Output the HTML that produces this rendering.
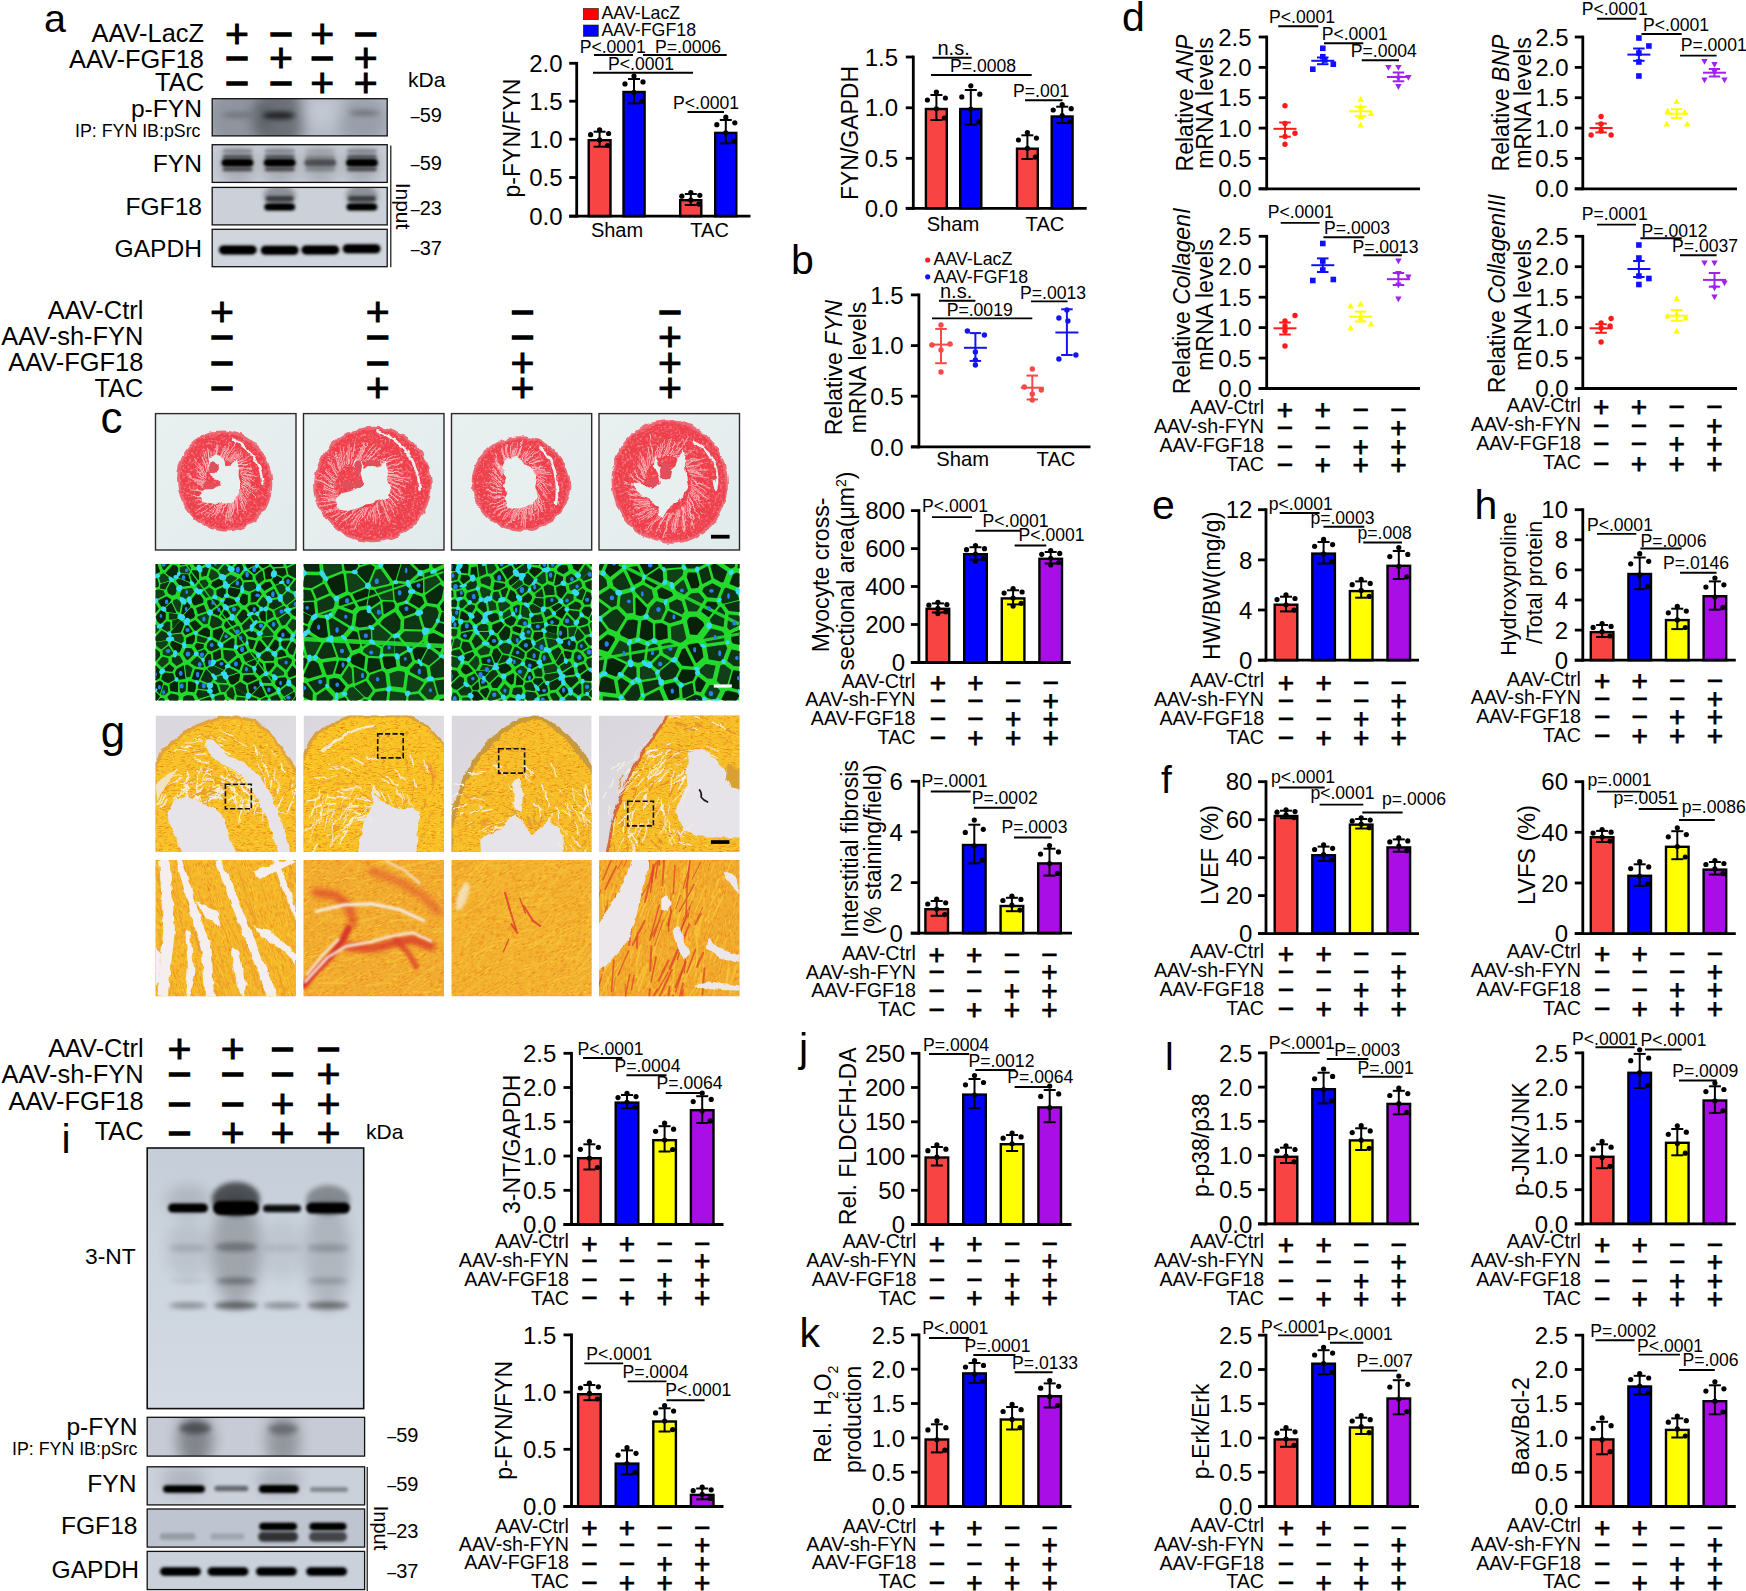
<!DOCTYPE html>
<html lang="en"><head><meta charset="utf-8"><title>Figure</title>
<style>html,body{margin:0;padding:0;background:#fff;overflow:hidden}svg{display:block}</style></head>
<body>
<svg width="1746" height="1591" viewBox="0 0 1746 1591" font-family="'Liberation Sans', Arial, sans-serif" fill="#000">
<defs>
<filter id="b1" x="-50%" y="-200%" width="200%" height="500%"><feGaussianBlur stdDeviation="0.8"/></filter>
<filter id="b2" x="-50%" y="-200%" width="200%" height="500%"><feGaussianBlur stdDeviation="1.6"/></filter>
<filter id="b3" x="-50%" y="-200%" width="200%" height="500%"><feGaussianBlur stdDeviation="2.6"/></filter>
<filter id="b6" x="-50%" y="-200%" width="200%" height="500%"><feGaussianBlur stdDeviation="7"/></filter>
<linearGradient id="gbig" x1="0" y1="0" x2="0" y2="1"><stop offset="0" stop-color="#c5cdd8"/><stop offset="0.4" stop-color="#ccd4de"/><stop offset="1" stop-color="#d3dae3"/></linearGradient>
<filter id="rough" x="-5%" y="-5%" width="110%" height="110%"><feTurbulence type="fractalNoise" baseFrequency="0.11" numOctaves="2" seed="4" result="n"/><feDisplacementMap in="SourceGraphic" in2="n" scale="5" xChannelSelector="R" yChannelSelector="G"/></filter>
<filter id="grainO" x="0" y="0" width="100%" height="100%" color-interpolation-filters="sRGB"><feTurbulence type="fractalNoise" baseFrequency="0.22 0.95" numOctaves="2" seed="2" result="t"/><feColorMatrix in="t" type="matrix" values="0 0 0 0 0.92  0 0 0 0 0.47  0 0 0 0 0.08  0 0 0 2.6 -1.32" result="spk"/><feColorMatrix in="t" type="matrix" values="0 0 0 0 1  0 0 0 0 0.9  0 0 0 0 0.2  0 -3.2 0 0 1.3" result="hl"/><feMerge result="m"><feMergeNode in="SourceGraphic"/><feMergeNode in="hl"/><feMergeNode in="spk"/></feMerge><feComposite in="m" in2="SourceGraphic" operator="in"/></filter>
<filter id="grainH" x="0" y="0" width="100%" height="100%" color-interpolation-filters="sRGB"><feTurbulence type="fractalNoise" baseFrequency="0.5" numOctaves="2" seed="7" result="t"/><feColorMatrix in="t" type="matrix" values="0 0 0 0 1  0 0 0 0 0.75  0 0 0 0 0.78  0 0 0 2.6 -1.36" result="spk"/><feMerge result="m"><feMergeNode in="SourceGraphic"/><feMergeNode in="spk"/></feMerge><feComposite in="m" in2="SourceGraphic" operator="in"/></filter>
<linearGradient id="lavg" x1="0" y1="0" x2="1" y2="1"><stop offset="0" stop-color="#d9d7dd"/><stop offset="1" stop-color="#e2e0e4"/></linearGradient>
</defs>
<rect x="0.0" y="0.0" width="1746.0" height="1591.0" fill="#fff"/>
<linearGradient id="hbg0" x1="0" y1="0" x2="1" y2="1"><stop offset="0" stop-color="#e9f0f0"/><stop offset="1" stop-color="#e2ebec"/></linearGradient>
<rect x="155.5" y="413.6" width="140.5" height="136.4" fill="url(#hbg0)"/>
<clipPath id="hc0"><rect x="155.5" y="413.6" width="140.5" height="136.4"/></clipPath>
<g clip-path="url(#hc0)">
<g filter="url(#rough)">
<ellipse cx="224.7" cy="481.0" rx="47.3" ry="50.7" fill="#ec6a74" transform="rotate(-18 224.7 481.0)"/>
<ellipse cx="224.7" cy="481.0" rx="45.1" ry="48.5" fill="#ee3f4c" filter="url(#grainH)" transform="rotate(-18 224.7 481.0)"/>
<path d="M242.5 480.9l11.7 8.6M242.5 482.8l11.5 10.0M242.3 485.0l5.7 8.8M242.2 485.3l12.6 12.5M241.8 487.4l6.2 10.4M240.8 490.5l6.7 13.0M240.3 491.6l6.0 13.5M239.8 492.7l3.1 11.2M239.1 494.1l7.0 17.7M238.3 495.2l5.3 17.0M237.2 496.6l0.3 10.9M236.1 497.9l2.0 16.3M235.6 498.3l-0.9 10.5M233.6 500.0l-0.7 15.1M232.6 500.7l-0.5 19.6M231.4 501.4l-1.7 20.0M230.6 501.8l-2.6 18.5M229.2 502.3l-3.8 19.8M227.0 503.0l-5.2 9.5M227.0 503.0l-5.3 10.9M224.0 503.3l-7.2 12.2M223.3 503.3l-7.3 10.4M222.1 503.3l-8.1 10.7M220.9 503.2l-9.4 12.3M219.1 502.8l-11.9 14.4M217.6 502.3l-13.0 13.5M215.9 501.5l-14.4 12.6M215.0 501.0l-9.6 4.5M213.4 500.0l-15.7 9.8M212.2 499.0l-13.3 5.4M211.3 498.3l-10.6 2.2M210.1 497.0l-13.8 3.2M209.9 496.7l-9.5 0.0M208.2 494.5l-18.0 2.6M208.3 494.5l-16.2 1.8M207.1 492.6l-10.0 -2.3M206.6 491.4l-15.9 -1.5M205.6 488.7l-8.4 -4.6M205.3 487.7l-8.2 -5.1M204.9 485.9l-10.7 -6.0M204.6 483.9l-16.6 -8.1M204.6 483.1l-16.5 -8.9M204.5 481.9l-7.1 -7.5M204.6 479.6l-5.9 -8.1M204.6 478.9l-9.2 -9.9M205.0 476.4l-5.9 -9.7M205.1 476.0l-12.0 -13.8M205.7 473.9l-11.4 -15.7M206.7 471.2l-5.2 -12.8M207.0 470.7l-5.9 -14.1M208.0 468.9l-5.2 -15.4M208.7 467.8l-4.5 -15.9M210.2 465.9l-2.3 -15.3M210.5 465.6l-3.0 -17.5M211.3 464.8l-0.4 -13.3M213.6 462.9l0.7 -15.7M214.1 462.5l2.5 -10.0M215.1 461.9l1.8 -16.2M215.7 461.6l2.3 -16.5M218.1 460.5l4.4 -9.6M219.5 460.1l5.2 -13.9M221.0 459.8l6.0 -12.1M222.5 459.7l7.5 -15.8M222.6 459.7l6.3 -8.1M225.3 459.7l10.2 -16.8M225.9 459.8l8.8 -11.0M227.9 460.2l9.2 -8.5M228.9 460.5l9.5 -7.8M230.2 461.1l11.6 -9.7M231.4 461.6l10.8 -6.8M233.4 462.9l8.9 -2.4M234.3 463.5l14.4 -7.2M235.1 464.2l10.6 -2.7M236.8 465.9l11.0 -1.3M237.0 466.1l12.7 -2.3M238.6 468.2l9.8 1.1M239.0 468.9l11.9 0.5M240.3 471.2l12.7 2.0M240.9 472.7l9.9 3.6M241.1 473.2l14.6 3.1M241.9 475.9l12.2 5.3M241.9 476.1l8.8 5.4M242.3 478.3l9.0 6.5M242.5 480.5l14.7 9.0" fill="none" stroke="#f8ccd0" stroke-width="0.9" opacity="0.85" stroke-linecap="round"/>
<path d="M 234.2 439.8 Q 260.0 454.4 262.5 483.6" fill="none" stroke="#e8f0f0" stroke-width="2.6" stroke-linecap="round"/>
<polygon points="209.3,457.0 218.7,455.3 223.9,459.5 225.6,466.4 230.8,464.7 235.9,459.5 239.3,464.7 238.5,475.0 241.1,483.6 239.3,493.9 234.2,500.8 225.6,503.4 218.7,502.5 210.1,504.2 201.5,501.6 199.8,493.9 206.7,488.8 215.3,486.2 218.7,480.2 211.9,476.7 208.4,468.1" fill="#e8efef"/>
<ellipse cx="213.6" cy="467.3" rx="4.2" ry="7.0" fill="#e0505c"/>
<ellipse cx="208.4" cy="485.3" rx="5.5" ry="4.0" fill="#e0505c"/>
<ellipse cx="217.9" cy="483.6" rx="2.5" ry="2.5" fill="#e0505c"/>
</g>
</g>
<rect x="155.5" y="413.6" width="140.5" height="136.4" fill="none" stroke="#2a2a2a" stroke-width="1.4"/>
<linearGradient id="hbg1" x1="0" y1="0" x2="1" y2="1"><stop offset="0" stop-color="#e9f0f0"/><stop offset="1" stop-color="#e2ebec"/></linearGradient>
<rect x="303.5" y="413.6" width="140.5" height="136.4" fill="url(#hbg1)"/>
<clipPath id="hc1"><rect x="303.5" y="413.6" width="140.5" height="136.4"/></clipPath>
<g clip-path="url(#hc1)">
<g filter="url(#rough)">
<ellipse cx="372.9" cy="484.5" rx="58.8" ry="57.6" fill="#ec6a74" transform="rotate(-10 372.9 484.5)"/>
<ellipse cx="372.9" cy="484.5" rx="56.6" ry="55.4" fill="#ee3f4c" filter="url(#grainH)" transform="rotate(-10 372.9 484.5)"/>
<path d="M388.1 484.2l12.8 8.5M388.0 487.5l16.1 11.6M387.7 489.3l11.3 11.1M387.6 489.4l10.5 10.9M386.7 492.7l8.5 12.0M386.4 493.3l9.7 13.2M385.6 495.1l8.4 13.8M384.0 497.7l4.0 12.4M384.2 497.4l11.9 19.3M381.7 500.5l8.6 21.3M381.1 501.0l7.6 21.1M378.7 503.1l0.1 13.6M377.6 503.9l2.6 20.7M376.1 504.8l-0.4 17.0M375.3 505.3l-1.8 14.9M373.7 506.1l-3.8 11.4M371.0 507.2l-4.9 13.7M368.5 507.9l-6.4 10.2M366.4 508.3l-7.9 17.7M364.3 508.6l-9.8 19.6M362.4 508.7l-10.4 15.1M362.8 508.7l-10.7 17.2M360.4 508.7l-10.6 11.0M357.1 508.4l-13.3 12.3M355.8 508.2l-16.6 16.3M353.4 507.6l-13.8 8.5M352.4 507.3l-18.2 13.4M350.0 506.4l-18.9 11.0M348.5 505.7l-14.0 4.6M346.4 504.6l-20.9 8.6M345.6 504.0l-21.0 7.6M342.6 501.7l-22.2 4.8M341.4 500.6l-12.5 -0.9M340.5 499.6l-23.4 2.7M340.2 499.2l-15.8 -0.5M338.8 497.3l-19.1 -0.9M337.6 495.5l-18.2 -2.6M336.5 493.1l-11.2 -4.9M336.5 493.0l-13.0 -4.8M335.8 491.2l-11.7 -5.8M335.0 487.4l-21.4 -8.8M335.1 487.8l-16.6 -7.9M334.9 485.4l-13.1 -8.8M334.9 483.6l-16.7 -11.0M335.2 481.3l-11.8 -11.0M335.4 480.4l-10.9 -11.1M335.8 478.9l-12.8 -13.2M337.0 475.8l-8.8 -13.3M337.1 475.6l-6.4 -11.8M338.3 473.4l-9.3 -16.0M340.0 471.1l-5.1 -14.7M341.2 469.6l-5.8 -17.5M341.9 469.0l-3.2 -15.1M343.4 467.6l-4.0 -18.9M344.8 466.5l-2.5 -19.0M346.4 465.4l1.3 -13.8M348.3 464.4l0.9 -19.1M348.9 464.1l2.4 -15.8M351.6 463.0l3.5 -21.1M354.8 462.0l6.5 -14.2M356.6 461.7l8.0 -18.9M356.9 461.6l7.9 -14.8M358.5 461.4l9.5 -18.7M361.9 461.3l12.4 -18.3M364.3 461.4l13.1 -14.7M366.1 461.6l13.6 -12.7M366.4 461.7l13.9 -12.8M368.1 462.0l11.8 -7.1M371.9 463.1l12.1 -4.4M372.1 463.2l12.6 -4.9M375.7 464.9l14.1 -3.8M375.4 464.8l20.7 -9.7M377.3 465.9l21.5 -8.1M379.9 467.9l22.4 -5.5M381.8 469.6l19.7 -2.0M382.8 470.8l12.8 1.6M383.9 472.2l19.0 0.6M384.8 473.6l13.4 3.0M385.7 475.2l24.5 2.1M385.8 475.4l16.1 3.5M387.0 478.1l22.5 5.0M387.3 479.1l13.1 5.9M387.7 480.9l18.7 7.2M388.1 483.8l14.5 8.6" fill="none" stroke="#f8ccd0" stroke-width="0.9" opacity="0.85" stroke-linecap="round"/>
<path d="M 378.5 431.2 Q 418.0 447.5 419.8 490.5" fill="none" stroke="#e8f0f0" stroke-width="2.6" stroke-linecap="round"/>
<polygon points="354.5,459.5 361.3,461.3 364.8,469.9 371.6,464.7 378.5,466.4 385.4,461.3 388.0,469.9 387.1,480.2 390.5,488.8 388.8,497.3 378.5,500.8 366.5,504.2 356.2,508.5 347.6,511.1 339.0,509.4 335.6,499.1 342.4,492.2 356.2,488.8 363.1,481.9 361.3,475.0 356.2,471.6 352.7,466.4" fill="#e8efef"/>
<ellipse cx="357.9" cy="467.3" rx="4.0" ry="7.0" fill="#e0505c"/>
<ellipse cx="373.4" cy="463.0" rx="7.0" ry="3.5" fill="#e0505c"/>
<ellipse cx="347.6" cy="485.3" rx="6.0" ry="4.5" fill="#e0505c"/>
<ellipse cx="358.8" cy="483.6" rx="4.5" ry="4.5" fill="#e0505c"/>
</g>
</g>
<rect x="303.5" y="413.6" width="140.5" height="136.4" fill="none" stroke="#2a2a2a" stroke-width="1.4"/>
<linearGradient id="hbg2" x1="0" y1="0" x2="1" y2="1"><stop offset="0" stop-color="#e9f0f0"/><stop offset="1" stop-color="#e2ebec"/></linearGradient>
<rect x="451.5" y="413.6" width="140.2" height="136.4" fill="url(#hbg2)"/>
<clipPath id="hc2"><rect x="451.5" y="413.6" width="140.2" height="136.4"/></clipPath>
<g clip-path="url(#hc2)">
<g filter="url(#rough)">
<ellipse cx="521.0" cy="483.6" rx="49.4" ry="47.2" fill="#ec6a74" transform="rotate(12 521.0 483.6)"/>
<ellipse cx="521.0" cy="483.6" rx="47.2" ry="45.0" fill="#ee3f4c" filter="url(#grainH)" transform="rotate(12 521.0 483.6)"/>
<path d="M537.0 483.3l9.6 9.1M537.0 485.0l9.3 10.1M536.9 486.2l9.6 11.0M536.4 490.0l7.4 12.4M536.1 491.2l4.9 11.2M535.7 492.7l8.8 16.1M535.1 494.3l6.2 14.9M534.6 495.4l6.4 16.4M533.5 497.7l2.0 12.5M533.6 497.6l5.6 18.3M531.7 500.5l2.3 16.7M531.4 500.9l2.9 19.0M530.7 501.7l0.3 14.1M529.6 502.8l0.6 17.8M528.3 503.9l-1.6 13.6M526.5 505.2l-1.5 22.1M525.9 505.5l-2.4 19.0M524.5 506.2l-3.6 20.5M522.9 506.8l-4.8 12.6M522.2 507.0l-5.0 9.3M520.4 507.3l-6.3 13.0M519.6 507.3l-6.7 12.4M518.0 507.3l-8.7 16.5M516.9 507.2l-10.1 18.4M515.0 506.8l-9.8 12.4M513.7 506.3l-11.7 14.0M511.9 505.4l-11.2 9.5M511.2 505.0l-12.4 10.4M509.4 503.7l-11.1 5.7M508.5 502.9l-15.4 9.3M507.8 502.2l-10.2 2.8M507.1 501.4l-14.1 5.6M505.6 499.4l-16.5 4.7M504.5 497.7l-10.5 -0.7M504.4 497.6l-10.6 -0.7M503.7 496.1l-14.6 -0.1M502.5 493.1l-16.3 -2.4M502.4 492.8l-15.9 -2.8M501.9 491.0l-11.5 -4.9M501.3 488.4l-7.8 -6.4M501.3 488.1l-14.8 -7.1M501.0 485.9l-9.8 -8.0M501.0 483.4l-12.0 -10.3M501.0 483.0l-8.8 -9.4M501.1 480.2l-9.2 -11.4M501.3 479.0l-9.6 -12.5M502.0 475.6l-6.5 -12.9M502.2 474.8l-4.1 -11.2M502.6 473.8l-7.8 -15.7M503.0 472.5l-8.6 -18.2M504.5 469.4l-1.7 -12.0M505.4 468.0l-2.4 -15.0M506.1 467.0l-3.7 -19.3M506.5 466.5l-2.9 -18.5M508.0 464.8l-1.8 -20.3M508.5 464.3l-1.1 -19.8M510.7 462.5l1.3 -18.8M511.2 462.2l2.8 -11.8M512.4 461.5l3.1 -14.5M514.1 460.8l4.1 -18.1M515.1 460.4l4.8 -11.6M516.6 460.1l6.0 -16.6M517.1 460.0l6.7 -19.6M519.3 459.9l6.5 -9.1M521.1 460.0l7.2 -8.4M521.4 460.1l9.4 -15.0M523.2 460.5l9.8 -11.8M524.6 461.0l10.0 -9.7M525.3 461.3l8.7 -6.3M526.1 461.8l12.1 -11.0M528.4 463.3l12.0 -7.1M529.5 464.3l11.0 -4.5M529.9 464.7l11.3 -4.3M531.8 466.8l8.8 -0.1M532.2 467.5l10.5 -0.8M533.4 469.3l11.5 0.0M533.7 469.9l11.9 0.3M534.7 471.8l15.2 0.6M535.1 473.0l15.9 1.5M535.5 474.1l10.4 3.7M536.0 475.7l8.6 4.9M536.7 479.0l13.9 6.9M536.8 479.3l8.7 6.7M537.0 481.6l13.3 8.9" fill="none" stroke="#f8ccd0" stroke-width="0.9" opacity="0.85" stroke-linecap="round"/>
<path d="M 539.6 448.4 Q 561.1 464.7 556.0 504.2" fill="none" stroke="#e8f0f0" stroke-width="2.6" stroke-linecap="round"/>
<polygon points="506.1,457.8 516.4,457.0 521.6,459.5 526.8,466.4 533.6,469.0 537.1,476.7 535.3,487.0 537.9,497.3 531.9,504.2 523.3,505.9 514.7,509.4 507.9,507.7 504.4,499.1 507.9,492.2 502.7,485.3 506.1,476.7 501.0,468.1" fill="#e8efef"/>
</g>
</g>
<rect x="451.5" y="413.6" width="140.2" height="136.4" fill="none" stroke="#2a2a2a" stroke-width="1.4"/>
<linearGradient id="hbg3" x1="0" y1="0" x2="1" y2="1"><stop offset="0" stop-color="#e9f0f0"/><stop offset="1" stop-color="#e2ebec"/></linearGradient>
<rect x="599.0" y="413.6" width="140.5" height="136.4" fill="url(#hbg3)"/>
<clipPath id="hc3"><rect x="599.0" y="413.6" width="140.5" height="136.4"/></clipPath>
<g clip-path="url(#hc3)">
<g filter="url(#rough)">
<ellipse cx="669.7" cy="481.9" rx="58.0" ry="61.9" fill="#ec6a74" transform="rotate(-12 669.7 481.9)"/>
<ellipse cx="669.7" cy="481.9" rx="55.8" ry="59.7" fill="#ee3f4c" filter="url(#grainH)" transform="rotate(-12 669.7 481.9)"/>
<path d="M691.2 485.9l16.5 13.1M691.2 487.4l8.8 11.1M691.0 489.0l8.8 11.9M690.6 491.4l12.0 15.4M690.4 492.6l8.0 13.6M689.4 496.2l4.3 12.8M688.6 498.1l11.5 21.7M687.5 500.3l5.5 17.3M687.1 501.2l6.6 19.8M685.9 503.1l8.1 25.2M684.6 504.8l2.0 17.2M683.0 506.6l1.7 19.8M682.1 507.5l2.1 23.2M681.8 507.7l2.0 23.9M679.0 509.9l-1.7 19.9M677.8 510.7l-2.8 19.3M676.9 511.2l-3.3 20.2M675.5 511.8l-4.3 19.5M672.4 512.9l-6.5 17.8M670.9 513.2l-8.1 24.9M668.3 513.5l-8.1 11.6M666.8 513.5l-10.4 18.0M666.8 513.5l-9.5 14.2M664.6 513.3l-9.3 9.1M662.1 512.8l-14.9 19.2M660.9 512.4l-15.4 17.5M658.4 511.3l-11.4 6.5M656.4 510.2l-15.8 10.4M654.8 509.1l-17.5 10.0M653.7 508.2l-14.3 5.2M652.1 506.7l-20.6 8.9M650.7 505.2l-15.9 3.1M649.7 503.8l-16.5 2.2M649.5 503.6l-11.6 -0.9M648.5 502.0l-13.3 -1.0M647.3 500.1l-16.7 -1.0M645.9 496.9l-17.0 -3.5M645.5 495.6l-18.2 -4.2M644.9 493.9l-15.7 -5.8M644.2 490.6l-14.2 -7.9M644.1 490.1l-20.3 -8.7M643.8 486.5l-12.7 -10.2M643.8 485.4l-14.3 -11.4M643.8 482.6l-9.7 -11.5M643.9 482.2l-9.4 -11.6M644.5 477.9l-7.1 -12.7M644.8 476.7l-7.2 -13.5M645.1 475.4l-6.3 -13.7M646.0 472.9l-5.2 -14.3M646.4 471.9l-4.2 -13.9M647.4 469.7l-6.4 -18.5M648.3 468.2l-1.7 -13.5M650.0 465.7l-3.0 -18.5M651.7 463.7l0.6 -14.0M652.5 462.9l-0.7 -18.7M653.2 462.2l-2.9 -26.6M655.1 460.7l2.4 -14.3M657.1 459.4l3.4 -15.0M659.1 458.3l4.3 -17.3M659.7 458.1l5.0 -12.7M662.7 457.1l6.5 -15.2M664.6 456.7l7.8 -17.3M666.8 456.5l8.6 -14.0M666.9 456.5l8.6 -13.4M670.0 456.7l11.6 -17.1M670.7 456.8l9.4 -9.2M673.2 457.3l15.4 -19.5M674.7 457.8l10.0 -6.0M675.1 458.0l10.7 -6.8M677.1 458.9l10.8 -5.0M678.4 459.7l16.2 -11.1M681.7 462.1l13.0 -3.6M683.2 463.6l16.1 -4.7M684.2 464.7l21.0 -6.9M685.6 466.6l11.5 1.1M685.8 466.8l17.9 -2.4M687.7 470.0l11.9 2.9M687.8 470.2l21.0 -0.3M688.5 471.7l15.3 2.8M689.5 474.1l18.6 4.0M690.5 477.8l11.7 7.0M690.8 479.3l18.3 8.2M691.1 481.7l15.5 9.6M691.2 484.1l12.4 10.5" fill="none" stroke="#f8ccd0" stroke-width="0.9" opacity="0.85" stroke-linecap="round"/>
<path d="M 695.1 442.4 Q 722.6 459.5 715.8 490.5 L 714.0 480.2" fill="none" stroke="#e8f0f0" stroke-width="2.6" stroke-linecap="round"/>
<polygon points="683.1,449.2 685.7,452.7 684.8,464.7 686.5,476.7 688.3,487.0 683.1,497.3 674.5,504.2 667.6,509.4 662.5,518.0 657.3,514.5 659.1,505.9 652.2,501.6 643.6,497.3 635.0,488.8 630.7,481.9 640.2,483.6 652.2,488.8 660.8,483.6 659.1,475.0 653.9,466.4 654.8,456.1 659.1,464.7 667.6,473.3 676.2,466.4 679.7,457.8" fill="#e8efef"/>
<ellipse cx="665.9" cy="471.6" rx="6.0" ry="8.0" fill="#e0505c"/>
<ellipse cx="652.2" cy="481.9" rx="7.0" ry="4.0" fill="#e0505c"/>
</g>
</g>
<rect x="599.0" y="413.6" width="140.5" height="136.4" fill="none" stroke="#2a2a2a" stroke-width="1.4"/>
<rect x="711.0" y="534.8" width="18.6" height="3.8" fill="#000"/>
<clipPath id="gc0"><rect x="155.5" y="564.0" width="140.5" height="136.5"/></clipPath>
<g clip-path="url(#gc0)">
<rect x="155.5" y="564.0" width="140.5" height="136.5" fill="#22d92c"/>
<g fill="#0a280d" stroke="#0a280d" stroke-width="1.1" stroke-linejoin="round">
<polygon points="178.1,551.6 175.8,552.3 171.9,557.8 174.0,561.4 176.7,562.2 181.0,556.3"/>
<polygon points="190.4,557.7 191.1,559.0 200.8,557.3 194.3,551.4"/>
<polygon points="171.9,577.7 173.2,577.8 175.6,575.8 177.7,573.4 177.6,568.2 176.2,566.1 173.3,565.2 166.2,572.9"/>
<polygon points="194.2,584.3 193.8,584.1 192.9,582.0 190.7,575.1 192.8,570.8 198.1,571.1 198.6,578.8"/>
<polygon points="188.8,583.3 189.7,585.1 180.7,586.3 176.6,580.7 178.6,579.1"/>
<polygon points="158.3,608.7 155.0,603.5 153.0,602.5 148.2,609.1 153.1,613.7 153.9,613.9"/>
<polygon points="167.4,611.4 165.2,609.0 171.1,603.3 175.6,612.4"/>
<polygon points="233.7,568.9 233.4,570.8 239.4,573.6 243.0,568.9 241.7,565.0 238.6,563.3"/>
<polygon points="246.8,571.7 245.9,571.3 242.1,576.3 242.1,576.7 243.9,579.8 252.2,579.2 251.8,575.6"/>
<polygon points="217.0,590.4 217.1,595.3 222.2,597.6 225.1,594.5 225.2,588.5 224.2,587.3"/>
<polygon points="205.7,610.9 203.5,605.6 196.7,608.2 198.2,613.4"/>
<polygon points="180.7,621.1 183.9,623.4 180.5,632.0 171.6,633.0 171.3,632.6 172.6,630.5"/>
<polygon points="152.5,644.0 150.7,641.4 150.3,641.3 144.1,647.9 146.0,652.3 147.4,653.5 153.3,646.2"/>
<polygon points="195.2,630.4 189.8,623.2 195.1,620.7 200.9,626.3 195.5,630.6"/>
<polygon points="186.6,624.5 186.9,624.6 192.0,631.4 185.5,634.4 183.7,631.7"/>
<polygon points="282.6,576.2 276.0,573.3 275.2,569.1 284.6,568.6 284.7,568.6 286.0,574.1"/>
<polygon points="261.2,594.2 261.0,593.9 257.9,590.1 251.4,593.2 251.2,601.9 255.8,601.5"/>
<polygon points="308.7,573.0 301.3,578.5 299.9,577.5 300.8,570.8 304.9,569.4"/>
<polygon points="284.6,578.9 283.8,581.7 287.6,585.8 292.5,579.6 287.5,577.1"/>
<polygon points="266.5,594.0 266.4,593.7 273.8,589.4 277.1,596.1 277.0,596.7 270.2,597.6"/>
<polygon points="241.3,622.5 240.2,621.3 237.4,617.1 242.7,610.3 244.8,610.3 247.8,614.7 247.7,616.4"/>
<polygon points="226.5,628.3 226.3,628.2 224.6,625.5 225.6,622.4 231.0,619.5 232.6,619.7 235.4,624.0"/>
<polygon points="195.0,646.0 197.5,649.9 203.0,647.8 203.3,644.8 196.8,643.5"/>
<polygon points="164.1,669.1 169.6,664.8 173.7,668.3 172.2,671.1 164.7,670.4"/>
<polygon points="152.4,681.3 150.7,677.2 152.0,665.8 155.3,665.9 159.8,670.4 160.5,672.1 159.0,678.1 152.5,681.4"/>
<polygon points="163.4,673.0 172.7,673.8 174.4,679.2 168.2,682.7 164.9,681.2 161.9,679.1"/>
<polygon points="309.0,596.8 308.9,596.1 303.3,587.9 297.6,594.4 298.2,597.5 300.5,598.5"/>
<polygon points="263.7,624.2 260.8,623.3 256.6,624.3 254.8,627.1 259.8,630.5 263.8,624.8"/>
<polygon points="256.9,636.2 256.8,633.9 251.9,630.6 246.5,632.8 246.5,632.8 249.0,636.0 255.6,637.4 256.6,636.8"/>
<polygon points="223.8,646.9 223.3,644.6 232.1,638.8 233.9,639.0 233.8,646.2 233.3,647.9 223.9,647.0"/>
<polygon points="214.1,660.1 220.7,657.4 220.1,650.2 220.0,650.1 213.2,653.2"/>
<polygon points="211.3,662.5 210.4,654.9 208.4,654.5 204.4,660.1 206.3,666.3 206.5,666.3 210.5,663.5"/>
<polygon points="159.4,696.5 159.1,696.0 155.1,692.3 150.3,697.7 154.2,703.7"/>
<polygon points="255.2,641.1 252.4,648.5 250.5,648.2 248.6,643.4 248.4,639.7"/>
<polygon points="214.5,663.4 221.9,660.3 225.9,664.3 226.0,665.8 223.8,669.3 213.6,664.4"/>
<polygon points="239.0,669.4 230.9,665.5 230.9,664.2 238.2,658.3 239.2,658.7 241.3,663.6 239.1,669.4"/>
<polygon points="295.6,635.0 295.1,637.6 298.0,640.4 304.0,638.2 305.1,633.6 302.9,630.0 300.4,629.2"/>
<polygon points="285.3,648.5 289.3,641.0 281.8,641.3 282.0,646.6"/>
<polygon points="254.3,666.2 257.5,659.4 257.4,659.1 247.7,662.9"/>
<polygon points="210.9,686.7 213.5,683.6 216.3,685.2 218.5,692.2 212.8,694.2 212.0,693.7 210.9,690.5"/>
<polygon points="209.8,697.3 200.3,700.4 199.9,702.3 200.0,702.5 211.0,707.1 212.2,705.8 210.6,697.8"/>
<polygon points="284.1,651.8 285.8,655.3 278.0,657.0 276.9,653.8 280.7,649.9"/>
<polygon points="303.2,671.7 308.3,667.5 304.0,661.4 295.9,661.6 295.3,663.8 302.7,671.6"/>
<polygon points="299.0,673.3 289.4,676.9 288.3,674.9 288.2,672.5 292.5,666.4"/>
<polygon points="260.4,697.5 253.0,694.6 260.9,686.5 264.9,695.3"/>
<polygon points="294.1,692.6 294.5,695.9 288.5,704.5 283.9,699.9 283.5,698.7"/>
<polygon points="298.1,691.6 300.0,691.0 308.8,696.9 306.9,701.4 304.9,700.9 298.4,695.3 298.0,692.7"/>
</g>
<g fill="#0e3615" stroke="#0e3615" stroke-width="1.1" stroke-linejoin="round">
<polygon points="147.9,564.1 155.7,558.7 155.9,557.8 154.9,554.9 152.8,553.4 144.9,561.2 144.9,561.3"/>
<polygon points="142.0,576.3 144.8,580.4 148.2,581.1 152.1,576.6 146.5,570.5"/>
<polygon points="204.3,560.4 202.2,559.7 193.6,561.2 193.8,563.8 195.1,566.2 199.6,566.4 205.0,563.7 205.1,562.1"/>
<polygon points="153.0,618.3 152.1,618.0 144.7,622.2 146.8,626.3 154.8,622.2"/>
<polygon points="179.2,617.2 179.2,616.9 178.6,615.9 176.6,614.6 169.4,613.6 169.4,618.9 172.3,619.1"/>
<polygon points="169.7,622.3 166.6,622.1 162.1,626.2 162.7,628.5 168.6,631.8 169.8,629.8"/>
<polygon points="179.7,618.9 172.8,620.8 172.9,628.0 180.2,619.6"/>
<polygon points="168.0,634.6 161.7,631.1 154.5,638.2 156.6,641.2 168.2,639.1 168.5,638.5 168.2,635.0"/>
<polygon points="256.4,587.7 249.6,590.9 244.1,589.3 243.9,588.8 244.4,583.0 253.7,582.2 256.4,586.3"/>
<polygon points="210.2,625.0 212.7,627.8 220.8,625.2 221.8,621.8 218.1,618.6 211.9,616.0"/>
<polygon points="263.2,597.3 258.5,603.7 262.1,607.1 265.1,607.0 265.8,606.5 267.2,601.1"/>
<polygon points="197.5,641.1 204.5,642.5 207.2,639.0 198.0,636.2"/>
<polygon points="175.8,656.0 172.3,658.2 172.5,661.6 176.8,665.4 181.9,662.3 182.4,661.6 179.3,656.2"/>
<polygon points="254.6,621.3 258.8,620.3 256.3,615.4 252.0,615.5 251.9,617.1"/>
<polygon points="221.0,640.7 224.9,632.6 225.1,632.7 230.4,636.4 221.9,641.9"/>
<polygon points="203.5,666.7 203.2,666.9 195.8,666.0 191.1,662.7 197.1,656.8 201.7,660.8"/>
<polygon points="187.3,676.7 187.0,676.6 185.6,666.0 186.1,665.4 187.8,665.4 192.1,668.4 189.6,676.5"/>
<polygon points="164.2,685.2 161.6,694.0 161.9,694.5 164.5,694.7 167.7,691.7 167.1,686.5"/>
<polygon points="279.4,618.9 287.0,613.9 289.9,617.5 284.8,624.5 282.3,624.9"/>
<polygon points="268.3,623.5 268.4,624.2 274.3,630.6 278.3,626.0 275.6,620.4 274.4,620.2 268.3,623.4"/>
<polygon points="223.7,650.5 233.4,651.4 235.7,655.1 228.0,661.4 224.4,657.8"/>
<polygon points="212.3,665.8 222.7,670.8 222.1,672.9 214.5,675.3 208.1,668.8"/>
<polygon points="262.6,638.1 272.5,637.1 272.7,637.6 267.6,645.2 262.3,638.7"/>
<polygon points="198.7,683.4 198.6,688.2 207.6,689.3 207.6,685.7 200.2,682.5"/>
<polygon points="242.1,671.4 244.5,665.0 245.1,665.1 252.0,668.6 252.6,672.5 242.6,672.6"/>
<polygon points="232.2,687.9 232.8,688.8 234.3,694.2 233.1,699.0 228.2,696.2 226.9,692.8 230.7,687.9"/>
<polygon points="214.8,697.1 220.2,695.2 223.2,695.0 224.6,698.5 220.2,705.1 216.4,705.0"/>
<polygon points="210.8,709.4 209.0,713.8 200.6,710.2 199.5,704.7"/>
<polygon points="278.7,663.4 286.1,669.3 290.9,662.6 291.4,660.4 290.7,659.2 287.5,657.8 278.9,659.7 278.3,661.5"/>
<polygon points="249.3,697.4 249.5,697.3 250.9,696.9 257.0,699.3 255.2,705.0 250.5,704.4 248.2,701.8 249.1,697.9"/>
<polygon points="281.1,690.8 288.0,685.5 292.7,689.7 292.6,690.9 283.3,696.2 280.7,692.0"/>
<polygon points="277.6,710.2 276.9,706.3 282.1,703.0 285.7,706.7 285.8,707.0 281.3,710.3"/>
<polygon points="289.9,705.9 295.7,697.5 303.4,704.2 293.1,709.1 289.9,706.3"/>
</g>
<g fill="#08220a" stroke="#08220a" stroke-width="1.1" stroke-linejoin="round">
<polygon points="149.5,567.8 156.5,562.9 159.5,571.5 156.2,573.3 154.7,573.7 149.5,568.0"/>
<polygon points="187.7,574.9 180.4,574.7 178.5,576.9 189.8,581.5"/>
<polygon points="164.1,607.1 169.7,601.7 170.4,599.5 166.4,597.0 158.5,601.0 162.1,606.9"/>
<polygon points="241.7,550.5 238.9,556.8 240.3,559.1 243.8,561.1 250.6,556.2 250.8,554.4 245.1,549.4"/>
<polygon points="165.2,613.3 163.0,611.0 161.0,610.8 156.0,616.9 157.8,621.0 160.5,623.5 165.1,619.1"/>
<polygon points="248.0,567.9 247.0,567.5 245.6,563.3 252.1,558.6 253.9,560.2 255.1,564.5"/>
<polygon points="212.6,582.6 211.8,585.0 215.4,587.5 223.1,584.3 221.0,578.9 220.5,578.6"/>
<polygon points="198.9,594.2 202.8,599.3 202.8,602.2 195.0,605.1 193.5,604.1 191.7,600.1 196.8,593.3"/>
<polygon points="181.9,613.2 183.7,603.2 188.1,602.7 189.8,606.5 182.5,614.2"/>
<polygon points="268.3,564.9 268.4,561.4 266.2,560.2 257.9,560.2 259.1,564.5 262.6,567.4 263.5,567.4"/>
<polygon points="249.7,569.7 256.5,566.4 259.9,569.3 254.6,573.7"/>
<polygon points="183.0,617.1 182.9,616.8 191.1,608.2 192.7,609.3 194.5,615.8 193.4,617.4 187.2,620.3 186.8,620.2 183.5,617.8"/>
<polygon points="283.1,566.0 281.2,559.0 279.2,558.2 272.5,560.3 272.0,560.9 271.9,564.5 273.8,566.5"/>
<polygon points="266.1,579.0 264.8,569.8 270.0,567.1 272.1,569.3 272.9,573.7 271.0,578.3"/>
<polygon points="229.5,587.7 228.7,587.8 228.5,594.5 236.4,597.2 240.2,590.4 239.9,589.9"/>
<polygon points="224.3,600.9 224.3,602.8 226.3,605.5 226.6,605.7 235.8,603.1 234.5,600.2 227.2,597.7"/>
<polygon points="212.4,612.0 220.7,605.6 222.7,608.2 218.4,615.1 212.8,612.7"/>
<polygon points="275.6,584.1 280.7,581.8 281.6,578.4 274.7,575.3 272.8,579.9"/>
<polygon points="261.7,587.0 264.3,590.2 271.7,585.9 271.8,585.5 269.6,582.2 265.7,582.8 261.7,585.9"/>
<polygon points="244.9,604.8 243.0,604.8 240.9,602.4 239.7,599.8 242.9,594.0 247.3,595.4 247.1,602.9"/>
<polygon points="225.3,609.7 225.5,609.9 229.5,616.1 224.4,618.8 221.3,616.1"/>
<polygon points="199.2,633.8 208.3,636.6 209.3,636.0 209.5,630.5 207.2,628.0 204.3,628.2 198.7,632.7"/>
<polygon points="186.6,643.3 186.8,638.2 193.7,635.0 194.0,635.2 194.5,636.2 194.0,641.0 192.1,643.7 186.6,643.4"/>
<polygon points="175.3,651.7 170.8,644.6 171.5,641.6 171.7,641.0 182.0,645.4 182.1,645.6 179.2,651.9"/>
<polygon points="254.9,605.0 250.2,605.4 247.7,607.7 251.0,612.6 256.3,612.5 259.2,608.9"/>
<polygon points="213.3,636.5 218.7,640.0 222.9,631.2 221.1,628.3 213.4,630.8"/>
<polygon points="265.2,621.3 261.9,620.3 259.0,614.6 261.8,611.2 265.1,611.2 265.2,621.2"/>
<polygon points="175.4,672.9 177.2,678.3 178.7,679.1 184.9,678.5 183.2,665.9 177.2,669.4"/>
<polygon points="153.4,684.4 155.8,689.6 159.6,693.1 162.5,683.2 159.7,681.2"/>
<polygon points="197.0,680.4 192.4,678.6 195.3,669.6 202.8,670.6 198.6,679.5"/>
<polygon points="175.9,681.3 177.4,682.0 177.5,691.7 170.7,690.4 170.0,684.6"/>
<polygon points="239.8,653.1 237.7,649.9 238.1,648.3 244.8,645.8 246.7,650.5 240.8,653.5"/>
<polygon points="195.3,683.6 191.0,682.0 188.6,682.1 188.3,690.9 193.9,691.8 195.2,688.4"/>
<polygon points="277.9,635.5 277.9,634.3 282.0,629.5 284.4,629.1 290.1,635.0 289.6,637.6 289.2,637.8 281.3,638.0 278.1,636.0"/>
<polygon points="259.8,641.0 258.7,641.6 255.6,649.8 259.3,652.5 265.4,648.3 265.4,647.9"/>
<polygon points="270.1,647.5 270.0,647.9 274.5,651.0 278.2,647.2 278.1,641.9 275.1,640.0"/>
<polygon points="238.9,673.9 227.9,677.3 230.4,682.8 231.5,684.0 233.3,684.0 238.5,680.2 239.5,675.2 239.0,673.9"/>
<polygon points="269.0,670.9 273.8,665.1 273.4,663.4 265.8,663.5 267.4,671.1"/>
<polygon points="263.8,672.1 259.5,675.2 256.7,672.2 256.1,668.6 259.2,661.9 262.1,664.1"/>
<polygon points="244.1,675.5 253.5,675.4 256.4,678.4 256.3,678.7 247.7,682.5 243.2,679.8"/>
<polygon points="295.8,658.5 295.1,657.2 298.3,647.7 305.9,652.8 306.1,654.0 303.8,658.3"/>
<polygon points="258.3,680.9 248.4,685.2 249.9,693.5 251.7,693.1 259.7,684.9 259.7,684.9"/>
<polygon points="276.7,678.6 285.2,677.7 286.5,679.9 286.8,682.6 279.5,688.3 275.6,683.8"/>
<polygon points="264.3,686.2 264.3,686.2 267.7,693.8 268.8,694.2 274.9,691.6 275.3,690.4 271.9,686.5"/>
<polygon points="238.0,715.1 246.6,714.8 248.1,707.8 245.3,704.7 237.8,707.3 236.5,710.2"/>
<polygon points="272.6,712.4 274.0,711.2 273.2,706.9 270.0,703.9 267.0,708.6 272.2,712.4"/>
</g>
<g fill="#114018" stroke="#114018" stroke-width="1.1" stroke-linejoin="round">
<polygon points="183.5,558.2 179.9,563.3 180.9,564.9 187.9,563.3 187.7,560.8 187.1,559.7"/>
<polygon points="168.7,580.2 169.6,579.0 164.0,574.2 163.2,573.9 159.1,576.1 161.1,582.6"/>
<polygon points="188.5,573.0 190.8,568.5 189.1,565.5 180.3,567.6 180.4,572.8"/>
<polygon points="164.4,594.7 163.2,591.0 159.0,590.0 153.7,591.1 153.0,595.7 154.1,597.7 156.3,598.8"/>
<polygon points="145.5,607.7 144.9,607.8 142.2,597.6 150.3,597.6 151.4,599.7"/>
<polygon points="211.7,565.8 210.2,563.8 210.3,561.9 220.5,557.8 223.1,559.7 222.8,562.5 217.5,569.0"/>
<polygon points="222.6,575.5 223.1,575.8 229.1,572.0 229.5,569.8 224.8,564.8 219.6,571.1"/>
<polygon points="211.6,579.9 218.9,576.2 216.3,572.3 211.3,569.6 209.2,576.7"/>
<polygon points="207.9,583.3 207.2,585.6 200.5,589.5 198.6,588.7 197.0,586.1 200.9,581.0 205.5,580.1"/>
<polygon points="193.5,591.4 188.7,597.7 184.5,598.2 180.3,595.5 182.2,589.8 191.5,588.6 191.9,588.8"/>
<polygon points="177.3,610.5 173.3,602.5 174.0,600.5 176.7,599.5 180.9,602.2 179.2,611.8"/>
<polygon points="225.6,578.5 230.6,575.3 236.3,578.0 236.3,578.4 228.9,584.0 228.3,584.1 227.3,583.1"/>
<polygon points="209.3,587.9 202.2,592.1 206.1,597.3 213.0,595.6 212.9,590.4"/>
<polygon points="158.1,627.5 158.7,629.7 151.9,636.4 151.4,636.4 147.0,633.1 147.6,629.0 155.5,625.0"/>
<polygon points="287.1,565.7 294.4,562.1 294.7,560.9 291.8,555.8 285.2,558.9 287.1,565.7"/>
<polygon points="208.4,614.1 208.8,614.9 207.2,623.5 204.1,623.8 197.8,617.8 198.8,616.4 207.5,613.5"/>
<polygon points="181.0,634.2 183.2,637.6 182.9,643.6 171.9,638.8 171.6,635.2"/>
<polygon points="167.0,644.2 161.3,648.8 157.1,645.7 156.2,643.1 167.7,641.1"/>
<polygon points="305.5,566.6 301.3,568.0 298.6,562.3 298.9,561.0 314.8,556.0 313.6,558.9"/>
<polygon points="234.6,615.1 233.0,614.9 229.0,608.5 237.6,606.1 239.7,608.6"/>
<polygon points="172.8,653.3 169.1,655.7 163.4,654.4 162.9,650.7 168.4,646.4"/>
<polygon points="167.8,658.5 167.9,662.1 162.0,666.7 158.0,662.7 162.5,657.3"/>
<polygon points="276.6,586.0 281.6,583.8 286.3,588.8 286.2,589.5 280.8,595.0 276.5,586.6"/>
<polygon points="289.8,588.7 295.8,592.0 301.9,585.0 301.8,583.7 299.8,581.0 298.4,580.0 295.8,580.3 289.8,588.0"/>
<polygon points="287.6,592.0 293.5,595.1 294.2,598.3 286.5,604.3 285.2,603.3 282.1,598.1 282.3,597.4"/>
<polygon points="240.7,631.4 240.7,631.4 236.5,634.6 234.7,634.4 229.3,630.6 238.1,626.3 239.2,627.5"/>
<polygon points="150.6,685.3 150.3,685.4 142.1,693.4 142.1,693.8 148.5,695.8 153.2,690.6 150.8,685.3"/>
<polygon points="289.8,608.0 298.0,605.0 297.7,601.1 295.6,600.2 288.8,605.5"/>
<polygon points="276.8,616.7 274.9,611.0 283.9,606.3 285.2,607.4 286.3,610.3 286.6,611.4 278.2,617.0"/>
<polygon points="152.0,704.8 148.1,698.8 141.6,696.8 141.4,697.1 144.7,707.1 151.5,707.7"/>
<polygon points="262.1,636.1 262.0,633.3 266.6,626.9 272.8,633.8 272.9,635.0"/>
<polygon points="288.1,625.7 292.7,619.4 296.0,620.7 298.0,625.7 293.4,631.3"/>
<polygon points="216.3,677.5 222.7,675.5 224.0,677.6 226.2,682.4 218.5,682.1 215.9,680.7"/>
<polygon points="181.2,708.7 181.1,710.7 177.0,712.6 172.4,711.4 170.8,708.5 171.8,706.1 178.7,704.8"/>
<polygon points="228.5,686.3 224.7,691.4 221.7,691.5 219.7,685.0 227.5,685.3"/>
<polygon points="272.2,673.0 276.1,675.6 283.5,674.8 283.5,672.4 277.0,667.2"/>
<polygon points="237.5,697.3 236.3,701.7 237.8,704.3 244.0,702.1 244.9,698.2"/>
<polygon points="260.6,708.0 259.2,706.7 261.4,699.8 265.9,697.6 267.2,698.2 267.9,701.7 264.6,706.9"/>
</g>
<g fill="#0c3011" stroke="#0c3011" stroke-width="1.1" stroke-linejoin="round">
<polygon points="163.4,569.3 160.4,560.6 160.6,559.8 167.9,560.4 169.8,563.4 164.1,569.5"/>
<polygon points="158.3,583.7 156.7,578.4 155.2,578.9 151.5,583.2 153.5,587.4 158.0,586.4"/>
<polygon points="168.6,582.2 160.9,584.5 160.4,587.9 164.9,588.9"/>
<polygon points="206.2,575.2 202.0,576.1 201.6,569.6 207.0,566.9 208.2,568.5"/>
<polygon points="168.6,592.8 167.5,589.4 170.7,583.6 171.5,582.5 172.6,582.6 176.9,588.3 174.9,594.1 172.3,595.1"/>
<polygon points="227.5,561.7 231.4,565.8 236.0,560.5 234.9,558.7 232.7,558.2 227.8,559.4"/>
<polygon points="264.7,557.7 256.1,557.7 254.1,556.1 254.3,554.4 259.1,549.6"/>
<polygon points="239.6,578.8 230.4,585.8 241.1,588.1 241.6,582.2"/>
<polygon points="211.0,609.3 218.7,603.4 218.8,601.6 214.0,599.4 207.9,600.9 207.9,603.4 210.1,608.8"/>
<polygon points="258.9,583.1 256.5,579.5 256.1,576.0 261.4,571.5 262.2,571.5 263.4,579.6"/>
<polygon points="159.1,652.2 155.1,649.3 148.9,656.9 150.5,660.5 151.9,661.1 155.0,661.3 159.6,655.7"/>
<polygon points="289.1,574.3 295.3,577.4 297.8,577.1 298.7,570.4 295.8,564.5 287.6,568.5"/>
<polygon points="183.6,654.0 186.5,659.1 188.2,659.1 193.6,653.8 193.7,652.6 191.2,648.8 186.1,648.6"/>
<polygon points="270.8,600.9 278.7,599.9 281.7,604.7 273.5,608.9 269.3,606.9"/>
<polygon points="244.0,629.9 250.5,627.2 252.7,623.9 249.5,618.8 242.3,625.6"/>
<polygon points="209.5,650.3 207.2,647.7 207.6,644.3 210.5,640.5 211.6,639.9 217.3,643.5 218.2,644.9 218.8,647.4 211.5,650.7"/>
<polygon points="202.7,657.9 198.0,653.7 198.1,652.3 204.2,649.9 206.5,652.4"/>
<polygon points="267.5,619.4 267.3,610.9 268.0,610.3 271.6,612.0 273.1,616.5"/>
<polygon points="245.5,637.4 245.8,642.0 237.3,645.2 237.5,637.0 242.4,633.3"/>
<polygon points="290.7,611.8 293.4,615.0 296.8,616.3 298.9,614.6 300.7,610.8 298.5,607.9 290.5,610.9"/>
<polygon points="201.3,679.7 205.8,670.3 206.1,670.1 206.4,670.1 212.5,676.4 212.0,679.9 209.3,683.1"/>
<polygon points="185.1,690.8 181.6,692.5 180.3,691.2 180.2,683.1 185.2,682.7 185.4,682.8"/>
<polygon points="178.1,696.5 177.8,700.5 170.9,701.8 168.0,696.9 171.0,694.1 176.8,695.2"/>
<polygon points="157.1,709.4 165.6,707.4 166.7,704.6 163.3,698.8 160.4,698.5 155.3,705.5 154.8,708.3 154.8,708.4"/>
<polygon points="302.2,624.4 304.5,625.2 310.1,622.3 310.3,618.6 302.4,617.9 300.3,619.6"/>
<polygon points="245.7,661.1 246.3,661.2 256.0,657.4 255.9,655.6 252.2,652.9 250.2,652.6 243.5,656.0"/>
<polygon points="237.0,672.2 227.8,667.7 225.7,671.1 225.0,673.1 226.5,675.5"/>
<polygon points="198.2,690.5 196.7,694.3 198.8,698.3 209.0,694.9 207.9,691.7"/>
<polygon points="192.5,696.4 194.2,699.7 193.9,701.3 186.0,705.0 183.5,701.2 183.9,697.3 187.4,695.6"/>
<polygon points="273.3,660.2 273.8,658.4 272.5,654.7 267.3,651.1 260.7,655.6 260.9,657.5 261.0,657.9 264.2,660.4"/>
<polygon points="310.0,644.5 305.8,641.5 299.6,643.7 299.8,644.9 307.0,649.7 310.0,644.7"/>
<polygon points="288.0,649.6 289.7,653.2 292.7,654.5 295.6,645.8 295.3,644.6 292.5,641.9 292.1,642.0"/>
<polygon points="240.1,682.4 245.3,685.5 246.7,693.7 246.5,693.9 235.6,687.3 234.9,686.2"/>
<polygon points="267.6,675.2 271.8,677.8 270.7,682.5 263.0,682.3 261.8,678.8 261.8,678.5 266.0,675.4"/>
<polygon points="235.7,688.7 246.4,695.3 246.1,695.9 237.3,694.8"/>
<polygon points="226.2,709.2 223.0,707.3 227.6,700.5 232.7,703.4 234.3,706.3 233.1,709.0"/>
<polygon points="302.4,675.6 303.5,680.7 302.1,684.3 298.6,686.5 296.4,687.2 291.2,682.6 290.8,679.8 301.9,675.5"/>
<polygon points="277.2,694.7 270.7,697.5 271.4,700.7 274.5,703.6 280.2,700.0 279.8,699.0"/>
</g>
<line x1="185.5" y1="564.0" x2="285.5" y2="700.0" stroke="#24de30" stroke-width="1.4" opacity="0.9"/>
<g fill="#36daf6">
<ellipse cx="179.4" cy="588.2" rx="3.4" ry="2.8" transform="rotate(142 179.4 588.2)"/>
<ellipse cx="232.1" cy="617.3" rx="3.6" ry="2.6" transform="rotate(101 232.1 617.3)"/>
<ellipse cx="154.9" cy="690.8" rx="3.1" ry="1.6" transform="rotate(137 154.9 690.8)"/>
<ellipse cx="242.4" cy="590.1" rx="2.8" ry="1.8" transform="rotate(107 242.4 590.1)"/>
<ellipse cx="247.1" cy="643.0" rx="2.3" ry="1.6" transform="rotate(87 247.1 643.0)"/>
<ellipse cx="236.0" cy="647.1" rx="2.3" ry="2.3" transform="rotate(153 236.0 647.1)"/>
<ellipse cx="237.3" cy="599.3" rx="2.9" ry="2.2" transform="rotate(154 237.3 599.3)"/>
<ellipse cx="225.8" cy="607.3" rx="3.5" ry="2.6" transform="rotate(52 225.8 607.3)"/>
<ellipse cx="183.0" cy="601.0" rx="4.0" ry="2.7" transform="rotate(52 183.0 601.0)"/>
<ellipse cx="189.4" cy="600.3" rx="4.0" ry="2.2" transform="rotate(77 189.4 600.3)"/>
<ellipse cx="225.3" cy="607.0" rx="2.2" ry="2.2" transform="rotate(46 225.3 607.0)"/>
<ellipse cx="208.2" cy="564.1" rx="3.9" ry="2.9" transform="rotate(83 208.2 564.1)"/>
<ellipse cx="199.5" cy="568.6" rx="4.1" ry="2.6" transform="rotate(70 199.5 568.6)"/>
<ellipse cx="226.7" cy="595.6" rx="2.7" ry="2.1" transform="rotate(6 226.7 595.6)"/>
<ellipse cx="214.8" cy="596.8" rx="2.3" ry="2.5" transform="rotate(109 214.8 596.8)"/>
<ellipse cx="222.4" cy="600.2" rx="2.5" ry="1.7" transform="rotate(176 222.4 600.2)"/>
<ellipse cx="242.0" cy="589.4" rx="4.2" ry="1.6" transform="rotate(85 242.0 589.4)"/>
<ellipse cx="227.9" cy="586.5" rx="2.9" ry="1.6" transform="rotate(124 227.9 586.5)"/>
<ellipse cx="267.5" cy="649.0" rx="2.3" ry="2.1" transform="rotate(147 267.5 649.0)"/>
<ellipse cx="258.6" cy="655.1" rx="2.6" ry="2.4" transform="rotate(137 258.6 655.1)"/>
<ellipse cx="155.0" cy="576.3" rx="2.2" ry="1.6" transform="rotate(108 155.0 576.3)"/>
<ellipse cx="269.3" cy="701.4" rx="2.4" ry="2.6" transform="rotate(179 269.3 701.4)"/>
<ellipse cx="288.8" cy="683.0" rx="3.6" ry="2.5" transform="rotate(93 288.8 683.0)"/>
<ellipse cx="278.6" cy="690.8" rx="3.7" ry="1.9" transform="rotate(86 278.6 690.8)"/>
<ellipse cx="254.4" cy="668.3" rx="2.6" ry="2.1" transform="rotate(65 254.4 668.3)"/>
<ellipse cx="176.1" cy="576.9" rx="2.8" ry="1.8" transform="rotate(4 176.1 576.9)"/>
<ellipse cx="178.8" cy="573.7" rx="2.3" ry="1.9" transform="rotate(112 178.8 573.7)"/>
<ellipse cx="192.3" cy="583.5" rx="3.2" ry="1.7" transform="rotate(53 192.3 583.5)"/>
<ellipse cx="245.6" cy="569.1" rx="2.4" ry="1.7" transform="rotate(69 245.6 569.1)"/>
<ellipse cx="280.3" cy="598.1" rx="4.0" ry="2.5" transform="rotate(91 280.3 598.1)"/>
<ellipse cx="295.6" cy="594.1" rx="3.2" ry="2.1" transform="rotate(76 295.6 594.1)"/>
<ellipse cx="250.3" cy="614.0" rx="3.6" ry="1.7" transform="rotate(160 250.3 614.0)"/>
<ellipse cx="157.4" cy="575.7" rx="3.0" ry="2.0" transform="rotate(8 157.4 575.7)"/>
<ellipse cx="171.3" cy="579.4" rx="3.4" ry="1.9" transform="rotate(47 171.3 579.4)"/>
<ellipse cx="248.4" cy="695.6" rx="3.2" ry="2.8" transform="rotate(92 248.4 695.6)"/>
<ellipse cx="297.4" cy="618.5" rx="2.1" ry="2.0" transform="rotate(104 297.4 618.5)"/>
<ellipse cx="293.3" cy="635.1" rx="2.4" ry="1.7" transform="rotate(17 293.3 635.1)"/>
<ellipse cx="287.7" cy="610.0" rx="4.0" ry="1.9" transform="rotate(172 287.7 610.0)"/>
<ellipse cx="288.0" cy="611.4" rx="2.1" ry="2.6" transform="rotate(147 288.0 611.4)"/>
<ellipse cx="274.5" cy="653.9" rx="3.1" ry="2.7" transform="rotate(29 274.5 653.9)"/>
<ellipse cx="280.3" cy="639.6" rx="2.1" ry="2.4" transform="rotate(165 280.3 639.6)"/>
<ellipse cx="291.9" cy="639.2" rx="2.7" ry="1.8" transform="rotate(78 291.9 639.2)"/>
<ellipse cx="280.5" cy="647.9" rx="2.3" ry="1.7" transform="rotate(151 280.5 647.9)"/>
<ellipse cx="227.6" cy="666.2" rx="2.0" ry="2.8" transform="rotate(72 227.6 666.2)"/>
<ellipse cx="220.4" cy="644.7" rx="3.3" ry="2.4" transform="rotate(38 220.4 644.7)"/>
<ellipse cx="223.8" cy="673.6" rx="3.2" ry="2.3" transform="rotate(169 223.8 673.6)"/>
<ellipse cx="257.2" cy="564.8" rx="3.8" ry="1.8" transform="rotate(111 257.2 564.8)"/>
<ellipse cx="231.2" cy="569.1" rx="3.6" ry="3.0" transform="rotate(25 231.2 569.1)"/>
<ellipse cx="224.8" cy="562.4" rx="2.8" ry="1.7" transform="rotate(134 224.8 562.4)"/>
<ellipse cx="196.6" cy="590.6" rx="2.5" ry="2.4" transform="rotate(79 196.6 590.6)"/>
<ellipse cx="199.5" cy="591.8" rx="3.5" ry="2.3" transform="rotate(149 199.5 591.8)"/>
<ellipse cx="225.3" cy="584.9" rx="3.8" ry="2.4" transform="rotate(101 225.3 584.9)"/>
<ellipse cx="222.5" cy="577.3" rx="3.8" ry="2.7" transform="rotate(6 222.5 577.3)"/>
<ellipse cx="281.7" cy="582.4" rx="2.9" ry="1.6" transform="rotate(169 281.7 582.4)"/>
<ellipse cx="287.8" cy="588.9" rx="2.1" ry="2.6" transform="rotate(100 287.8 588.9)"/>
<ellipse cx="257.3" cy="613.8" rx="2.1" ry="2.3" transform="rotate(118 257.3 613.8)"/>
<ellipse cx="254.5" cy="623.4" rx="4.1" ry="1.8" transform="rotate(128 254.5 623.4)"/>
<ellipse cx="251.6" cy="628.0" rx="3.8" ry="1.9" transform="rotate(88 251.6 628.0)"/>
<ellipse cx="259.7" cy="633.4" rx="3.3" ry="2.3" transform="rotate(168 259.7 633.4)"/>
<ellipse cx="176.5" cy="679.5" rx="2.4" ry="1.9" transform="rotate(118 176.5 679.5)"/>
<ellipse cx="274.8" cy="677.3" rx="3.2" ry="2.4" transform="rotate(47 274.8 677.3)"/>
<ellipse cx="261.3" cy="684.2" rx="2.4" ry="1.7" transform="rotate(50 261.3 684.2)"/>
<ellipse cx="266.0" cy="673.7" rx="2.6" ry="2.4" transform="rotate(140 266.0 673.7)"/>
<ellipse cx="196.4" cy="653.9" rx="2.5" ry="2.3" transform="rotate(173 196.4 653.9)"/>
<ellipse cx="209.7" cy="638.7" rx="2.3" ry="1.7" transform="rotate(0 209.7 638.7)"/>
<ellipse cx="225.7" cy="676.8" rx="2.8" ry="2.9" transform="rotate(133 225.7 676.8)"/>
<ellipse cx="212.5" cy="696.0" rx="2.2" ry="2.4" transform="rotate(9 212.5 696.0)"/>
<ellipse cx="214.1" cy="676.6" rx="3.9" ry="1.9" transform="rotate(51 214.1 676.6)"/>
<ellipse cx="210.0" cy="612.6" rx="2.8" ry="3.0" transform="rotate(51 210.0 612.6)"/>
<ellipse cx="221.8" cy="576.9" rx="2.8" ry="3.0" transform="rotate(28 221.8 576.9)"/>
<ellipse cx="273.9" cy="573.9" rx="3.7" ry="3.0" transform="rotate(103 273.9 573.9)"/>
<ellipse cx="258.5" cy="586.1" rx="2.2" ry="1.7" transform="rotate(51 258.5 586.1)"/>
<ellipse cx="258.4" cy="587.9" rx="3.7" ry="2.4" transform="rotate(102 258.4 587.9)"/>
<ellipse cx="261.3" cy="609.0" rx="2.4" ry="2.1" transform="rotate(99 261.3 609.0)"/>
<ellipse cx="265.9" cy="608.9" rx="2.6" ry="2.3" transform="rotate(129 265.9 608.9)"/>
<ellipse cx="269.2" cy="599.5" rx="3.9" ry="2.9" transform="rotate(58 269.2 599.5)"/>
<ellipse cx="155.8" cy="600.5" rx="2.5" ry="2.6" transform="rotate(8 155.8 600.5)"/>
<ellipse cx="203.0" cy="659.8" rx="2.3" ry="1.8" transform="rotate(69 203.0 659.8)"/>
<ellipse cx="212.4" cy="663.0" rx="3.9" ry="2.9" transform="rotate(136 212.4 663.0)"/>
<ellipse cx="209.9" cy="690.9" rx="2.9" ry="2.6" transform="rotate(26 209.9 690.9)"/>
<ellipse cx="209.9" cy="685.6" rx="3.2" ry="2.9" transform="rotate(16 209.9 685.6)"/>
<ellipse cx="196.9" cy="682.3" rx="2.5" ry="1.9" transform="rotate(48 196.9 682.3)"/>
<ellipse cx="186.9" cy="621.6" rx="3.8" ry="3.0" transform="rotate(111 186.9 621.6)"/>
<ellipse cx="195.6" cy="632.9" rx="2.1" ry="2.1" transform="rotate(57 195.6 632.9)"/>
<ellipse cx="162.2" cy="671.4" rx="3.3" ry="2.6" transform="rotate(129 162.2 671.4)"/>
<ellipse cx="170.1" cy="639.1" rx="4.2" ry="2.6" transform="rotate(170 170.1 639.1)"/>
<ellipse cx="184.2" cy="645.2" rx="3.2" ry="2.2" transform="rotate(77 184.2 645.2)"/>
<ellipse cx="175.0" cy="653.8" rx="3.7" ry="2.1" transform="rotate(99 175.0 653.8)"/>
<ellipse cx="169.4" cy="633.9" rx="2.8" ry="2.0" transform="rotate(54 169.4 633.9)"/>
<ellipse cx="160.2" cy="626.0" rx="3.7" ry="2.1" transform="rotate(158 160.2 626.0)"/>
<ellipse cx="163.6" cy="609.0" rx="2.9" ry="2.4" transform="rotate(32 163.6 609.0)"/>
<ellipse cx="181.3" cy="617.1" rx="3.9" ry="3.0" transform="rotate(23 181.3 617.1)"/>
<ellipse cx="181.4" cy="617.5" rx="3.0" ry="1.8" transform="rotate(159 181.4 617.5)"/>
</g><g fill="#2a80ee">
<ellipse cx="163.7" cy="564.1" rx="2.0" ry="2.6"/>
<ellipse cx="186.7" cy="570.3" rx="1.7" ry="2.0"/>
<ellipse cx="183.5" cy="577.7" rx="1.8" ry="2.4"/>
<ellipse cx="215.3" cy="563.2" rx="1.5" ry="2.5"/>
<ellipse cx="166.6" cy="601.9" rx="1.7" ry="2.4"/>
<ellipse cx="244.1" cy="554.2" rx="2.0" ry="2.9"/>
<ellipse cx="186.7" cy="592.0" rx="1.4" ry="2.0"/>
<ellipse cx="160.9" cy="615.9" rx="1.3" ry="1.9"/>
<ellipse cx="237.9" cy="569.7" rx="1.9" ry="2.9"/>
<ellipse cx="186.2" cy="609.1" rx="1.4" ry="2.2"/>
<ellipse cx="254.2" cy="569.3" rx="1.8" ry="3.0"/>
<ellipse cx="247.1" cy="574.4" rx="1.8" ry="2.8"/>
<ellipse cx="237.4" cy="582.9" rx="1.8" ry="2.5"/>
<ellipse cx="213.0" cy="602.8" rx="1.7" ry="2.0"/>
<ellipse cx="291.1" cy="562.3" rx="1.7" ry="2.4"/>
<ellipse cx="218.9" cy="609.6" rx="1.5" ry="2.2"/>
<ellipse cx="203.9" cy="619.0" rx="1.6" ry="2.6"/>
<ellipse cx="187.5" cy="630.0" rx="2.2" ry="1.9"/>
<ellipse cx="257.6" cy="595.2" rx="2.3" ry="1.8"/>
<ellipse cx="234.0" cy="609.3" rx="2.1" ry="2.3"/>
<ellipse cx="168.2" cy="651.0" rx="2.3" ry="1.9"/>
<ellipse cx="302.5" cy="573.9" rx="1.3" ry="2.2"/>
<ellipse cx="288.0" cy="581.6" rx="1.8" ry="2.6"/>
<ellipse cx="272.9" cy="594.2" rx="1.7" ry="3.0"/>
<ellipse cx="254.2" cy="609.6" rx="1.6" ry="2.5"/>
<ellipse cx="188.0" cy="654.0" rx="2.3" ry="2.6"/>
<ellipse cx="155.4" cy="674.4" rx="1.5" ry="2.1"/>
<ellipse cx="297.1" cy="586.2" rx="1.3" ry="2.6"/>
<ellipse cx="237.5" cy="631.4" rx="2.2" ry="2.0"/>
<ellipse cx="226.1" cy="636.3" rx="1.6" ry="1.9"/>
<ellipse cx="211.7" cy="644.9" rx="1.9" ry="2.0"/>
<ellipse cx="202.0" cy="654.7" rx="2.1" ry="2.3"/>
<ellipse cx="199.7" cy="664.5" rx="1.9" ry="2.4"/>
<ellipse cx="180.7" cy="673.3" rx="1.8" ry="2.6"/>
<ellipse cx="159.4" cy="687.3" rx="1.5" ry="2.3"/>
<ellipse cx="295.5" cy="604.0" rx="1.7" ry="1.9"/>
<ellipse cx="281.6" cy="611.5" rx="2.1" ry="1.9"/>
<ellipse cx="261.0" cy="625.8" rx="2.1" ry="2.3"/>
<ellipse cx="240.7" cy="638.1" rx="1.8" ry="2.1"/>
<ellipse cx="209.7" cy="662.6" rx="1.6" ry="2.8"/>
<ellipse cx="197.6" cy="674.6" rx="1.7" ry="2.9"/>
<ellipse cx="163.6" cy="692.2" rx="1.4" ry="2.5"/>
<ellipse cx="146.2" cy="702.0" rx="1.5" ry="3.0"/>
<ellipse cx="273.6" cy="624.3" rx="1.7" ry="2.6"/>
<ellipse cx="242.1" cy="649.3" rx="2.0" ry="2.8"/>
<ellipse cx="221.4" cy="663.8" rx="2.0" ry="1.8"/>
<ellipse cx="181.7" cy="685.9" rx="2.0" ry="2.6"/>
<ellipse cx="305.3" cy="620.0" rx="1.5" ry="1.9"/>
<ellipse cx="282.9" cy="635.0" rx="1.7" ry="2.5"/>
<ellipse cx="235.9" cy="663.9" rx="2.0" ry="2.6"/>
<ellipse cx="203.8" cy="685.5" rx="2.0" ry="2.7"/>
<ellipse cx="246.4" cy="669.2" rx="1.5" ry="2.3"/>
<ellipse cx="306.1" cy="645.0" rx="1.9" ry="2.1"/>
<ellipse cx="286.1" cy="662.5" rx="1.6" ry="1.9"/>
<ellipse cx="255.0" cy="687.9" rx="1.7" ry="1.8"/>
<ellipse cx="280.6" cy="683.0" rx="1.4" ry="2.2"/>
<ellipse cx="268.9" cy="689.8" rx="1.7" ry="2.4"/>
<ellipse cx="242.1" cy="708.9" rx="2.0" ry="1.9"/>
<ellipse cx="297.7" cy="681.8" rx="1.6" ry="2.9"/>
<ellipse cx="288.4" cy="697.5" rx="2.2" ry="1.9"/>
<ellipse cx="272.8" cy="709.5" rx="1.5" ry="2.9"/>
</g>
</g>
<clipPath id="gc1"><rect x="303.5" y="564.0" width="140.5" height="136.5"/></clipPath>
<g clip-path="url(#gc1)">
<rect x="303.5" y="564.0" width="140.5" height="136.5" fill="#22d92c"/>
<g fill="#0a280d" stroke="#0a280d" stroke-width="1.8" stroke-linejoin="round">
<polygon points="307.0,660.2 305.0,658.7 291.0,657.6 291.4,672.0 298.2,677.2 299.6,676.7"/>
<polygon points="310.3,616.8 307.1,623.1 296.3,619.2 295.7,611.9 297.3,610.6"/>
<polygon points="314.3,661.7 317.5,664.0 321.0,673.8 308.5,677.7 304.3,675.9 310.6,662.0"/>
<polygon points="319.0,570.9 318.2,563.9 315.5,560.4 309.3,558.8 303.9,565.1 306.0,570.7"/>
<polygon points="354.8,606.7 349.2,596.5 347.4,596.2 340.1,599.8 339.6,604.6 352.3,609.3"/>
<polygon points="358.4,647.5 359.3,645.3 356.5,632.8 353.6,631.8 352.9,632.0 347.5,638.3 352.8,649.5"/>
<polygon points="356.2,625.4 357.6,614.4 360.3,611.4 366.3,610.4 368.0,611.7 374.8,620.7 374.6,622.0 369.8,625.4 359.5,626.6"/>
<polygon points="369.0,658.8 378.6,659.3 380.5,668.1 369.6,672.0 367.8,669.6"/>
<polygon points="370.2,565.2 360.2,568.0 357.0,571.8 367.4,582.7 373.7,567.3"/>
<polygon points="373.6,591.2 370.8,590.7 368.4,605.6 370.0,606.9 379.0,600.8 379.2,600.3"/>
<polygon points="392.7,602.7 383.5,602.3 383.3,602.7 384.4,613.2 393.6,607.7 394.1,605.1"/>
<polygon points="387.4,547.2 393.0,539.5 403.0,550.8 403.1,554.3 402.1,556.0 401.4,556.3 389.6,554.8 387.3,549.7"/>
<polygon points="400.1,606.5 399.6,609.0 404.1,615.6 414.9,611.7 415.4,609.9 406.5,604.7"/>
<polygon points="410.1,601.7 419.0,607.0 423.4,602.9 421.6,597.7 413.7,594.6"/>
<polygon points="439.8,651.0 439.7,651.0 431.3,644.7 428.6,640.4 429.4,635.0 433.4,633.9 443.5,638.9 443.8,639.5"/>
<polygon points="409.7,556.8 427.6,551.4 428.0,551.7 428.2,567.5 422.9,569.4 420.3,569.5 408.8,558.4"/>
<polygon points="442.9,587.7 440.8,598.3 437.0,603.3 428.2,602.0 426.1,595.9 426.4,595.2 440.0,585.5"/>
<polygon points="449.4,626.5 445.7,634.3 435.6,629.2 439.4,623.4"/>
<polygon points="447.6,587.8 445.6,597.9 459.7,602.2 460.9,601.0 458.7,589.7 448.9,587.6"/>
<polygon points="440.9,606.2 442.7,610.1 454.7,613.6 457.7,605.8 444.3,601.7"/>
</g>
<g fill="#0e3615" stroke="#0e3615" stroke-width="1.8" stroke-linejoin="round">
<polygon points="295.4,714.5 291.8,708.8 285.1,704.6 281.9,707.2 288.5,718.3 292.0,718.9"/>
<polygon points="285.3,641.6 285.2,636.7 292.4,633.3 301.1,635.0 300.5,641.8"/>
<polygon points="299.4,573.1 297.3,567.4 289.9,566.2 283.1,567.6 282.8,568.2 291.7,581.0 296.6,582.1"/>
<polygon points="318.2,705.6 317.3,703.2 317.5,696.1 325.9,690.5 332.5,697.7 329.9,701.8 325.6,705.4 319.5,706.3"/>
<polygon points="318.0,602.1 319.3,613.5 326.8,614.3 329.6,612.6 333.3,605.9 333.9,600.4 330.1,596.7 318.1,601.8"/>
<polygon points="346.9,657.3 339.4,656.6 339.2,656.5 334.3,642.5 343.3,641.5 349.2,653.8"/>
<polygon points="320.0,556.0 329.1,542.9 329.9,542.4 330.1,542.5 336.8,554.4 323.0,559.9"/>
<polygon points="364.4,672.2 366.1,674.6 364.9,677.9 355.4,682.3 354.5,667.8"/>
<polygon points="365.7,682.0 356.0,686.5 355.7,686.7 365.1,695.8 367.6,696.3 371.7,690.6"/>
<polygon points="369.4,679.1 375.6,688.0 386.0,686.6 384.4,673.4 382.0,671.6 370.7,675.6"/>
<polygon points="376.1,692.9 371.8,698.8 372.1,699.8 380.8,708.6 384.7,707.3 386.5,691.5 386.5,691.5"/>
<polygon points="397.4,654.2 406.6,648.8 397.1,638.0 396.1,638.2 395.9,653.2"/>
<polygon points="405.1,619.7 417.3,615.4 421.3,628.5 404.7,628.2"/>
<polygon points="428.9,704.0 432.6,704.3 439.9,715.4 428.4,717.5 427.1,707.2"/>
<polygon points="427.0,607.0 421.9,611.8 421.4,613.9 425.5,627.4 426.6,628.2 431.4,626.9 435.8,620.0 437.8,612.7 435.9,608.3"/>
<polygon points="422.5,661.4 428.7,664.5 438.5,656.4 429.0,649.2"/>
<polygon points="447.1,662.7 441.1,658.8 441.0,658.8 430.8,667.1 432.3,676.3 434.7,677.2 446.2,675.9"/>
<polygon points="450.7,682.9 449.9,692.6 439.3,693.8 435.7,681.3 447.6,679.9"/>
<polygon points="446.0,582.1 443.4,580.1 437.6,572.4 452.4,565.1 457.3,565.3 447.2,581.9"/>
</g>
<g fill="#08220a" stroke="#08220a" stroke-width="1.8" stroke-linejoin="round">
<polygon points="313.0,707.8 312.0,705.2 302.0,700.8 295.9,707.3 299.9,713.9 301.8,713.6"/>
<polygon points="305.1,555.8 302.9,549.5 295.4,550.5 292.3,561.0 299.7,562.2"/>
<polygon points="299.8,603.5 298.1,607.6 298.0,608.1 312.3,614.9 314.4,614.1 313.1,602.8"/>
<polygon points="315.4,619.3 311.8,626.4 310.5,630.5 322.3,638.2 327.1,635.8 325.0,619.4 317.5,618.5"/>
<polygon points="344.6,686.5 341.8,690.9 336.5,692.5 330.3,685.6 330.1,679.9 334.1,679.0 338.5,679.7"/>
<polygon points="350.0,714.4 349.9,714.4 337.1,703.6 339.6,699.7 344.8,698.2 349.6,705.6"/>
<polygon points="349.4,717.8 334.7,705.3 330.2,709.1 339.1,720.1 348.9,718.4"/>
<polygon points="346.6,663.4 340.3,673.3 336.1,672.7 339.6,661.5 346.2,662.1"/>
<polygon points="328.1,582.3 332.7,591.3 336.4,594.9 344.8,590.9 342.7,574.8 342.2,574.4 328.5,579.9"/>
<polygon points="359.4,653.9 353.2,656.2 350.9,659.7 351.3,661.1 353.1,663.5 363.2,668.0 364.4,657.2"/>
<polygon points="355.9,553.9 354.2,553.1 343.9,558.7 345.6,569.5 346.1,569.9 354.0,570.1 357.1,566.4"/>
<polygon points="359.7,605.7 353.5,594.5 366.6,589.0 368.0,590.3 365.6,604.8"/>
<polygon points="387.3,668.5 395.6,666.0 394.5,658.1 393.2,657.2 383.8,657.5 383.3,658.5 385.0,666.8"/>
<polygon points="382.3,551.7 384.4,556.3 379.6,562.7 376.0,563.6 372.9,561.8 368.9,553.5 370.9,551.6"/>
<polygon points="383.4,565.8 393.4,580.0 394.8,579.4 400.8,560.0 388.7,558.5"/>
<polygon points="413.1,650.7 423.2,643.1 426.2,647.8 419.9,659.8 415.6,659.1"/>
<polygon points="411.7,584.2 419.6,577.2 422.0,577.2 422.2,591.8 421.9,592.5 414.0,589.4"/>
<polygon points="441.0,699.8 449.6,698.8 452.2,703.0 451.9,708.1 447.7,714.8 447.2,715.1 445.2,714.4 438.0,703.5"/>
<polygon points="459.9,664.5 452.3,663.0 450.8,663.3 449.8,677.0 452.9,680.0 460.1,678.8 462.1,676.7"/>
<polygon points="458.7,624.3 464.5,628.0 464.0,637.4 462.3,639.1 461.8,639.2 451.3,636.8 451.0,636.2 454.8,628.1"/>
<polygon points="447.0,544.3 454.5,542.0 459.6,548.9 459.4,558.3 459.3,558.3 454.3,558.1 442.7,547.7"/>
</g>
<g fill="#114018" stroke="#114018" stroke-width="1.8" stroke-linejoin="round">
<polygon points="313.9,654.8 320.2,642.9 308.6,635.3 305.9,637.0 305.3,644.2 307.7,653.7 309.7,655.2"/>
<polygon points="349.2,667.1 342.9,677.0 348.9,683.6 351.5,682.5 351.7,682.3 350.8,669.2"/>
<polygon points="352.7,687.6 362.6,697.2 352.2,702.7 346.5,694.0 349.6,688.9"/>
<polygon points="327.3,575.7 341.4,570.1 339.8,559.7 338.0,558.5 323.9,564.2 324.8,572.2"/>
<polygon points="370.0,704.0 378.1,712.3 377.3,713.5 366.9,718.1 363.1,716.9"/>
<polygon points="347.1,574.2 349.2,591.2 351.3,591.6 365.4,585.7 365.3,585.3 355.0,574.4"/>
<polygon points="363.8,651.5 364.7,649.2 372.1,644.5 379.5,649.0 378.9,654.3 378.4,655.4 368.8,654.8"/>
<polygon points="377.8,618.3 380.8,615.3 379.7,605.0 371.8,610.3"/>
<polygon points="378.1,625.6 389.9,635.6 381.6,645.4 373.5,640.5 373.0,629.2"/>
<polygon points="393.5,652.6 383.7,652.9 384.2,647.5 391.8,638.6 393.7,638.7"/>
<polygon points="390.3,674.0 398.2,671.6 403.6,672.7 404.0,674.3 402.4,686.7 391.7,685.4 391.7,685.4"/>
<polygon points="405.5,695.5 403.5,693.6 391.1,692.2 389.3,708.2 397.8,711.7 404.1,710.6"/>
<polygon points="376.4,570.7 370.9,584.2 371.0,584.6 372.3,585.7 374.9,586.2 388.4,583.0 388.9,582.3 380.1,569.8"/>
<polygon points="391.2,586.3 376.5,589.8 382.2,598.9 392.4,599.4"/>
<polygon points="417.3,690.4 422.7,682.7 408.9,675.7 407.1,689.7 409.1,691.5"/>
<polygon points="424.6,701.6 417.9,694.7 409.6,695.9 408.1,710.8 408.5,711.0 422.5,705.2"/>
<polygon points="401.0,636.2 405.0,632.1 421.5,632.4 422.5,633.2 421.6,639.3 411.3,647.1 410.0,646.5"/>
<polygon points="428.1,698.2 432.3,698.5 435.8,694.3 432.4,682.6 430.0,681.7 427.0,683.7 421.6,691.5"/>
<polygon points="425.3,574.1 425.5,591.6 439.4,581.7 432.9,573.0 431.1,572.1"/>
<polygon points="451.3,658.3 460.0,644.4 448.6,641.8 444.1,654.7 450.0,658.6"/>
<polygon points="454.3,684.8 453.6,692.9 456.3,697.2 466.9,692.5 460.3,683.8"/>
<polygon points="433.1,551.8 433.3,566.7 434.8,567.5 448.9,560.5 437.9,550.6"/>
</g>
<g fill="#0c3011" stroke="#0c3011" stroke-width="1.8" stroke-linejoin="round">
<polygon points="294.1,688.5 286.3,694.3 285.2,699.9 292.7,704.6 298.8,698.1"/>
<polygon points="284.5,644.7 301.1,644.9 303.6,654.7 289.6,653.6 283.8,649.6"/>
<polygon points="301.1,682.3 299.8,682.8 297.7,686.6 302.1,695.7 311.7,699.9 311.9,692.6 305.6,684.3"/>
<polygon points="296.7,599.4 295.1,603.3 283.9,591.9 292.4,587.4 297.5,588.6 298.3,589.6"/>
<polygon points="305.9,630.6 303.5,632.1 295.5,630.5 296.6,623.4 307.0,627.1"/>
<polygon points="324.3,677.8 325.4,678.6 325.5,685.4 316.1,691.7 309.2,682.5"/>
<polygon points="303.5,586.3 302.8,585.2 305.7,575.8 319.5,576.1 321.9,579.4 321.5,581.7 311.2,587.1"/>
<polygon points="300.5,600.3 313.4,599.6 313.5,599.3 310.0,591.2 302.1,590.3"/>
<polygon points="318.1,655.5 324.2,643.8 328.9,641.4 330.0,641.8 335.1,656.2 321.7,658.2"/>
<polygon points="323.5,663.5 335.5,661.7 335.7,661.8 332.0,673.3 328.0,674.2 327.1,673.5"/>
<polygon points="314.1,590.0 323.8,584.9 327.9,593.0 317.2,597.5"/>
<polygon points="347.3,628.3 332.2,618.9 329.5,620.6 331.5,635.8 332.6,636.2 341.5,635.2"/>
<polygon points="367.3,700.7 364.6,700.1 354.3,705.7 354.7,716.0 360.1,715.8 367.6,701.7"/>
<polygon points="350.7,624.6 352.0,614.5 338.6,609.6 335.3,615.7 349.9,624.8"/>
<polygon points="359.8,631.3 369.8,630.1 370.3,640.5 362.9,645.2"/>
<polygon points="368.4,561.9 360.4,564.2 359.4,554.0 364.8,554.3"/>
<polygon points="394.3,632.9 392.5,632.9 381.5,623.6 381.6,622.4 384.9,619.0 394.8,613.1 399.7,620.3 399.3,628.7 395.3,632.8"/>
<polygon points="400.2,657.4 401.2,664.9 406.6,666.0 411.3,660.8 409.0,653.3 407.9,652.8"/>
<polygon points="394.5,585.5 395.7,599.2 397.5,602.1 405.0,600.0 409.3,591.5 406.5,585.2 396.5,584.2 395.0,584.8"/>
<polygon points="415.6,664.4 419.7,665.0 425.5,667.9 426.8,676.2 424.0,678.1 411.0,671.5 410.6,669.8"/>
<polygon points="404.4,560.2 417.2,572.6 407.8,580.9 397.7,579.9 403.7,560.4"/>
<polygon points="455.7,616.8 442.4,613.0 440.5,620.3 452.2,623.9 456.6,619.6"/>
</g>
<line x1="303.5" y1="639.0" x2="443.5" y2="646.0" stroke="#24de30" stroke-width="4.5" opacity="0.9"/>
<line x1="313.5" y1="616.0" x2="443.5" y2="572.0" stroke="#24de30" stroke-width="2" opacity="0.9"/>
<g fill="#36daf6">
<ellipse cx="424.4" cy="630.4" rx="3.2" ry="2.0" transform="rotate(113 424.4 630.4)"/>
<ellipse cx="419.1" cy="612.8" rx="4.1" ry="2.9" transform="rotate(163 419.1 612.8)"/>
<ellipse cx="327.0" cy="617.0" rx="2.1" ry="2.9" transform="rotate(159 327.0 617.0)"/>
<ellipse cx="330.7" cy="614.7" rx="2.3" ry="1.8" transform="rotate(31 330.7 614.7)"/>
<ellipse cx="425.8" cy="631.4" rx="4.1" ry="2.8" transform="rotate(135 425.8 631.4)"/>
<ellipse cx="388.7" cy="689.1" rx="2.8" ry="1.8" transform="rotate(136 388.7 689.1)"/>
<ellipse cx="428.7" cy="646.2" rx="2.9" ry="2.1" transform="rotate(99 428.7 646.2)"/>
<ellipse cx="420.1" cy="662.6" rx="4.2" ry="1.8" transform="rotate(63 420.1 662.6)"/>
<ellipse cx="441.7" cy="655.9" rx="3.2" ry="1.7" transform="rotate(178 441.7 655.9)"/>
<ellipse cx="329.8" cy="638.6" rx="4.1" ry="1.9" transform="rotate(144 329.8 638.6)"/>
<ellipse cx="304.5" cy="633.9" rx="3.1" ry="2.8" transform="rotate(148 304.5 633.9)"/>
<ellipse cx="308.1" cy="631.6" rx="2.7" ry="2.0" transform="rotate(13 308.1 631.6)"/>
<ellipse cx="372.0" cy="641.9" rx="3.6" ry="2.1" transform="rotate(30 372.0 641.9)"/>
<ellipse cx="381.5" cy="655.5" rx="2.8" ry="1.6" transform="rotate(137 381.5 655.5)"/>
<ellipse cx="437.7" cy="620.8" rx="2.3" ry="2.0" transform="rotate(90 437.7 620.8)"/>
<ellipse cx="430.2" cy="678.8" rx="3.7" ry="2.6" transform="rotate(178 430.2 678.8)"/>
<ellipse cx="410.6" cy="650.2" rx="2.2" ry="2.1" transform="rotate(136 410.6 650.2)"/>
<ellipse cx="407.7" cy="693.5" rx="3.0" ry="2.5" transform="rotate(126 407.7 693.5)"/>
<ellipse cx="344.5" cy="693.9" rx="2.1" ry="2.9" transform="rotate(94 344.5 693.9)"/>
<ellipse cx="336.5" cy="696.4" rx="4.1" ry="1.7" transform="rotate(97 336.5 696.4)"/>
<ellipse cx="327.1" cy="686.0" rx="2.3" ry="1.7" transform="rotate(57 327.1 686.0)"/>
<ellipse cx="367.9" cy="585.7" rx="3.2" ry="2.8" transform="rotate(113 367.9 585.7)"/>
<ellipse cx="336.4" cy="598.6" rx="2.7" ry="2.9" transform="rotate(19 336.4 598.6)"/>
<ellipse cx="331.3" cy="639.1" rx="3.7" ry="2.2" transform="rotate(93 331.3 639.1)"/>
<ellipse cx="368.9" cy="609.3" rx="4.0" ry="2.4" transform="rotate(89 368.9 609.3)"/>
<ellipse cx="371.3" cy="627.6" rx="3.4" ry="1.8" transform="rotate(33 371.3 627.6)"/>
<ellipse cx="354.8" cy="572.0" rx="3.0" ry="2.2" transform="rotate(14 354.8 572.0)"/>
<ellipse cx="408.9" cy="649.4" rx="3.2" ry="1.8" transform="rotate(71 408.9 649.4)"/>
<ellipse cx="396.6" cy="635.6" rx="3.8" ry="2.2" transform="rotate(158 396.6 635.6)"/>
<ellipse cx="395.3" cy="635.8" rx="2.6" ry="1.6" transform="rotate(126 395.3 635.8)"/>
<ellipse cx="397.1" cy="656.4" rx="3.4" ry="2.5" transform="rotate(73 397.1 656.4)"/>
<ellipse cx="309.5" cy="658.2" rx="3.8" ry="2.3" transform="rotate(93 309.5 658.2)"/>
<ellipse cx="315.2" cy="657.6" rx="2.8" ry="2.5" transform="rotate(136 315.2 657.6)"/>
<ellipse cx="433.4" cy="571.5" rx="3.5" ry="2.1" transform="rotate(153 433.4 571.5)"/>
<ellipse cx="420.1" cy="573.0" rx="2.6" ry="2.8" transform="rotate(38 420.1 573.0)"/>
<ellipse cx="411.7" cy="591.5" rx="3.7" ry="2.5" transform="rotate(178 411.7 591.5)"/>
<ellipse cx="408.2" cy="583.6" rx="3.9" ry="2.3" transform="rotate(79 408.2 583.6)"/>
<ellipse cx="406.3" cy="602.2" rx="2.1" ry="1.7" transform="rotate(37 406.3 602.2)"/>
<ellipse cx="395.5" cy="582.2" rx="2.8" ry="2.0" transform="rotate(179 395.5 582.2)"/>
<ellipse cx="343.8" cy="637.6" rx="3.5" ry="1.7" transform="rotate(42 343.8 637.6)"/>
<ellipse cx="352.0" cy="628.0" rx="2.1" ry="1.7" transform="rotate(178 352.0 628.0)"/>
<ellipse cx="388.7" cy="689.0" rx="2.4" ry="2.9" transform="rotate(38 388.7 689.0)"/>
<ellipse cx="348.7" cy="659.6" rx="2.3" ry="2.5" transform="rotate(32 348.7 659.6)"/>
<ellipse cx="303.1" cy="573.5" rx="3.9" ry="2.9" transform="rotate(159 303.1 573.5)"/>
<ellipse cx="322.4" cy="573.8" rx="3.9" ry="2.4" transform="rotate(58 322.4 573.8)"/>
<ellipse cx="325.7" cy="578.4" rx="3.0" ry="2.1" transform="rotate(38 325.7 578.4)"/>
<ellipse cx="314.4" cy="617.0" rx="3.9" ry="2.6" transform="rotate(140 314.4 617.0)"/>
<ellipse cx="381.0" cy="565.0" rx="3.1" ry="2.2" transform="rotate(120 381.0 565.0)"/>
</g><g fill="#2a80ee">
<ellipse cx="292.0" cy="698.5" rx="2.0" ry="1.8"/>
<ellipse cx="291.7" cy="650.3" rx="1.9" ry="2.5"/>
<ellipse cx="304.1" cy="687.9" rx="2.2" ry="2.0"/>
<ellipse cx="293.7" cy="592.3" rx="2.2" ry="2.3"/>
<ellipse cx="301.4" cy="629.0" rx="2.1" ry="1.9"/>
<ellipse cx="320.2" cy="681.7" rx="2.1" ry="2.3"/>
<ellipse cx="307.2" cy="607.8" rx="1.8" ry="1.9"/>
<ellipse cx="318.6" cy="627.2" rx="1.6" ry="2.7"/>
<ellipse cx="337.2" cy="684.7" rx="1.9" ry="2.2"/>
<ellipse cx="339.2" cy="712.9" rx="1.8" ry="2.5"/>
<ellipse cx="337.1" cy="630.2" rx="1.7" ry="2.9"/>
<ellipse cx="342.0" cy="651.0" rx="2.1" ry="2.3"/>
<ellipse cx="343.0" cy="665.1" rx="1.5" ry="2.8"/>
<ellipse cx="347.1" cy="600.7" rx="2.1" ry="2.6"/>
<ellipse cx="345.8" cy="616.8" rx="1.6" ry="2.1"/>
<ellipse cx="362.5" cy="675.4" rx="1.5" ry="2.7"/>
<ellipse cx="365.8" cy="635.8" rx="2.1" ry="2.2"/>
<ellipse cx="371.2" cy="652.5" rx="2.1" ry="2.0"/>
<ellipse cx="377.6" cy="679.3" rx="1.7" ry="2.3"/>
<ellipse cx="378.8" cy="612.2" rx="2.0" ry="2.6"/>
<ellipse cx="389.1" cy="647.2" rx="1.5" ry="2.2"/>
<ellipse cx="377.9" cy="557.7" rx="2.2" ry="2.6"/>
<ellipse cx="376.8" cy="581.2" rx="2.0" ry="2.8"/>
<ellipse cx="405.3" cy="658.8" rx="1.5" ry="1.9"/>
<ellipse cx="414.0" cy="703.8" rx="2.1" ry="2.1"/>
<ellipse cx="394.4" cy="550.0" rx="1.5" ry="1.9"/>
<ellipse cx="399.6" cy="592.8" rx="1.9" ry="2.7"/>
<ellipse cx="406.5" cy="608.7" rx="2.0" ry="2.2"/>
<ellipse cx="419.3" cy="671.6" rx="1.6" ry="3.0"/>
<ellipse cx="430.4" cy="690.3" rx="1.5" ry="2.0"/>
<ellipse cx="406.2" cy="570.4" rx="1.3" ry="2.7"/>
<ellipse cx="418.5" cy="585.5" rx="2.0" ry="2.3"/>
<ellipse cx="450.5" cy="619.9" rx="2.3" ry="2.1"/>
<ellipse cx="455.8" cy="670.7" rx="1.9" ry="2.8"/>
<ellipse cx="438.2" cy="559.7" rx="1.7" ry="1.9"/>
<ellipse cx="453.7" cy="595.7" rx="1.8" ry="1.9"/>
<ellipse cx="449.1" cy="608.5" rx="2.3" ry="2.3"/>
<ellipse cx="455.3" cy="550.7" rx="1.8" ry="2.8"/>
</g>
</g>
<clipPath id="gc2"><rect x="451.5" y="564.0" width="140.2" height="136.5"/></clipPath>
<g clip-path="url(#gc2)">
<rect x="451.5" y="564.0" width="140.2" height="136.5" fill="#22d92c"/>
<g fill="#0a280d" stroke="#0a280d" stroke-width="1.1" stroke-linejoin="round">
<polygon points="461.7,575.3 467.5,575.8 469.9,578.2 463.6,583.3 460.7,579.9"/>
<polygon points="513.1,563.3 514.1,560.5 518.7,558.9 524.1,562.0 515.8,567.9"/>
<polygon points="514.4,572.4 513.8,570.8 510.8,565.8 502.8,570.1 507.8,578.4"/>
<polygon points="504.7,581.2 504.7,579.5 500.0,571.8 499.0,571.5 493.8,575.7 495.4,579.6"/>
<polygon points="546.5,567.8 546.3,558.2 545.9,557.7 540.2,556.9 541.4,566.4 544.3,568.2 545.7,568.3"/>
<polygon points="537.2,556.2 535.9,555.5 535.0,555.8 530.0,561.0 531.0,563.7 538.3,564.8"/>
<polygon points="518.3,579.0 518.4,577.6 514.7,576.1 509.3,581.0 509.2,582.5 509.5,583.7 510.7,584.8 511.0,584.9"/>
<polygon points="504.8,585.7 499.0,588.9 494.6,589.5 493.9,588.2 495.0,582.6 504.5,584.3"/>
<polygon points="557.4,569.4 560.7,565.6 566.7,565.6 568.0,570.5 563.3,573.6 558.8,571.3"/>
<polygon points="514.0,592.3 516.8,597.0 516.9,599.8 512.5,601.6 507.8,598.1 510.7,590.3 511.0,590.4"/>
<polygon points="473.3,616.4 476.6,611.3 482.3,616.3 482.1,619.8 475.8,623.7 472.6,620.3"/>
<polygon points="461.2,631.1 472.8,628.6 472.8,626.8 469.1,623.0 462.4,623.1 461.2,627.7"/>
<polygon points="556.9,574.4 562.6,577.3 562.2,582.6 555.6,585.0 554.8,584.4"/>
<polygon points="523.3,602.0 526.8,602.7 529.8,601.2 531.6,597.9 531.1,595.9 528.5,593.4 522.0,598.3 522.2,601.1"/>
<polygon points="498.6,619.0 497.8,615.0 495.9,613.4 490.4,614.5 488.3,616.0 488.0,619.3 491.9,621.7"/>
<polygon points="461.8,633.7 472.0,631.5 472.2,632.6 468.3,639.1 463.6,638.6 460.8,636.5"/>
<polygon points="446.7,637.9 452.4,640.3 449.6,649.9 447.3,652.8 446.7,653.0 445.2,652.5 443.3,649.8"/>
<polygon points="562.8,585.3 565.1,587.0 566.0,591.2 561.0,597.9 557.4,594.4 556.7,587.5"/>
<polygon points="504.4,620.6 512.6,616.0 515.6,619.4 513.4,624.0 510.6,625.6 506.9,623.6"/>
<polygon points="561.7,605.9 559.5,603.2 551.8,607.5 554.9,611.1"/>
<polygon points="499.1,634.4 502.0,640.2 508.2,639.3 509.8,631.8 509.4,628.6 505.6,626.6"/>
<polygon points="492.0,635.1 487.7,641.8 487.9,642.6 493.3,645.7 495.6,645.0 498.3,642.1 495.7,636.8"/>
<polygon points="473.7,654.8 472.8,652.6 472.3,652.4 465.6,654.8 464.0,657.3 464.6,660.0 468.1,660.8"/>
<polygon points="553.6,617.5 547.7,620.2 547.7,621.8 548.5,623.5 557.1,624.4 558.5,623.2 558.9,620.6"/>
<polygon points="501.0,654.4 496.7,648.7 494.1,649.5 492.4,654.8 495.7,663.3 496.7,662.6"/>
<polygon points="490.4,656.7 481.8,658.5 482.5,662.9 493.2,664.8 493.3,664.3"/>
<polygon points="584.6,607.4 589.4,607.2 592.0,609.8 588.5,616.7 583.0,613.7 582.2,610.9"/>
<polygon points="545.7,630.3 547.3,625.8 556.6,626.8 556.0,633.4 545.7,630.4"/>
<polygon points="542.3,632.3 534.8,632.7 533.6,637.6 535.3,640.4 542.6,636.5 542.7,636.4 542.3,632.3"/>
<polygon points="525.9,650.9 531.9,646.5 531.9,643.3 529.9,640.0 524.4,639.6 518.9,645.6"/>
<polygon points="559.7,627.5 561.3,626.1 566.3,628.4 566.7,636.5 560.2,638.9 559.7,638.0 559.1,634.5"/>
<polygon points="477.3,689.8 478.7,688.2 477.9,682.2 472.3,687.5 473.5,689.7"/>
<polygon points="575.3,643.4 574.8,648.1 572.3,649.8 564.4,648.2 561.4,644.4 561.8,641.6 568.4,639.2 572.1,639.9"/>
<polygon points="525.5,661.3 526.7,659.3 536.9,662.5 537.8,665.1 531.4,668.6 529.4,668.3 524.8,664.0"/>
<polygon points="491.6,684.8 493.0,687.4 497.0,687.4 501.5,681.5 501.0,678.7 498.3,677.1 491.5,683.6"/>
<polygon points="480.5,691.4 481.8,689.9 487.5,688.3 488.9,690.8 486.0,697.1 485.1,697.0"/>
<polygon points="564.3,652.4 564.7,651.2 571.2,652.6 570.5,657.8 566.4,658.6"/>
<polygon points="561.9,653.9 556.4,662.6 558.5,664.9 564.3,660.8"/>
<polygon points="525.9,679.1 529.2,672.5 530.9,672.8 532.6,677.5 530.9,679.5 526.3,680.3"/>
<polygon points="486.4,704.4 481.7,711.8 479.0,710.7 475.9,704.9 476.3,704.1 484.0,701.6 484.9,701.8 486.2,703.5"/>
<polygon points="542.7,681.1 541.5,678.8 535.4,678.7 533.4,681.1 537.1,686.1"/>
<polygon points="583.9,664.6 577.6,666.5 579.0,673.1 579.6,673.6 586.1,668.7"/>
<polygon points="560.6,678.8 561.7,682.9 555.9,688.9 550.7,689.8 549.4,683.2 560.1,678.2"/>
<polygon points="547.5,691.1 546.7,692.7 539.6,694.1 537.7,691.3 538.2,688.0 543.9,683.0 546.2,684.5"/>
<polygon points="600.7,663.6 602.4,668.7 595.2,671.8 593.1,668.9 598.6,662.9"/>
<polygon points="570.9,687.0 566.3,681.8 565.3,678.3 576.0,676.8 576.6,677.3 578.0,680.4"/>
<polygon points="568.3,691.8 563.2,696.7 559.0,690.8 563.7,685.8 568.1,690.6"/>
<polygon points="581.0,692.8 580.7,684.4 579.7,683.9 573.1,690.0 573.3,691.2 578.5,694.7"/>
<polygon points="600.3,691.7 603.3,691.7 604.4,689.8 605.1,685.7 604.6,684.8 596.1,683.4 595.5,683.9 595.6,687.6"/>
<polygon points="578.4,707.7 571.1,713.5 568.5,713.4 564.8,707.4 563.9,705.2 577.5,704.1"/>
<polygon points="593.0,704.9 596.4,708.2 596.0,711.8 590.1,713.1 585.6,708.3"/>
</g>
<g fill="#0e3615" stroke="#0e3615" stroke-width="1.1" stroke-linejoin="round">
<polygon points="463.0,559.9 462.2,554.4 460.4,553.0 458.4,554.2 454.5,560.2 459.5,563.4"/>
<polygon points="450.8,583.6 450.3,586.4 455.1,589.1 461.4,587.7 461.5,585.7 458.1,581.9"/>
<polygon points="490.7,580.7 489.3,577.1 486.4,577.0 481.5,579.1 480.9,579.7 481.5,582.8 489.7,585.9"/>
<polygon points="466.0,585.5 466.0,587.2 467.7,589.8 475.4,587.4 476.4,584.5 475.9,581.4 472.1,580.6"/>
<polygon points="527.9,566.5 526.7,563.4 526.6,563.3 517.1,570.1 517.7,571.8 522.4,573.8 526.6,571.3"/>
<polygon points="467.2,593.5 466.8,597.0 470.4,601.4 475.1,603.0 479.0,599.1 476.5,590.6"/>
<polygon points="461.0,607.7 462.1,607.5 466.8,603.3 464.0,599.8 460.3,601.1 459.7,606.7"/>
<polygon points="450.3,618.1 445.7,620.5 441.9,618.0 442.6,612.9 446.9,608.2 448.9,609.7"/>
<polygon points="496.5,600.7 492.4,597.7 494.0,592.6 498.1,592.1 500.1,598.7"/>
<polygon points="552.9,571.7 548.7,571.7 548.0,572.1 548.6,580.3 552.6,581.5 554.3,573.5"/>
<polygon points="531.3,589.2 534.2,592.0 540.4,587.1 540.4,586.7 535.0,583.7 531.3,586.9"/>
<polygon points="524.0,585.3 527.9,587.3 528.0,589.9 520.1,595.9 516.8,590.2"/>
<polygon points="536.4,596.3 542.6,596.7 543.1,596.1 541.7,589.5 535.8,594.3"/>
<polygon points="487.8,630.3 478.3,630.4 477.6,629.9 477.3,628.9 477.3,627.2 483.6,623.3 487.8,625.9"/>
<polygon points="583.1,579.4 583.8,580.3 592.7,577.1 591.2,569.9 591.1,569.9"/>
<polygon points="532.7,604.5 540.8,609.0 540.0,611.7 532.5,613.0 529.3,606.2"/>
<polygon points="489.5,632.5 479.9,632.6 485.7,639.5 489.8,633.0"/>
<polygon points="450.2,653.9 460.0,656.5 461.7,653.8 459.2,649.7 452.3,651.3"/>
<polygon points="577.1,598.1 581.4,599.8 584.8,591.0 582.6,588.8 577.1,593.0"/>
<polygon points="545.3,610.0 548.4,609.6 551.3,613.0 551.3,614.3 545.9,616.7 544.3,612.8 545.0,610.4"/>
<polygon points="517.8,623.9 523.9,625.5 527.1,624.5 527.5,623.1 527.0,620.4 521.3,618.9 519.7,620.1"/>
<polygon points="511.5,640.6 514.6,643.6 516.2,643.7 520.8,638.6 520.0,636.8 512.9,634.2"/>
<polygon points="508.2,643.1 511.8,646.5 508.9,653.3 508.6,653.6 503.4,652.7 499.2,647.1 502.1,644.0"/>
<polygon points="594.6,600.5 593.0,605.5 595.4,607.9 597.8,608.1 603.6,605.5 602.1,603.1"/>
<polygon points="567.0,615.4 573.7,622.3 573.8,624.7 567.9,625.4 563.5,623.4 563.9,620.7"/>
<polygon points="476.9,679.9 477.6,678.3 474.6,674.0 467.7,677.4 468.1,683.0 471.3,685.1"/>
<polygon points="448.1,689.6 441.5,693.9 442.8,698.7 447.0,700.6 450.6,691.9"/>
<polygon points="489.4,682.0 497.6,674.2 494.7,669.8 490.6,672.2 485.6,678.1"/>
<polygon points="471.1,690.6 469.7,688.2 466.2,685.8 458.6,691.1 461.4,695.0 469.6,694.6"/>
<polygon points="448.3,708.3 446.4,704.5 441.9,702.5 433.9,708.3 448.1,709.1"/>
<polygon points="592.9,633.3 600.5,626.1 600.5,624.5 599.2,623.5 591.4,622.6 590.3,624.5 592.4,633.1"/>
<polygon points="585.8,634.3 589.4,633.5 587.7,626.2 580.8,628.3"/>
<polygon points="582.3,638.1 577.7,640.9 574.7,637.7 577.8,629.2 578.1,629.3 583.8,636.2"/>
<polygon points="551.4,661.7 542.6,663.6 541.9,663.1 541.1,660.7 542.7,654.0 546.7,652.8 547.1,652.9"/>
<polygon points="452.4,710.0 452.4,709.7 452.5,709.0 459.1,705.4 462.9,707.7 462.3,711.1"/>
<polygon points="597.9,638.8 595.1,635.3 601.5,629.3 604.4,633.7 602.1,638.8"/>
<polygon points="583.0,641.0 587.0,646.9 581.2,650.1 577.9,648.4 578.4,643.9"/>
<polygon points="540.8,668.0 540.1,667.6 534.1,670.8 536.0,676.0 541.5,676.1 542.0,673.8"/>
<polygon points="583.0,660.8 583.8,658.4 580.2,653.5 577.1,652.0 574.9,653.5 574.2,659.1 576.0,662.4 576.6,662.7"/>
<polygon points="565.6,662.9 569.6,662.1 571.3,665.2 562.3,670.7 561.6,669.7 560.5,666.4"/>
<polygon points="558.8,676.6 558.3,674.3 557.5,673.0 545.3,675.1 544.7,677.7 545.9,680.1 548.2,681.5"/>
<polygon points="558.7,700.7 553.4,700.6 550.5,694.9 551.2,693.7 555.3,693.0 559.6,698.8"/>
<polygon points="559.7,705.1 560.4,707.1 552.9,712.2 550.9,710.7 551.0,707.0 553.4,704.2 559.3,704.3"/>
</g>
<g fill="#08220a" stroke="#08220a" stroke-width="1.1" stroke-linejoin="round">
<polygon points="434.7,567.9 440.7,564.3 444.3,566.4 445.2,571.6 444.4,573.1 444.4,573.1"/>
<polygon points="447.7,571.1 446.7,565.4 449.0,563.4 451.9,562.7 457.5,566.3 456.7,570.1"/>
<polygon points="471.5,567.7 476.2,567.1 477.3,576.4 476.8,577.0 473.2,576.1 471.0,573.9"/>
<polygon points="461.0,572.3 467.5,572.9 468.1,565.5 464.4,562.9 460.4,566.8 459.6,570.5"/>
<polygon points="440.6,586.6 444.0,588.1 446.8,585.2 447.2,582.8 444.8,577.5 444.8,577.5 438.9,580.0"/>
<polygon points="445.9,597.3 447.2,598.6 453.0,596.6 452.7,591.6 448.6,589.3 445.7,592.2"/>
<polygon points="527.3,549.7 532.7,554.1 527.3,559.8 527.2,559.8 521.5,556.5 522.7,550.0"/>
<polygon points="541.5,570.4 534.7,576.4 529.8,571.7 531.0,567.5 538.7,568.6"/>
<polygon points="461.3,612.1 462.5,611.8 468.8,615.9 468.0,619.9 461.8,620.0 460.5,618.7"/>
<polygon points="573.9,568.3 572.4,563.2 573.8,560.9 577.2,558.9 582.1,559.9 582.9,560.8 583.2,562.7 577.9,571.0"/>
<polygon points="492.9,630.3 492.8,625.3 500.9,622.0 500.9,622.1 503.4,625.0 497.0,632.7 493.1,630.9"/>
<polygon points="513.0,627.9 513.3,630.4 519.9,632.9 521.1,628.2 515.2,626.6"/>
<polygon points="564.6,607.7 565.6,610.0 565.3,612.1 561.7,618.1 555.8,614.6 555.7,613.0 563.6,606.9"/>
<polygon points="472.2,670.8 467.4,665.7 463.9,664.9 461.5,669.6 463.2,672.5 466.0,674.0 472.2,671.0"/>
<polygon points="599.1,621.1 597.0,611.2 594.1,610.9 590.4,618.3 591.0,620.1"/>
<polygon points="507.1,663.5 498.8,665.9 498.0,666.5 497.8,667.0 498.0,668.2 500.5,672.0 503.3,673.7 510.5,669.8 511.0,668.5"/>
<polygon points="512.9,683.6 511.0,684.2 506.7,680.0 506.2,677.3 513.0,673.7 513.8,674.9"/>
<polygon points="477.4,692.0 483.1,698.8 473.9,701.8 471.8,695.8 473.3,691.8"/>
<polygon points="522.6,680.8 517.2,675.6 516.3,684.7 522.1,684.5 523.0,682.1"/>
<polygon points="507.7,699.8 510.2,697.7 515.7,699.3 514.0,705.0 510.6,706.9 508.1,705.5"/>
<polygon points="601.6,660.3 605.9,656.3 604.5,652.3 596.6,653.4 595.9,656.1 599.4,659.6"/>
<polygon points="574.2,673.9 564.6,675.2 564.2,674.8 563.8,672.9 572.5,667.5 573.0,667.8"/>
<polygon points="583.8,680.0 591.1,680.4 591.7,679.7 592.3,674.6 590.1,671.3 588.3,670.4 581.0,676.0 582.6,679.5"/>
<polygon points="593.7,698.5 588.7,693.9 592.6,689.2 598.6,694.4"/>
</g>
<g fill="#114018" stroke="#114018" stroke-width="1.1" stroke-linejoin="round">
<polygon points="489.0,551.2 489.0,551.2 489.9,551.8 492.0,558.5 491.9,558.9 486.3,560.2 483.1,559.1 483.0,559.1"/>
<polygon points="448.4,573.5 456.7,572.6 458.0,574.3 457.0,579.3 450.2,580.8 447.6,575.1"/>
<polygon points="488.3,572.9 487.3,564.8 493.3,563.4 496.1,569.0 491.2,573.0"/>
<polygon points="490.5,591.4 488.8,596.5 486.3,597.3 482.5,597.3 480.4,590.0 481.4,587.1 489.8,590.2"/>
<polygon points="458.9,610.9 457.9,617.9 453.1,617.6 451.6,609.3 457.4,609.6"/>
<polygon points="553.7,567.1 557.1,563.1 555.3,559.1 549.3,558.8 549.4,567.1"/>
<polygon points="522.4,584.1 515.6,588.8 512.1,586.6 520.8,579.5"/>
<polygon points="544.8,572.7 543.5,572.7 536.7,578.7 536.9,580.8 542.4,583.9 545.5,582.1"/>
<polygon points="501.7,611.3 509.1,606.2 509.7,605.3 504.4,601.3 502.5,601.5 498.7,603.7 499.6,609.4"/>
<polygon points="496.1,609.2 489.8,610.5 488.3,601.2 490.9,600.4 495.2,603.5"/>
<polygon points="448.0,633.3 448.4,629.2 456.9,629.8 456.8,632.9 455.7,635.6 453.6,636.0 448.7,634.0"/>
<polygon points="579.4,574.8 585.5,565.2 589.7,569.6 582.0,578.7 580.9,577.7"/>
<polygon points="503.6,618.3 510.6,614.4 509.4,609.6 502.8,614.2 503.6,618.3"/>
<polygon points="457.3,638.9 460.4,641.2 459.2,646.5 452.4,648.1 455.0,639.4"/>
<polygon points="569.4,585.5 570.3,589.8 575.9,590.5 581.6,586.2 580.8,582.8 580.2,581.9 579.1,581.0"/>
<polygon points="521.3,615.7 528.4,617.6 530.1,614.2 526.5,606.5 522.2,605.6"/>
<polygon points="566.0,604.4 573.0,599.8 573.0,594.7 567.6,594.0 562.7,600.5 562.8,600.7 565.1,603.6"/>
<polygon points="489.8,649.0 484.8,646.2 478.1,650.9 479.0,653.0 480.6,655.0 488.4,653.4"/>
<polygon points="449.4,661.3 448.5,656.5 449.0,656.2 459.3,658.9 460.0,661.9 457.1,667.3 452.1,666.4"/>
<polygon points="440.1,670.3 446.9,664.3 449.2,668.6 445.8,672.5"/>
<polygon points="598.5,590.8 593.8,592.6 594.7,596.8 602.2,599.3 601.3,592.2"/>
<polygon points="524.9,628.7 528.8,627.4 531.4,631.6 529.9,637.3 524.4,636.8 523.3,634.7"/>
<polygon points="475.6,669.4 469.8,663.3 476.2,656.4 478.2,658.7 478.9,663.5 476.0,668.9"/>
<polygon points="545.7,631.9 546.1,636.6 557.2,638.7 556.7,635.1"/>
<polygon points="489.3,670.1 492.5,668.1 492.4,667.0 482.8,665.2 480.4,669.7"/>
<polygon points="576.1,627.9 575.5,627.3 568.9,628.1 569.3,636.1 572.9,636.8"/>
<polygon points="556.8,643.9 557.2,641.4 556.7,640.6 546.8,638.7 546.8,638.9 548.9,647.7 549.3,647.8"/>
<polygon points="541.3,650.3 535.0,646.9 534.9,643.6 543.4,639.1 545.8,649.0"/>
<polygon points="455.9,693.6 458.3,697.0 458.5,702.1 451.5,706.0 449.7,702.2 453.5,693.0"/>
<polygon points="516.5,669.2 515.9,670.7 516.9,672.1 522.8,677.9 526.7,670.1 522.1,665.8"/>
<polygon points="469.4,697.9 462.6,698.2 462.8,702.9 466.5,705.1 470.7,703.6 471.1,702.9"/>
<polygon points="554.2,664.4 554.0,664.4 544.0,666.5 545.4,672.9 557.7,670.8 556.4,666.8"/>
<polygon points="504.2,695.2 500.3,690.5 504.8,684.6 509.2,688.8 508.2,693.8 505.6,695.9"/>
<polygon points="501.1,697.0 496.5,691.3 491.8,691.3 488.2,698.9 489.7,701.0"/>
<polygon points="595.3,647.1 597.5,642.2 602.5,642.3 605.5,645.4 604.6,649.6 596.3,650.7"/>
<polygon points="592.4,649.1 589.3,648.9 584.1,651.7 587.6,656.5 592.6,654.7 593.3,652.2"/>
<polygon points="587.3,692.3 584.1,693.1 583.8,682.9 591.0,683.2 591.2,687.8"/>
<polygon points="576.8,701.9 563.8,702.9 563.4,702.1 564.3,700.0 570.2,694.3 576.3,698.5"/>
<polygon points="591.1,700.1 590.8,702.0 582.9,705.7 582.2,705.4 581.3,702.1 580.8,698.8 583.6,696.7 586.5,696.0"/>
<polygon points="595.4,699.9 595.0,701.9 599.0,705.7 605.5,701.0 603.7,696.0 600.0,695.9"/>
</g>
<g fill="#0c3011" stroke="#0c3011" stroke-width="1.1" stroke-linejoin="round">
<polygon points="455.7,554.2 448.9,554.9 449.2,560.9 451.8,560.3"/>
<polygon points="444.8,562.5 441.5,560.6 440.0,555.4 444.7,554.2 446.3,555.3 446.6,560.9"/>
<polygon points="467.6,560.1 466.9,555.0 470.7,554.1 474.4,555.0 477.1,560.0 477.1,560.0 475.5,561.6 470.7,562.2"/>
<polygon points="499.7,567.5 500.8,567.8 509.0,563.4 510.1,560.2 505.9,555.9 496.6,560.5 496.5,561.1"/>
<polygon points="478.3,564.6 479.7,576.1 485.6,573.6 484.4,564.0 480.3,562.6"/>
<polygon points="459.6,597.2 463.4,595.8 463.7,593.0 462.1,590.5 456.9,591.7 457.2,596.4"/>
<polygon points="456.0,606.4 456.7,600.6 454.3,599.9 448.6,601.9 449.2,604.9 450.9,606.1"/>
<polygon points="558.6,557.0 560.3,553.0 564.7,553.7 569.2,559.1 567.7,561.7 560.6,561.7"/>
<polygon points="525.0,582.9 529.0,584.9 533.2,581.3 533.0,578.9 527.5,573.7 523.3,576.2 523.3,577.9"/>
<polygon points="503.0,597.0 501.1,590.8 506.4,587.9 507.6,589.1 504.7,596.8"/>
<polygon points="478.3,607.2 484.2,612.3 486.5,610.7 485.2,602.0 481.4,602.0 478.1,605.3"/>
<polygon points="465.0,609.0 470.2,604.4 474.2,605.8 474.4,607.7 471.1,613.0"/>
<polygon points="457.4,620.8 458.9,622.1 457.7,626.7 448.1,626.1 447.8,622.9 452.4,620.5"/>
<polygon points="588.5,562.7 588.1,560.7 594.9,559.7 596.1,560.3 598.5,565.7 592.3,566.6 592.3,566.5"/>
<polygon points="566.5,577.2 571.2,574.1 575.0,576.6 576.2,579.0 568.1,582.7 566.2,581.3"/>
<polygon points="552.5,586.3 553.2,586.9 554.1,594.1 545.9,594.8 544.2,587.3 544.3,586.9 547.6,584.9"/>
<polygon points="514.5,612.4 513.4,607.7 513.9,606.9 518.2,605.1 519.3,606.0 518.6,614.1 517.0,615.2"/>
<polygon points="599.6,576.5 602.8,573.8 603.5,571.4 601.3,569.0 600.9,568.8 594.7,569.6 596.0,575.7"/>
<polygon points="546.0,598.8 546.6,598.1 554.6,597.4 558.2,601.0 558.2,601.2 549.7,606.0 546.0,606.5"/>
<polygon points="535.6,598.6 543.0,599.0 543.0,607.2 542.5,607.7 533.4,602.6"/>
<polygon points="476.2,634.8 472.3,641.3 475.3,647.2 475.8,647.4 482.6,642.6 482.5,641.8 476.9,635.2"/>
<polygon points="464.5,652.3 472.1,649.5 468.5,642.7 463.0,642.1 461.7,647.9"/>
<polygon points="596.4,587.6 591.7,589.5 588.4,588.1 586.3,586.1 585.6,582.9 593.3,580.2 597.0,581.0 596.7,586.3"/>
<polygon points="531.5,619.1 532.1,622.1 542.7,620.9 542.6,619.3 540.8,614.7 533.1,616.0"/>
<polygon points="586.9,592.1 590.6,593.6 591.5,598.3 589.7,603.9 584.9,604.1 583.4,601.4"/>
<polygon points="569.1,606.2 575.6,602.0 579.6,603.5 580.9,606.0 578.8,609.1 569.9,608.2"/>
<polygon points="542.4,629.6 534.0,630.0 531.5,625.9 532.0,624.2 543.2,623.0 544.1,624.9"/>
<polygon points="458.6,674.7 456.7,671.4 451.7,670.6 447.8,675.2 449.0,681.5 449.9,682.7"/>
<polygon points="569.1,610.8 578.6,611.9 579.4,614.5 575.8,619.8 568.8,612.7"/>
<polygon points="512.0,654.4 515.0,647.4 516.9,647.6 524.1,653.0 523.9,656.4 522.7,658.6"/>
<polygon points="508.2,656.2 503.0,655.3 498.9,663.1 508.0,660.5"/>
<polygon points="483.0,677.8 488.1,671.9 477.0,671.4 476.5,671.9 476.5,672.1 479.8,676.9"/>
<polygon points="463.3,678.5 463.7,684.3 456.7,689.3 454.2,688.6 451.3,686.0 451.2,685.1 460.1,676.9"/>
<polygon points="578.7,625.6 578.2,625.0 578.2,622.5 581.8,617.2 587.1,620.0 587.7,621.6 586.8,623.4 579.1,625.7"/>
<polygon points="527.3,656.7 537.6,660.0 539.4,652.4 533.3,649.0 527.5,653.3"/>
<polygon points="511.3,657.0 511.1,660.9 515.1,666.0 520.3,662.9 521.0,660.4 511.5,656.8"/>
<polygon points="481.2,686.2 486.9,684.6 486.7,683.4 483.7,680.3 481.0,679.6 480.4,680.9"/>
<polygon points="560.5,652.1 560.9,650.9 558.4,647.8 551.4,651.4 555.6,659.8 555.7,659.9"/>
<polygon points="592.5,644.9 589.4,644.8 585.9,639.6 587.3,637.8 591.0,636.9 591.5,637.1 594.4,640.6"/>
<polygon points="525.7,683.4 531.2,682.5 534.9,687.4 534.4,690.5 526.0,689.5 524.7,686.1"/>
<polygon points="515.5,688.1 513.6,688.7 512.6,693.8 518.1,695.4 521.0,694.7 522.2,690.8 521.1,687.9"/>
<polygon points="501.5,700.1 492.4,703.3 492.6,704.1 497.3,708.3 498.7,708.7 503.3,706.1 502.9,700.8"/>
<polygon points="596.8,661.3 593.1,657.7 587.5,659.7 586.7,662.3 589.1,666.9 590.8,667.9"/>
<polygon points="525.1,696.6 528.4,701.5 535.5,699.2 536.7,695.8 534.8,693.1 526.4,692.0"/>
<polygon points="519.8,699.5 518.1,704.8 524.7,705.4 525.3,703.0 522.6,698.8"/>
<polygon points="547.3,704.7 549.6,702.0 546.6,696.1 540.5,697.3 539.5,700.3 541.1,703.0"/>
<polygon points="536.0,709.7 529.2,713.3 529.0,713.0 528.0,707.5 528.8,704.8 535.5,702.5 537.2,705.4"/>
<polygon points="547.5,711.6 543.9,713.8 539.5,710.2 540.7,705.8 547.6,707.7"/>
</g>
<g fill="#36daf6">
<ellipse cx="581.7" cy="614.8" rx="2.7" ry="2.0" transform="rotate(63 581.7 614.8)"/>
<ellipse cx="523.5" cy="638.1" rx="2.1" ry="2.5" transform="rotate(85 523.5 638.1)"/>
<ellipse cx="559.6" cy="640.8" rx="4.0" ry="2.6" transform="rotate(34 559.6 640.8)"/>
<ellipse cx="533.4" cy="642.9" rx="3.0" ry="1.9" transform="rotate(61 533.4 642.9)"/>
<ellipse cx="547.6" cy="650.0" rx="4.2" ry="2.5" transform="rotate(20 547.6 650.0)"/>
<ellipse cx="480.9" cy="599.6" rx="2.4" ry="2.4" transform="rotate(149 480.9 599.6)"/>
<ellipse cx="486.7" cy="599.6" rx="3.9" ry="2.5" transform="rotate(129 486.7 599.6)"/>
<ellipse cx="462.4" cy="662.1" rx="2.6" ry="1.8" transform="rotate(97 462.4 662.1)"/>
<ellipse cx="475.1" cy="626.9" rx="2.6" ry="2.3" transform="rotate(172 475.1 626.9)"/>
<ellipse cx="485.6" cy="643.2" rx="4.0" ry="2.0" transform="rotate(8 485.6 643.2)"/>
<ellipse cx="476.6" cy="631.7" rx="3.5" ry="2.1" transform="rotate(60 476.6 631.7)"/>
<ellipse cx="537.1" cy="700.1" rx="2.8" ry="2.6" transform="rotate(149 537.1 700.1)"/>
<ellipse cx="539.2" cy="661.9" rx="2.2" ry="3.0" transform="rotate(52 539.2 661.9)"/>
<ellipse cx="540.5" cy="665.5" rx="3.1" ry="2.0" transform="rotate(107 540.5 665.5)"/>
<ellipse cx="503.6" cy="676.3" rx="2.7" ry="2.9" transform="rotate(84 503.6 676.3)"/>
<ellipse cx="529.3" cy="625.8" rx="2.2" ry="1.8" transform="rotate(133 529.3 625.8)"/>
<ellipse cx="575.5" cy="592.5" rx="3.9" ry="2.9" transform="rotate(36 575.5 592.5)"/>
<ellipse cx="576.4" cy="622.4" rx="3.1" ry="2.4" transform="rotate(136 576.4 622.4)"/>
<ellipse cx="511.1" cy="563.7" rx="2.7" ry="1.8" transform="rotate(5 511.1 563.7)"/>
<ellipse cx="534.8" cy="581.8" rx="4.1" ry="1.7" transform="rotate(125 534.8 581.8)"/>
<ellipse cx="488.8" cy="612.9" rx="4.2" ry="1.9" transform="rotate(167 488.8 612.9)"/>
<ellipse cx="484.8" cy="620.8" rx="4.1" ry="2.9" transform="rotate(148 484.8 620.8)"/>
<ellipse cx="485.2" cy="615.3" rx="3.7" ry="2.3" transform="rotate(111 485.2 615.3)"/>
<ellipse cx="469.8" cy="602.5" rx="2.4" ry="2.1" transform="rotate(134 469.8 602.5)"/>
<ellipse cx="461.4" cy="658.0" rx="3.5" ry="2.5" transform="rotate(163 461.4 658.0)"/>
<ellipse cx="536.8" cy="687.7" rx="4.1" ry="1.8" transform="rotate(52 536.8 687.7)"/>
<ellipse cx="546.2" cy="624.5" rx="2.1" ry="2.4" transform="rotate(124 546.2 624.5)"/>
<ellipse cx="544.0" cy="630.7" rx="3.0" ry="2.0" transform="rotate(29 544.0 630.7)"/>
<ellipse cx="495.6" cy="668.1" rx="3.7" ry="2.0" transform="rotate(169 495.6 668.1)"/>
<ellipse cx="529.1" cy="669.7" rx="2.3" ry="1.8" transform="rotate(98 529.1 669.7)"/>
<ellipse cx="522.9" cy="696.6" rx="2.9" ry="2.4" transform="rotate(137 522.9 696.6)"/>
<ellipse cx="518.3" cy="697.7" rx="3.7" ry="2.9" transform="rotate(101 518.3 697.7)"/>
<ellipse cx="495.6" cy="665.6" rx="2.2" ry="2.9" transform="rotate(13 495.6 665.6)"/>
<ellipse cx="559.5" cy="671.8" rx="3.7" ry="2.0" transform="rotate(57 559.5 671.8)"/>
<ellipse cx="592.1" cy="635.4" rx="2.8" ry="2.4" transform="rotate(13 592.1 635.4)"/>
<ellipse cx="573.0" cy="638.6" rx="2.7" ry="2.4" transform="rotate(160 573.0 638.6)"/>
<ellipse cx="560.8" cy="601.2" rx="2.5" ry="2.5" transform="rotate(23 560.8 601.2)"/>
<ellipse cx="531.4" cy="614.8" rx="2.3" ry="2.5" transform="rotate(94 531.4 614.8)"/>
<ellipse cx="490.4" cy="598.4" rx="3.3" ry="1.8" transform="rotate(108 490.4 598.4)"/>
<ellipse cx="522.1" cy="575.3" rx="3.7" ry="2.2" transform="rotate(175 522.1 575.3)"/>
<ellipse cx="516.0" cy="572.8" rx="4.1" ry="2.9" transform="rotate(63 516.0 572.8)"/>
<ellipse cx="553.9" cy="613.3" rx="2.4" ry="2.1" transform="rotate(40 553.9 613.3)"/>
<ellipse cx="566.7" cy="609.4" rx="2.2" ry="2.4" transform="rotate(96 566.7 609.4)"/>
<ellipse cx="485.1" cy="562.8" rx="4.1" ry="2.1" transform="rotate(133 485.1 562.8)"/>
<ellipse cx="529.2" cy="565.9" rx="3.4" ry="2.2" transform="rotate(89 529.2 565.9)"/>
<ellipse cx="477.7" cy="588.6" rx="2.3" ry="2.0" transform="rotate(156 477.7 588.6)"/>
<ellipse cx="522.2" cy="635.3" rx="3.7" ry="2.2" transform="rotate(115 522.2 635.3)"/>
<ellipse cx="459.1" cy="599.0" rx="3.3" ry="1.7" transform="rotate(156 459.1 599.0)"/>
<ellipse cx="471.2" cy="615.6" rx="3.8" ry="2.4" transform="rotate(40 471.2 615.6)"/>
<ellipse cx="460.8" cy="621.7" rx="2.7" ry="2.8" transform="rotate(14 460.8 621.7)"/>
<ellipse cx="466.2" cy="684.4" rx="3.3" ry="2.1" transform="rotate(42 466.2 684.4)"/>
<ellipse cx="547.3" cy="683.0" rx="2.0" ry="2.5" transform="rotate(71 547.3 683.0)"/>
<ellipse cx="563.3" cy="682.6" rx="3.0" ry="2.2" transform="rotate(82 563.3 682.6)"/>
<ellipse cx="561.9" cy="677.4" rx="4.2" ry="2.6" transform="rotate(143 561.9 677.4)"/>
<ellipse cx="522.8" cy="663.9" rx="2.0" ry="2.5" transform="rotate(77 522.8 663.9)"/>
<ellipse cx="509.2" cy="661.1" rx="3.8" ry="2.6" transform="rotate(139 509.2 661.1)"/>
<ellipse cx="565.8" cy="661.0" rx="2.9" ry="2.0" transform="rotate(85 565.8 661.0)"/>
<ellipse cx="575.8" cy="665.0" rx="2.7" ry="2.2" transform="rotate(66 575.8 665.0)"/>
<ellipse cx="577.8" cy="675.1" rx="2.2" ry="2.8" transform="rotate(139 577.8 675.1)"/>
<ellipse cx="590.9" cy="669.7" rx="2.1" ry="2.7" transform="rotate(83 590.9 669.7)"/>
<ellipse cx="543.4" cy="609.1" rx="2.9" ry="2.7" transform="rotate(108 543.4 609.1)"/>
<ellipse cx="526.7" cy="604.9" rx="3.5" ry="1.9" transform="rotate(36 526.7 604.9)"/>
<ellipse cx="577.9" cy="575.3" rx="3.2" ry="2.6" transform="rotate(14 577.9 575.3)"/>
<ellipse cx="563.4" cy="583.2" rx="2.9" ry="2.7" transform="rotate(21 563.4 583.2)"/>
<ellipse cx="559.5" cy="563.2" rx="2.5" ry="2.2" transform="rotate(48 559.5 563.2)"/>
<ellipse cx="472.6" cy="578.1" rx="3.7" ry="2.6" transform="rotate(97 472.6 578.1)"/>
<ellipse cx="463.1" cy="585.7" rx="3.9" ry="1.6" transform="rotate(168 463.1 585.7)"/>
<ellipse cx="452.0" cy="619.5" rx="3.9" ry="3.0" transform="rotate(121 452.0 619.5)"/>
<ellipse cx="458.0" cy="608.2" rx="2.3" ry="1.9" transform="rotate(173 458.0 608.2)"/>
<ellipse cx="562.5" cy="700.0" rx="3.1" ry="2.9" transform="rotate(59 562.5 700.0)"/>
<ellipse cx="483.9" cy="679.0" rx="3.2" ry="1.9" transform="rotate(80 483.9 679.0)"/>
<ellipse cx="519.1" cy="597.8" rx="3.7" ry="2.5" transform="rotate(47 519.1 597.8)"/>
<ellipse cx="529.4" cy="590.0" rx="2.6" ry="1.6" transform="rotate(116 529.4 590.0)"/>
<ellipse cx="520.0" cy="616.8" rx="2.5" ry="1.8" transform="rotate(120 520.0 616.8)"/>
<ellipse cx="502.0" cy="599.8" rx="3.7" ry="2.7" transform="rotate(172 502.0 599.8)"/>
<ellipse cx="500.9" cy="613.8" rx="2.1" ry="2.4" transform="rotate(148 500.9 613.8)"/>
<ellipse cx="500.7" cy="642.4" rx="2.8" ry="1.9" transform="rotate(134 500.7 642.4)"/>
<ellipse cx="509.0" cy="641.2" rx="2.3" ry="2.7" transform="rotate(132 509.0 641.2)"/>
<ellipse cx="544.3" cy="570.1" rx="2.6" ry="1.9" transform="rotate(168 544.3 570.1)"/>
<ellipse cx="546.2" cy="570.2" rx="3.2" ry="2.2" transform="rotate(16 546.2 570.2)"/>
<ellipse cx="547.4" cy="569.5" rx="2.5" ry="2.8" transform="rotate(49 547.4 569.5)"/>
<ellipse cx="459.4" cy="566.3" rx="4.0" ry="2.8" transform="rotate(124 459.4 566.3)"/>
<ellipse cx="458.3" cy="571.2" rx="3.8" ry="1.9" transform="rotate(49 458.3 571.2)"/>
<ellipse cx="582.6" cy="681.2" rx="2.4" ry="2.1" transform="rotate(102 582.6 681.2)"/>
<ellipse cx="570.2" cy="690.3" rx="2.2" ry="2.9" transform="rotate(151 570.2 690.3)"/>
<ellipse cx="570.6" cy="692.2" rx="3.5" ry="2.1" transform="rotate(91 570.6 692.2)"/>
<ellipse cx="470.6" cy="695.7" rx="3.1" ry="2.7" transform="rotate(43 470.6 695.7)"/>
<ellipse cx="522.0" cy="577.5" rx="3.4" ry="2.3" transform="rotate(110 522.0 577.5)"/>
<ellipse cx="513.3" cy="614.1" rx="2.6" ry="1.8" transform="rotate(97 513.3 614.1)"/>
<ellipse cx="579.0" cy="697.9" rx="2.3" ry="1.9" transform="rotate(19 579.0 697.9)"/>
<ellipse cx="503.5" cy="697.3" rx="2.5" ry="2.6" transform="rotate(149 503.5 697.3)"/>
<ellipse cx="502.2" cy="620.3" rx="2.6" ry="1.6" transform="rotate(30 502.2 620.3)"/>
<ellipse cx="491.6" cy="632.3" rx="2.9" ry="2.8" transform="rotate(82 491.6 632.3)"/>
<ellipse cx="587.3" cy="693.8" rx="2.1" ry="1.9" transform="rotate(77 587.3 693.8)"/>
</g><g fill="#2a80ee">
<ellipse cx="451.2" cy="556.6" rx="1.9" ry="2.5"/>
<ellipse cx="472.2" cy="557.8" rx="1.5" ry="2.7"/>
<ellipse cx="451.1" cy="566.7" rx="1.6" ry="2.5"/>
<ellipse cx="487.1" cy="556.5" rx="2.0" ry="2.5"/>
<ellipse cx="452.5" cy="575.4" rx="1.9" ry="2.2"/>
<ellipse cx="443.0" cy="582.8" rx="1.3" ry="2.3"/>
<ellipse cx="501.6" cy="563.6" rx="2.1" ry="2.8"/>
<ellipse cx="455.5" cy="586.7" rx="2.2" ry="2.7"/>
<ellipse cx="516.3" cy="563.0" rx="1.4" ry="1.8"/>
<ellipse cx="499.2" cy="577.9" rx="1.9" ry="2.9"/>
<ellipse cx="461.4" cy="592.7" rx="1.4" ry="2.2"/>
<ellipse cx="544.4" cy="564.6" rx="1.9" ry="2.3"/>
<ellipse cx="473.8" cy="596.4" rx="1.9" ry="2.7"/>
<ellipse cx="456.7" cy="612.6" rx="1.6" ry="2.2"/>
<ellipse cx="445.7" cy="613.9" rx="2.1" ry="2.6"/>
<ellipse cx="552.6" cy="564.4" rx="1.6" ry="2.3"/>
<ellipse cx="454.9" cy="624.5" rx="1.5" ry="2.6"/>
<ellipse cx="579.4" cy="562.3" rx="1.9" ry="1.9"/>
<ellipse cx="550.6" cy="575.0" rx="1.7" ry="2.8"/>
<ellipse cx="534.6" cy="586.9" rx="1.5" ry="2.5"/>
<ellipse cx="521.9" cy="590.0" rx="2.2" ry="2.9"/>
<ellipse cx="466.8" cy="625.8" rx="2.0" ry="2.7"/>
<ellipse cx="571.9" cy="579.3" rx="1.7" ry="2.3"/>
<ellipse cx="516.1" cy="610.2" rx="1.3" ry="2.8"/>
<ellipse cx="465.0" cy="635.8" rx="2.0" ry="1.8"/>
<ellipse cx="447.9" cy="647.7" rx="2.0" ry="1.8"/>
<ellipse cx="589.8" cy="574.3" rx="2.1" ry="2.5"/>
<ellipse cx="577.1" cy="586.6" rx="1.6" ry="2.0"/>
<ellipse cx="551.9" cy="600.0" rx="1.6" ry="2.0"/>
<ellipse cx="567.0" cy="600.4" rx="1.8" ry="1.9"/>
<ellipse cx="525.0" cy="623.6" rx="2.1" ry="2.3"/>
<ellipse cx="494.1" cy="640.9" rx="2.3" ry="1.9"/>
<ellipse cx="587.1" cy="599.8" rx="2.1" ry="2.1"/>
<ellipse cx="552.0" cy="622.3" rx="1.8" ry="2.0"/>
<ellipse cx="537.8" cy="626.5" rx="2.0" ry="1.9"/>
<ellipse cx="528.5" cy="632.0" rx="2.0" ry="1.8"/>
<ellipse cx="517.3" cy="640.5" rx="1.5" ry="2.4"/>
<ellipse cx="488.8" cy="660.7" rx="1.8" ry="2.0"/>
<ellipse cx="451.4" cy="676.6" rx="1.4" ry="2.6"/>
<ellipse cx="599.1" cy="605.1" rx="2.1" ry="3.0"/>
<ellipse cx="567.0" cy="620.9" rx="2.2" ry="2.4"/>
<ellipse cx="525.9" cy="645.3" rx="2.1" ry="2.2"/>
<ellipse cx="517.6" cy="652.5" rx="1.8" ry="1.8"/>
<ellipse cx="486.9" cy="669.4" rx="2.1" ry="2.5"/>
<ellipse cx="480.5" cy="675.0" rx="2.2" ry="2.9"/>
<ellipse cx="472.9" cy="678.6" rx="1.7" ry="1.8"/>
<ellipse cx="595.7" cy="615.5" rx="1.5" ry="2.2"/>
<ellipse cx="560.4" cy="633.1" rx="1.8" ry="2.7"/>
<ellipse cx="541.5" cy="647.3" rx="2.0" ry="2.8"/>
<ellipse cx="534.1" cy="655.6" rx="1.6" ry="2.7"/>
<ellipse cx="514.3" cy="661.8" rx="1.4" ry="2.4"/>
<ellipse cx="483.0" cy="681.9" rx="1.9" ry="1.9"/>
<ellipse cx="454.7" cy="698.7" rx="2.0" ry="2.7"/>
<ellipse cx="569.1" cy="643.0" rx="1.5" ry="2.7"/>
<ellipse cx="544.2" cy="657.9" rx="1.6" ry="2.9"/>
<ellipse cx="529.7" cy="665.6" rx="1.9" ry="2.1"/>
<ellipse cx="519.9" cy="671.7" rx="2.1" ry="2.1"/>
<ellipse cx="467.7" cy="702.9" rx="2.2" ry="2.3"/>
<ellipse cx="457.1" cy="707.9" rx="2.2" ry="2.4"/>
<ellipse cx="599.7" cy="634.8" rx="2.0" ry="2.2"/>
<ellipse cx="581.4" cy="646.0" rx="1.4" ry="2.0"/>
<ellipse cx="529.5" cy="677.7" rx="1.5" ry="2.3"/>
<ellipse cx="505.0" cy="690.6" rx="1.5" ry="2.2"/>
<ellipse cx="494.2" cy="694.7" rx="2.2" ry="2.3"/>
<ellipse cx="483.2" cy="704.6" rx="1.4" ry="2.0"/>
<ellipse cx="588.9" cy="651.9" rx="2.3" ry="2.5"/>
<ellipse cx="579.4" cy="657.2" rx="2.0" ry="2.5"/>
<ellipse cx="544.1" cy="690.6" rx="2.0" ry="1.8"/>
<ellipse cx="563.5" cy="690.1" rx="1.5" ry="2.9"/>
<ellipse cx="542.7" cy="700.3" rx="2.1" ry="2.7"/>
<ellipse cx="531.4" cy="707.0" rx="2.3" ry="2.4"/>
<ellipse cx="587.1" cy="686.9" rx="2.2" ry="2.1"/>
<ellipse cx="593.9" cy="694.0" rx="2.1" ry="1.8"/>
</g>
</g>
<clipPath id="gc3"><rect x="599.0" y="564.0" width="140.5" height="136.5"/></clipPath>
<g clip-path="url(#gc3)">
<rect x="599.0" y="564.0" width="140.5" height="136.5" fill="#22d92c"/>
<g fill="#0a280d" stroke="#0a280d" stroke-width="1.8" stroke-linejoin="round">
<polygon points="636.7,566.8 641.3,576.3 640.5,580.5 634.0,583.9 627.2,569.3 627.6,568.4"/>
<polygon points="662.5,581.3 661.8,571.3 659.3,569.1 646.6,577.4 645.7,581.9 654.4,586.8"/>
<polygon points="621.8,634.8 620.9,632.6 628.0,620.9 632.7,620.5 637.0,621.5 635.3,636.7 629.4,638.4"/>
<polygon points="615.3,692.7 600.7,690.9 599.5,689.8 601.6,679.1 604.7,677.4 613.0,680.4"/>
<polygon points="664.8,586.0 658.1,590.6 659.5,596.8 665.4,598.6 672.1,595.2 669.4,588.3"/>
<polygon points="632.8,660.4 637.9,661.9 643.0,660.4 644.8,646.4 638.0,643.7 631.9,645.4"/>
<polygon points="621.4,693.0 628.6,683.7 621.2,678.9 618.6,681.1 620.7,692.3"/>
<polygon points="711.4,566.3 714.6,577.8 721.9,581.7 722.9,581.1 726.3,572.0 715.2,564.5 714.2,564.4 711.6,566.1"/>
<polygon points="715.8,602.9 717.0,605.4 708.5,616.1 702.2,611.4 707.9,602.3"/>
<polygon points="752.7,551.8 744.1,550.9 740.7,552.2 738.4,567.4 746.2,569.9 757.0,560.4"/>
<polygon points="733.8,574.9 736.7,573.6 742.9,575.6 745.2,581.4 738.0,586.5 730.5,583.5"/>
<polygon points="693.1,693.3 684.3,697.5 683.5,697.3 682.7,687.0 691.8,684.0"/>
<polygon points="695.5,695.6 686.5,699.8 694.9,710.2 702.2,699.4 699.8,696.7"/>
<polygon points="747.1,606.7 751.8,605.2 761.0,612.5 752.2,621.7 748.2,620.3 745.1,613.1"/>
<polygon points="749.5,632.2 748.4,629.7 744.5,628.3 732.1,634.1 732.2,640.1 733.3,642.5 742.8,644.6"/>
<polygon points="748.6,656.9 743.7,668.9 748.0,673.8 749.7,673.7 761.9,659.1"/>
</g>
<g fill="#0e3615" stroke="#0e3615" stroke-width="1.8" stroke-linejoin="round">
<polygon points="590.9,592.3 587.4,572.5 587.9,572.2 601.2,576.0 605.4,580.2 606.4,585.4 595.1,592.4 593.3,593.0"/>
<polygon points="588.1,598.5 583.4,612.8 596.3,614.2 591.7,598.7 589.2,598.1"/>
<polygon points="582.5,617.1 579.3,618.6 577.4,625.7 587.3,629.2 596.6,619.3 595.6,618.5"/>
<polygon points="639.1,554.0 635.4,560.5 627.6,561.9 623.4,554.6 627.8,548.9 639.0,553.3"/>
<polygon points="614.1,585.4 613.2,580.7 623.2,572.8 629.6,586.5 628.9,587.3 619.7,589.6"/>
<polygon points="615.8,604.9 616.9,594.0 610.4,589.1 598.5,596.5 612.0,606.5"/>
<polygon points="595.0,601.4 596.5,600.8 607.8,609.2 599.8,615.3 599.8,615.3 599.0,614.6"/>
<polygon points="609.7,627.7 603.1,618.9 612.8,611.4 616.6,609.8 624.3,617.7 616.4,630.6"/>
<polygon points="617.8,699.4 619.8,703.0 613.2,709.9 603.9,709.6 603.6,697.2 617.2,698.8"/>
<polygon points="676.6,600.2 680.9,601.8 683.7,611.2 681.9,613.5 670.5,608.1 669.9,603.6"/>
<polygon points="650.7,660.3 658.3,652.8 656.7,645.5 653.9,644.5 649.4,646.4 647.7,659.2"/>
<polygon points="720.2,560.4 731.6,552.6 735.7,553.9 733.9,566.4 730.9,567.7"/>
<polygon points="725.1,589.2 726.3,588.5 735.6,592.2 738.3,599.1 723.3,602.8 722.6,602.2 721.1,599.2"/>
<polygon points="724.2,612.9 722.8,625.8 712.0,622.8 710.8,619.8 720.3,607.8 721.0,608.3"/>
<polygon points="709.5,658.6 707.5,647.9 725.0,645.5 726.3,648.2 722.1,659.4 719.8,660.3"/>
<polygon points="743.9,655.4 741.4,652.6 731.9,650.5 728.2,660.5 733.9,665.1 739.8,665.6"/>
</g>
<g fill="#08220a" stroke="#08220a" stroke-width="1.8" stroke-linejoin="round">
<polygon points="608.8,552.7 602.4,544.1 599.1,542.9 592.0,547.6 592.1,554.6 607.8,553.6"/>
<polygon points="622.4,565.6 622.0,566.5 610.2,575.8 605.8,571.3 611.7,557.4 612.8,556.4 617.1,556.2"/>
<polygon points="592.7,650.0 587.0,652.8 579.5,651.0 577.7,648.6 587.9,637.2 592.6,642.6"/>
<polygon points="645.1,556.2 657.3,565.1 657.6,566.1 645.5,574.0 640.7,564.1"/>
<polygon points="614.1,639.6 613.3,637.6 607.9,635.3 599.4,642.0 599.4,648.1 607.0,650.7 607.8,650.4"/>
<polygon points="648.5,552.0 658.5,559.4 663.8,549.1 662.9,546.9 658.8,546.0 649.8,549.2 648.4,551.4"/>
<polygon points="636.3,598.4 636.6,614.2 640.5,615.1 644.1,614.1 646.0,608.4"/>
<polygon points="624.9,664.7 619.2,672.9 615.9,675.6 606.4,672.2 608.6,657.9 609.6,657.5"/>
<polygon points="581.5,705.0 582.9,707.1 593.8,712.8 596.6,710.8 596.3,696.4 595.0,695.2 590.7,695.7"/>
<polygon points="646.3,620.4 651.9,624.1 652.2,637.8 647.3,639.8 640.4,637.1 642.2,621.4"/>
<polygon points="661.2,623.9 656.0,624.5 656.3,638.2 659.4,639.3 666.9,637.7 666.4,626.2"/>
<polygon points="714.2,558.3 712.0,540.2 729.0,547.9 729.6,548.7 715.4,558.3"/>
<polygon points="695.7,573.3 698.6,584.5 697.3,587.1 691.7,587.5 687.7,577.0 688.4,573.4"/>
<polygon points="688.4,620.1 687.9,621.3 690.7,633.6 696.8,634.0 703.4,625.0 702.3,622.4 696.2,617.7 690.2,617.9"/>
<polygon points="692.8,665.3 684.6,649.1 682.6,650.0 678.7,659.6 682.8,664.9 692.6,665.5"/>
<polygon points="678.6,696.7 671.4,699.7 669.1,698.8 664.3,687.7 664.7,685.3 674.3,683.1 677.9,687.1"/>
<polygon points="702.5,656.8 700.8,647.2 697.6,643.8 691.1,643.4 688.3,645.7 696.6,662.1"/>
<polygon points="695.2,673.6 694.6,670.8 682.6,670.1 678.5,678.4 682.6,683.0 692.2,679.8"/>
<polygon points="745.9,599.7 750.3,598.3 753.3,590.0 748.8,587.3 741.7,592.2 743.8,597.7"/>
<polygon points="696.9,690.3 695.8,682.6 698.2,677.7 704.9,683.0 700.4,691.3"/>
<polygon points="708.1,714.5 698.3,715.7 697.7,712.8 704.6,702.5 711.7,704.8 709.9,713.7"/>
<polygon points="740.7,671.9 733.7,671.2 729.5,686.5 739.9,689.1 745.0,676.9"/>
<polygon points="738.4,696.0 736.9,693.7 728.4,691.5 725.9,692.1 722.4,699.1 731.9,706.3"/>
</g>
<g fill="#114018" stroke="#114018" stroke-width="1.8" stroke-linejoin="round">
<polygon points="631.9,595.0 631.1,593.2 621.5,595.6 620.5,605.6 627.4,612.7 632.2,612.2"/>
<polygon points="579.3,680.8 579.1,679.0 588.2,674.3 596.2,677.8 594.0,689.1 589.8,689.7"/>
<polygon points="651.0,590.4 643.0,585.9 636.5,589.3 635.8,590.2 636.6,592.0 647.3,603.1 652.6,597.3"/>
<polygon points="626.6,660.9 612.4,654.1 619.8,641.4 627.7,645.1 628.5,660.3"/>
<polygon points="668.3,579.8 667.7,571.1 681.3,570.0 682.4,571.1 681.6,575.0 673.3,582.2"/>
<polygon points="656.6,602.0 650.8,608.2 648.6,615.2 654.7,619.2 660.3,618.5 664.5,609.5 663.7,604.1"/>
<polygon points="675.7,587.3 683.2,580.8 687.1,590.8 682.3,595.4 678.2,594.0"/>
<polygon points="640.9,677.5 640.8,667.9 645.6,666.4 648.7,667.5 654.0,672.3 655.1,676.8 642.2,678.9"/>
<polygon points="685.8,599.7 691.7,594.1 698.2,593.6 703.3,599.6 696.5,610.6 689.1,610.7"/>
<polygon points="682.2,624.5 685.4,638.4 682.5,640.9 680.3,641.8 672.3,638.6 671.7,627.5"/>
<polygon points="664.0,652.4 671.5,656.9 673.0,656.7 677.1,646.5 669.3,643.4 662.4,645.0"/>
<polygon points="658.5,669.2 668.6,661.1 660.9,656.5 653.0,664.3"/>
<polygon points="704.1,639.0 711.2,629.3 721.5,632.2 723.3,634.2 723.4,640.3 707.4,642.6"/>
<polygon points="662.5,718.0 667.8,705.8 668.1,705.6 670.3,706.4 672.9,717.9"/>
<polygon points="729.3,615.5 728.1,627.2 729.8,629.1 741.8,623.4 738.9,616.5"/>
<polygon points="707.6,677.6 711.9,677.9 714.6,666.3 706.0,664.9 700.5,669.8 700.4,670.1 700.9,672.2"/>
<polygon points="721.1,666.1 723.6,665.1 730.4,670.5 726.2,685.6 723.3,686.2 717.7,680.7"/>
<polygon points="705.3,694.5 707.3,696.8 713.7,698.9 715.6,697.7 719.1,690.8 714.5,686.2 710.0,685.9"/>
<polygon points="742.9,700.0 736.4,710.3 736.5,711.1 751.5,713.4 747.7,702.0"/>
</g>
<g fill="#0c3011" stroke="#0c3011" stroke-width="1.8" stroke-linejoin="round">
<polygon points="605.8,558.3 591.7,559.1 589.2,566.4 600.9,569.7"/>
<polygon points="605.8,630.0 599.1,621.0 599.1,621.0 589.5,631.1 590.3,633.0 595.1,638.4"/>
<polygon points="603.5,658.2 595.4,655.4 590.6,657.8 591.3,668.6 598.7,671.9 601.6,670.2"/>
<polygon points="680.8,566.3 665.2,567.6 662.8,565.4 662.6,564.4 669.3,551.4 679.6,557.1"/>
<polygon points="629.2,666.8 624.4,673.7 632.1,678.7 635.7,677.1 635.5,667.7 630.9,666.2"/>
<polygon points="704.7,563.1 696.3,567.5 687.7,567.5 686.5,566.2 685.3,557.3 691.8,550.9 704.8,562.9"/>
<polygon points="668.5,611.7 664.7,620.0 669.8,622.4 680.5,619.2 681.2,617.7"/>
<polygon points="624.8,696.5 627.0,700.4 629.5,701.2 636.2,701.4 636.6,701.2 639.8,695.0 637.9,686.0 636.6,684.5 632.8,686.2"/>
<polygon points="707.2,567.3 710.4,579.0 702.8,582.9 699.8,571.2"/>
<polygon points="643.0,682.8 657.8,680.4 659.3,682.9 658.9,685.7 645.1,692.6"/>
<polygon points="643.6,702.6 652.1,705.5 663.2,701.8 663.4,701.7 658.7,690.7 646.7,696.7"/>
<polygon points="712.3,584.2 704.6,588.1 703.2,590.9 707.8,596.4 716.5,597.1 720.0,588.4"/>
<polygon points="661.5,677.3 663.0,679.9 674.2,677.4 678.4,669.1 673.4,662.5 671.7,662.8 660.1,672.1"/>
<polygon points="655.5,721.7 652.5,709.7 665.4,705.4 658.8,720.5"/>
<polygon points="729.1,610.1 740.3,611.3 742.5,604.1 739.9,601.7 725.6,605.2"/>
<polygon points="678.2,720.5 687.5,725.1 692.2,716.6 691.6,713.6 683.3,703.4 682.4,703.2 674.6,706.5 677.7,719.8"/>
<polygon points="730.1,713.2 727.3,720.7 724.5,722.1 715.2,714.5 717.0,705.4 719.2,704.2 730.0,712.3"/>
<polygon points="744.3,694.0 742.5,691.2 747.7,678.8 749.5,678.6 757.5,682.3 754.4,694.2 750.1,696.5"/>
</g>
<line x1="619.0" y1="564.0" x2="739.0" y2="624.0" stroke="#24de30" stroke-width="3.5" opacity="0.9"/>
<line x1="599.0" y1="659.0" x2="739.0" y2="634.0" stroke="#24de30" stroke-width="3" opacity="0.9"/>
<g fill="#36daf6">
<ellipse cx="654.4" cy="640.8" rx="2.8" ry="2.8" transform="rotate(86 654.4 640.8)"/>
<ellipse cx="599.9" cy="618.7" rx="2.9" ry="2.5" transform="rotate(74 599.9 618.7)"/>
<ellipse cx="709.1" cy="625.7" rx="3.2" ry="2.8" transform="rotate(97 709.1 625.7)"/>
<ellipse cx="717.6" cy="700.6" rx="2.3" ry="2.4" transform="rotate(25 717.6 700.6)"/>
<ellipse cx="727.6" cy="642.5" rx="2.1" ry="2.1" transform="rotate(58 727.6 642.5)"/>
<ellipse cx="675.7" cy="679.1" rx="2.0" ry="2.3" transform="rotate(94 675.7 679.1)"/>
<ellipse cx="723.6" cy="661.7" rx="2.3" ry="2.6" transform="rotate(174 723.6 661.7)"/>
<ellipse cx="632.7" cy="589.2" rx="2.6" ry="1.8" transform="rotate(140 632.7 589.2)"/>
<ellipse cx="661.3" cy="682.3" rx="3.3" ry="2.9" transform="rotate(87 661.3 682.3)"/>
<ellipse cx="637.9" cy="639.9" rx="2.9" ry="1.8" transform="rotate(166 637.9 639.9)"/>
<ellipse cx="647.6" cy="643.7" rx="2.8" ry="1.8" transform="rotate(44 647.6 643.7)"/>
<ellipse cx="738.1" cy="591.0" rx="3.4" ry="2.6" transform="rotate(81 738.1 591.0)"/>
<ellipse cx="731.2" cy="572.2" rx="2.7" ry="2.6" transform="rotate(163 731.2 572.2)"/>
<ellipse cx="704.5" cy="699.1" rx="2.5" ry="2.2" transform="rotate(15 704.5 699.1)"/>
<ellipse cx="714.5" cy="702.3" rx="3.7" ry="2.8" transform="rotate(40 714.5 702.3)"/>
<ellipse cx="674.6" cy="659.9" rx="2.6" ry="2.8" transform="rotate(34 674.6 659.9)"/>
<ellipse cx="672.5" cy="660.3" rx="2.0" ry="1.6" transform="rotate(47 672.5 660.3)"/>
<ellipse cx="703.3" cy="645.8" rx="3.1" ry="1.7" transform="rotate(14 703.3 645.8)"/>
<ellipse cx="681.1" cy="685.1" rx="2.7" ry="2.6" transform="rotate(52 681.1 685.1)"/>
<ellipse cx="603.2" cy="573.3" rx="2.6" ry="2.7" transform="rotate(7 603.2 573.3)"/>
<ellipse cx="663.8" cy="569.3" rx="2.4" ry="1.8" transform="rotate(82 663.8 569.3)"/>
<ellipse cx="644.1" cy="577.2" rx="2.9" ry="1.8" transform="rotate(91 644.1 577.2)"/>
<ellipse cx="624.2" cy="567.2" rx="2.4" ry="2.2" transform="rotate(83 624.2 567.2)"/>
<ellipse cx="618.8" cy="592.7" rx="3.5" ry="2.9" transform="rotate(17 618.8 592.7)"/>
<ellipse cx="646.1" cy="616.5" rx="2.6" ry="2.7" transform="rotate(36 646.1 616.5)"/>
<ellipse cx="598.3" cy="693.8" rx="2.2" ry="2.5" transform="rotate(144 598.3 693.8)"/>
<ellipse cx="645.0" cy="663.4" rx="4.1" ry="2.2" transform="rotate(47 645.0 663.4)"/>
<ellipse cx="649.6" cy="665.0" rx="3.1" ry="2.9" transform="rotate(64 649.6 665.0)"/>
<ellipse cx="657.6" cy="672.2" rx="2.7" ry="2.1" transform="rotate(119 657.6 672.2)"/>
<ellipse cx="659.4" cy="679.0" rx="2.8" ry="1.6" transform="rotate(76 659.4 679.0)"/>
<ellipse cx="719.2" cy="600.1" rx="2.7" ry="1.9" transform="rotate(151 719.2 600.1)"/>
<ellipse cx="684.0" cy="567.6" rx="2.7" ry="2.0" transform="rotate(41 684.0 567.6)"/>
<ellipse cx="697.1" cy="569.3" rx="2.9" ry="2.3" transform="rotate(103 697.1 569.3)"/>
<ellipse cx="708.5" cy="563.1" rx="2.9" ry="1.7" transform="rotate(123 708.5 563.1)"/>
<ellipse cx="740.5" cy="692.1" rx="3.7" ry="2.3" transform="rotate(63 740.5 692.1)"/>
<ellipse cx="696.9" cy="668.9" rx="2.8" ry="2.2" transform="rotate(179 696.9 668.9)"/>
<ellipse cx="599.6" cy="676.2" rx="2.6" ry="1.9" transform="rotate(144 599.6 676.2)"/>
<ellipse cx="642.6" cy="695.1" rx="2.3" ry="1.7" transform="rotate(38 642.6 695.1)"/>
<ellipse cx="638.0" cy="680.1" rx="3.6" ry="2.4" transform="rotate(33 638.0 680.1)"/>
<ellipse cx="697.5" cy="672.9" rx="2.5" ry="2.4" transform="rotate(13 697.5 672.9)"/>
<ellipse cx="665.7" cy="602.0" rx="3.4" ry="1.7" transform="rotate(103 665.7 602.0)"/>
<ellipse cx="672.0" cy="585.8" rx="3.9" ry="2.2" transform="rotate(82 672.0 585.8)"/>
<ellipse cx="664.7" cy="582.3" rx="2.2" ry="2.9" transform="rotate(22 664.7 582.3)"/>
<ellipse cx="604.2" cy="673.7" rx="3.4" ry="2.5" transform="rotate(174 604.2 673.7)"/>
<ellipse cx="632.5" cy="682.4" rx="2.4" ry="2.3" transform="rotate(58 632.5 682.4)"/>
<ellipse cx="620.7" cy="674.7" rx="3.2" ry="2.4" transform="rotate(23 620.7 674.7)"/>
<ellipse cx="620.9" cy="697.3" rx="2.4" ry="2.1" transform="rotate(169 620.9 697.3)"/>
<ellipse cx="629.5" cy="642.4" rx="3.5" ry="2.1" transform="rotate(120 629.5 642.4)"/>
<ellipse cx="630.6" cy="663.3" rx="4.0" ry="2.9" transform="rotate(81 630.6 663.3)"/>
</g><g fill="#2a80ee">
<ellipse cx="598.0" cy="563.9" rx="2.2" ry="2.1"/>
<ellipse cx="614.0" cy="563.1" rx="2.1" ry="2.4"/>
<ellipse cx="611.9" cy="597.9" rx="2.2" ry="2.3"/>
<ellipse cx="585.6" cy="647.2" rx="2.1" ry="2.2"/>
<ellipse cx="650.2" cy="565.3" rx="2.2" ry="2.2"/>
<ellipse cx="628.9" cy="601.3" rx="2.0" ry="1.9"/>
<ellipse cx="606.7" cy="644.0" rx="2.1" ry="2.8"/>
<ellipse cx="654.7" cy="551.0" rx="1.8" ry="2.3"/>
<ellipse cx="642.3" cy="593.9" rx="1.4" ry="2.7"/>
<ellipse cx="623.9" cy="653.3" rx="1.4" ry="2.5"/>
<ellipse cx="658.5" cy="609.6" rx="2.2" ry="2.5"/>
<ellipse cx="681.9" cy="590.4" rx="1.9" ry="2.0"/>
<ellipse cx="673.9" cy="616.9" rx="1.5" ry="2.7"/>
<ellipse cx="652.5" cy="653.0" rx="1.6" ry="2.3"/>
<ellipse cx="718.8" cy="551.2" rx="1.6" ry="2.3"/>
<ellipse cx="670.3" cy="648.8" rx="2.2" ry="1.9"/>
<ellipse cx="660.2" cy="664.0" rx="2.1" ry="2.3"/>
<ellipse cx="711.4" cy="590.9" rx="2.3" ry="1.8"/>
<ellipse cx="709.0" cy="608.3" rx="1.9" ry="2.0"/>
<ellipse cx="672.3" cy="691.1" rx="1.7" ry="2.6"/>
<ellipse cx="728.5" cy="596.0" rx="1.4" ry="3.0"/>
<ellipse cx="715.1" cy="637.2" rx="1.6" ry="2.5"/>
<ellipse cx="694.7" cy="649.8" rx="1.5" ry="2.8"/>
<ellipse cx="746.8" cy="595.3" rx="2.0" ry="2.7"/>
<ellipse cx="734.4" cy="622.9" rx="2.2" ry="2.6"/>
<ellipse cx="719.7" cy="653.2" rx="1.5" ry="3.0"/>
<ellipse cx="696.9" cy="701.5" rx="1.5" ry="2.8"/>
<ellipse cx="749.8" cy="613.2" rx="1.5" ry="2.9"/>
<ellipse cx="736.8" cy="658.1" rx="1.7" ry="2.0"/>
<ellipse cx="711.0" cy="693.6" rx="2.2" ry="2.7"/>
<ellipse cx="750.7" cy="665.5" rx="2.2" ry="2.6"/>
<ellipse cx="738.7" cy="678.1" rx="1.8" ry="2.2"/>
<ellipse cx="743.6" cy="706.8" rx="1.4" ry="2.9"/>
</g>
</g>
<rect x="713.8" y="684.4" width="18.0" height="3.2" fill="#fff"/>
<clipPath id="fo0"><rect x="155.5" y="715.5" width="140.5" height="136.5"/></clipPath>
<g clip-path="url(#fo0)">
<rect x="155.5" y="715.5" width="140.5" height="136.5" fill="url(#lavg)"/>
<g filter="url(#rough)">
<polygon points="153.7,765.3 161.1,750.5 177.7,735.7 196.2,724.6 214.7,717.2 235.0,715.4 253.5,719.1 270.1,732.0 283.1,748.7 297.9,770.8 297.9,855.9 153.7,855.9" fill="#e3a53a"/>
<polygon points="155.9,769.0 162.9,753.3 179.6,738.5 197.1,727.4 215.1,719.8 234.7,718.0 252.6,721.7 268.7,734.2 281.2,750.5 296.0,772.7 297.9,855.9 155.9,855.9" fill="#f7c22a" filter="url(#grainO)"/>
<line x1="232.9" y1="785.8" x2="249.9" y2="773.7" stroke="#f7ecd8" stroke-width="1.4"/>
<line x1="246.7" y1="786.7" x2="260.0" y2="786.8" stroke="#f7ecd8" stroke-width="1.0"/>
<line x1="255.7" y1="805.7" x2="278.5" y2="807.1" stroke="#f7ecd8" stroke-width="0.7"/>
<line x1="218.1" y1="796.7" x2="225.8" y2="782.8" stroke="#f7ecd8" stroke-width="1.1"/>
<line x1="194.2" y1="813.2" x2="186.8" y2="802.8" stroke="#f7ecd8" stroke-width="1.4"/>
<line x1="236.2" y1="803.6" x2="254.5" y2="795.5" stroke="#f7ecd8" stroke-width="0.7"/>
<line x1="227.5" y1="800.6" x2="236.0" y2="795.9" stroke="#f7ecd8" stroke-width="1.4"/>
<line x1="202.0" y1="803.5" x2="195.9" y2="783.5" stroke="#f7ecd8" stroke-width="1.4"/>
<line x1="196.2" y1="784.3" x2="200.3" y2="767.4" stroke="#f7ecd8" stroke-width="1.2"/>
<line x1="188.3" y1="789.9" x2="187.4" y2="771.1" stroke="#f7ecd8" stroke-width="1.5"/>
<line x1="245.2" y1="807.0" x2="260.1" y2="807.1" stroke="#f7ecd8" stroke-width="0.7"/>
<line x1="202.1" y1="808.7" x2="198.0" y2="797.1" stroke="#f7ecd8" stroke-width="1.1"/>
<line x1="181.8" y1="809.7" x2="174.7" y2="797.0" stroke="#f7ecd8" stroke-width="0.9"/>
<line x1="245.1" y1="799.9" x2="260.0" y2="798.5" stroke="#f7ecd8" stroke-width="1.0"/>
<line x1="231.6" y1="804.0" x2="249.4" y2="791.5" stroke="#f7ecd8" stroke-width="0.6"/>
<line x1="246.4" y1="788.9" x2="259.3" y2="789.2" stroke="#f7ecd8" stroke-width="1.3"/>
<line x1="208.0" y1="790.0" x2="214.4" y2="781.2" stroke="#f7ecd8" stroke-width="0.6"/>
<line x1="186.0" y1="791.4" x2="187.7" y2="777.8" stroke="#f7ecd8" stroke-width="1.3"/>
<line x1="262.2" y1="800.9" x2="278.3" y2="805.2" stroke="#f7ecd8" stroke-width="0.9"/>
<line x1="222.9" y1="783.3" x2="233.9" y2="776.3" stroke="#f7ecd8" stroke-width="1.3"/>
<line x1="250.8" y1="791.6" x2="263.9" y2="793.1" stroke="#f7ecd8" stroke-width="1.5"/>
<line x1="193.7" y1="807.2" x2="185.8" y2="792.4" stroke="#f7ecd8" stroke-width="1.4"/>
<line x1="202.0" y1="782.8" x2="208.2" y2="766.5" stroke="#f7ecd8" stroke-width="0.9"/>
<line x1="208.6" y1="800.7" x2="211.4" y2="791.1" stroke="#f7ecd8" stroke-width="0.7"/>
<line x1="242.5" y1="782.4" x2="257.2" y2="779.9" stroke="#f7ecd8" stroke-width="0.6"/>
<line x1="254.5" y1="810.2" x2="270.0" y2="814.4" stroke="#f7ecd8" stroke-width="0.8"/>
<line x1="230.5" y1="783.0" x2="245.0" y2="773.9" stroke="#f7ecd8" stroke-width="1.0"/>
<line x1="178.1" y1="802.6" x2="176.8" y2="790.6" stroke="#f7ecd8" stroke-width="1.0"/>
<line x1="239.1" y1="807.0" x2="257.8" y2="802.2" stroke="#f7ecd8" stroke-width="1.5"/>
<line x1="234.0" y1="784.9" x2="246.8" y2="780.7" stroke="#f7ecd8" stroke-width="1.0"/>
<line x1="185.7" y1="795.7" x2="184.9" y2="781.4" stroke="#f7ecd8" stroke-width="1.0"/>
<line x1="263.3" y1="808.4" x2="287.0" y2="813.5" stroke="#f7ecd8" stroke-width="1.0"/>
<line x1="219.0" y1="784.4" x2="230.0" y2="771.9" stroke="#f7ecd8" stroke-width="0.9"/>
<line x1="214.2" y1="799.8" x2="218.9" y2="787.2" stroke="#f7ecd8" stroke-width="1.5"/>
<path d="M279.7 804.7l-3.1 7.8M220.7 761.0l8.8 4.9M271.7 750.3l3.3 5.9M185.6 743.0l14.2 -0.7M234.2 739.5l13.1 7.3M168.0 777.6l14.6 -2.4M195.8 807.5l3.5 -5.8M228.7 767.9l9.9 6.1M225.1 733.2l7.9 3.3M204.4 744.2l8.2 2.9M184.6 791.9l5.8 -3.9M235.5 773.9l2.2 4.5M170.0 809.8l5.4 -13.3M211.3 736.1l8.4 6.2M249.3 798.3l1.4 13.2M240.6 799.5l3.6 12.7M248.7 805.0l-2.9 8.7M234.0 791.4l7.9 7.6M221.2 780.5l7.2 5.0M262.9 807.0l-0.8 14.9M251.7 780.4l3.0 4.4M196.9 771.6l11.1 -3.1M155.8 788.1l10.0 -6.1M220.9 792.0l6.4 5.9M256.0 761.2l6.9 12.7M252.3 787.8l1.5 7.2M212.6 791.8l8.9 3.9M240.6 797.6l-1.2 6.5M205.9 746.8l6.1 1.7M258.3 801.8l-2.5 13.0M254.1 791.6l1.9 5.5M260.2 774.4l0.0 11.5M232.8 767.0l6.7 9.4M277.2 778.6l3.3 9.8M239.2 785.9l10.5 9.4M253.7 792.1l0.6 12.6M193.6 748.3l11.1 3.4" fill="none" stroke="#f7efe6" stroke-width="0.8" opacity="0.95" stroke-linecap="round"/>
<path d="M274.9 769.9l0.4 11.6M216.6 744.7l7.4 2.3M149.2 777.2l5.8 -6.4M231.3 780.1l2.4 4.4M192.7 738.1l10.0 4.4M247.6 784.9l2.4 4.6M255.5 807.9l-0.3 6.4M196.8 787.5l12.8 -7.7M203.8 779.8l9.6 0.1M231.7 794.9l5.8 13.6M180.4 793.3l7.8 -7.7M195.3 758.3l6.0 2.1M227.0 780.3l6.9 2.5M157.9 806.0l1.8 -6.3M174.4 750.7l13.0 -0.2M157.2 782.4l11.2 -6.7M181.7 783.5l11.5 -1.7M173.9 811.9l7.8 -8.0M205.6 772.6l6.1 2.4M197.4 735.5l8.1 0.8M240.3 810.6l-1.5 12.7M211.1 790.6l13.5 -3.7M175.8 798.3l9.1 -7.0M215.1 791.3l9.1 0.1M223.2 768.3l5.0 3.0M250.6 798.2l3.0 10.0M226.6 785.5l10.1 7.8M262.1 755.7l1.4 11.6M160.3 799.9l2.6 -6.5M291.7 785.1l2.1 12.5M263.3 764.6l6.5 11.4M229.5 774.2l5.4 3.4M196.3 809.7l10.5 -8.1M293.2 778.4l-1.0 7.2M232.9 787.0l4.3 8.3M186.3 798.1l8.8 -3.8M203.9 801.2l6.0 -2.7M277.9 806.7l-1.7 13.0M217.8 737.7l6.7 2.6M237.8 771.3l10.8 7.8M213.3 789.6l12.5 0.7M171.3 810.4l3.8 -5.7M282.6 797.2l-3.8 9.6M198.6 761.1l10.0 2.0" fill="none" stroke="#f7efe6" stroke-width="1.1" opacity="0.95" stroke-linecap="round"/>
<path d="M195.8 754.6l9.8 -0.8M271.8 779.6l-1.1 8.4M278.9 787.3l-6.0 13.3M207.5 794.1l9.1 -0.6M264.6 776.9l0.7 9.2M181.5 789.7l6.4 -3.2M294.0 801.1l-6.8 9.8M214.2 793.3l5.8 1.1M182.2 746.5l8.3 -0.2M204.7 769.8l7.9 -0.6M221.1 775.7l5.6 2.7M220.0 730.5l12.0 6.4M240.0 805.8l0.7 7.8M259.8 753.1l3.5 3.7M206.7 744.0l11.2 4.0M254.9 746.9l3.5 9.1M211.5 797.1l10.8 0.8M280.9 763.5l4.2 8.9M297.4 784.5l-1.6 9.1M234.5 795.0l1.4 7.1M243.4 798.8l-3.3 14.6M191.1 805.4l7.9 -8.5M200.9 807.1l8.7 -8.8M170.1 785.3l11.7 -7.9M223.4 785.5l8.1 3.1M213.0 787.2l8.3 -1.6M205.9 767.2l5.4 2.8M239.4 784.8l10.3 10.6M158.6 805.3l7.1 -9.2M195.3 795.6l7.4 -8.2M204.7 801.8l12.8 -4.0M253.6 745.1l2.1 6.6M241.0 781.1l9.3 8.6M193.5 800.2l4.7 -4.6M251.3 802.5l-3.2 7.6M217.1 760.1l6.9 0.8M160.8 807.7l6.1 -8.1M217.3 749.2l13.9 5.1M209.7 796.5l11.1 0.2" fill="none" stroke="#f7efe6" stroke-width="1.4" opacity="0.95" stroke-linecap="round"/>
<path d="M200.9 736.8l14.2 -1.6M261.1 753.6l3.4 10.6M147.3 793.3l4.0 -8.2M251.6 778.1l4.1 9.4M200.6 782.0l14.6 -0.7M260.8 806.8l-6.6 9.4M275.8 793.3l-4.9 12.5M261.8 774.7l2.4 7.9M268.8 752.8l0.9 11.2M193.7 749.2l8.2 -1.1M158.1 797.3l6.1 -5.1M208.4 777.1l11.9 1.5M186.7 803.7l4.2 -8.8M199.0 802.1l5.8 -2.7M168.4 808.4l10.6 -8.6M164.0 811.6l8.1 -9.7M180.3 802.1l11.7 -7.4M190.9 797.8l13.5 -4.9M202.5 767.4l14.5 2.1" fill="none" stroke="#e59a2a" stroke-width="0.8" opacity="0.95" stroke-linecap="round"/>
<path d="M158.5 797.4l10.9 -9.7M224.9 779.7l6.2 5.4M164.2 791.4l9.4 -7.7M214.1 751.7l5.0 3.0M269.2 803.2l0.4 14.8M288.1 767.0l-0.5 6.9M227.6 769.2l3.5 4.8M189.3 806.5l7.9 -5.1M226.7 734.8l10.8 7.9M222.6 788.8l11.5 5.6M200.7 809.6l6.6 -6.3M263.2 800.8l-6.9 10.5M162.3 782.0l11.6 -9.0M186.8 783.5l8.3 -5.1M251.1 754.1l4.7 6.7M228.7 775.6l8.3 3.5M250.3 808.9l-0.3 5.1" fill="none" stroke="#e59a2a" stroke-width="1.1" opacity="0.95" stroke-linecap="round"/>
<path d="M220.6 786.5l8.3 1.5M203.4 736.1l8.2 3.3M203.6 793.7l11.8 -5.4M203.9 796.6l12.6 -4.2M215.0 783.9l10.5 1.2M195.7 794.8l10.4 -4.7M209.5 790.8l6.1 1.8M197.9 795.2l4.8 -4.4M203.5 803.8l6.2 -5.7M230.9 775.3l10.9 7.9M215.0 779.5l6.2 4.5M291.1 779.5l-1.9 11.0M153.3 808.9l1.6 -6.1M196.2 750.7l10.1 -1.4" fill="none" stroke="#e59a2a" stroke-width="1.4" opacity="0.95" stroke-linecap="round"/>
<polygon points="167.6,811.5 174.0,800.4 187.0,796.7 205.5,804.1 218.4,811.5 223.9,818.9 229.5,837.4 236.9,855.9 183.3,855.9 174.0,833.7 168.5,822.6" fill="#e7e4e9"/>
<polygon points="205.5,741.3 212.8,739.4 227.6,756.1 246.1,763.5 260.9,778.2 275.7,804.1 286.8,837.4 292.3,855.9 279.4,855.9 268.3,822.6 253.5,791.2 236.9,770.8 220.2,763.5 211.0,756.1" fill="#e7e4e9"/>
<polygon points="155.5,785.6 161.1,778.2 177.7,769.0 166.6,785.6 157.4,800.4" fill="#f3e2c0"/>
</g>
<rect x="225.4" y="784.2" width="25.9" height="24.6" fill="none" stroke="#111" stroke-width="1.6" stroke-dasharray="5.2 2.2"/>
</g>
<clipPath id="fo1"><rect x="303.5" y="715.5" width="140.5" height="136.5"/></clipPath>
<g clip-path="url(#fo1)">
<rect x="303.5" y="715.5" width="140.5" height="136.5" fill="url(#lavg)"/>
<g filter="url(#rough)">
<polygon points="301.6,757.9 307.1,745.0 316.4,732.0 334.8,720.9 349.6,715.0 408.8,715.0 427.3,724.6 445.7,745.0 445.7,855.9 301.6,855.9" fill="#d9a23c"/>
<polygon points="303.8,761.6 309.3,747.2 318.2,734.2 336.0,723.2 350.4,717.2 408.0,717.2 426.2,726.5 445.7,747.7 445.7,855.9 303.8,855.9" fill="#f8c428" filter="url(#grainO)"/>
<path d="M326.3 836.3l4.3 -2.7M337.9 797.4l12.9 1.0M386.9 793.3l6.5 12.2M406.9 794.4l5.7 13.1M375.2 807.8l10.5 3.9M400.3 791.7l3.9 12.7M363.8 814.9l8.3 -1.7M343.7 808.8l9.8 1.1M328.8 769.9l10.8 -1.5M397.7 804.8l6.5 9.9M380.3 805.5l9.0 10.0M331.0 765.4l6.4 1.4M402.7 791.4l2.0 9.4M353.9 783.5l5.6 4.5M319.0 814.8l14.0 -4.0M401.1 776.7l5.7 7.1M328.9 764.2l8.3 5.0M325.2 778.2l13.4 -3.2M329.2 842.3l10.2 -8.9M360.1 820.7l6.2 0.0M399.4 792.6l6.1 12.3M360.5 760.9l3.7 3.4M309.4 862.3l9.1 -9.8M360.4 829.8l12.3 -1.7M331.0 840.4l10.0 -5.6M370.3 814.6l9.4 2.1M315.2 824.4l8.5 -5.3M376.5 796.9l10.6 9.0" fill="none" stroke="#f7efe6" stroke-width="0.8" opacity="0.95" stroke-linecap="round"/>
<path d="M355.5 787.7l6.2 0.4M362.6 796.8l10.0 4.5M380.3 791.9l5.9 9.6M304.9 830.4l9.7 -5.0M347.8 807.3l8.0 -0.5M337.1 790.9l6.0 2.3M368.9 783.1l9.3 9.6M377.4 803.2l12.7 5.1M394.4 769.9l11.0 9.8M336.7 831.5l5.5 -2.4M396.0 789.5l4.6 7.0M364.6 806.9l14.4 -0.6M326.3 810.2l11.3 -0.7M357.8 798.4l12.5 2.1M344.0 828.7l9.7 -10.5M340.9 766.7l10.6 6.2M383.4 802.6l6.4 6.9" fill="none" stroke="#f7efe6" stroke-width="1.1" opacity="0.95" stroke-linecap="round"/>
<path d="M363.8 814.6l10.3 -2.7M411.0 755.6l3.0 10.2M355.8 818.3l11.7 -2.2M335.8 796.9l10.8 -0.6M312.1 853.2l5.1 -8.9M358.4 820.0l11.0 -2.3M353.3 812.6l6.5 1.6M369.5 799.5l12.2 5.7M339.8 844.0l6.7 -12.8M314.5 777.8l11.5 0.5M342.9 832.2l5.2 -3.0M414.8 779.5l1.7 7.5M327.1 796.8l8.1 1.7M312.5 808.9l8.5 -4.6M370.3 803.9l11.6 3.0M382.7 778.9l5.9 4.7M387.3 776.3l9.7 9.9M325.9 804.7l9.8 -1.0M307.5 800.9l9.1 -1.3M372.1 788.0l7.0 7.2M366.3 757.0l10.2 3.4M422.7 759.2l5.1 12.3M349.9 804.6l8.5 1.8M342.8 790.2l12.7 -2.4M352.8 758.0l10.1 6.7" fill="none" stroke="#f7efe6" stroke-width="1.4" opacity="0.95" stroke-linecap="round"/>
<path d="M420.0 764.4l4.3 9.4M366.0 809.7l8.2 2.8M395.1 798.6l4.4 11.2M435.2 764.0l0.6 8.7M354.8 750.9l8.4 6.1M321.1 783.4l9.9 -3.0M313.2 842.3l4.6 -6.4M389.2 805.2l5.3 7.4M325.4 766.0l8.4 -0.9M333.9 782.8l13.7 1.3M367.2 800.6l12.0 7.9M345.5 753.3l5.0 0.9M401.7 812.7l3.7 12.0" fill="none" stroke="#e59a2a" stroke-width="0.8" opacity="0.95" stroke-linecap="round"/>
<path d="M432.2 812.3l-3.7 4.9M403.8 799.5l2.4 9.2M449.3 800.9l-7.7 11.3M431.2 777.1l0.3 13.3M351.6 780.3l4.0 3.3M314.3 839.1l3.8 -4.4M362.3 793.3l10.2 7.8M450.5 803.4l-1.6 9.7M364.8 809.8l13.2 1.3M379.9 774.3l8.7 5.1M329.6 828.8l7.7 -2.3M329.4 837.2l9.2 -10.9M474.0 817.0l-7.9 11.0M308.1 826.9l8.8 -3.8M294.9 808.8l8.8 -7.9" fill="none" stroke="#e59a2a" stroke-width="1.1" opacity="0.95" stroke-linecap="round"/>
<path d="M362.0 824.7l7.6 -2.4M428.8 829.0l-4.9 5.0M425.6 799.2l-3.3 11.1M430.9 774.1l2.5 10.5M413.9 793.1l-1.5 7.5M406.8 758.5l1.3 13.8M342.5 816.7l10.6 -3.5M398.6 748.8l5.8 7.7M354.5 838.5l6.0 -5.0M335.4 810.4l11.2 -4.1M414.2 781.8l-1.0 13.4M376.7 808.6l13.1 7.2" fill="none" stroke="#e59a2a" stroke-width="1.4" opacity="0.95" stroke-linecap="round"/>
<polygon points="371.8,787.5 379.2,800.4 390.3,806.0 397.7,808.7 408.8,807.8 419.9,811.5 418.0,826.3 416.2,855.9 358.9,855.9 360.7,837.4 364.4,818.9 373.7,804.1" fill="#e7e4e9"/>
<path d="M 321.9 751.4 Q 344.1 730.2 373.7 725.6" fill="none" stroke="#f4ead8" stroke-width="2.2"/>
<line x1="350.7" y1="803.4" x2="342.2" y2="824.8" stroke="#f8efd8" stroke-width="0.8"/>
<line x1="318.3" y1="818.9" x2="308.8" y2="840.8" stroke="#f8efd8" stroke-width="0.6"/>
<line x1="348.6" y1="806.1" x2="331.4" y2="828.5" stroke="#f8efd8" stroke-width="1.0"/>
<line x1="335.1" y1="810.5" x2="328.9" y2="824.0" stroke="#f8efd8" stroke-width="1.1"/>
<line x1="344.1" y1="796.8" x2="341.1" y2="818.0" stroke="#f8efd8" stroke-width="0.5"/>
<line x1="371.2" y1="817.7" x2="365.9" y2="832.7" stroke="#f8efd8" stroke-width="0.8"/>
<line x1="323.1" y1="793.4" x2="319.4" y2="822.9" stroke="#f8efd8" stroke-width="0.7"/>
<line x1="320.0" y1="790.1" x2="309.2" y2="818.0" stroke="#f8efd8" stroke-width="0.9"/>
<line x1="362.7" y1="817.5" x2="347.7" y2="824.5" stroke="#f8efd8" stroke-width="0.6"/>
<line x1="320.0" y1="792.8" x2="310.4" y2="815.8" stroke="#f8efd8" stroke-width="0.8"/>
<line x1="333.3" y1="820.2" x2="330.6" y2="847.4" stroke="#f8efd8" stroke-width="0.9"/>
<line x1="366.9" y1="808.3" x2="351.9" y2="819.8" stroke="#f8efd8" stroke-width="0.8"/>
<line x1="318.4" y1="796.2" x2="310.4" y2="814.8" stroke="#f8efd8" stroke-width="0.6"/>
<line x1="330.1" y1="800.6" x2="324.9" y2="829.4" stroke="#f8efd8" stroke-width="0.8"/>
<line x1="357.6" y1="809.7" x2="342.3" y2="818.8" stroke="#f8efd8" stroke-width="0.7"/>
<line x1="351.5" y1="820.4" x2="340.2" y2="844.1" stroke="#f8efd8" stroke-width="0.7"/>
<line x1="316.9" y1="809.4" x2="312.8" y2="825.0" stroke="#f8efd8" stroke-width="0.5"/>
<line x1="329.0" y1="794.0" x2="319.0" y2="815.8" stroke="#f8efd8" stroke-width="0.9"/>
<line x1="356.9" y1="794.0" x2="345.6" y2="820.3" stroke="#f8efd8" stroke-width="0.6"/>
<line x1="355.4" y1="815.4" x2="341.2" y2="830.5" stroke="#f8efd8" stroke-width="1.0"/>
<line x1="354.7" y1="788.8" x2="343.6" y2="799.5" stroke="#f8efd8" stroke-width="0.8"/>
<line x1="321.6" y1="815.8" x2="309.8" y2="829.7" stroke="#f8efd8" stroke-width="0.8"/>
<line x1="427.3" y1="763.5" x2="434.7" y2="778.2" stroke="#e8603a" stroke-width="2.5" opacity="0.6" filter="url(#b2)"/>
</g>
<rect x="377.7" y="733.9" width="25.5" height="24.0" fill="none" stroke="#111" stroke-width="1.6" stroke-dasharray="5.2 2.2"/>
</g>
<clipPath id="fo2"><rect x="451.5" y="715.5" width="140.2" height="136.5"/></clipPath>
<g clip-path="url(#fo2)">
<rect x="451.5" y="715.5" width="140.2" height="136.5" fill="url(#lavg)"/>
<g filter="url(#rough)">
<polygon points="448.8,830.0 453.4,804.1 463.0,777.3 475.9,754.6 492.6,735.7 511.6,722.4 532.9,713.9 550.4,720.9 567.6,733.9 582.8,750.9 593.9,769.0 593.9,855.9 448.8,855.9" fill="#c99a3a"/>
<polygon points="452.3,830.0 457.5,806.0 466.7,780.5 479.6,758.3 495.9,739.8 514.0,726.5 532.9,718.7 548.6,725.0 564.3,737.6 578.3,754.2 593.9,776.8 593.9,855.9 452.3,855.9" fill="#f6c02a" filter="url(#grainO)"/>
<path d="M512.9 806.1l8.1 5.6M496.0 765.9l9.5 10.8M559.7 789.6l2.4 5.6M542.6 831.5l-2.9 13.8M524.6 771.8l5.3 4.9M518.9 789.5l6.7 8.3M566.5 804.0l3.9 14.4M466.3 824.2l5.4 -3.4M479.7 831.7l10.9 -9.2M557.3 828.3l-4.8 13.8M456.8 796.1l5.6 -0.7M438.4 833.1l11.0 -3.7M606.6 830.0l-7.2 8.0" fill="none" stroke="#f7efe6" stroke-width="0.8" opacity="0.95" stroke-linecap="round"/>
<path d="M496.3 828.4l5.2 0.7M470.1 813.2l11.1 -4.9M483.9 831.6l13.6 -4.9M549.8 819.0l-0.6 6.7M539.9 808.9l-0.6 9.1M525.3 774.1l4.7 8.4M495.4 824.6l8.9 -3.2M529.4 769.9l2.5 6.0M471.1 798.7l14.0 0.5M482.7 811.4l9.1 -2.2M490.1 833.2l11.0 -6.4M586.2 784.8l2.3 10.3M473.1 772.5l13.9 -1.3M509.3 817.2l8.1 6.3M572.3 788.3l2.9 7.5M513.7 802.4l5.5 8.0M514.0 785.2l7.8 11.7M551.0 762.9l5.5 13.8M477.4 806.8l6.3 1.4M500.5 827.3l6.8 -0.1M514.3 812.4l5.3 3.1" fill="none" stroke="#f7efe6" stroke-width="1.1" opacity="0.95" stroke-linecap="round"/>
<path d="M525.5 766.2l7.9 7.1M453.8 808.7l12.6 -4.6M534.6 802.5l6.4 8.3M494.1 765.2l8.4 1.6M585.4 787.6l-0.9 5.4M542.8 785.5l4.0 13.7M588.5 803.3l-5.6 9.1M509.2 785.4l4.7 6.8M552.2 814.0l-2.3 10.1M449.6 797.1l7.6 -2.6M455.7 815.1l8.4 -2.1M521.7 818.0l2.2 5.7M454.2 783.9l10.2 0.6M548.0 798.6l1.5 6.9M489.9 842.2l3.8 -3.5M467.3 773.7l14.2 0.6" fill="none" stroke="#f7efe6" stroke-width="1.4" opacity="0.95" stroke-linecap="round"/>
<path d="M536.2 797.0l1.5 7.0M580.8 785.0l4.2 13.2M505.6 821.0l14.2 3.7M544.6 808.1l1.8 4.9M574.7 820.3l-7.5 9.2M503.3 794.8l6.6 4.8M464.5 794.0l5.7 1.0M547.0 760.7l5.0 12.6M571.9 792.4l0.4 6.3M467.5 802.7l7.7 0.3" fill="none" stroke="#e09a30" stroke-width="0.8" opacity="0.95" stroke-linecap="round"/>
<path d="M503.1 805.6l11.4 4.9M504.3 815.3l10.1 1.2M584.1 790.9l-0.5 10.2M535.3 819.5l-1.0 8.6M497.0 836.5l14.4 -1.5M480.7 823.9l8.1 -0.3M449.4 803.1l5.5 0.4M489.3 827.4l14.1 -4.7M563.6 842.7l-5.4 4.5M533.9 812.6l0.6 12.1M466.0 797.8l10.8 -1.1M538.0 792.0l3.7 10.6M532.4 816.5l7.9 9.7M480.1 821.4l11.5 -1.2M514.8 814.0l12.2 6.8" fill="none" stroke="#e09a30" stroke-width="1.1" opacity="0.95" stroke-linecap="round"/>
<path d="M589.9 830.4l-2.3 7.5M483.2 793.5l9.7 1.8M582.8 831.1l-7.7 10.3M528.9 817.2l2.8 9.7M541.8 815.2l-1.4 6.7M539.3 820.2l-1.0 7.8M586.6 840.4l-6.9 8.0M519.4 794.3l6.3 6.1M527.1 815.5l2.2 10.0M454.3 816.4l5.6 -2.8M465.5 827.3l8.7 -6.8M490.4 834.4l7.9 -3.7M510.8 808.7l7.0 6.8M550.0 841.5l-10.7 9.6M593.8 809.8l-1.8 12.9" fill="none" stroke="#e09a30" stroke-width="1.4" opacity="0.95" stroke-linecap="round"/>
<polygon points="481.1,855.9 480.2,839.2 492.2,833.7 501.5,830.0 508.8,818.9 516.2,815.2 525.5,826.3 532.9,835.5 542.1,826.3 549.5,820.8 560.6,830.0 564.3,841.1 560.6,855.9" fill="#e7e4e9"/>
<polygon points="514.4,780.1 519.0,778.2 522.7,794.9 521.8,811.5 516.2,809.7 513.5,794.9" fill="#efe7e2"/>
<line x1="589.8" y1="809.4" x2="595.2" y2="817.3" stroke="#f8efd8" stroke-width="1.1"/>
<line x1="555.8" y1="842.4" x2="563.0" y2="849.8" stroke="#f8efd8" stroke-width="1.3"/>
<line x1="571.6" y1="836.3" x2="578.1" y2="845.1" stroke="#f8efd8" stroke-width="0.9"/>
<line x1="589.5" y1="799.9" x2="594.0" y2="818.0" stroke="#f8efd8" stroke-width="1.1"/>
<line x1="563.0" y1="834.7" x2="566.6" y2="849.4" stroke="#f8efd8" stroke-width="0.8"/>
<line x1="575.8" y1="849.4" x2="580.1" y2="858.1" stroke="#f8efd8" stroke-width="0.7"/>
<line x1="576.5" y1="790.6" x2="586.1" y2="798.6" stroke="#f8efd8" stroke-width="0.8"/>
<line x1="571.5" y1="792.2" x2="578.9" y2="806.5" stroke="#f8efd8" stroke-width="0.8"/>
<line x1="574.7" y1="821.6" x2="579.4" y2="835.7" stroke="#f8efd8" stroke-width="1.0"/>
<line x1="574.0" y1="840.7" x2="580.8" y2="847.2" stroke="#f8efd8" stroke-width="1.2"/>
<line x1="584.0" y1="788.0" x2="587.8" y2="802.8" stroke="#f8efd8" stroke-width="1.2"/>
<line x1="579.1" y1="811.8" x2="591.4" y2="823.9" stroke="#f8efd8" stroke-width="1.1"/>
<line x1="570.6" y1="805.0" x2="581.7" y2="820.7" stroke="#f8efd8" stroke-width="0.9"/>
<line x1="561.0" y1="851.3" x2="562.9" y2="861.2" stroke="#f8efd8" stroke-width="0.7"/>
<line x1="580.2" y1="812.5" x2="588.5" y2="826.4" stroke="#f8efd8" stroke-width="0.8"/>
<line x1="575.2" y1="800.7" x2="584.8" y2="811.6" stroke="#f8efd8" stroke-width="0.9"/>
<line x1="586.3" y1="796.7" x2="588.9" y2="807.6" stroke="#f8efd8" stroke-width="0.8"/>
<line x1="557.1" y1="807.9" x2="559.4" y2="820.1" stroke="#f8efd8" stroke-width="1.2"/>
<line x1="589.3" y1="832.5" x2="598.2" y2="842.2" stroke="#f8efd8" stroke-width="0.7"/>
<line x1="562.4" y1="809.2" x2="573.5" y2="820.9" stroke="#f8efd8" stroke-width="1.0"/>
<line x1="564.0" y1="804.0" x2="570.5" y2="810.7" stroke="#f8efd8" stroke-width="0.9"/>
<line x1="556.0" y1="821.3" x2="567.0" y2="834.6" stroke="#f8efd8" stroke-width="0.8"/>
<line x1="584.9" y1="848.6" x2="587.2" y2="859.1" stroke="#f8efd8" stroke-width="1.3"/>
<line x1="570.7" y1="844.7" x2="578.2" y2="857.1" stroke="#f8efd8" stroke-width="0.8"/>
<line x1="581.2" y1="811.3" x2="585.4" y2="827.2" stroke="#f8efd8" stroke-width="0.9"/>
<line x1="554.4" y1="804.9" x2="561.2" y2="815.3" stroke="#f8efd8" stroke-width="1.0"/>
</g>
<rect x="498.7" y="748.7" width="25.9" height="24.4" fill="none" stroke="#111" stroke-width="1.6" stroke-dasharray="5.2 2.2"/>
</g>
<clipPath id="fo3"><rect x="599.0" y="715.5" width="140.5" height="136.5"/></clipPath>
<g clip-path="url(#fo3)">
<rect x="599.0" y="715.5" width="140.5" height="136.5" fill="url(#lavg)"/>
<g filter="url(#rough)">
<polygon points="667.8,713.5 741.7,713.5 741.7,855.9 605.3,855.9 611.4,822.6 622.0,789.3 636.4,759.8 651.2,737.6" fill="#d56a3a"/>
<polygon points="670.6,713.5 741.7,713.5 741.7,855.9 607.9,855.9 613.8,823.3 624.6,790.4 638.6,761.2 653.4,739.1" fill="#f6c02a" filter="url(#grainO)"/>
<path d="M675.6 763.5l5.8 0.6M614.1 826.0l0.5 -7.6M674.8 779.9l9.6 -6.6M648.0 764.8l5.8 -8.1M664.5 772.4l8.2 -4.8M706.7 746.4l12.4 5.7M666.3 760.3l10.8 -6.8M684.0 841.9l-6.3 -10.3M684.3 837.1l-11.4 -7.5M686.4 772.9l8.0 1.2M673.9 714.3l10.1 -1.9M656.9 868.5l-8.0 -11.2M653.4 809.2l6.2 -12.0M614.1 834.6l-1.0 -11.9M686.8 833.8l-4.1 -4.1M670.1 814.4l-2.2 -10.5M672.3 713.5l5.3 1.7M647.2 885.2l-6.1 -13.7M675.4 843.6l-4.8 -9.8M608.8 788.1l4.5 -8.1M665.9 831.5l-1.2 -13.5M631.2 844.2l-3.2 -8.8" fill="none" stroke="#f7efe6" stroke-width="0.8" opacity="0.95" stroke-linecap="round"/>
<path d="M611.3 786.9l2.0 -8.2M630.5 836.9l-2.0 -14.3M715.6 709.7l5.7 0.8M644.2 807.8l3.9 -5.8M643.5 808.8l2.2 -14.0M640.7 802.3l6.6 -8.9M691.7 845.2l-12.4 -2.8M670.7 716.7l9.5 1.3M697.4 761.6l8.0 3.1M634.4 856.5l-2.1 -12.1M632.2 780.4l7.6 -6.4M706.8 752.6l9.4 4.6M671.9 844.6l-4.1 -7.6M646.6 755.1l9.6 -6.7M689.0 855.7l-14.3 -3.8M662.1 810.6l-1.1 -11.0M643.0 745.1l5.5 -3.5M610.3 820.2l-1.4 -14.4M648.3 779.0l11.4 -6.5M671.4 832.5l-3.8 -12.6M679.6 877.1l-6.8 -9.0M685.5 774.2l7.3 -2.3M700.8 758.8l11.5 6.8M666.2 744.4l5.0 -0.8M701.9 760.3l12.2 3.7M667.9 892.5l-7.1 -10.4M665.9 818.0l-4.5 -13.9" fill="none" stroke="#f7efe6" stroke-width="1.1" opacity="0.95" stroke-linecap="round"/>
<path d="M688.1 866.6l-10.5 -10.1M661.1 763.1l5.6 -1.5M652.8 861.2l-9.8 -9.0M657.8 781.7l10.1 -8.7M620.9 862.3l-0.2 -6.3M646.3 753.7l12.4 -5.6M632.0 817.9l1.0 -6.7M656.8 774.2l7.6 -8.4M688.4 750.1l10.5 1.3M638.3 845.8l-6.8 -12.3M671.5 711.6l14.7 1.3M688.1 729.5l9.4 -1.1M672.5 784.2l13.2 -6.9M602.9 797.5l3.5 -5.3M685.0 758.2l10.6 3.1M671.5 873.0l-7.9 -5.6M674.3 753.6l12.1 -4.9M610.9 768.7l8.8 -5.3M623.7 808.7l-0.4 -5.9M623.5 831.1l-0.7 -11.4M677.3 776.0l10.8 -7.0M625.4 773.4l5.5 -4.9M618.0 770.6l6.4 -7.7M713.3 722.0l10.8 6.4M688.2 713.7l11.4 4.4M645.6 801.7l0.6 -6.6M630.9 825.0l-2.5 -11.3M634.8 851.0l-0.8 -6.4M649.3 757.7l12.7 -5.2M647.1 874.4l-4.2 -7.3M696.8 760.0l6.8 -0.6" fill="none" stroke="#f7efe6" stroke-width="1.4" opacity="0.95" stroke-linecap="round"/>
<path d="M661.8 766.9l10.6 -4.5M665.0 749.5l10.1 -0.5M674.3 723.4l12.5 3.9M669.3 831.5l-8.0 -10.2M689.1 715.0l10.4 -1.1M627.5 851.1l0.1 -5.3M628.4 849.4l-2.8 -13.9M616.0 858.7l-3.4 -14.0M698.3 716.7l9.8 2.3M721.3 737.0l11.5 7.7M682.7 831.8l-4.7 -7.8" fill="none" stroke="#e08a2a" stroke-width="0.8" opacity="0.95" stroke-linecap="round"/>
<path d="M666.8 891.3l-5.1 -3.6M625.2 832.6l1.3 -6.7M628.2 816.5l0.4 -10.5M649.3 790.3l6.0 -9.4M628.1 785.9l8.3 -11.5M673.7 757.4l6.9 -0.7M674.7 722.0l12.7 3.2M691.4 715.2l5.4 0.5M675.2 752.6l11.5 -4.3M685.1 770.6l14.9 -1.0M725.1 728.5l10.9 5.3M623.0 787.8l1.2 -6.3" fill="none" stroke="#e08a2a" stroke-width="1.1" opacity="0.95" stroke-linecap="round"/>
<path d="M662.4 842.6l-3.5 -3.8M660.4 850.1l-9.4 -9.8M669.1 795.6l7.0 -12.8M683.7 728.4l10.0 1.1M665.4 761.1l6.0 -4.9M622.1 827.0l0.0 -9.0M639.9 843.9l-0.7 -5.3M679.5 879.7l-10.0 -6.7M712.8 763.2l3.6 4.5M695.3 723.9l7.7 3.1M660.7 785.6l8.1 -5.3M667.1 895.1l-8.1 -9.3M642.7 866.2l-3.4 -5.2M618.7 788.1l4.4 -13.8M634.1 798.1l3.4 -12.0M663.8 862.7l-3.7 -4.9M679.3 838.5l-3.3 -7.1" fill="none" stroke="#e08a2a" stroke-width="1.4" opacity="0.95" stroke-linecap="round"/>
<polygon points="688.1,752.4 704.8,749.6 723.3,767.1 741.7,785.6 741.7,837.4 704.8,837.4 684.4,830.0 675.2,811.5 686.3,785.6" fill="#e7e4e9"/>
<polygon points="727.0,763.5 734.4,769.0 741.7,770.8 741.7,789.3 730.7,787.5 726.0,778.2" fill="#d9a030"/>
<line x1="619.3" y1="796.4" x2="632.8" y2="783.0" stroke="#f6ecd8" stroke-width="0.8"/>
<line x1="641.7" y1="768.9" x2="653.4" y2="748.9" stroke="#f6ecd8" stroke-width="0.9"/>
<line x1="646.8" y1="778.3" x2="658.7" y2="766.7" stroke="#f6ecd8" stroke-width="0.9"/>
<line x1="669.5" y1="789.8" x2="674.4" y2="770.1" stroke="#f6ecd8" stroke-width="1.1"/>
<line x1="616.3" y1="794.1" x2="631.0" y2="783.5" stroke="#f6ecd8" stroke-width="0.9"/>
<line x1="622.0" y1="789.0" x2="637.6" y2="770.0" stroke="#f6ecd8" stroke-width="1.1"/>
<line x1="684.0" y1="799.6" x2="687.6" y2="784.6" stroke="#f6ecd8" stroke-width="0.9"/>
<line x1="616.6" y1="770.7" x2="636.6" y2="756.9" stroke="#f6ecd8" stroke-width="0.7"/>
<line x1="618.4" y1="850.5" x2="623.1" y2="836.4" stroke="#f6ecd8" stroke-width="0.8"/>
<line x1="627.8" y1="766.2" x2="640.0" y2="747.4" stroke="#f6ecd8" stroke-width="0.6"/>
<line x1="648.7" y1="775.2" x2="667.3" y2="759.3" stroke="#f6ecd8" stroke-width="1.2"/>
<line x1="651.8" y1="776.0" x2="659.8" y2="768.3" stroke="#f6ecd8" stroke-width="1.1"/>
<line x1="634.5" y1="842.6" x2="643.5" y2="822.7" stroke="#f6ecd8" stroke-width="0.9"/>
<line x1="630.0" y1="807.0" x2="636.6" y2="796.4" stroke="#f6ecd8" stroke-width="1.0"/>
<line x1="651.7" y1="825.6" x2="660.7" y2="807.9" stroke="#f6ecd8" stroke-width="0.7"/>
<line x1="651.0" y1="784.7" x2="660.9" y2="776.2" stroke="#f6ecd8" stroke-width="0.8"/>
<line x1="617.5" y1="790.0" x2="625.7" y2="779.1" stroke="#f6ecd8" stroke-width="0.7"/>
<line x1="678.4" y1="791.0" x2="684.2" y2="775.7" stroke="#f6ecd8" stroke-width="1.2"/>
<line x1="667.6" y1="843.5" x2="676.9" y2="831.3" stroke="#f6ecd8" stroke-width="1.0"/>
<line x1="616.7" y1="824.0" x2="636.1" y2="808.8" stroke="#f6ecd8" stroke-width="1.2"/>
<line x1="660.2" y1="834.8" x2="668.1" y2="817.5" stroke="#f6ecd8" stroke-width="0.7"/>
<line x1="681.6" y1="808.9" x2="689.9" y2="784.5" stroke="#f6ecd8" stroke-width="1.0"/>
<line x1="628.1" y1="838.5" x2="641.2" y2="823.5" stroke="#f6ecd8" stroke-width="1.2"/>
<line x1="635.7" y1="788.1" x2="644.0" y2="777.7" stroke="#f6ecd8" stroke-width="1.1"/>
<line x1="647.6" y1="781.2" x2="651.1" y2="769.1" stroke="#f6ecd8" stroke-width="1.0"/>
<line x1="680.0" y1="834.2" x2="695.1" y2="822.5" stroke="#f6ecd8" stroke-width="1.2"/>
<line x1="636.8" y1="796.1" x2="648.4" y2="788.0" stroke="#f6ecd8" stroke-width="1.0"/>
<line x1="654.3" y1="768.1" x2="668.4" y2="750.2" stroke="#f6ecd8" stroke-width="1.2"/>
<line x1="643.3" y1="843.2" x2="648.4" y2="819.2" stroke="#f6ecd8" stroke-width="1.1"/>
<line x1="672.3" y1="803.2" x2="687.0" y2="785.2" stroke="#f6ecd8" stroke-width="0.8"/>
</g>
<path d="M 699.2 789.3 q 3 4 2 8 q 2 3 7 5" fill="none" stroke="#1a1a22" stroke-width="1.6"/>
<rect x="627.7" y="801.3" width="25.7" height="24.6" fill="none" stroke="#111" stroke-width="1.6" stroke-dasharray="5.2 2.2"/>
<rect x="710.9" y="840.2" width="18.5" height="3.7" fill="#000"/>
</g>
<clipPath id="fd0"><rect x="155.5" y="860.0" width="140.5" height="136.3"/></clipPath>
<g clip-path="url(#fd0)">
<rect x="115.5" y="820.0" width="220.5" height="216.3" fill="#f5ba2c" filter="url(#grainO)" transform="rotate(72 225.8 928.1)"/>
<path d="M216.9 946.2l3.3 12.4M169.9 982.5l11.9 23.5M222.8 969.9l6.4 25.1M148.3 858.9l3.4 19.9M294.4 912.0l7.6 21.9M226.7 979.0l8.6 28.3M200.2 924.8l4.1 19.6M197.3 943.2l8.7 17.1M196.6 916.7l6.6 26.3M289.4 874.5l2.9 17.0M172.5 966.3l4.6 14.2M195.2 976.1l5.0 18.2M256.0 926.2l4.6 8.9M259.9 911.1l7.8 26.9M169.7 950.8l4.5 9.6M172.0 880.6l5.3 19.0M245.9 899.9l6.5 15.2M169.9 918.0l7.3 25.8M148.1 963.4l4.0 22.3M166.0 883.0l4.4 14.4M204.1 977.7l2.9 16.2M219.6 987.5l2.8 13.4M277.9 853.6l3.8 9.5M174.9 878.8l5.8 27.9M154.9 865.8l4.9 10.0M290.1 959.2l1.7 10.4M209.2 929.5l5.5 13.8M287.5 937.5l10.1 20.1M287.0 940.8l7.3 26.2M208.8 896.0l7.1 16.8M166.9 916.3l4.5 14.2M282.4 986.3l5.2 16.5M164.4 880.3l2.3 11.9M223.7 991.1l7.7 25.8M205.6 851.2l5.6 17.4M249.7 900.7l6.8 25.6M225.7 875.9l5.4 26.7M281.7 893.7l3.0 16.0M283.7 885.0l7.5 24.5M210.3 969.9l7.5 29.0M244.9 920.2l5.8 13.2" fill="none" stroke="#e9982a" stroke-width="1.0" opacity="0.55" stroke-linecap="round"/>
<path d="M179.8 850.2l7.9 28.5M157.9 878.1l3.2 14.9M275.9 906.4l5.6 14.0M178.7 861.4l7.2 17.2M260.8 882.2l7.9 27.9M293.6 996.1l3.2 10.0M221.1 921.7l8.5 22.1M280.1 873.7l10.4 25.4M165.3 979.7l5.0 14.0M216.5 858.6l7.0 23.4M280.6 983.2l7.7 24.6M250.9 907.7l7.1 16.7M157.9 898.6l6.0 23.7M250.2 961.1l7.3 27.7M146.7 902.7l5.3 13.0M190.1 925.5l11.9 25.4M214.8 964.9l11.6 22.7M210.1 903.4l7.6 21.2M184.5 854.8l6.6 25.1M207.6 940.4l7.0 16.7M277.0 970.1l8.8 23.1M261.9 929.9l13.1 25.0M164.6 907.5l5.0 15.1M272.7 853.0l10.6 22.8M249.4 989.9l4.6 18.0M290.4 904.9l12.7 25.3M233.9 967.5l5.1 18.5M166.1 890.6l5.1 11.4M255.5 970.8l3.7 16.4M241.1 940.6l7.6 15.0M187.1 899.1l9.9 26.4M195.0 928.6l4.0 20.1M170.1 921.0l7.2 14.6M179.9 859.8l3.4 13.3M241.5 943.2l5.5 18.8M214.5 987.1l6.7 18.1M218.5 946.4l6.4 26.2M199.0 894.9l12.8 24.7M211.1 853.1l5.3 16.3M149.2 966.5l6.7 21.4M157.7 949.4l7.2 14.0M270.7 852.9l8.1 17.4M251.0 960.0l5.0 24.5M198.9 892.8l4.7 16.8M211.3 983.3l4.1 10.3" fill="none" stroke="#e9982a" stroke-width="1.3" opacity="0.55" stroke-linecap="round"/>
<path d="M295.5 920.6l5.0 18.5M229.1 924.2l9.8 19.9M235.2 919.8l3.7 10.0M202.8 975.7l4.8 9.3M209.8 906.8l2.6 11.8M278.2 947.8l4.7 11.4M232.8 900.8l8.7 23.1M264.8 953.9l6.3 14.1M248.8 921.9l3.9 13.7M226.5 961.4l8.1 22.0M153.4 865.6l4.6 15.6M271.3 866.0l10.7 25.6M261.5 975.7l10.2 25.5M248.6 928.5l6.7 19.4M240.9 906.8l6.9 19.1M285.9 854.5l5.2 20.6M244.2 899.4l11.7 23.1M286.0 903.0l10.7 26.4M260.7 979.0l3.4 16.5M237.7 868.6l8.6 27.7M187.5 900.2l1.8 12.3M240.6 875.3l6.4 21.0M190.2 898.6l4.6 17.3M186.6 982.1l8.9 19.9M204.2 991.5l2.3 12.8M163.8 971.7l6.9 18.6M159.5 878.2l3.4 17.3M184.7 928.1l2.1 12.0M158.3 929.9l3.2 18.8M178.6 909.6l5.2 24.4M292.3 870.6l3.5 12.2M210.6 961.7l11.8 26.6M194.5 932.8l6.1 19.7M278.6 862.8l3.4 21.9" fill="none" stroke="#e9982a" stroke-width="1.6" opacity="0.55" stroke-linecap="round"/>
<g filter="url(#rough)">
<polygon points="159.2,859.6 169.4,859.6 175.0,929.8 167.6,996.4 157.4,996.4 163.3,929.8" fill="#f4efee"/>
<polygon points="175.9,859.6 181.8,859.6 198.4,911.3 211.7,948.3 213.8,996.4 205.5,996.4 201.8,952.0 190.7,913.2" fill="#f4efee"/>
<polygon points="196.2,902.1 216.5,911.3 221.2,927.0 205.5,917.8" fill="#f4efee"/>
<polygon points="214.7,859.6 221.0,859.6 239.5,902.1 254.3,939.1 265.7,966.8 276.8,996.4 268.3,996.4 257.2,970.5 246.1,942.8 231.3,903.9" fill="#f4efee"/>
<polygon points="253.5,871.6 286.8,859.6 296.0,861.4 260.9,879.0" fill="#f4efee"/>
<polygon points="253.5,926.1 268.3,929.8 290.5,948.3 296.0,955.7 296.0,964.0 279.4,948.3 264.6,939.1" fill="#f4efee"/>
<polygon points="231.3,948.3 239.1,952.0 246.5,985.3 242.4,996.4 236.9,985.3" fill="#f4efee"/>
<polygon points="185.1,929.8 189.7,931.7 194.4,970.5 189.7,996.4 185.1,996.4 187.9,966.8" fill="#f4efee"/>
<polygon points="272.0,859.6 277.5,859.6 290.5,892.8 296.0,911.3 296.0,920.6 284.9,896.5" fill="#f4efee"/>
<polygon points="155.5,948.3 161.1,953.8 159.2,981.6 155.5,985.3" fill="#f4efee"/>
</g>
</g>
<clipPath id="fd1"><rect x="303.5" y="860.0" width="140.5" height="136.3"/></clipPath>
<g clip-path="url(#fd1)">
<rect x="263.5" y="820.0" width="220.5" height="216.3" fill="#f1ae32" filter="url(#grainO)" transform="rotate(-22 373.8 928.1)"/>
<path d="M417.8 947.8l24.5 -9.1M318.9 919.0l12.1 -5.0M430.2 874.7l21.4 -1.0M330.8 975.8l9.8 -6.1M376.0 984.0l20.5 -6.6M357.7 856.1l12.5 -0.7M416.3 924.7l11.3 -1.1M431.3 853.7l25.7 -13.8M365.3 850.6l7.7 -6.6M426.7 962.0l10.2 -4.9M340.5 893.6l10.8 -1.6M341.0 907.4l21.2 -11.9M344.4 853.0l13.0 -7.0M391.5 953.5l12.5 -12.1M348.8 875.2l11.3 -4.9M320.3 922.8l12.6 -5.5M339.4 960.5l10.6 0.2M318.4 911.7l10.4 -4.7M299.6 993.8l29.1 -5.8M335.8 937.0l14.1 -1.5M368.2 949.8l29.7 0.6M434.6 913.4l16.8 -15.0M298.2 961.9l26.9 -8.9M429.1 868.1l20.2 -9.8M425.2 992.5l10.7 -7.6M360.8 949.4l15.7 -1.3M329.6 923.4l25.5 -6.5M360.7 938.1l22.2 -8.6M401.4 994.3l18.8 -14.7M312.0 974.6l16.7 -13.7M369.5 941.9l14.9 -12.1" fill="none" stroke="#f6c63c" stroke-width="1.0" opacity="0.6" stroke-linecap="round"/>
<path d="M391.3 881.2l9.7 -6.1M442.2 950.1l17.6 -6.1M391.3 871.1l12.7 -4.1M387.7 947.0l14.3 -13.2M405.1 870.5l27.1 0.3M385.1 951.5l12.4 -3.8M430.0 851.2l12.7 -1.8M309.7 851.5l17.3 -2.1M413.5 864.1l26.1 -4.6M349.4 891.0l10.9 -5.5M334.7 951.8l15.1 -0.2M359.4 923.0l25.8 -8.5M385.0 874.6l26.8 2.1M432.2 967.5l10.6 -4.8M442.3 850.9l15.9 -6.4M301.2 957.4l23.9 -2.8M364.5 943.8l24.1 -10.7M365.2 869.3l8.3 -5.8M409.8 898.3l14.5 -2.3M357.8 882.7l17.6 -4.8M385.8 973.6l10.9 0.3M376.4 905.3l14.5 -10.4M330.3 985.2l16.3 -11.2M374.9 863.4l17.9 -5.2M394.1 858.3l12.7 -8.5M299.1 909.3l20.7 -19.8M414.0 993.0l14.7 -12.2M356.6 961.7l12.1 -2.4M303.5 877.6l21.5 -16.7M333.9 920.3l22.5 -4.5M395.8 974.7l26.9 -7.2M339.7 981.7l18.4 -7.5" fill="none" stroke="#f6c63c" stroke-width="1.4" opacity="0.6" stroke-linecap="round"/>
<path d="M370.9 948.5l23.7 -9.4M344.1 878.0l12.7 0.2M412.9 992.0l20.3 -0.1M388.4 962.4l22.4 -6.9M377.5 863.0l23.6 -5.2M402.0 867.4l13.1 -2.8M302.5 869.7l24.4 0.6M416.0 958.0l10.1 -6.7M432.3 931.9l13.7 -0.7M391.1 920.5l21.5 -0.9M418.1 853.2l24.6 -9.1M318.1 983.2l28.1 -0.2M435.5 928.9l14.9 -0.3M332.1 954.7l18.2 -5.5M389.7 953.1l20.7 -0.6M302.5 988.7l18.0 -15.0M349.3 923.9l20.3 -5.5M339.7 871.8l20.8 -20.5M388.9 851.5l22.3 -13.4M367.3 869.7l28.0 -10.5M409.1 984.0l23.8 -16.0M364.6 985.9l26.3 -2.9M438.4 879.6l18.7 0.8M315.8 979.1l13.9 -0.9M328.2 938.7l9.0 -4.9M349.7 958.8l25.3 -6.8M311.5 929.4l15.8 -12.4" fill="none" stroke="#f6c63c" stroke-width="1.8" opacity="0.6" stroke-linecap="round"/>
<path d="M 304.3 985.3 L 316.4 970.5 L 331.1 955.7 L 342.2 940.9 L 348.7 928.0" fill="none" stroke="#d8302a" stroke-width="7" opacity="0.95" stroke-linecap="round" stroke-linejoin="round" filter="url(#b2)"/>
<path d="M 316.4 892.8 L 334.8 894.7 L 349.6 907.6 L 353.3 922.4" fill="none" stroke="#e04a2c" stroke-width="9" opacity="0.75" stroke-linecap="round" stroke-linejoin="round" filter="url(#b3)"/>
<path d="M 345.9 946.4 L 371.8 948.3 L 394.0 942.8 L 412.5 939.1 L 431.0 946.4" fill="none" stroke="#da3a2c" stroke-width="9" opacity="0.85" stroke-linecap="round" stroke-linejoin="round" filter="url(#b3)"/>
<path d="M 395.8 939.1 L 408.8 953.8 L 416.2 966.8" fill="none" stroke="#dc402c" stroke-width="6" opacity="0.75" stroke-linecap="round" stroke-linejoin="round" filter="url(#b2)"/>
<path d="M 371.8 870.7 L 399.5 881.8 L 423.6 896.5 L 438.4 911.3" fill="none" stroke="#e25a30" stroke-width="9" opacity="0.6" stroke-linecap="round" stroke-linejoin="round" filter="url(#b3)"/>
<path d="M 316.4 911.3 L 344.1 904.9 L 371.8 903.9 L 399.5 909.5 L 423.6 920.6" fill="none" stroke="#f6ebe0" stroke-width="3.2" opacity="1.0" stroke-linecap="round" stroke-linejoin="round" filter="url(#b1)"/>
<path d="M 305.3 981.6 L 327.4 957.5 L 345.9 946.4 L 371.8 941.8 L 390.3 936.3 L 412.5 932.6 L 431.0 940.9" fill="none" stroke="#f6ebe0" stroke-width="2.6" opacity="1.0" stroke-linecap="round" stroke-linejoin="round" filter="url(#b1)"/>
<path d="M 307.1 974.2 L 323.8 953.8 L 338.5 939.1" fill="none" stroke="#f4e6dc" stroke-width="2.4" opacity="1.0" stroke-linecap="round" stroke-linejoin="round" filter="url(#b1)"/>
<path d="M 386.6 861.4 L 405.1 870.7 L 419.9 883.6" fill="none" stroke="#f4e6dc" stroke-width="2" opacity="1.0" stroke-linecap="round" stroke-linejoin="round" filter="url(#b1)"/>
</g>
<clipPath id="fd2"><rect x="451.5" y="860.0" width="140.2" height="136.3"/></clipPath>
<g clip-path="url(#fd2)">
<rect x="411.5" y="820.0" width="220.2" height="216.3" fill="#f3b431" filter="url(#grainO)" transform="rotate(-28 521.6 928.1)"/>
<path d="M443.4 987.7l13.6 -6.5M562.0 871.1l22.0 -7.8M500.0 941.6l22.6 -1.9M541.2 864.9l25.6 -1.9M576.7 972.2l22.5 -7.7M482.5 965.2l16.2 -3.1M465.2 897.9l19.8 -4.9M561.7 923.4l16.5 -11.4M567.0 966.1l10.0 -15.0M588.6 896.5l15.4 -4.2M513.1 981.8l12.6 -3.4M498.9 857.8l16.0 -14.2M581.5 866.4l12.3 -8.0M554.2 925.3l21.0 -7.6M449.3 954.4l10.4 -2.4M485.6 919.8l13.4 -17.9M485.7 892.0l19.4 -9.3M471.5 873.5l15.3 -2.7M528.4 978.4l15.8 -9.0M513.4 852.2l14.1 -22.7M557.1 874.0l11.9 -15.7M522.9 905.4l13.4 -17.9M467.9 990.6l19.4 -15.0M556.6 872.2l9.8 -3.9M517.1 922.2l21.8 -11.5M455.3 888.2l9.3 -7.7M507.6 854.5l7.7 -10.4M552.5 917.5l8.7 -6.0M513.2 907.3l14.3 -16.7M543.6 872.6l26.6 -0.6M484.6 972.0l13.7 -17.2M563.4 969.0l14.4 -1.3" fill="none" stroke="#f7c93e" stroke-width="1.0" opacity="0.5" stroke-linecap="round"/>
<path d="M549.5 910.6l14.3 -6.8M493.2 925.0l13.3 -17.1M457.0 972.8l12.0 -9.1M490.2 862.5l10.2 -6.7M522.9 979.5l11.7 -14.9M584.9 867.7l25.5 -6.5M562.1 989.6l17.0 -4.0M473.9 888.2l8.9 -8.0M458.3 902.2l14.6 -20.1M475.6 953.1l15.6 -8.0M520.2 865.8l9.7 -3.1M571.1 959.8l11.0 -6.7M527.0 978.6l13.6 -4.1M532.4 948.1l15.7 -12.7M464.6 993.7l17.2 -10.5M517.0 967.0l19.1 -3.1M469.6 929.9l13.6 -11.1M460.9 938.8l22.1 -12.8M510.7 942.1l12.5 -4.2M518.9 970.7l15.4 -4.4M555.7 946.9l6.4 -11.1M523.6 925.1l14.5 -19.3M566.3 991.1l18.7 -2.7M532.9 937.7l16.9 -22.1M478.0 868.5l9.9 -15.4M508.1 960.6l14.0 -5.4M576.3 961.9l14.5 -8.2M559.0 932.5l14.0 -5.5M500.0 981.1l12.0 -13.0M519.9 946.9l23.8 -5.8M574.2 992.9l7.0 -10.4M534.4 876.5l15.3 -17.0M530.2 898.0l14.2 -22.3M505.5 947.5l14.3 -4.3" fill="none" stroke="#f7c93e" stroke-width="1.4" opacity="0.5" stroke-linecap="round"/>
<path d="M548.0 945.8l15.7 -4.3M517.8 913.2l9.6 -12.1M483.1 909.6l8.1 -11.5M571.5 973.4l17.9 -6.2M494.8 952.6l18.0 -10.0M527.2 906.2l26.3 -4.1M525.4 893.9l25.6 -2.0M543.1 956.8l15.9 -15.4M442.8 863.0l19.5 -10.8M518.2 899.6l13.6 -7.7M444.5 917.2l19.3 -1.5M479.3 872.1l9.4 -15.2M535.5 969.0l21.5 -15.9M576.4 982.8l12.7 -9.9M565.5 936.5l9.1 -4.5M479.3 905.7l9.4 -13.6M528.8 945.4l11.7 -1.2M474.5 955.5l19.1 -10.3M582.8 897.2l13.1 -20.1M547.9 927.8l19.8 -13.5M566.2 958.5l15.1 -1.8M567.1 890.4l11.3 -9.2M468.6 892.8l13.0 -4.0M477.3 964.5l12.4 -18.1M578.9 969.7l12.5 -15.9M487.9 865.6l19.8 -0.7M553.8 979.8l26.3 -5.9M536.8 904.7l18.8 -16.9M559.4 874.3l8.5 -7.6M488.1 889.7l8.8 -12.8M468.9 875.3l16.8 -14.2M463.8 948.3l10.1 -15.6M591.5 898.7l5.9 -9.6M534.9 943.1l23.4 -12.1M519.1 930.9l15.8 -1.3M458.3 892.6l19.8 -8.5M577.4 954.6l14.5 -15.6M577.6 927.0l26.9 -3.8M525.2 875.7l18.0 -8.4M581.1 934.5l10.9 -6.5M492.1 942.1l24.5 -2.3M558.8 952.5l12.0 -3.6M499.2 918.8l15.0 -10.9M549.6 886.9l9.1 -9.1" fill="none" stroke="#f7c93e" stroke-width="1.8" opacity="0.5" stroke-linecap="round"/>
<path d="M540.8 857.2l16.8 -3.6M447.0 885.3l12.7 -8.8M487.7 899.1l8.5 -3.0M571.1 976.6l8.4 -6.5M529.2 988.7l16.5 -4.5M522.6 959.0l10.5 -3.5M528.8 927.8l13.1 -3.2M483.8 931.4l9.8 -5.2M561.5 974.7l11.7 -13.5M503.6 936.3l11.5 -14.4M513.8 876.2l13.3 -7.0M561.2 882.3l15.1 -2.7M489.5 892.3l11.9 -0.4M445.4 903.4l12.7 -8.7M517.1 863.6l12.5 -9.3M580.1 994.7l6.2 -9.6M539.3 957.3l11.1 -5.2M527.3 851.6l8.6 -4.3" fill="none" stroke="#e89a2c" stroke-width="0.7" opacity="0.5" stroke-linecap="round"/>
<path d="M469.7 992.4l11.3 -8.6M531.4 884.9l13.5 -2.9M476.1 909.3l8.2 -1.0M458.0 870.0l6.7 -7.1M450.3 867.2l19.0 -1.4M448.6 987.0l10.3 -0.9M448.2 976.7l18.9 -4.6M513.0 969.4l9.9 -5.1M537.8 930.0l14.8 -5.7M554.3 980.4l6.7 -8.2M441.7 853.0l5.6 -7.1M501.0 930.4l13.9 -0.6M478.7 864.7l8.3 -8.6M447.8 867.8l13.1 -5.0M554.5 923.7l19.1 -3.2M511.7 899.6l18.7 -2.3M461.5 952.8l8.0 -8.8M466.4 911.1l5.9 -8.7M591.0 880.5l10.0 -9.9M587.3 972.5l7.2 -8.9M456.9 905.7l10.4 -12.2" fill="none" stroke="#e89a2c" stroke-width="1.0" opacity="0.5" stroke-linecap="round"/>
<path d="M551.8 890.4l18.6 -6.3M479.3 911.7l9.9 -4.9M541.9 922.4l6.7 -8.1M492.6 902.9l18.2 -6.4M464.0 868.8l13.3 -9.6M566.5 909.5l17.9 -4.3M554.7 974.0l13.4 -10.2M469.6 946.2l14.8 -4.6M568.2 858.4l15.0 -8.1M524.0 979.7l7.5 -3.4M504.4 873.7l6.7 -5.7M565.3 863.9l19.2 -1.4M480.6 971.7l7.6 -5.5M493.3 921.1l7.5 -3.3M479.6 860.7l10.5 -14.1M490.8 959.7l8.7 -11.8M550.3 893.0l11.8 -1.7M453.0 984.0l18.3 -5.6M584.3 957.3l8.5 -8.5M457.0 865.4l17.2 -7.6M484.6 993.5l13.1 -5.7" fill="none" stroke="#e89a2c" stroke-width="1.3" opacity="0.5" stroke-linecap="round"/>
<line x1="505.1" y1="892.8" x2="509.8" y2="909.5" stroke="#dc3f2c" stroke-width="2.2" opacity="0.8" stroke-linecap="round"/>
<line x1="509.8" y1="909.5" x2="516.2" y2="929.8" stroke="#dc3f2c" stroke-width="1.8" opacity="0.8" stroke-linecap="round"/>
<line x1="523.6" y1="905.8" x2="532.9" y2="920.6" stroke="#dc3f2c" stroke-width="2" opacity="0.8" stroke-linecap="round"/>
<line x1="532.9" y1="920.6" x2="540.3" y2="926.1" stroke="#dc3f2c" stroke-width="2" opacity="0.8" stroke-linecap="round"/>
<line x1="511.6" y1="924.3" x2="517.2" y2="932.6" stroke="#dc3f2c" stroke-width="2.4" opacity="0.8" stroke-linecap="round"/>
<line x1="508.8" y1="939.1" x2="503.3" y2="952.0" stroke="#dc3f2c" stroke-width="1.4" opacity="0.8" stroke-linecap="round"/>
<line x1="519.9" y1="898.4" x2="525.5" y2="913.2" stroke="#dc3f2c" stroke-width="1.4" opacity="0.8" stroke-linecap="round"/>
<ellipse cx="462.6" cy="896.5" rx="5" ry="15" fill="#f5e8cf" opacity="0.8" filter="url(#b2)" transform="rotate(20 462.6 896.5)"/>
</g>
<clipPath id="fd3"><rect x="599.0" y="860.0" width="140.5" height="136.3"/></clipPath>
<g clip-path="url(#fd3)">
<rect x="559.0" y="820.0" width="220.5" height="216.3" fill="#f1ac2e" filter="url(#grainO)" transform="rotate(105 669.2 928.1)"/>
<path d="M631.5 933.6l-1.3 24.6M610.3 890.8l-3.4 17.8M595.9 863.5l-12.5 19.3M714.3 862.0l-3.6 11.7M640.2 865.4l-7.0 14.6M608.7 859.3l-15.5 27.1M593.9 889.4l-2.1 16.0M628.6 919.4l-6.1 13.4M687.5 925.1l-0.6 27.8M725.3 939.1l-11.7 23.0M688.1 951.4l-6.8 27.6M698.8 954.7l-6.5 20.0M658.2 891.4l-10.4 22.5M596.7 946.2l-7.5 30.1M688.7 891.5l-10.3 25.6M727.6 937.3l-5.6 13.2M650.4 980.9l-8.6 13.4M689.0 964.9l-6.4 12.9M606.6 890.8l-1.3 14.2M649.3 871.3l-15.4 23.7M705.2 984.5l-13.5 22.7M706.6 974.2l-13.3 22.8M607.1 869.9l-7.3 15.0M663.9 958.6l-17.3 29.3M647.1 908.4l-4.7 14.7M633.1 947.9l-2.6 15.4M690.8 952.8l-10.7 30.3M729.5 957.1l-2.7 21.3M624.8 874.9l-1.9 27.3M607.3 976.7l-2.2 31.5M589.7 894.2l-4.0 25.2M704.7 951.4l-1.7 21.8M736.8 984.1l-3.4 14.5M710.6 880.9l-2.5 14.8M621.4 959.4l-13.2 21.7M626.2 988.9l-8.3 28.8" fill="none" stroke="#f8d040" stroke-width="1.0" opacity="0.6" stroke-linecap="round"/>
<path d="M697.7 880.6l-11.2 21.2M644.2 900.3l-13.3 23.2M618.8 923.1l-8.1 16.6M697.4 944.7l-1.7 31.7M629.0 875.1l-6.5 11.3M636.9 963.0l0.2 14.5M704.8 970.7l-15.9 27.2M689.6 854.3l-2.9 19.1M593.7 956.6l-3.0 13.9M666.0 886.4l-0.2 12.1M711.2 908.1l-6.3 13.6M670.1 911.0l-7.9 17.6M736.0 851.3l-12.6 28.8M714.2 987.6l0.3 28.4M639.8 889.0l-14.3 28.0M719.5 878.6l-7.9 18.5M592.0 890.3l-4.9 24.3M686.2 975.6l-8.8 25.9M705.0 887.0l-10.0 25.3M630.3 879.6l-7.9 14.5M589.6 937.3l-9.4 29.5M635.7 926.5l-2.3 18.0M591.4 975.2l-9.4 27.1M668.7 858.0l-7.2 29.2M704.1 898.1l-0.4 13.0M672.6 888.0l-8.6 28.0M614.3 886.3l-6.3 17.3M663.3 878.6l-0.5 13.3M731.8 989.7l-9.3 25.2M674.7 962.8l-2.7 31.6M594.0 975.4l-1.9 13.6M626.1 994.8l-3.6 21.7M719.5 889.2l-10.0 16.9M599.4 861.6l-4.2 13.8M611.9 970.8l-14.0 30.4M613.3 917.8l0.4 21.6M680.9 909.9l-6.1 29.3M612.9 908.5l-1.6 13.2M627.3 909.7l-9.7 21.9M674.2 992.7l-8.3 30.2M589.2 853.8l-12.4 27.9M694.1 891.1l-8.2 28.4" fill="none" stroke="#f8d040" stroke-width="1.5" opacity="0.6" stroke-linecap="round"/>
<path d="M605.0 950.7l-8.0 21.0M604.8 941.6l-0.3 26.5M602.4 894.8l0.8 15.4M684.3 890.2l0.4 31.0M664.7 974.3l-4.6 19.7M662.8 863.4l-0.3 14.0M678.8 911.9l-1.8 15.8M647.5 964.4l-8.8 26.3M694.4 961.0l-8.1 15.7M700.8 973.5l0.3 24.7M647.3 899.1l-7.0 17.1M632.7 892.9l-12.4 31.6M592.8 966.6l-4.7 27.2M684.9 868.1l-2.6 13.3M644.3 967.5l-7.6 17.3M632.5 893.4l-0.3 18.4M626.9 885.1l-2.9 22.2M718.0 936.3l-7.9 22.3M671.1 982.2l-10.1 17.6M640.4 946.0l-3.9 18.2M703.2 915.7l-8.1 18.6M696.2 925.9l0.6 18.1M637.3 881.1l-8.0 30.4M722.7 897.1l-10.9 22.0M616.7 950.7l-16.1 26.5M681.1 884.4l-7.0 29.9M660.2 931.4l-8.7 26.9M625.8 959.0l-11.3 19.3M701.1 909.8l-2.6 25.0M736.9 964.6l-7.7 24.1M634.9 877.8l-15.6 27.5M729.3 968.5l-3.2 15.7" fill="none" stroke="#f8d040" stroke-width="2.0" opacity="0.6" stroke-linecap="round"/>
<path d="M688.9 874.1l-3.3 13.9M700.7 861.9l-8.5 17.2M671.0 892.7l-0.5 18.3M626.1 853.6l-8.6 15.5M690.0 906.2l-2.1 11.9M629.8 853.2l-5.7 12.8M663.5 919.8l-8.9 26.1M648.0 884.9l-6.4 11.2M626.3 996.3l-2.3 24.7M627.0 917.3l-7.2 20.3M702.8 907.5l-5.7 11.4M682.5 941.4l-12.4 28.5M649.4 854.1l-0.3 12.6M692.4 901.2l-9.7 19.0M687.6 912.2l-8.1 23.0M680.5 895.3l-4.8 13.4M689.6 866.3l-6.4 22.2" fill="none" stroke="#dd3a2c" stroke-width="1.0" opacity="0.7" stroke-linecap="round"/>
<path d="M613.8 960.0l-2.2 31.5M685.9 954.3l-1.7 18.8M687.4 883.7l-1.4 29.8M695.4 949.5l-8.5 22.9M659.3 905.1l-8.7 31.5M614.8 851.6l-12.0 28.3M674.9 865.4l-1.6 28.2M694.1 884.6l-14.8 27.0M681.2 946.9l-3.7 12.4M659.9 919.6l-10.2 20.6M682.7 970.5l-7.1 21.3M656.1 957.0l-5.0 24.9M656.4 862.1l-5.5 12.6M664.1 905.0l-10.3 31.9M653.6 869.7l-3.2 22.5M668.0 972.5l-9.4 16.6M634.2 975.5l-2.8 14.1M658.3 858.4l-2.6 19.6M701.2 913.6l-6.2 10.9M668.9 919.1l-0.3 12.3M628.6 951.1l-10.6 23.9M634.1 877.8l-9.1 25.1M690.5 854.5l-3.5 32.5M629.8 974.6l-6.4 31.4" fill="none" stroke="#dd3a2c" stroke-width="1.5" opacity="0.7" stroke-linecap="round"/>
<path d="M647.6 865.6l-15.1 27.4M704.5 968.3l-2.2 26.5M644.5 921.0l-11.8 23.9M651.4 946.2l-1.2 24.8M651.2 876.0l-6.3 26.0M703.1 952.9l-6.2 13.9M687.2 915.0l-10.8 25.3M650.0 989.2l-2.7 23.2M669.5 986.4l-2.2 24.8M624.2 886.6l-6.6 16.3M671.9 969.8l-12.2 26.3M671.4 910.5l-3.3 15.3M630.6 875.8l-10.6 23.6M668.6 960.3l-10.0 20.4M664.5 852.9l-2.1 32.5M632.8 914.1l-3.6 30.9M685.6 962.1l-10.3 25.2M664.4 996.3l-2.9 19.7M616.2 866.4l-11.0 22.5M653.3 864.8l-1.4 17.2M682.0 939.4l-12.4 29.3M657.4 989.5l-15.7 28.9M637.6 933.1l-0.8 14.3M673.0 995.5l-6.1 14.7M642.9 858.0l-8.6 20.0M682.8 990.0l-3.2 30.4M659.9 850.8l-0.6 13.7M689.2 924.4l-6.2 15.7M683.1 983.5l-3.9 15.0" fill="none" stroke="#dd3a2c" stroke-width="2.0" opacity="0.7" stroke-linecap="round"/>
<path d="M623.3 913.7l-7.1 21.9M594.9 970.7l-6.5 26.8M600.6 942.7l-3.5 12.6M615.4 977.2l-3.6 23.8M595.3 886.6l-5.3 21.5" fill="none" stroke="#dd4a2c" stroke-width="0.9" opacity="0.6" stroke-linecap="round"/>
<path d="M625.3 984.0l0.2 12.3M615.7 893.7l1.6 19.8M607.1 905.5l-6.0 18.6M625.7 880.9l-2.7 12.1M600.7 889.9l-3.7 13.0M608.1 899.8l-2.5 22.4M608.1 932.4l1.4 16.7M601.1 978.5l-8.9 25.8" fill="none" stroke="#dd4a2c" stroke-width="1.2" opacity="0.6" stroke-linecap="round"/>
<path d="M604.7 942.1l-1.6 28.9M627.1 887.1l-7.0 20.4M623.2 889.2l-2.5 17.8M608.9 910.1l-6.3 17.1M605.6 932.9l0.7 18.2M602.0 974.1l-3.8 14.1M616.9 905.3l-1.0 20.5" fill="none" stroke="#dd4a2c" stroke-width="1.5" opacity="0.6" stroke-linecap="round"/>
<g filter="url(#rough)">
<polygon points="632.7,858.6 649.3,858.6 646.6,874.4 641.9,892.8 636.4,915.0 629.0,937.2 617.9,953.8 605.0,966.8 597.6,970.5 597.6,926.1 606.8,911.3 619.8,889.1 628.1,870.7" fill="#ece7ea"/>
<polygon points="661.3,898.4 667.8,894.7 670.6,903.9 666.9,913.2 661.3,909.5" fill="#f2ece8"/>
<polygon points="672.4,929.8 678.9,926.1 684.4,940.9 690.0,953.8 684.4,959.4 677.1,948.3" fill="#ece7ea"/>
<polygon points="708.5,939.1 717.7,948.3 734.4,953.8 739.9,955.7 739.9,963.1 719.6,957.5 706.6,948.3" fill="#ece7ea"/>
<polygon points="723.3,870.7 734.4,874.4 739.9,885.4 739.9,894.7 730.7,885.4" fill="#ece7ea"/>
<polygon points="691.8,985.3 708.5,981.6 739.9,985.3 739.9,990.8 704.8,989.0" fill="#ece7ea"/>
</g>
</g>
<text x="44.0" y="32.0" font-size="39.5" text-anchor="start">a</text>
<text x="204.0" y="41.7" font-size="25.4" text-anchor="end">AAV-LacZ</text>
<text x="204.0" y="67.7" font-size="25.4" text-anchor="end">AAV-FGF18</text>
<text x="204.0" y="90.7" font-size="25.4" text-anchor="end">TAC</text>
<text x="237.0" y="48.0" font-size="41" text-anchor="middle" stroke="#000" stroke-width="0.9">+</text>
<text x="281.0" y="48.0" font-size="41" text-anchor="middle" stroke="#000" stroke-width="1.5">−</text>
<text x="322.3" y="48.0" font-size="41" text-anchor="middle" stroke="#000" stroke-width="0.9">+</text>
<text x="365.7" y="48.0" font-size="41" text-anchor="middle" stroke="#000" stroke-width="1.5">−</text>
<text x="237.0" y="72.3" font-size="41" text-anchor="middle" stroke="#000" stroke-width="1.5">−</text>
<text x="281.0" y="72.3" font-size="41" text-anchor="middle" stroke="#000" stroke-width="0.9">+</text>
<text x="322.3" y="72.3" font-size="41" text-anchor="middle" stroke="#000" stroke-width="1.5">−</text>
<text x="365.7" y="72.3" font-size="41" text-anchor="middle" stroke="#000" stroke-width="0.9">+</text>
<text x="237.0" y="96.7" font-size="41" text-anchor="middle" stroke="#000" stroke-width="1.5">−</text>
<text x="281.0" y="96.7" font-size="41" text-anchor="middle" stroke="#000" stroke-width="1.5">−</text>
<text x="322.3" y="96.7" font-size="41" text-anchor="middle" stroke="#000" stroke-width="0.9">+</text>
<text x="365.7" y="96.7" font-size="41" text-anchor="middle" stroke="#000" stroke-width="0.9">+</text>
<text x="408.0" y="87.3" font-size="21" text-anchor="start">kDa</text>
<clipPath id="ca1"><rect x="212.2" y="98.7" width="175.0" height="37.2"/></clipPath>
<rect x="212.2" y="98.7" width="175.0" height="37.2" fill="#b3bac6"/>
<g clip-path="url(#ca1)">
<ellipse cx="237.0" cy="118.0" rx="31.0" ry="32.0" fill="#000" opacity="0.2" filter="url(#b6)"/>
<ellipse cx="279.0" cy="118.0" rx="25.0" ry="35.0" fill="#000" opacity="0.4" filter="url(#b6)"/>
<ellipse cx="363.0" cy="120.0" rx="25.0" ry="25.0" fill="#000" opacity="0.14" filter="url(#b6)"/>
<ellipse cx="322.0" cy="112.0" rx="23.0" ry="15.0" fill="#fff" opacity="0.2" filter="url(#b6)"/>
<ellipse cx="279.0" cy="115.5" rx="16.0" ry="3.8" fill="#000" opacity="0.7" filter="url(#b3)"/>
<ellipse cx="364.0" cy="113.0" rx="15.0" ry="2.5" fill="#000" opacity="0.3" filter="url(#b3)"/>
<ellipse cx="237.0" cy="115.0" rx="15.0" ry="3.0" fill="#000" opacity="0.2" filter="url(#b3)"/>
</g>
<rect x="212.2" y="98.7" width="175.0" height="37.2" fill="none" stroke="#111" stroke-width="1.3"/>
<clipPath id="ca2"><rect x="212.2" y="144.7" width="175.0" height="37.7"/></clipPath>
<rect x="212.2" y="144.7" width="175.0" height="37.7" fill="#c9ced7"/>
<g clip-path="url(#ca2)">
<ellipse cx="237.5" cy="165.0" rx="18.0" ry="20.0" fill="#000" opacity="0.16" filter="url(#b6)"/>
<rect x="222.5" y="149.2" width="30.0" height="3.5" rx="1.8" fill="#000" opacity="0.3" filter="url(#b2)"/>
<rect x="222.5" y="154.8" width="30.0" height="4.0" rx="2.0" fill="#000" opacity="0.55" filter="url(#b2)"/>
<rect x="221.5" y="158.9" width="32.0" height="7.5" rx="3.8" fill="#000" opacity="1" filter="url(#b2)"/>
<rect x="222.5" y="167.3" width="30.0" height="4.0" rx="2.0" fill="#000" opacity="0.6" filter="url(#b2)"/>
<rect x="223.5" y="160.4" width="28.0" height="4.6" rx="2.3" fill="#000" opacity="1" filter="url(#b1)"/>
<ellipse cx="279.7" cy="165.0" rx="18.0" ry="20.0" fill="#000" opacity="0.16" filter="url(#b6)"/>
<rect x="264.7" y="149.2" width="30.0" height="3.5" rx="1.8" fill="#000" opacity="0.3" filter="url(#b2)"/>
<rect x="264.7" y="154.8" width="30.0" height="4.0" rx="2.0" fill="#000" opacity="0.55" filter="url(#b2)"/>
<rect x="263.7" y="158.9" width="32.0" height="7.5" rx="3.8" fill="#000" opacity="1" filter="url(#b2)"/>
<rect x="264.7" y="167.3" width="30.0" height="4.0" rx="2.0" fill="#000" opacity="0.6" filter="url(#b2)"/>
<rect x="265.7" y="160.4" width="28.0" height="4.6" rx="2.3" fill="#000" opacity="1" filter="url(#b1)"/>
<ellipse cx="320.3" cy="165.0" rx="18.0" ry="20.0" fill="#000" opacity="0.16" filter="url(#b6)"/>
<rect x="305.3" y="149.2" width="30.0" height="3.5" rx="1.8" fill="#000" opacity="0.126" filter="url(#b2)"/>
<rect x="305.3" y="154.8" width="30.0" height="4.0" rx="2.0" fill="#000" opacity="0.231" filter="url(#b2)"/>
<rect x="304.3" y="158.9" width="32.0" height="7.5" rx="3.8" fill="#000" opacity="0.546" filter="url(#b2)"/>
<rect x="305.3" y="167.3" width="30.0" height="4.0" rx="2.0" fill="#000" opacity="0.252" filter="url(#b2)"/>
<ellipse cx="361.9" cy="165.0" rx="18.0" ry="20.0" fill="#000" opacity="0.16" filter="url(#b6)"/>
<rect x="346.9" y="149.2" width="30.0" height="3.5" rx="1.8" fill="#000" opacity="0.3" filter="url(#b2)"/>
<rect x="346.9" y="154.8" width="30.0" height="4.0" rx="2.0" fill="#000" opacity="0.55" filter="url(#b2)"/>
<rect x="345.9" y="158.9" width="32.0" height="7.5" rx="3.8" fill="#000" opacity="1" filter="url(#b2)"/>
<rect x="346.9" y="167.3" width="30.0" height="4.0" rx="2.0" fill="#000" opacity="0.6" filter="url(#b2)"/>
<rect x="347.9" y="160.4" width="28.0" height="4.6" rx="2.3" fill="#000" opacity="1" filter="url(#b1)"/>
</g>
<rect x="212.2" y="144.7" width="175.0" height="37.7" fill="none" stroke="#111" stroke-width="1.3"/>
<clipPath id="ca3"><rect x="212.2" y="187.4" width="175.0" height="37.5"/></clipPath>
<rect x="212.2" y="187.4" width="175.0" height="37.5" fill="#cbd0d9"/>
<g clip-path="url(#ca3)">
<ellipse cx="279.7" cy="196.0" rx="16.0" ry="11.0" fill="#000" opacity="0.3" filter="url(#b3)"/>
<rect x="265.7" y="195.9" width="28.0" height="5.5" rx="2.8" fill="#000" opacity="0.6" filter="url(#b2)"/>
<rect x="264.2" y="203.4" width="31.0" height="7.0" rx="3.5" fill="#000" opacity="1" filter="url(#b2)"/>
<rect x="266.7" y="205.1" width="26.0" height="3.6" rx="1.8" fill="#000" opacity="1" filter="url(#b1)"/>
<ellipse cx="361.9" cy="196.0" rx="16.0" ry="11.0" fill="#000" opacity="0.3" filter="url(#b3)"/>
<rect x="347.9" y="195.9" width="28.0" height="5.5" rx="2.8" fill="#000" opacity="0.6" filter="url(#b2)"/>
<rect x="346.4" y="203.4" width="31.0" height="7.0" rx="3.5" fill="#000" opacity="1" filter="url(#b2)"/>
<rect x="348.9" y="205.1" width="26.0" height="3.6" rx="1.8" fill="#000" opacity="1" filter="url(#b1)"/>
</g>
<rect x="212.2" y="187.4" width="175.0" height="37.5" fill="none" stroke="#111" stroke-width="1.3"/>
<clipPath id="ca4"><rect x="212.2" y="229.3" width="175.0" height="37.4"/></clipPath>
<rect x="212.2" y="229.3" width="175.0" height="37.4" fill="#d1d5dd"/>
<g clip-path="url(#ca4)">
<rect x="218.8" y="245.4" width="38.0" height="9.0" rx="4.5" fill="#000" opacity="1" filter="url(#b2)"/>
<rect x="221.3" y="247.1" width="33.0" height="5.6" rx="2.8" fill="#000" opacity="1" filter="url(#b1)"/>
<rect x="260.7" y="245.8" width="38.0" height="9.0" rx="4.5" fill="#000" opacity="1" filter="url(#b2)"/>
<rect x="263.2" y="247.5" width="33.0" height="5.6" rx="2.8" fill="#000" opacity="1" filter="url(#b1)"/>
<rect x="301.3" y="245.4" width="38.0" height="9.0" rx="4.5" fill="#000" opacity="1" filter="url(#b2)"/>
<rect x="303.8" y="247.1" width="33.0" height="5.6" rx="2.8" fill="#000" opacity="1" filter="url(#b1)"/>
<rect x="342.6" y="244.3" width="38.0" height="9.0" rx="4.5" fill="#000" opacity="1" filter="url(#b2)"/>
<rect x="345.1" y="246.0" width="33.0" height="5.6" rx="2.8" fill="#000" opacity="1" filter="url(#b1)"/>
</g>
<rect x="212.2" y="229.3" width="175.0" height="37.4" fill="none" stroke="#111" stroke-width="1.3"/>
<line x1="390.8" y1="145.5" x2="390.8" y2="267.3" stroke="#111" stroke-width="1.2" stroke-linecap="butt"/>
<text x="396.0" y="206.0" font-size="21" text-anchor="middle" transform="rotate(90 396.0 206.0)">Input</text>
<text x="442.0" y="122.0" font-size="20" text-anchor="end"><tspan font-size="16">–</tspan>59</text>
<text x="442.0" y="170.0" font-size="20" text-anchor="end"><tspan font-size="16">–</tspan>59</text>
<text x="442.0" y="215.0" font-size="20" text-anchor="end"><tspan font-size="16">–</tspan>23</text>
<text x="442.0" y="255.0" font-size="20" text-anchor="end"><tspan font-size="16">–</tspan>37</text>
<text x="202.0" y="117.3" font-size="24.6" text-anchor="end">p-FYN</text>
<text x="200.5" y="137.3" font-size="17.8" text-anchor="end">IP: FYN IB:pSrc</text>
<text x="202.0" y="172.3" font-size="24.6" text-anchor="end">FYN</text>
<text x="202.0" y="215.0" font-size="24.6" text-anchor="end">FGF18</text>
<text x="202.0" y="257.3" font-size="24.6" text-anchor="end">GAPDH</text>
<rect x="588.7" y="140.2" width="21.8" height="76.0" fill="#f94444" stroke="#000" stroke-width="2.4"/>
<line x1="599.6" y1="131.7" x2="599.6" y2="146.7" stroke="#000" stroke-width="2" stroke-linecap="butt"/>
<line x1="593.6" y1="131.7" x2="605.6" y2="131.7" stroke="#000" stroke-width="2" stroke-linecap="butt"/>
<line x1="593.6" y1="146.7" x2="605.6" y2="146.7" stroke="#000" stroke-width="2" stroke-linecap="butt"/>
<circle cx="590.6" cy="134.7" r="2.6" fill="#000"/>
<circle cx="599.6" cy="129.9" r="2.6" fill="#000"/>
<circle cx="608.6" cy="133.5" r="2.6" fill="#000"/>
<circle cx="599.6" cy="139.9" r="2.6" fill="#000"/>
<circle cx="607.6" cy="145.5" r="2.6" fill="#000"/>
<rect x="623.5" y="92.0" width="21.1" height="124.2" fill="#0000ff" stroke="#000" stroke-width="2.4"/>
<line x1="634.0" y1="79.0" x2="634.0" y2="103.3" stroke="#000" stroke-width="2" stroke-linecap="butt"/>
<line x1="628.0" y1="79.0" x2="640.0" y2="79.0" stroke="#000" stroke-width="2" stroke-linecap="butt"/>
<line x1="628.0" y1="103.3" x2="640.0" y2="103.3" stroke="#000" stroke-width="2" stroke-linecap="butt"/>
<circle cx="625.0" cy="83.9" r="2.6" fill="#000"/>
<circle cx="634.0" cy="76.1" r="2.6" fill="#000"/>
<circle cx="643.0" cy="81.9" r="2.6" fill="#000"/>
<circle cx="634.0" cy="92.4" r="2.6" fill="#000"/>
<circle cx="642.0" cy="101.4" r="2.6" fill="#000"/>
<rect x="680.2" y="200.2" width="21.1" height="16.0" fill="#f94444" stroke="#000" stroke-width="2.4"/>
<line x1="690.8" y1="194.0" x2="690.8" y2="205.0" stroke="#000" stroke-width="2" stroke-linecap="butt"/>
<line x1="684.8" y1="194.0" x2="696.8" y2="194.0" stroke="#000" stroke-width="2" stroke-linecap="butt"/>
<line x1="684.8" y1="205.0" x2="696.8" y2="205.0" stroke="#000" stroke-width="2" stroke-linecap="butt"/>
<circle cx="681.8" cy="196.2" r="2.6" fill="#000"/>
<circle cx="690.8" cy="192.7" r="2.6" fill="#000"/>
<circle cx="699.8" cy="195.3" r="2.6" fill="#000"/>
<circle cx="690.8" cy="200.1" r="2.6" fill="#000"/>
<circle cx="698.8" cy="204.1" r="2.6" fill="#000"/>
<rect x="715.2" y="132.9" width="21.1" height="83.3" fill="#0000ff" stroke="#000" stroke-width="2.4"/>
<line x1="725.8" y1="120.0" x2="725.8" y2="143.3" stroke="#000" stroke-width="2" stroke-linecap="butt"/>
<line x1="719.8" y1="120.0" x2="731.8" y2="120.0" stroke="#000" stroke-width="2" stroke-linecap="butt"/>
<line x1="719.8" y1="143.3" x2="731.8" y2="143.3" stroke="#000" stroke-width="2" stroke-linecap="butt"/>
<circle cx="716.8" cy="124.7" r="2.6" fill="#000"/>
<circle cx="725.8" cy="117.2" r="2.6" fill="#000"/>
<circle cx="734.8" cy="122.8" r="2.6" fill="#000"/>
<circle cx="725.8" cy="132.8" r="2.6" fill="#000"/>
<circle cx="733.8" cy="141.4" r="2.6" fill="#000"/>
<line x1="576.7" y1="61.9" x2="576.7" y2="217.6" stroke="#000" stroke-width="2.8" stroke-linecap="butt"/>
<line x1="569.2" y1="216.2" x2="750.5" y2="216.2" stroke="#000" stroke-width="2.8" stroke-linecap="butt"/>
<line x1="569.2" y1="63.3" x2="576.7" y2="63.3" stroke="#000" stroke-width="2.8" stroke-linecap="butt"/>
<text x="562.5" y="71.9" font-size="24" text-anchor="end">2.0</text>
<line x1="569.2" y1="101.2" x2="576.7" y2="101.2" stroke="#000" stroke-width="2.8" stroke-linecap="butt"/>
<text x="562.5" y="109.8" font-size="24" text-anchor="end">1.5</text>
<line x1="569.2" y1="139.2" x2="576.7" y2="139.2" stroke="#000" stroke-width="2.8" stroke-linecap="butt"/>
<text x="562.5" y="147.8" font-size="24" text-anchor="end">1.0</text>
<line x1="569.2" y1="177.5" x2="576.7" y2="177.5" stroke="#000" stroke-width="2.8" stroke-linecap="butt"/>
<text x="562.5" y="186.1" font-size="24" text-anchor="end">0.5</text>
<line x1="569.2" y1="216.2" x2="576.7" y2="216.2" stroke="#000" stroke-width="2.8" stroke-linecap="butt"/>
<text x="562.5" y="224.8" font-size="24" text-anchor="end">0.0</text>
<text x="520.0" y="138.0" font-size="23" text-anchor="middle" transform="rotate(-90 520.0 138.0)">p-FYN/FYN</text>
<rect x="583.3" y="8.3" width="15.0" height="11.4" fill="#ff0000" stroke="#222" stroke-width="0.6"/>
<rect x="583.3" y="25.0" width="15.0" height="11.4" fill="#0000ff" stroke="#222" stroke-width="0.6"/>
<text x="601.5" y="19.3" font-size="17.8" text-anchor="start">AAV-LacZ</text>
<text x="601.5" y="36.0" font-size="17.8" text-anchor="start">AAV-FGF18</text>
<text x="579.7" y="52.5" font-size="17.6" text-anchor="start">P&lt;.0001</text>
<line x1="594.0" y1="55.0" x2="633.0" y2="55.0" stroke="#000" stroke-width="1.9" stroke-linecap="butt"/>
<text x="655.0" y="52.5" font-size="17.6" text-anchor="start">P=.0006</text>
<line x1="643.0" y1="55.0" x2="726.7" y2="55.0" stroke="#000" stroke-width="1.9" stroke-linecap="butt"/>
<text x="608.0" y="69.7" font-size="17.6" text-anchor="start">P&lt;.0001</text>
<line x1="593.0" y1="72.8" x2="693.0" y2="72.8" stroke="#000" stroke-width="1.9" stroke-linecap="butt"/>
<text x="673.0" y="109.0" font-size="17.6" text-anchor="start">P&lt;.0001</text>
<line x1="687.5" y1="112.0" x2="724.0" y2="112.0" stroke="#000" stroke-width="1.9" stroke-linecap="butt"/>
<text x="617.0" y="236.7" font-size="20" text-anchor="middle">Sham</text>
<text x="709.6" y="236.7" font-size="20" text-anchor="middle">TAC</text>
<rect x="925.9" y="109.0" width="20.9" height="99.3" fill="#f94444" stroke="#000" stroke-width="2.4"/>
<line x1="936.4" y1="95.0" x2="936.4" y2="120.0" stroke="#000" stroke-width="2" stroke-linecap="butt"/>
<line x1="930.4" y1="95.0" x2="942.4" y2="95.0" stroke="#000" stroke-width="2" stroke-linecap="butt"/>
<line x1="930.4" y1="120.0" x2="942.4" y2="120.0" stroke="#000" stroke-width="2" stroke-linecap="butt"/>
<circle cx="927.4" cy="100.0" r="2.6" fill="#000"/>
<circle cx="936.4" cy="92.0" r="2.6" fill="#000"/>
<circle cx="945.4" cy="98.0" r="2.6" fill="#000"/>
<circle cx="936.4" cy="108.8" r="2.6" fill="#000"/>
<circle cx="944.4" cy="118.0" r="2.6" fill="#000"/>
<rect x="960.2" y="109.0" width="21.1" height="99.3" fill="#0000ff" stroke="#000" stroke-width="2.4"/>
<line x1="970.8" y1="90.0" x2="970.8" y2="124.7" stroke="#000" stroke-width="2" stroke-linecap="butt"/>
<line x1="964.8" y1="90.0" x2="976.8" y2="90.0" stroke="#000" stroke-width="2" stroke-linecap="butt"/>
<line x1="964.8" y1="124.7" x2="976.8" y2="124.7" stroke="#000" stroke-width="2" stroke-linecap="butt"/>
<circle cx="961.8" cy="96.9" r="2.6" fill="#000"/>
<circle cx="970.8" cy="85.8" r="2.6" fill="#000"/>
<circle cx="979.8" cy="94.2" r="2.6" fill="#000"/>
<circle cx="970.8" cy="109.1" r="2.6" fill="#000"/>
<circle cx="978.8" cy="121.9" r="2.6" fill="#000"/>
<rect x="1017.0" y="148.7" width="20.8" height="59.6" fill="#f94444" stroke="#000" stroke-width="2.4"/>
<line x1="1027.4" y1="135.3" x2="1027.4" y2="159.0" stroke="#000" stroke-width="2" stroke-linecap="butt"/>
<line x1="1021.4" y1="135.3" x2="1033.4" y2="135.3" stroke="#000" stroke-width="2" stroke-linecap="butt"/>
<line x1="1021.4" y1="159.0" x2="1033.4" y2="159.0" stroke="#000" stroke-width="2" stroke-linecap="butt"/>
<circle cx="1018.4" cy="140.0" r="2.6" fill="#000"/>
<circle cx="1027.4" cy="132.5" r="2.6" fill="#000"/>
<circle cx="1036.4" cy="138.1" r="2.6" fill="#000"/>
<circle cx="1027.4" cy="148.3" r="2.6" fill="#000"/>
<circle cx="1035.4" cy="157.1" r="2.6" fill="#000"/>
<rect x="1051.7" y="116.5" width="20.9" height="91.8" fill="#0000ff" stroke="#000" stroke-width="2.4"/>
<line x1="1062.2" y1="106.7" x2="1062.2" y2="123.0" stroke="#000" stroke-width="2" stroke-linecap="butt"/>
<line x1="1056.2" y1="106.7" x2="1068.2" y2="106.7" stroke="#000" stroke-width="2" stroke-linecap="butt"/>
<line x1="1056.2" y1="123.0" x2="1068.2" y2="123.0" stroke="#000" stroke-width="2" stroke-linecap="butt"/>
<circle cx="1053.2" cy="110.0" r="2.6" fill="#000"/>
<circle cx="1062.2" cy="104.7" r="2.6" fill="#000"/>
<circle cx="1071.2" cy="108.7" r="2.6" fill="#000"/>
<circle cx="1062.2" cy="115.7" r="2.6" fill="#000"/>
<circle cx="1070.2" cy="121.7" r="2.6" fill="#000"/>
<line x1="913.3" y1="55.6" x2="913.3" y2="209.7" stroke="#000" stroke-width="2.8" stroke-linecap="butt"/>
<line x1="905.8" y1="208.3" x2="1086.7" y2="208.3" stroke="#000" stroke-width="2.8" stroke-linecap="butt"/>
<line x1="905.8" y1="57.0" x2="913.3" y2="57.0" stroke="#000" stroke-width="2.8" stroke-linecap="butt"/>
<text x="898.0" y="65.6" font-size="24" text-anchor="end">1.5</text>
<line x1="905.8" y1="107.8" x2="913.3" y2="107.8" stroke="#000" stroke-width="2.8" stroke-linecap="butt"/>
<text x="898.0" y="116.4" font-size="24" text-anchor="end">1.0</text>
<line x1="905.8" y1="158.3" x2="913.3" y2="158.3" stroke="#000" stroke-width="2.8" stroke-linecap="butt"/>
<text x="898.0" y="166.9" font-size="24" text-anchor="end">0.5</text>
<line x1="905.8" y1="208.3" x2="913.3" y2="208.3" stroke="#000" stroke-width="2.8" stroke-linecap="butt"/>
<text x="898.0" y="216.9" font-size="24" text-anchor="end">0.0</text>
<text x="858.3" y="133.0" font-size="23" text-anchor="middle" transform="rotate(-90 858.3 133.0)">FYN/GAPDH</text>
<text x="937.5" y="54.7" font-size="20" text-anchor="start">n.s.</text>
<line x1="932.5" y1="57.8" x2="971.7" y2="57.8" stroke="#000" stroke-width="1.9" stroke-linecap="butt"/>
<text x="950.0" y="72.0" font-size="17.6" text-anchor="start">P=.0008</text>
<line x1="931.0" y1="75.0" x2="1031.7" y2="75.0" stroke="#000" stroke-width="1.9" stroke-linecap="butt"/>
<text x="1013.0" y="97.0" font-size="17.6" text-anchor="start">P=.001</text>
<line x1="1025.0" y1="100.3" x2="1062.5" y2="100.3" stroke="#000" stroke-width="1.9" stroke-linecap="butt"/>
<text x="953.0" y="230.8" font-size="20.2" text-anchor="middle">Sham</text>
<text x="1045.0" y="230.8" font-size="20.2" text-anchor="middle">TAC</text>
<text x="791.0" y="274.3" font-size="41" text-anchor="start">b</text>
<circle cx="927.7" cy="260.0" r="2.6" fill="#ff2020"/>
<text x="933.6" y="264.5" font-size="17.8" text-anchor="start">AAV-LacZ</text>
<circle cx="927.7" cy="276.8" r="2.6" fill="#1010ff"/>
<text x="933.6" y="282.5" font-size="17.8" text-anchor="start">AAV-FGF18</text>
<line x1="929.5" y1="344.6" x2="952.5" y2="344.6" stroke="#f84848" stroke-width="2" stroke-linecap="butt"/>
<line x1="941.0" y1="328.9" x2="941.0" y2="363.2" stroke="#f84848" stroke-width="2" stroke-linecap="butt"/>
<line x1="935.2" y1="328.9" x2="946.8" y2="328.9" stroke="#f84848" stroke-width="2" stroke-linecap="butt"/>
<line x1="935.2" y1="363.2" x2="946.8" y2="363.2" stroke="#f84848" stroke-width="2" stroke-linecap="butt"/>
<circle cx="941.0" cy="325.0" r="2.7" fill="#f84848"/>
<circle cx="932.0" cy="345.0" r="2.7" fill="#f84848"/>
<circle cx="950.0" cy="344.0" r="2.7" fill="#f84848"/>
<circle cx="941.0" cy="372.0" r="2.7" fill="#f84848"/>
<circle cx="941.0" cy="350.0" r="2.7" fill="#f84848"/>
<line x1="963.9" y1="347.8" x2="986.9" y2="347.8" stroke="#1414f0" stroke-width="2" stroke-linecap="butt"/>
<line x1="975.4" y1="333.1" x2="975.4" y2="360.9" stroke="#1414f0" stroke-width="2" stroke-linecap="butt"/>
<line x1="969.6" y1="333.1" x2="981.1" y2="333.1" stroke="#1414f0" stroke-width="2" stroke-linecap="butt"/>
<line x1="969.6" y1="360.9" x2="981.1" y2="360.9" stroke="#1414f0" stroke-width="2" stroke-linecap="butt"/>
<circle cx="967.4" cy="331.0" r="2.7" fill="#1414f0"/>
<circle cx="984.4" cy="335.0" r="2.7" fill="#1414f0"/>
<circle cx="975.4" cy="352.0" r="2.7" fill="#1414f0"/>
<circle cx="975.4" cy="360.0" r="2.7" fill="#1414f0"/>
<circle cx="975.4" cy="365.0" r="2.7" fill="#1414f0"/>
<line x1="1020.8" y1="387.7" x2="1043.8" y2="387.7" stroke="#f84848" stroke-width="2" stroke-linecap="butt"/>
<line x1="1032.3" y1="375.6" x2="1032.3" y2="399.5" stroke="#f84848" stroke-width="2" stroke-linecap="butt"/>
<line x1="1026.5" y1="375.6" x2="1038.0" y2="375.6" stroke="#f84848" stroke-width="2" stroke-linecap="butt"/>
<line x1="1026.5" y1="399.5" x2="1038.0" y2="399.5" stroke="#f84848" stroke-width="2" stroke-linecap="butt"/>
<circle cx="1032.3" cy="369.0" r="2.7" fill="#f84848"/>
<circle cx="1024.3" cy="387.0" r="2.7" fill="#f84848"/>
<circle cx="1041.3" cy="390.0" r="2.7" fill="#f84848"/>
<circle cx="1032.3" cy="394.0" r="2.7" fill="#f84848"/>
<circle cx="1032.3" cy="400.0" r="2.7" fill="#f84848"/>
<line x1="1055.4" y1="332.5" x2="1078.4" y2="332.5" stroke="#1414f0" stroke-width="2" stroke-linecap="butt"/>
<line x1="1066.9" y1="309.3" x2="1066.9" y2="355.0" stroke="#1414f0" stroke-width="2" stroke-linecap="butt"/>
<line x1="1061.2" y1="309.3" x2="1072.7" y2="309.3" stroke="#1414f0" stroke-width="2" stroke-linecap="butt"/>
<line x1="1061.2" y1="355.0" x2="1072.7" y2="355.0" stroke="#1414f0" stroke-width="2" stroke-linecap="butt"/>
<circle cx="1066.9" cy="310.0" r="2.7" fill="#1414f0"/>
<circle cx="1058.9" cy="318.0" r="2.7" fill="#1414f0"/>
<circle cx="1067.9" cy="321.0" r="2.7" fill="#1414f0"/>
<circle cx="1058.9" cy="359.0" r="2.7" fill="#1414f0"/>
<circle cx="1075.9" cy="355.0" r="2.7" fill="#1414f0"/>
<line x1="918.9" y1="293.5" x2="918.9" y2="448.3" stroke="#000" stroke-width="2.8" stroke-linecap="butt"/>
<line x1="910.9" y1="446.9" x2="1090.5" y2="446.9" stroke="#000" stroke-width="2.8" stroke-linecap="butt"/>
<line x1="910.9" y1="294.9" x2="918.9" y2="294.9" stroke="#000" stroke-width="2.8" stroke-linecap="butt"/>
<text x="903.5" y="303.5" font-size="24" text-anchor="end">1.5</text>
<line x1="910.9" y1="345.6" x2="918.9" y2="345.6" stroke="#000" stroke-width="2.8" stroke-linecap="butt"/>
<text x="903.5" y="354.2" font-size="24" text-anchor="end">1.0</text>
<line x1="910.9" y1="396.2" x2="918.9" y2="396.2" stroke="#000" stroke-width="2.8" stroke-linecap="butt"/>
<text x="903.5" y="404.8" font-size="24" text-anchor="end">0.5</text>
<line x1="910.9" y1="446.9" x2="918.9" y2="446.9" stroke="#000" stroke-width="2.8" stroke-linecap="butt"/>
<text x="903.5" y="455.5" font-size="24" text-anchor="end">0.0</text>
<text x="842.0" y="367.5" font-size="23" text-anchor="middle" transform="rotate(-90 842.0 367.5)">Relative <tspan font-style="italic">FYN</tspan></text>
<text x="865.6" y="367.5" font-size="23" text-anchor="middle" transform="rotate(-90 865.6 367.5)">mRNA levels</text>
<text x="940.0" y="298.2" font-size="20" text-anchor="start">n.s.</text>
<line x1="939.0" y1="300.8" x2="975.4" y2="300.8" stroke="#000" stroke-width="1.9" stroke-linecap="butt"/>
<text x="1020.0" y="298.8" font-size="17.6" text-anchor="start">P=.0013</text>
<line x1="1031.0" y1="301.4" x2="1067.6" y2="301.4" stroke="#000" stroke-width="1.9" stroke-linecap="butt"/>
<text x="946.7" y="315.8" font-size="17.6" text-anchor="start">P=.0019</text>
<line x1="932.0" y1="318.4" x2="1032.3" y2="318.4" stroke="#000" stroke-width="1.9" stroke-linecap="butt"/>
<text x="962.7" y="465.5" font-size="20.2" text-anchor="middle">Sham</text>
<text x="1056.0" y="465.5" font-size="20.2" text-anchor="middle">TAC</text>
<text x="1122.0" y="31.3" font-size="41" text-anchor="start">d</text>
<line x1="1273.5" y1="128.8" x2="1296.5" y2="128.8" stroke="#ff1a1a" stroke-width="2" stroke-linecap="butt"/>
<line x1="1285.0" y1="122.5" x2="1285.0" y2="136.7" stroke="#ff1a1a" stroke-width="2" stroke-linecap="butt"/>
<line x1="1279.2" y1="122.5" x2="1290.8" y2="122.5" stroke="#ff1a1a" stroke-width="2" stroke-linecap="butt"/>
<line x1="1279.2" y1="136.7" x2="1290.8" y2="136.7" stroke="#ff1a1a" stroke-width="2" stroke-linecap="butt"/>
<circle cx="1285.0" cy="105.8" r="2.7" fill="#ff1a1a"/>
<circle cx="1285.0" cy="144.2" r="2.7" fill="#ff1a1a"/>
<circle cx="1295.0" cy="133.3" r="2.7" fill="#ff1a1a"/>
<circle cx="1285.0" cy="123.5" r="2.7" fill="#ff1a1a"/>
<circle cx="1285.0" cy="136.5" r="2.7" fill="#ff1a1a"/>
<line x1="1311.3" y1="60.8" x2="1334.3" y2="60.8" stroke="#1010ff" stroke-width="2" stroke-linecap="butt"/>
<line x1="1322.8" y1="57.5" x2="1322.8" y2="64.2" stroke="#1010ff" stroke-width="2" stroke-linecap="butt"/>
<line x1="1317.0" y1="57.5" x2="1328.5" y2="57.5" stroke="#1010ff" stroke-width="2" stroke-linecap="butt"/>
<line x1="1317.0" y1="64.2" x2="1328.5" y2="64.2" stroke="#1010ff" stroke-width="2" stroke-linecap="butt"/>
<rect x="1320.0" y="45.5" width="5.6" height="5.6" fill="#1010ff"/>
<rect x="1320.0" y="53.9" width="5.6" height="5.6" fill="#1010ff"/>
<rect x="1310.0" y="66.4" width="5.6" height="5.6" fill="#1010ff"/>
<rect x="1330.5" y="61.4" width="5.6" height="5.6" fill="#1010ff"/>
<rect x="1322.0" y="57.2" width="5.6" height="5.6" fill="#1010ff"/>
<line x1="1349.1" y1="111.3" x2="1372.1" y2="111.3" stroke="#ffff00" stroke-width="2" stroke-linecap="butt"/>
<line x1="1360.6" y1="106.7" x2="1360.6" y2="116.2" stroke="#ffff00" stroke-width="2" stroke-linecap="butt"/>
<line x1="1354.8" y1="106.7" x2="1366.3" y2="106.7" stroke="#ffff00" stroke-width="2" stroke-linecap="butt"/>
<line x1="1354.8" y1="116.2" x2="1366.3" y2="116.2" stroke="#ffff00" stroke-width="2" stroke-linecap="butt"/>
<polygon points="1357.4,101.8 1363.8,101.8 1360.6,96.0" fill="#ffff00"/>
<polygon points="1357.4,109.3 1363.8,109.3 1360.6,103.5" fill="#ffff00"/>
<polygon points="1357.4,119.3 1363.8,119.3 1360.6,113.5" fill="#ffff00"/>
<polygon points="1357.4,127.6 1363.8,127.6 1360.6,121.8" fill="#ffff00"/>
<polygon points="1367.9,115.9 1374.3,115.9 1371.1,110.1" fill="#ffff00"/>
<line x1="1386.9" y1="77.0" x2="1409.9" y2="77.0" stroke="#a020f0" stroke-width="2" stroke-linecap="butt"/>
<line x1="1398.4" y1="72.5" x2="1398.4" y2="81.3" stroke="#a020f0" stroke-width="2" stroke-linecap="butt"/>
<line x1="1392.7" y1="72.5" x2="1404.2" y2="72.5" stroke="#a020f0" stroke-width="2" stroke-linecap="butt"/>
<line x1="1392.7" y1="81.3" x2="1404.2" y2="81.3" stroke="#a020f0" stroke-width="2" stroke-linecap="butt"/>
<polygon points="1385.2,64.9 1391.6,64.9 1388.4,70.7" fill="#a020f0"/>
<polygon points="1395.2,64.9 1401.6,64.9 1398.4,70.7" fill="#a020f0"/>
<polygon points="1395.2,84.1 1401.6,84.1 1398.4,89.9" fill="#a020f0"/>
<polygon points="1405.2,74.9 1411.6,74.9 1408.4,80.7" fill="#a020f0"/>
<polygon points="1395.2,75.7 1401.6,75.7 1398.4,81.5" fill="#a020f0"/>
<line x1="1266.7" y1="35.6" x2="1266.7" y2="190.2" stroke="#000" stroke-width="2.8" stroke-linecap="butt"/>
<line x1="1258.7" y1="188.8" x2="1420.0" y2="188.8" stroke="#000" stroke-width="2.8" stroke-linecap="butt"/>
<line x1="1258.7" y1="37.0" x2="1266.7" y2="37.0" stroke="#000" stroke-width="2.8" stroke-linecap="butt"/>
<text x="1251.5" y="45.6" font-size="24" text-anchor="end">2.5</text>
<line x1="1258.7" y1="67.4" x2="1266.7" y2="67.4" stroke="#000" stroke-width="2.8" stroke-linecap="butt"/>
<text x="1251.5" y="76.0" font-size="24" text-anchor="end">2.0</text>
<line x1="1258.7" y1="97.7" x2="1266.7" y2="97.7" stroke="#000" stroke-width="2.8" stroke-linecap="butt"/>
<text x="1251.5" y="106.3" font-size="24" text-anchor="end">1.5</text>
<line x1="1258.7" y1="128.1" x2="1266.7" y2="128.1" stroke="#000" stroke-width="2.8" stroke-linecap="butt"/>
<text x="1251.5" y="136.7" font-size="24" text-anchor="end">1.0</text>
<line x1="1258.7" y1="158.4" x2="1266.7" y2="158.4" stroke="#000" stroke-width="2.8" stroke-linecap="butt"/>
<text x="1251.5" y="167.0" font-size="24" text-anchor="end">0.5</text>
<line x1="1258.7" y1="188.8" x2="1266.7" y2="188.8" stroke="#000" stroke-width="2.8" stroke-linecap="butt"/>
<text x="1251.5" y="197.4" font-size="24" text-anchor="end">0.0</text>
<text x="1192.5" y="103.0" font-size="23" text-anchor="middle" transform="rotate(-90 1192.5 103.0)">Relative <tspan font-style="italic">ANP</tspan></text>
<text x="1213.3" y="103.0" font-size="23" text-anchor="middle" transform="rotate(-90 1213.3 103.0)">mRNA levels</text>
<text x="1269.0" y="22.5" font-size="17.6" text-anchor="start">P&lt;.0001</text>
<line x1="1278.3" y1="26.2" x2="1318.3" y2="26.2" stroke="#000" stroke-width="1.9" stroke-linecap="butt"/>
<text x="1321.7" y="40.0" font-size="17.6" text-anchor="start">P&lt;.0001</text>
<line x1="1324.0" y1="43.3" x2="1363.3" y2="43.3" stroke="#000" stroke-width="1.9" stroke-linecap="butt"/>
<text x="1350.8" y="57.2" font-size="17.6" text-anchor="start">P=.0004</text>
<line x1="1361.7" y1="60.3" x2="1399.0" y2="60.3" stroke="#000" stroke-width="1.9" stroke-linecap="butt"/>
<line x1="1589.6" y1="128.0" x2="1612.6" y2="128.0" stroke="#ff1a1a" stroke-width="2" stroke-linecap="butt"/>
<line x1="1601.1" y1="123.5" x2="1601.1" y2="132.4" stroke="#ff1a1a" stroke-width="2" stroke-linecap="butt"/>
<line x1="1595.3" y1="123.5" x2="1606.8" y2="123.5" stroke="#ff1a1a" stroke-width="2" stroke-linecap="butt"/>
<line x1="1595.3" y1="132.4" x2="1606.8" y2="132.4" stroke="#ff1a1a" stroke-width="2" stroke-linecap="butt"/>
<circle cx="1601.1" cy="116.5" r="2.7" fill="#ff1a1a"/>
<circle cx="1591.1" cy="135.0" r="2.7" fill="#ff1a1a"/>
<circle cx="1611.1" cy="135.0" r="2.7" fill="#ff1a1a"/>
<circle cx="1601.1" cy="124.0" r="2.7" fill="#ff1a1a"/>
<circle cx="1601.1" cy="131.0" r="2.7" fill="#ff1a1a"/>
<line x1="1627.4" y1="54.6" x2="1650.4" y2="54.6" stroke="#1010ff" stroke-width="2" stroke-linecap="butt"/>
<line x1="1638.9" y1="48.5" x2="1638.9" y2="60.8" stroke="#1010ff" stroke-width="2" stroke-linecap="butt"/>
<line x1="1633.1" y1="48.5" x2="1644.6" y2="48.5" stroke="#1010ff" stroke-width="2" stroke-linecap="butt"/>
<line x1="1633.1" y1="60.8" x2="1644.6" y2="60.8" stroke="#1010ff" stroke-width="2" stroke-linecap="butt"/>
<rect x="1636.1" y="35.2" width="5.6" height="5.6" fill="#1010ff"/>
<rect x="1646.1" y="43.2" width="5.6" height="5.6" fill="#1010ff"/>
<rect x="1636.1" y="59.2" width="5.6" height="5.6" fill="#1010ff"/>
<rect x="1636.1" y="73.2" width="5.6" height="5.6" fill="#1010ff"/>
<rect x="1636.1" y="50.2" width="5.6" height="5.6" fill="#1010ff"/>
<line x1="1665.2" y1="113.7" x2="1688.2" y2="113.7" stroke="#ffff00" stroke-width="2" stroke-linecap="butt"/>
<line x1="1676.7" y1="109.2" x2="1676.7" y2="118.0" stroke="#ffff00" stroke-width="2" stroke-linecap="butt"/>
<line x1="1670.9" y1="109.2" x2="1682.4" y2="109.2" stroke="#ffff00" stroke-width="2" stroke-linecap="butt"/>
<line x1="1670.9" y1="118.0" x2="1682.4" y2="118.0" stroke="#ffff00" stroke-width="2" stroke-linecap="butt"/>
<polygon points="1673.5,104.1 1679.9,104.1 1676.7,98.3" fill="#ffff00"/>
<polygon points="1663.5,126.6 1669.9,126.6 1666.7,120.8" fill="#ffff00"/>
<polygon points="1684.0,126.6 1690.4,126.6 1687.2,120.8" fill="#ffff00"/>
<polygon points="1664.5,113.6 1670.9,113.6 1667.7,107.8" fill="#ffff00"/>
<polygon points="1681.5,114.6 1687.9,114.6 1684.7,108.8" fill="#ffff00"/>
<line x1="1703.0" y1="72.7" x2="1726.0" y2="72.7" stroke="#a020f0" stroke-width="2" stroke-linecap="butt"/>
<line x1="1714.5" y1="69.0" x2="1714.5" y2="76.5" stroke="#a020f0" stroke-width="2" stroke-linecap="butt"/>
<line x1="1708.8" y1="69.0" x2="1720.2" y2="69.0" stroke="#a020f0" stroke-width="2" stroke-linecap="butt"/>
<line x1="1708.8" y1="76.5" x2="1720.2" y2="76.5" stroke="#a020f0" stroke-width="2" stroke-linecap="butt"/>
<polygon points="1701.3,58.9 1707.7,58.9 1704.5,64.7" fill="#a020f0"/>
<polygon points="1711.3,61.9 1717.7,61.9 1714.5,67.7" fill="#a020f0"/>
<polygon points="1701.3,77.4 1707.7,77.4 1704.5,83.2" fill="#a020f0"/>
<polygon points="1721.3,77.4 1727.7,77.4 1724.5,83.2" fill="#a020f0"/>
<polygon points="1711.3,69.4 1717.7,69.4 1714.5,75.2" fill="#a020f0"/>
<line x1="1582.8" y1="35.6" x2="1582.8" y2="190.2" stroke="#000" stroke-width="2.8" stroke-linecap="butt"/>
<line x1="1574.8" y1="188.8" x2="1737.0" y2="188.8" stroke="#000" stroke-width="2.8" stroke-linecap="butt"/>
<line x1="1574.8" y1="37.0" x2="1582.8" y2="37.0" stroke="#000" stroke-width="2.8" stroke-linecap="butt"/>
<text x="1568.5" y="45.6" font-size="24" text-anchor="end">2.5</text>
<line x1="1574.8" y1="67.4" x2="1582.8" y2="67.4" stroke="#000" stroke-width="2.8" stroke-linecap="butt"/>
<text x="1568.5" y="76.0" font-size="24" text-anchor="end">2.0</text>
<line x1="1574.8" y1="97.7" x2="1582.8" y2="97.7" stroke="#000" stroke-width="2.8" stroke-linecap="butt"/>
<text x="1568.5" y="106.3" font-size="24" text-anchor="end">1.5</text>
<line x1="1574.8" y1="128.1" x2="1582.8" y2="128.1" stroke="#000" stroke-width="2.8" stroke-linecap="butt"/>
<text x="1568.5" y="136.7" font-size="24" text-anchor="end">1.0</text>
<line x1="1574.8" y1="158.4" x2="1582.8" y2="158.4" stroke="#000" stroke-width="2.8" stroke-linecap="butt"/>
<text x="1568.5" y="167.0" font-size="24" text-anchor="end">0.5</text>
<line x1="1574.8" y1="188.8" x2="1582.8" y2="188.8" stroke="#000" stroke-width="2.8" stroke-linecap="butt"/>
<text x="1568.5" y="197.4" font-size="24" text-anchor="end">0.0</text>
<text x="1509.0" y="103.0" font-size="23" text-anchor="middle" transform="rotate(-90 1509.0 103.0)">Relative <tspan font-style="italic">BNP</tspan></text>
<text x="1530.5" y="103.0" font-size="23" text-anchor="middle" transform="rotate(-90 1530.5 103.0)">mRNA levels</text>
<text x="1581.7" y="15.4" font-size="17.6" text-anchor="start">P&lt;.0001</text>
<line x1="1597.0" y1="18.8" x2="1636.3" y2="18.8" stroke="#000" stroke-width="1.9" stroke-linecap="butt"/>
<text x="1643.0" y="30.7" font-size="17.6" text-anchor="start">P&lt;.0001</text>
<line x1="1641.5" y1="34.0" x2="1681.7" y2="34.0" stroke="#000" stroke-width="1.9" stroke-linecap="butt"/>
<text x="1680.7" y="51.2" font-size="17.6" text-anchor="start">P=.0001</text>
<line x1="1680.0" y1="55.6" x2="1716.6" y2="55.6" stroke="#000" stroke-width="1.9" stroke-linecap="butt"/>
<line x1="1273.5" y1="328.3" x2="1296.5" y2="328.3" stroke="#ff1a1a" stroke-width="2" stroke-linecap="butt"/>
<line x1="1285.0" y1="322.5" x2="1285.0" y2="334.5" stroke="#ff1a1a" stroke-width="2" stroke-linecap="butt"/>
<line x1="1279.2" y1="322.5" x2="1290.8" y2="322.5" stroke="#ff1a1a" stroke-width="2" stroke-linecap="butt"/>
<line x1="1279.2" y1="334.5" x2="1290.8" y2="334.5" stroke="#ff1a1a" stroke-width="2" stroke-linecap="butt"/>
<circle cx="1285.0" cy="321.0" r="2.7" fill="#ff1a1a"/>
<circle cx="1295.0" cy="315.5" r="2.7" fill="#ff1a1a"/>
<circle cx="1285.0" cy="331.0" r="2.7" fill="#ff1a1a"/>
<circle cx="1285.0" cy="346.0" r="2.7" fill="#ff1a1a"/>
<circle cx="1285.0" cy="326.0" r="2.7" fill="#ff1a1a"/>
<line x1="1311.3" y1="265.2" x2="1334.3" y2="265.2" stroke="#1010ff" stroke-width="2" stroke-linecap="butt"/>
<line x1="1322.8" y1="258.4" x2="1322.8" y2="272.0" stroke="#1010ff" stroke-width="2" stroke-linecap="butt"/>
<line x1="1317.0" y1="258.4" x2="1328.5" y2="258.4" stroke="#1010ff" stroke-width="2" stroke-linecap="butt"/>
<line x1="1317.0" y1="272.0" x2="1328.5" y2="272.0" stroke="#1010ff" stroke-width="2" stroke-linecap="butt"/>
<rect x="1320.0" y="240.7" width="5.6" height="5.6" fill="#1010ff"/>
<rect x="1310.0" y="277.7" width="5.6" height="5.6" fill="#1010ff"/>
<rect x="1330.5" y="276.7" width="5.6" height="5.6" fill="#1010ff"/>
<rect x="1320.0" y="258.2" width="5.6" height="5.6" fill="#1010ff"/>
<rect x="1320.0" y="267.2" width="5.6" height="5.6" fill="#1010ff"/>
<line x1="1349.1" y1="316.7" x2="1372.1" y2="316.7" stroke="#ffff00" stroke-width="2" stroke-linecap="butt"/>
<line x1="1360.6" y1="311.6" x2="1360.6" y2="321.5" stroke="#ffff00" stroke-width="2" stroke-linecap="butt"/>
<line x1="1354.8" y1="311.6" x2="1366.3" y2="311.6" stroke="#ffff00" stroke-width="2" stroke-linecap="butt"/>
<line x1="1354.8" y1="321.5" x2="1366.3" y2="321.5" stroke="#ffff00" stroke-width="2" stroke-linecap="butt"/>
<polygon points="1347.4,308.6 1353.8,308.6 1350.6,302.8" fill="#ffff00"/>
<polygon points="1357.4,306.6 1363.8,306.6 1360.6,300.8" fill="#ffff00"/>
<polygon points="1347.4,330.6 1353.8,330.6 1350.6,324.8" fill="#ffff00"/>
<polygon points="1367.9,326.6 1374.3,326.6 1371.1,320.8" fill="#ffff00"/>
<polygon points="1357.4,320.6 1363.8,320.6 1360.6,314.8" fill="#ffff00"/>
<line x1="1386.9" y1="279.2" x2="1409.9" y2="279.2" stroke="#a020f0" stroke-width="2" stroke-linecap="butt"/>
<line x1="1398.4" y1="273.0" x2="1398.4" y2="285.0" stroke="#a020f0" stroke-width="2" stroke-linecap="butt"/>
<line x1="1392.7" y1="273.0" x2="1404.2" y2="273.0" stroke="#a020f0" stroke-width="2" stroke-linecap="butt"/>
<line x1="1392.7" y1="285.0" x2="1404.2" y2="285.0" stroke="#a020f0" stroke-width="2" stroke-linecap="butt"/>
<polygon points="1395.2,258.4 1401.6,258.4 1398.4,264.2" fill="#a020f0"/>
<polygon points="1395.2,270.9 1401.6,270.9 1398.4,276.7" fill="#a020f0"/>
<polygon points="1405.2,274.4 1411.6,274.4 1408.4,280.2" fill="#a020f0"/>
<polygon points="1395.2,282.4 1401.6,282.4 1398.4,288.2" fill="#a020f0"/>
<polygon points="1395.2,296.4 1401.6,296.4 1398.4,302.2" fill="#a020f0"/>
<line x1="1266.7" y1="234.9" x2="1266.7" y2="389.9" stroke="#000" stroke-width="2.8" stroke-linecap="butt"/>
<line x1="1258.7" y1="388.5" x2="1420.0" y2="388.5" stroke="#000" stroke-width="2.8" stroke-linecap="butt"/>
<line x1="1258.7" y1="236.3" x2="1266.7" y2="236.3" stroke="#000" stroke-width="2.8" stroke-linecap="butt"/>
<text x="1251.5" y="244.9" font-size="24" text-anchor="end">2.5</text>
<line x1="1258.7" y1="266.7" x2="1266.7" y2="266.7" stroke="#000" stroke-width="2.8" stroke-linecap="butt"/>
<text x="1251.5" y="275.3" font-size="24" text-anchor="end">2.0</text>
<line x1="1258.7" y1="297.2" x2="1266.7" y2="297.2" stroke="#000" stroke-width="2.8" stroke-linecap="butt"/>
<text x="1251.5" y="305.8" font-size="24" text-anchor="end">1.5</text>
<line x1="1258.7" y1="327.6" x2="1266.7" y2="327.6" stroke="#000" stroke-width="2.8" stroke-linecap="butt"/>
<text x="1251.5" y="336.2" font-size="24" text-anchor="end">1.0</text>
<line x1="1258.7" y1="358.1" x2="1266.7" y2="358.1" stroke="#000" stroke-width="2.8" stroke-linecap="butt"/>
<text x="1251.5" y="366.7" font-size="24" text-anchor="end">0.5</text>
<line x1="1258.7" y1="388.5" x2="1266.7" y2="388.5" stroke="#000" stroke-width="2.8" stroke-linecap="butt"/>
<text x="1251.5" y="397.1" font-size="24" text-anchor="end">0.0</text>
<text x="1190.0" y="301.0" font-size="23" text-anchor="middle" transform="rotate(-90 1190.0 301.0)">Relative <tspan font-style="italic">CollagenI</tspan></text>
<text x="1213.3" y="305.0" font-size="23" text-anchor="middle" transform="rotate(-90 1213.3 305.0)">mRNA levels</text>
<text x="1267.7" y="218.4" font-size="17.6" text-anchor="start">P&lt;.0001</text>
<line x1="1280.7" y1="222.9" x2="1319.6" y2="222.9" stroke="#000" stroke-width="1.9" stroke-linecap="butt"/>
<text x="1324.0" y="233.8" font-size="17.6" text-anchor="start">P=.0003</text>
<line x1="1323.4" y1="237.2" x2="1364.3" y2="237.2" stroke="#000" stroke-width="1.9" stroke-linecap="butt"/>
<text x="1352.4" y="252.6" font-size="17.6" text-anchor="start">P=.0013</text>
<line x1="1363.3" y1="255.3" x2="1401.9" y2="255.3" stroke="#000" stroke-width="1.9" stroke-linecap="butt"/>
<text x="1264.1" y="414.4" font-size="19.7" text-anchor="end">AAV-Ctrl</text>
<text x="1264.1" y="433.3" font-size="19.7" text-anchor="end">AAV-sh-FYN</text>
<text x="1264.1" y="452.2" font-size="19.7" text-anchor="end">AAV-FGF18</text>
<text x="1264.1" y="471.0" font-size="19.7" text-anchor="end">TAC</text>
<text x="1285.0" y="419.1" font-size="28" text-anchor="middle" stroke="#000" stroke-width="0.75">+</text>
<text x="1322.8" y="419.1" font-size="28" text-anchor="middle" stroke="#000" stroke-width="0.75">+</text>
<text x="1360.6" y="419.1" font-size="28" text-anchor="middle" stroke="#000" stroke-width="0.75">−</text>
<text x="1398.4" y="419.1" font-size="28" text-anchor="middle" stroke="#000" stroke-width="0.75">−</text>
<text x="1285.0" y="437.3" font-size="28" text-anchor="middle" stroke="#000" stroke-width="0.75">−</text>
<text x="1322.8" y="437.3" font-size="28" text-anchor="middle" stroke="#000" stroke-width="0.75">−</text>
<text x="1360.6" y="437.3" font-size="28" text-anchor="middle" stroke="#000" stroke-width="0.75">−</text>
<text x="1398.4" y="437.3" font-size="28" text-anchor="middle" stroke="#000" stroke-width="0.75">+</text>
<text x="1285.0" y="455.7" font-size="28" text-anchor="middle" stroke="#000" stroke-width="0.75">−</text>
<text x="1322.8" y="455.7" font-size="28" text-anchor="middle" stroke="#000" stroke-width="0.75">−</text>
<text x="1360.6" y="455.7" font-size="28" text-anchor="middle" stroke="#000" stroke-width="0.75">+</text>
<text x="1398.4" y="455.7" font-size="28" text-anchor="middle" stroke="#000" stroke-width="0.75">+</text>
<text x="1285.0" y="474.3" font-size="28" text-anchor="middle" stroke="#000" stroke-width="0.75">−</text>
<text x="1322.8" y="474.3" font-size="28" text-anchor="middle" stroke="#000" stroke-width="0.75">+</text>
<text x="1360.6" y="474.3" font-size="28" text-anchor="middle" stroke="#000" stroke-width="0.75">+</text>
<text x="1398.4" y="474.3" font-size="28" text-anchor="middle" stroke="#000" stroke-width="0.75">+</text>
<line x1="1589.6" y1="328.3" x2="1612.6" y2="328.3" stroke="#ff1a1a" stroke-width="2" stroke-linecap="butt"/>
<line x1="1601.1" y1="324.2" x2="1601.1" y2="332.8" stroke="#ff1a1a" stroke-width="2" stroke-linecap="butt"/>
<line x1="1595.3" y1="324.2" x2="1606.8" y2="324.2" stroke="#ff1a1a" stroke-width="2" stroke-linecap="butt"/>
<line x1="1595.3" y1="332.8" x2="1606.8" y2="332.8" stroke="#ff1a1a" stroke-width="2" stroke-linecap="butt"/>
<circle cx="1601.1" cy="323.0" r="2.7" fill="#ff1a1a"/>
<circle cx="1611.1" cy="318.5" r="2.7" fill="#ff1a1a"/>
<circle cx="1601.1" cy="328.0" r="2.7" fill="#ff1a1a"/>
<circle cx="1601.1" cy="342.0" r="2.7" fill="#ff1a1a"/>
<circle cx="1610.1" cy="326.0" r="2.7" fill="#ff1a1a"/>
<line x1="1627.4" y1="269.0" x2="1650.4" y2="269.0" stroke="#1010ff" stroke-width="2" stroke-linecap="butt"/>
<line x1="1638.9" y1="261.0" x2="1638.9" y2="277.0" stroke="#1010ff" stroke-width="2" stroke-linecap="butt"/>
<line x1="1633.1" y1="261.0" x2="1644.6" y2="261.0" stroke="#1010ff" stroke-width="2" stroke-linecap="butt"/>
<line x1="1633.1" y1="277.0" x2="1644.6" y2="277.0" stroke="#1010ff" stroke-width="2" stroke-linecap="butt"/>
<rect x="1636.1" y="242.2" width="5.6" height="5.6" fill="#1010ff"/>
<rect x="1636.1" y="255.2" width="5.6" height="5.6" fill="#1010ff"/>
<rect x="1646.1" y="275.7" width="5.6" height="5.6" fill="#1010ff"/>
<rect x="1636.1" y="281.7" width="5.6" height="5.6" fill="#1010ff"/>
<rect x="1636.1" y="273.2" width="5.6" height="5.6" fill="#1010ff"/>
<line x1="1665.2" y1="315.7" x2="1688.2" y2="315.7" stroke="#ffff00" stroke-width="2" stroke-linecap="butt"/>
<line x1="1676.7" y1="310.0" x2="1676.7" y2="320.8" stroke="#ffff00" stroke-width="2" stroke-linecap="butt"/>
<line x1="1670.9" y1="310.0" x2="1682.4" y2="310.0" stroke="#ffff00" stroke-width="2" stroke-linecap="butt"/>
<line x1="1670.9" y1="320.8" x2="1682.4" y2="320.8" stroke="#ffff00" stroke-width="2" stroke-linecap="butt"/>
<polygon points="1673.5,301.1 1679.9,301.1 1676.7,295.3" fill="#ffff00"/>
<polygon points="1664.5,318.6 1670.9,318.6 1667.7,312.8" fill="#ffff00"/>
<polygon points="1682.5,320.6 1688.9,320.6 1685.7,314.8" fill="#ffff00"/>
<polygon points="1673.5,333.6 1679.9,333.6 1676.7,327.8" fill="#ffff00"/>
<polygon points="1673.5,316.6 1679.9,316.6 1676.7,310.8" fill="#ffff00"/>
<line x1="1703.0" y1="279.9" x2="1726.0" y2="279.9" stroke="#a020f0" stroke-width="2" stroke-linecap="butt"/>
<line x1="1714.5" y1="273.0" x2="1714.5" y2="286.7" stroke="#a020f0" stroke-width="2" stroke-linecap="butt"/>
<line x1="1708.8" y1="273.0" x2="1720.2" y2="273.0" stroke="#a020f0" stroke-width="2" stroke-linecap="butt"/>
<line x1="1708.8" y1="286.7" x2="1720.2" y2="286.7" stroke="#a020f0" stroke-width="2" stroke-linecap="butt"/>
<polygon points="1701.3,260.4 1707.7,260.4 1704.5,266.2" fill="#a020f0"/>
<polygon points="1711.3,260.4 1717.7,260.4 1714.5,266.2" fill="#a020f0"/>
<polygon points="1721.3,280.4 1727.7,280.4 1724.5,286.2" fill="#a020f0"/>
<polygon points="1711.3,294.4 1717.7,294.4 1714.5,300.2" fill="#a020f0"/>
<polygon points="1711.3,285.4 1717.7,285.4 1714.5,291.2" fill="#a020f0"/>
<line x1="1582.8" y1="234.9" x2="1582.8" y2="389.9" stroke="#000" stroke-width="2.8" stroke-linecap="butt"/>
<line x1="1574.8" y1="388.5" x2="1737.0" y2="388.5" stroke="#000" stroke-width="2.8" stroke-linecap="butt"/>
<line x1="1574.8" y1="236.3" x2="1582.8" y2="236.3" stroke="#000" stroke-width="2.8" stroke-linecap="butt"/>
<text x="1568.5" y="244.9" font-size="24" text-anchor="end">2.5</text>
<line x1="1574.8" y1="266.7" x2="1582.8" y2="266.7" stroke="#000" stroke-width="2.8" stroke-linecap="butt"/>
<text x="1568.5" y="275.3" font-size="24" text-anchor="end">2.0</text>
<line x1="1574.8" y1="297.2" x2="1582.8" y2="297.2" stroke="#000" stroke-width="2.8" stroke-linecap="butt"/>
<text x="1568.5" y="305.8" font-size="24" text-anchor="end">1.5</text>
<line x1="1574.8" y1="327.6" x2="1582.8" y2="327.6" stroke="#000" stroke-width="2.8" stroke-linecap="butt"/>
<text x="1568.5" y="336.2" font-size="24" text-anchor="end">1.0</text>
<line x1="1574.8" y1="358.1" x2="1582.8" y2="358.1" stroke="#000" stroke-width="2.8" stroke-linecap="butt"/>
<text x="1568.5" y="366.7" font-size="24" text-anchor="end">0.5</text>
<line x1="1574.8" y1="388.5" x2="1582.8" y2="388.5" stroke="#000" stroke-width="2.8" stroke-linecap="butt"/>
<text x="1568.5" y="397.1" font-size="24" text-anchor="end">0.0</text>
<text x="1505.0" y="293.5" font-size="23" text-anchor="middle" transform="rotate(-90 1505.0 293.5)">Relative <tspan font-style="italic">CollagenIII</tspan></text>
<text x="1530.5" y="305.0" font-size="23" text-anchor="middle" transform="rotate(-90 1530.5 305.0)">mRNA levels</text>
<text x="1581.7" y="220.0" font-size="17.6" text-anchor="start">P=.0001</text>
<line x1="1597.0" y1="224.6" x2="1636.0" y2="224.6" stroke="#000" stroke-width="1.9" stroke-linecap="butt"/>
<text x="1641.5" y="236.5" font-size="17.6" text-anchor="start">P=.0012</text>
<line x1="1640.4" y1="238.2" x2="1681.7" y2="238.2" stroke="#000" stroke-width="1.9" stroke-linecap="butt"/>
<text x="1672.0" y="251.9" font-size="17.6" text-anchor="start">P=.0037</text>
<line x1="1680.0" y1="255.3" x2="1716.6" y2="255.3" stroke="#000" stroke-width="1.9" stroke-linecap="butt"/>
<text x="1580.9" y="412.2" font-size="19.7" text-anchor="end">AAV-Ctrl</text>
<text x="1580.9" y="431.2" font-size="19.7" text-anchor="end">AAV-sh-FYN</text>
<text x="1580.9" y="450.2" font-size="19.7" text-anchor="end">AAV-FGF18</text>
<text x="1580.9" y="469.0" font-size="19.7" text-anchor="end">TAC</text>
<text x="1601.1" y="416.3" font-size="28" text-anchor="middle" stroke="#000" stroke-width="0.75">+</text>
<text x="1638.9" y="416.3" font-size="28" text-anchor="middle" stroke="#000" stroke-width="0.75">+</text>
<text x="1676.7" y="416.3" font-size="28" text-anchor="middle" stroke="#000" stroke-width="0.75">−</text>
<text x="1714.5" y="416.3" font-size="28" text-anchor="middle" stroke="#000" stroke-width="0.75">−</text>
<text x="1601.1" y="434.5" font-size="28" text-anchor="middle" stroke="#000" stroke-width="0.75">−</text>
<text x="1638.9" y="434.5" font-size="28" text-anchor="middle" stroke="#000" stroke-width="0.75">−</text>
<text x="1676.7" y="434.5" font-size="28" text-anchor="middle" stroke="#000" stroke-width="0.75">−</text>
<text x="1714.5" y="434.5" font-size="28" text-anchor="middle" stroke="#000" stroke-width="0.75">+</text>
<text x="1601.1" y="453.2" font-size="28" text-anchor="middle" stroke="#000" stroke-width="0.75">−</text>
<text x="1638.9" y="453.2" font-size="28" text-anchor="middle" stroke="#000" stroke-width="0.75">−</text>
<text x="1676.7" y="453.2" font-size="28" text-anchor="middle" stroke="#000" stroke-width="0.75">+</text>
<text x="1714.5" y="453.2" font-size="28" text-anchor="middle" stroke="#000" stroke-width="0.75">+</text>
<text x="1601.1" y="472.5" font-size="28" text-anchor="middle" stroke="#000" stroke-width="0.75">−</text>
<text x="1638.9" y="472.5" font-size="28" text-anchor="middle" stroke="#000" stroke-width="0.75">+</text>
<text x="1676.7" y="472.5" font-size="28" text-anchor="middle" stroke="#000" stroke-width="0.75">+</text>
<text x="1714.5" y="472.5" font-size="28" text-anchor="middle" stroke="#000" stroke-width="0.75">+</text>
<text x="143.3" y="319.0" font-size="25.4" text-anchor="end">AAV-Ctrl</text>
<text x="143.3" y="345.0" font-size="25.4" text-anchor="end">AAV-sh-FYN</text>
<text x="143.3" y="371.0" font-size="25.4" text-anchor="end">AAV-FGF18</text>
<text x="143.3" y="397.3" font-size="25.4" text-anchor="end">TAC</text>
<text x="222.0" y="325.9" font-size="41" text-anchor="middle" stroke="#000" stroke-width="0.9">+</text>
<text x="377.7" y="325.9" font-size="41" text-anchor="middle" stroke="#000" stroke-width="0.9">+</text>
<text x="522.5" y="325.9" font-size="41" text-anchor="middle" stroke="#000" stroke-width="1.5">−</text>
<text x="670.0" y="325.9" font-size="41" text-anchor="middle" stroke="#000" stroke-width="1.5">−</text>
<text x="222.0" y="350.9" font-size="41" text-anchor="middle" stroke="#000" stroke-width="1.5">−</text>
<text x="377.7" y="350.9" font-size="41" text-anchor="middle" stroke="#000" stroke-width="1.5">−</text>
<text x="522.5" y="350.9" font-size="41" text-anchor="middle" stroke="#000" stroke-width="1.5">−</text>
<text x="670.0" y="350.9" font-size="41" text-anchor="middle" stroke="#000" stroke-width="0.9">+</text>
<text x="222.0" y="376.9" font-size="41" text-anchor="middle" stroke="#000" stroke-width="1.5">−</text>
<text x="377.7" y="376.9" font-size="41" text-anchor="middle" stroke="#000" stroke-width="1.5">−</text>
<text x="522.5" y="376.9" font-size="41" text-anchor="middle" stroke="#000" stroke-width="0.9">+</text>
<text x="670.0" y="376.9" font-size="41" text-anchor="middle" stroke="#000" stroke-width="0.9">+</text>
<text x="222.0" y="402.2" font-size="41" text-anchor="middle" stroke="#000" stroke-width="1.5">−</text>
<text x="377.7" y="402.2" font-size="41" text-anchor="middle" stroke="#000" stroke-width="0.9">+</text>
<text x="522.5" y="402.2" font-size="41" text-anchor="middle" stroke="#000" stroke-width="0.9">+</text>
<text x="670.0" y="402.2" font-size="41" text-anchor="middle" stroke="#000" stroke-width="0.9">+</text>
<text x="100.5" y="433.3" font-size="44" text-anchor="start">c</text>
<text x="100.8" y="747.4" font-size="44" text-anchor="start">g</text>
<rect x="926.6" y="608.8" width="22.6" height="53.7" fill="#f94444" stroke="#000" stroke-width="2.4"/>
<line x1="937.9" y1="603.4" x2="937.9" y2="612.5" stroke="#000" stroke-width="2" stroke-linecap="butt"/>
<line x1="931.9" y1="603.4" x2="943.9" y2="603.4" stroke="#000" stroke-width="2" stroke-linecap="butt"/>
<line x1="931.9" y1="612.5" x2="943.9" y2="612.5" stroke="#000" stroke-width="2" stroke-linecap="butt"/>
<circle cx="928.9" cy="605.2" r="2.6" fill="#000"/>
<circle cx="937.9" cy="602.3" r="2.6" fill="#000"/>
<circle cx="946.9" cy="604.5" r="2.6" fill="#000"/>
<circle cx="937.9" cy="608.4" r="2.6" fill="#000"/>
<circle cx="945.9" cy="611.8" r="2.6" fill="#000"/>
<circle cx="937.9" cy="613.6" r="2.6" fill="#000"/>
<rect x="964.2" y="554.2" width="22.6" height="108.3" fill="#0000ff" stroke="#000" stroke-width="2.4"/>
<line x1="975.5" y1="547.2" x2="975.5" y2="559.6" stroke="#000" stroke-width="2" stroke-linecap="butt"/>
<line x1="969.5" y1="547.2" x2="981.5" y2="547.2" stroke="#000" stroke-width="2" stroke-linecap="butt"/>
<line x1="969.5" y1="559.6" x2="981.5" y2="559.6" stroke="#000" stroke-width="2" stroke-linecap="butt"/>
<circle cx="966.5" cy="549.7" r="2.6" fill="#000"/>
<circle cx="975.5" cy="545.7" r="2.6" fill="#000"/>
<circle cx="984.5" cy="548.7" r="2.6" fill="#000"/>
<circle cx="975.5" cy="554.0" r="2.6" fill="#000"/>
<circle cx="983.5" cy="558.6" r="2.6" fill="#000"/>
<circle cx="975.5" cy="561.1" r="2.6" fill="#000"/>
<rect x="1001.8" y="598.4" width="22.6" height="64.1" fill="#ffff00" stroke="#000" stroke-width="2.4"/>
<line x1="1013.1" y1="590.3" x2="1013.1" y2="604.4" stroke="#000" stroke-width="2" stroke-linecap="butt"/>
<line x1="1007.1" y1="590.3" x2="1019.1" y2="590.3" stroke="#000" stroke-width="2" stroke-linecap="butt"/>
<line x1="1007.1" y1="604.4" x2="1019.1" y2="604.4" stroke="#000" stroke-width="2" stroke-linecap="butt"/>
<circle cx="1004.1" cy="593.1" r="2.6" fill="#000"/>
<circle cx="1013.1" cy="588.6" r="2.6" fill="#000"/>
<circle cx="1022.1" cy="592.0" r="2.6" fill="#000"/>
<circle cx="1013.1" cy="598.1" r="2.6" fill="#000"/>
<circle cx="1021.1" cy="603.3" r="2.6" fill="#000"/>
<circle cx="1013.1" cy="606.1" r="2.6" fill="#000"/>
<rect x="1039.4" y="558.8" width="22.6" height="103.7" fill="#aa0ee6" stroke="#000" stroke-width="2.4"/>
<line x1="1050.7" y1="552.0" x2="1050.7" y2="563.5" stroke="#000" stroke-width="2" stroke-linecap="butt"/>
<line x1="1044.7" y1="552.0" x2="1056.7" y2="552.0" stroke="#000" stroke-width="2" stroke-linecap="butt"/>
<line x1="1044.7" y1="563.5" x2="1056.7" y2="563.5" stroke="#000" stroke-width="2" stroke-linecap="butt"/>
<circle cx="1041.7" cy="554.3" r="2.6" fill="#000"/>
<circle cx="1050.7" cy="550.6" r="2.6" fill="#000"/>
<circle cx="1059.7" cy="553.4" r="2.6" fill="#000"/>
<circle cx="1050.7" cy="558.3" r="2.6" fill="#000"/>
<circle cx="1058.7" cy="562.6" r="2.6" fill="#000"/>
<circle cx="1050.7" cy="564.9" r="2.6" fill="#000"/>
<line x1="918.9" y1="509.2" x2="918.9" y2="663.9" stroke="#000" stroke-width="2.8" stroke-linecap="butt"/>
<line x1="910.9" y1="662.5" x2="1070.8" y2="662.5" stroke="#000" stroke-width="2.8" stroke-linecap="butt"/>
<line x1="910.9" y1="510.6" x2="918.9" y2="510.6" stroke="#000" stroke-width="2.8" stroke-linecap="butt"/>
<text x="905.2" y="519.2" font-size="24" text-anchor="end">800</text>
<line x1="910.9" y1="548.6" x2="918.9" y2="548.6" stroke="#000" stroke-width="2.8" stroke-linecap="butt"/>
<text x="905.2" y="557.2" font-size="24" text-anchor="end">600</text>
<line x1="910.9" y1="586.5" x2="918.9" y2="586.5" stroke="#000" stroke-width="2.8" stroke-linecap="butt"/>
<text x="905.2" y="595.1" font-size="24" text-anchor="end">400</text>
<line x1="910.9" y1="624.5" x2="918.9" y2="624.5" stroke="#000" stroke-width="2.8" stroke-linecap="butt"/>
<text x="905.2" y="633.1" font-size="24" text-anchor="end">200</text>
<line x1="910.9" y1="662.5" x2="918.9" y2="662.5" stroke="#000" stroke-width="2.8" stroke-linecap="butt"/>
<text x="905.2" y="671.1" font-size="24" text-anchor="end">0</text>
<text x="922.0" y="511.9" font-size="17.6" text-anchor="start">P&lt;.0001</text>
<line x1="932.0" y1="517.1" x2="972.0" y2="517.1" stroke="#000" stroke-width="1.9" stroke-linecap="butt"/>
<text x="982.6" y="526.6" font-size="17.6" text-anchor="start">P&lt;.0001</text>
<line x1="975.4" y1="530.8" x2="1020.0" y2="530.8" stroke="#000" stroke-width="1.9" stroke-linecap="butt"/>
<text x="1018.6" y="541.3" font-size="17.6" text-anchor="start">P&lt;.0001</text>
<line x1="1014.6" y1="545.5" x2="1046.3" y2="545.5" stroke="#000" stroke-width="1.9" stroke-linecap="butt"/>
<text x="828.5" y="575.0" font-size="23" text-anchor="middle" transform="rotate(-90 828.5 575.0)">Myocyte cross-</text>
<text x="853.5" y="571.0" font-size="23" text-anchor="middle" transform="rotate(-90 853.5 571.0)">sectional area(μm<tspan font-size="14" dy="-8">2</tspan><tspan dy="8">)</tspan></text>
<text x="915.5" y="687.7" font-size="19.7" text-anchor="end">AAV-Ctrl</text>
<text x="915.5" y="706.4" font-size="19.7" text-anchor="end">AAV-sh-FYN</text>
<text x="915.5" y="725.0" font-size="19.7" text-anchor="end">AAV-FGF18</text>
<text x="915.5" y="744.0" font-size="19.7" text-anchor="end">TAC</text>
<text x="937.9" y="692.3" font-size="28" text-anchor="middle" stroke="#000" stroke-width="0.75">+</text>
<text x="975.5" y="692.3" font-size="28" text-anchor="middle" stroke="#000" stroke-width="0.75">+</text>
<text x="1013.1" y="692.3" font-size="28" text-anchor="middle" stroke="#000" stroke-width="0.75">−</text>
<text x="1050.7" y="692.3" font-size="28" text-anchor="middle" stroke="#000" stroke-width="0.75">−</text>
<text x="937.9" y="709.7" font-size="28" text-anchor="middle" stroke="#000" stroke-width="0.75">−</text>
<text x="975.5" y="709.7" font-size="28" text-anchor="middle" stroke="#000" stroke-width="0.75">−</text>
<text x="1013.1" y="709.7" font-size="28" text-anchor="middle" stroke="#000" stroke-width="0.75">−</text>
<text x="1050.7" y="709.7" font-size="28" text-anchor="middle" stroke="#000" stroke-width="0.75">+</text>
<text x="937.9" y="728.3" font-size="28" text-anchor="middle" stroke="#000" stroke-width="0.75">−</text>
<text x="975.5" y="728.3" font-size="28" text-anchor="middle" stroke="#000" stroke-width="0.75">−</text>
<text x="1013.1" y="728.3" font-size="28" text-anchor="middle" stroke="#000" stroke-width="0.75">+</text>
<text x="1050.7" y="728.3" font-size="28" text-anchor="middle" stroke="#000" stroke-width="0.75">+</text>
<text x="937.9" y="747.2" font-size="28" text-anchor="middle" stroke="#000" stroke-width="0.75">−</text>
<text x="975.5" y="747.2" font-size="28" text-anchor="middle" stroke="#000" stroke-width="0.75">+</text>
<text x="1013.1" y="747.2" font-size="28" text-anchor="middle" stroke="#000" stroke-width="0.75">+</text>
<text x="1050.7" y="747.2" font-size="28" text-anchor="middle" stroke="#000" stroke-width="0.75">+</text>
<rect x="925.4" y="909.2" width="22.6" height="24.0" fill="#f94444" stroke="#000" stroke-width="2.4"/>
<line x1="936.7" y1="901.0" x2="936.7" y2="915.8" stroke="#000" stroke-width="2" stroke-linecap="butt"/>
<line x1="930.7" y1="901.0" x2="942.7" y2="901.0" stroke="#000" stroke-width="2" stroke-linecap="butt"/>
<line x1="930.7" y1="915.8" x2="942.7" y2="915.8" stroke="#000" stroke-width="2" stroke-linecap="butt"/>
<circle cx="927.7" cy="904.0" r="2.6" fill="#000"/>
<circle cx="936.7" cy="899.2" r="2.6" fill="#000"/>
<circle cx="945.7" cy="902.8" r="2.6" fill="#000"/>
<circle cx="936.7" cy="909.1" r="2.6" fill="#000"/>
<circle cx="944.7" cy="914.6" r="2.6" fill="#000"/>
<rect x="963.0" y="845.0" width="22.6" height="88.2" fill="#0000ff" stroke="#000" stroke-width="2.4"/>
<line x1="974.3" y1="824.7" x2="974.3" y2="863.3" stroke="#000" stroke-width="2" stroke-linecap="butt"/>
<line x1="968.3" y1="824.7" x2="980.3" y2="824.7" stroke="#000" stroke-width="2" stroke-linecap="butt"/>
<line x1="968.3" y1="863.3" x2="980.3" y2="863.3" stroke="#000" stroke-width="2" stroke-linecap="butt"/>
<circle cx="965.3" cy="832.4" r="2.6" fill="#000"/>
<circle cx="974.3" cy="820.1" r="2.6" fill="#000"/>
<circle cx="983.3" cy="829.3" r="2.6" fill="#000"/>
<circle cx="974.3" cy="845.9" r="2.6" fill="#000"/>
<circle cx="982.3" cy="860.2" r="2.6" fill="#000"/>
<rect x="1000.6" y="906.0" width="22.6" height="27.2" fill="#ffff00" stroke="#000" stroke-width="2.4"/>
<line x1="1011.9" y1="897.8" x2="1011.9" y2="911.2" stroke="#000" stroke-width="2" stroke-linecap="butt"/>
<line x1="1005.9" y1="897.8" x2="1017.9" y2="897.8" stroke="#000" stroke-width="2" stroke-linecap="butt"/>
<line x1="1005.9" y1="911.2" x2="1017.9" y2="911.2" stroke="#000" stroke-width="2" stroke-linecap="butt"/>
<circle cx="1002.9" cy="900.5" r="2.6" fill="#000"/>
<circle cx="1011.9" cy="896.2" r="2.6" fill="#000"/>
<circle cx="1020.9" cy="899.4" r="2.6" fill="#000"/>
<circle cx="1011.9" cy="905.2" r="2.6" fill="#000"/>
<circle cx="1019.9" cy="910.1" r="2.6" fill="#000"/>
<rect x="1038.2" y="863.4" width="22.6" height="69.8" fill="#aa0ee6" stroke="#000" stroke-width="2.4"/>
<line x1="1049.5" y1="848.7" x2="1049.5" y2="875.6" stroke="#000" stroke-width="2" stroke-linecap="butt"/>
<line x1="1043.5" y1="848.7" x2="1055.5" y2="848.7" stroke="#000" stroke-width="2" stroke-linecap="butt"/>
<line x1="1043.5" y1="875.6" x2="1055.5" y2="875.6" stroke="#000" stroke-width="2" stroke-linecap="butt"/>
<circle cx="1040.5" cy="854.1" r="2.6" fill="#000"/>
<circle cx="1049.5" cy="845.5" r="2.6" fill="#000"/>
<circle cx="1058.5" cy="851.9" r="2.6" fill="#000"/>
<circle cx="1049.5" cy="863.5" r="2.6" fill="#000"/>
<circle cx="1057.5" cy="873.4" r="2.6" fill="#000"/>
<line x1="918.8" y1="779.9" x2="918.8" y2="934.6" stroke="#000" stroke-width="2.8" stroke-linecap="butt"/>
<line x1="910.8" y1="933.2" x2="1072.0" y2="933.2" stroke="#000" stroke-width="2.8" stroke-linecap="butt"/>
<line x1="910.8" y1="781.3" x2="918.8" y2="781.3" stroke="#000" stroke-width="2.8" stroke-linecap="butt"/>
<text x="902.9" y="789.9" font-size="24" text-anchor="end">6</text>
<line x1="910.8" y1="831.9" x2="918.8" y2="831.9" stroke="#000" stroke-width="2.8" stroke-linecap="butt"/>
<text x="902.9" y="840.5" font-size="24" text-anchor="end">4</text>
<line x1="910.8" y1="882.6" x2="918.8" y2="882.6" stroke="#000" stroke-width="2.8" stroke-linecap="butt"/>
<text x="902.9" y="891.2" font-size="24" text-anchor="end">2</text>
<line x1="910.8" y1="933.2" x2="918.8" y2="933.2" stroke="#000" stroke-width="2.8" stroke-linecap="butt"/>
<text x="902.9" y="941.8" font-size="24" text-anchor="end">0</text>
<text x="921.5" y="786.6" font-size="17.6" text-anchor="start">P=.0001</text>
<line x1="930.8" y1="791.5" x2="970.7" y2="791.5" stroke="#000" stroke-width="1.9" stroke-linecap="butt"/>
<text x="971.7" y="804.0" font-size="17.6" text-anchor="start">P=.0002</text>
<line x1="973.9" y1="807.8" x2="1015.2" y2="807.8" stroke="#000" stroke-width="1.9" stroke-linecap="butt"/>
<text x="1001.4" y="833.2" font-size="17.6" text-anchor="start">P=.0003</text>
<line x1="1014.0" y1="837.5" x2="1051.8" y2="837.5" stroke="#000" stroke-width="1.9" stroke-linecap="butt"/>
<text x="858.4" y="849.0" font-size="23" text-anchor="middle" transform="rotate(-90 858.4 849.0)">Interstitial fibrosis</text>
<text x="880.6" y="849.6" font-size="23" text-anchor="middle" transform="rotate(-90 880.6 849.6)">(% staining/field)</text>
<text x="916.0" y="960.0" font-size="19.7" text-anchor="end">AAV-Ctrl</text>
<text x="916.0" y="978.7" font-size="19.7" text-anchor="end">AAV-sh-FYN</text>
<text x="916.0" y="997.1" font-size="19.7" text-anchor="end">AAV-FGF18</text>
<text x="916.0" y="1015.5" font-size="19.7" text-anchor="end">TAC</text>
<text x="936.7" y="963.9" font-size="28" text-anchor="middle" stroke="#000" stroke-width="0.75">+</text>
<text x="974.3" y="963.9" font-size="28" text-anchor="middle" stroke="#000" stroke-width="0.75">+</text>
<text x="1011.9" y="963.9" font-size="28" text-anchor="middle" stroke="#000" stroke-width="0.75">−</text>
<text x="1049.5" y="963.9" font-size="28" text-anchor="middle" stroke="#000" stroke-width="0.75">−</text>
<text x="936.7" y="981.3" font-size="28" text-anchor="middle" stroke="#000" stroke-width="0.75">−</text>
<text x="974.3" y="981.3" font-size="28" text-anchor="middle" stroke="#000" stroke-width="0.75">−</text>
<text x="1011.9" y="981.3" font-size="28" text-anchor="middle" stroke="#000" stroke-width="0.75">−</text>
<text x="1049.5" y="981.3" font-size="28" text-anchor="middle" stroke="#000" stroke-width="0.75">+</text>
<text x="936.7" y="1000.1" font-size="28" text-anchor="middle" stroke="#000" stroke-width="0.75">−</text>
<text x="974.3" y="1000.1" font-size="28" text-anchor="middle" stroke="#000" stroke-width="0.75">−</text>
<text x="1011.9" y="1000.1" font-size="28" text-anchor="middle" stroke="#000" stroke-width="0.75">+</text>
<text x="1049.5" y="1000.1" font-size="28" text-anchor="middle" stroke="#000" stroke-width="0.75">+</text>
<text x="936.7" y="1018.5" font-size="28" text-anchor="middle" stroke="#000" stroke-width="0.75">−</text>
<text x="974.3" y="1018.5" font-size="28" text-anchor="middle" stroke="#000" stroke-width="0.75">+</text>
<text x="1011.9" y="1018.5" font-size="28" text-anchor="middle" stroke="#000" stroke-width="0.75">+</text>
<text x="1049.5" y="1018.5" font-size="28" text-anchor="middle" stroke="#000" stroke-width="0.75">+</text>
<text x="1152.0" y="518.6" font-size="41" text-anchor="start">e</text>
<rect x="1274.7" y="604.7" width="22.6" height="55.5" fill="#f94444" stroke="#000" stroke-width="2.4"/>
<line x1="1286.0" y1="596.7" x2="1286.0" y2="611.4" stroke="#000" stroke-width="2" stroke-linecap="butt"/>
<line x1="1280.0" y1="596.7" x2="1292.0" y2="596.7" stroke="#000" stroke-width="2" stroke-linecap="butt"/>
<line x1="1280.0" y1="611.4" x2="1292.0" y2="611.4" stroke="#000" stroke-width="2" stroke-linecap="butt"/>
<circle cx="1277.0" cy="599.6" r="2.6" fill="#000"/>
<circle cx="1286.0" cy="594.9" r="2.6" fill="#000"/>
<circle cx="1295.0" cy="598.5" r="2.6" fill="#000"/>
<circle cx="1286.0" cy="604.8" r="2.6" fill="#000"/>
<circle cx="1294.0" cy="610.2" r="2.6" fill="#000"/>
<rect x="1312.3" y="553.6" width="22.6" height="106.6" fill="#0000ff" stroke="#000" stroke-width="2.4"/>
<line x1="1323.6" y1="542.0" x2="1323.6" y2="563.6" stroke="#000" stroke-width="2" stroke-linecap="butt"/>
<line x1="1317.6" y1="542.0" x2="1329.6" y2="542.0" stroke="#000" stroke-width="2" stroke-linecap="butt"/>
<line x1="1317.6" y1="563.6" x2="1329.6" y2="563.6" stroke="#000" stroke-width="2" stroke-linecap="butt"/>
<circle cx="1314.6" cy="546.3" r="2.6" fill="#000"/>
<circle cx="1323.6" cy="539.4" r="2.6" fill="#000"/>
<circle cx="1332.6" cy="544.6" r="2.6" fill="#000"/>
<circle cx="1323.6" cy="553.9" r="2.6" fill="#000"/>
<circle cx="1331.6" cy="561.9" r="2.6" fill="#000"/>
<rect x="1349.9" y="591.1" width="22.6" height="69.1" fill="#ffff00" stroke="#000" stroke-width="2.4"/>
<line x1="1361.2" y1="581.4" x2="1361.2" y2="597.7" stroke="#000" stroke-width="2" stroke-linecap="butt"/>
<line x1="1355.2" y1="581.4" x2="1367.2" y2="581.4" stroke="#000" stroke-width="2" stroke-linecap="butt"/>
<line x1="1355.2" y1="597.7" x2="1367.2" y2="597.7" stroke="#000" stroke-width="2" stroke-linecap="butt"/>
<circle cx="1352.2" cy="584.7" r="2.6" fill="#000"/>
<circle cx="1361.2" cy="579.4" r="2.6" fill="#000"/>
<circle cx="1370.2" cy="583.4" r="2.6" fill="#000"/>
<circle cx="1361.2" cy="590.4" r="2.6" fill="#000"/>
<circle cx="1369.2" cy="596.4" r="2.6" fill="#000"/>
<rect x="1387.5" y="565.8" width="22.6" height="94.4" fill="#aa0ee6" stroke="#000" stroke-width="2.4"/>
<line x1="1398.8" y1="551.0" x2="1398.8" y2="579.0" stroke="#000" stroke-width="2" stroke-linecap="butt"/>
<line x1="1392.8" y1="551.0" x2="1404.8" y2="551.0" stroke="#000" stroke-width="2" stroke-linecap="butt"/>
<line x1="1392.8" y1="579.0" x2="1404.8" y2="579.0" stroke="#000" stroke-width="2" stroke-linecap="butt"/>
<circle cx="1389.8" cy="556.6" r="2.6" fill="#000"/>
<circle cx="1398.8" cy="547.6" r="2.6" fill="#000"/>
<circle cx="1407.8" cy="554.4" r="2.6" fill="#000"/>
<circle cx="1398.8" cy="566.4" r="2.6" fill="#000"/>
<circle cx="1406.8" cy="576.8" r="2.6" fill="#000"/>
<line x1="1266.0" y1="508.3" x2="1266.0" y2="661.6" stroke="#000" stroke-width="2.8" stroke-linecap="butt"/>
<line x1="1258.0" y1="660.2" x2="1419.0" y2="660.2" stroke="#000" stroke-width="2.8" stroke-linecap="butt"/>
<line x1="1258.0" y1="509.7" x2="1266.0" y2="509.7" stroke="#000" stroke-width="2.8" stroke-linecap="butt"/>
<text x="1252.4" y="518.3" font-size="24" text-anchor="end">12</text>
<line x1="1258.0" y1="559.9" x2="1266.0" y2="559.9" stroke="#000" stroke-width="2.8" stroke-linecap="butt"/>
<text x="1252.4" y="568.5" font-size="24" text-anchor="end">8</text>
<line x1="1258.0" y1="610.0" x2="1266.0" y2="610.0" stroke="#000" stroke-width="2.8" stroke-linecap="butt"/>
<text x="1252.4" y="618.6" font-size="24" text-anchor="end">4</text>
<line x1="1258.0" y1="660.2" x2="1266.0" y2="660.2" stroke="#000" stroke-width="2.8" stroke-linecap="butt"/>
<text x="1252.4" y="668.8" font-size="24" text-anchor="end">0</text>
<text x="1268.8" y="509.5" font-size="17.6" text-anchor="start">p&lt;.0001</text>
<line x1="1279.7" y1="513.0" x2="1319.6" y2="513.0" stroke="#000" stroke-width="1.9" stroke-linecap="butt"/>
<text x="1310.4" y="523.5" font-size="17.6" text-anchor="start">p=.0003</text>
<line x1="1323.4" y1="526.8" x2="1364.3" y2="526.8" stroke="#000" stroke-width="1.9" stroke-linecap="butt"/>
<text x="1357.5" y="538.5" font-size="17.6" text-anchor="start">p=.008</text>
<line x1="1363.3" y1="542.5" x2="1402.0" y2="542.5" stroke="#000" stroke-width="1.9" stroke-linecap="butt"/>
<text x="1220.0" y="585.8" font-size="23" text-anchor="middle" transform="rotate(-90 1220.0 585.8)">HW/BW(mg/g)</text>
<text x="1264.1" y="687.2" font-size="19.7" text-anchor="end">AAV-Ctrl</text>
<text x="1264.1" y="706.0" font-size="19.7" text-anchor="end">AAV-sh-FYN</text>
<text x="1264.1" y="724.7" font-size="19.7" text-anchor="end">AAV-FGF18</text>
<text x="1264.1" y="743.5" font-size="19.7" text-anchor="end">TAC</text>
<text x="1286.0" y="691.9" font-size="28" text-anchor="middle" stroke="#000" stroke-width="0.75">+</text>
<text x="1323.6" y="691.9" font-size="28" text-anchor="middle" stroke="#000" stroke-width="0.75">+</text>
<text x="1361.2" y="691.9" font-size="28" text-anchor="middle" stroke="#000" stroke-width="0.75">−</text>
<text x="1398.8" y="691.9" font-size="28" text-anchor="middle" stroke="#000" stroke-width="0.75">−</text>
<text x="1286.0" y="709.5" font-size="28" text-anchor="middle" stroke="#000" stroke-width="0.75">−</text>
<text x="1323.6" y="709.5" font-size="28" text-anchor="middle" stroke="#000" stroke-width="0.75">−</text>
<text x="1361.2" y="709.5" font-size="28" text-anchor="middle" stroke="#000" stroke-width="0.75">−</text>
<text x="1398.8" y="709.5" font-size="28" text-anchor="middle" stroke="#000" stroke-width="0.75">+</text>
<text x="1286.0" y="727.7" font-size="28" text-anchor="middle" stroke="#000" stroke-width="0.75">−</text>
<text x="1323.6" y="727.7" font-size="28" text-anchor="middle" stroke="#000" stroke-width="0.75">−</text>
<text x="1361.2" y="727.7" font-size="28" text-anchor="middle" stroke="#000" stroke-width="0.75">+</text>
<text x="1398.8" y="727.7" font-size="28" text-anchor="middle" stroke="#000" stroke-width="0.75">+</text>
<text x="1286.0" y="746.5" font-size="28" text-anchor="middle" stroke="#000" stroke-width="0.75">−</text>
<text x="1323.6" y="746.5" font-size="28" text-anchor="middle" stroke="#000" stroke-width="0.75">+</text>
<text x="1361.2" y="746.5" font-size="28" text-anchor="middle" stroke="#000" stroke-width="0.75">+</text>
<text x="1398.8" y="746.5" font-size="28" text-anchor="middle" stroke="#000" stroke-width="0.75">+</text>
<text x="1474.5" y="518.6" font-size="41" text-anchor="start">h</text>
<rect x="1590.8" y="632.1" width="22.6" height="28.1" fill="#f94444" stroke="#000" stroke-width="2.4"/>
<line x1="1602.1" y1="625.0" x2="1602.1" y2="637.0" stroke="#000" stroke-width="2" stroke-linecap="butt"/>
<line x1="1596.1" y1="625.0" x2="1608.1" y2="625.0" stroke="#000" stroke-width="2" stroke-linecap="butt"/>
<line x1="1596.1" y1="637.0" x2="1608.1" y2="637.0" stroke="#000" stroke-width="2" stroke-linecap="butt"/>
<circle cx="1593.1" cy="627.4" r="2.6" fill="#000"/>
<circle cx="1602.1" cy="623.6" r="2.6" fill="#000"/>
<circle cx="1611.1" cy="626.4" r="2.6" fill="#000"/>
<circle cx="1602.1" cy="631.6" r="2.6" fill="#000"/>
<circle cx="1610.1" cy="636.0" r="2.6" fill="#000"/>
<rect x="1628.4" y="574.0" width="22.6" height="86.2" fill="#0000ff" stroke="#000" stroke-width="2.4"/>
<line x1="1639.7" y1="557.5" x2="1639.7" y2="589.2" stroke="#000" stroke-width="2" stroke-linecap="butt"/>
<line x1="1633.7" y1="557.5" x2="1645.7" y2="557.5" stroke="#000" stroke-width="2" stroke-linecap="butt"/>
<line x1="1633.7" y1="589.2" x2="1645.7" y2="589.2" stroke="#000" stroke-width="2" stroke-linecap="butt"/>
<circle cx="1630.7" cy="563.8" r="2.6" fill="#000"/>
<circle cx="1639.7" cy="553.7" r="2.6" fill="#000"/>
<circle cx="1648.7" cy="561.3" r="2.6" fill="#000"/>
<circle cx="1639.7" cy="574.9" r="2.6" fill="#000"/>
<circle cx="1647.7" cy="586.7" r="2.6" fill="#000"/>
<rect x="1666.0" y="620.1" width="22.6" height="40.1" fill="#ffff00" stroke="#000" stroke-width="2.4"/>
<line x1="1677.3" y1="608.7" x2="1677.3" y2="629.1" stroke="#000" stroke-width="2" stroke-linecap="butt"/>
<line x1="1671.3" y1="608.7" x2="1683.3" y2="608.7" stroke="#000" stroke-width="2" stroke-linecap="butt"/>
<line x1="1671.3" y1="629.1" x2="1683.3" y2="629.1" stroke="#000" stroke-width="2" stroke-linecap="butt"/>
<circle cx="1668.3" cy="612.8" r="2.6" fill="#000"/>
<circle cx="1677.3" cy="606.3" r="2.6" fill="#000"/>
<circle cx="1686.3" cy="611.1" r="2.6" fill="#000"/>
<circle cx="1677.3" cy="619.9" r="2.6" fill="#000"/>
<circle cx="1685.3" cy="627.5" r="2.6" fill="#000"/>
<rect x="1703.6" y="596.2" width="22.6" height="64.0" fill="#aa0ee6" stroke="#000" stroke-width="2.4"/>
<line x1="1714.9" y1="581.4" x2="1714.9" y2="609.7" stroke="#000" stroke-width="2" stroke-linecap="butt"/>
<line x1="1708.9" y1="581.4" x2="1720.9" y2="581.4" stroke="#000" stroke-width="2" stroke-linecap="butt"/>
<line x1="1708.9" y1="609.7" x2="1720.9" y2="609.7" stroke="#000" stroke-width="2" stroke-linecap="butt"/>
<circle cx="1705.9" cy="587.1" r="2.6" fill="#000"/>
<circle cx="1714.9" cy="578.0" r="2.6" fill="#000"/>
<circle cx="1723.9" cy="584.8" r="2.6" fill="#000"/>
<circle cx="1714.9" cy="597.0" r="2.6" fill="#000"/>
<circle cx="1722.9" cy="607.4" r="2.6" fill="#000"/>
<line x1="1582.8" y1="508.3" x2="1582.8" y2="661.6" stroke="#000" stroke-width="2.8" stroke-linecap="butt"/>
<line x1="1574.8" y1="660.2" x2="1735.8" y2="660.2" stroke="#000" stroke-width="2.8" stroke-linecap="butt"/>
<line x1="1574.8" y1="509.7" x2="1582.8" y2="509.7" stroke="#000" stroke-width="2.8" stroke-linecap="butt"/>
<text x="1568.0" y="518.3" font-size="24" text-anchor="end">10</text>
<line x1="1574.8" y1="539.8" x2="1582.8" y2="539.8" stroke="#000" stroke-width="2.8" stroke-linecap="butt"/>
<text x="1568.0" y="548.4" font-size="24" text-anchor="end">8</text>
<line x1="1574.8" y1="569.9" x2="1582.8" y2="569.9" stroke="#000" stroke-width="2.8" stroke-linecap="butt"/>
<text x="1568.0" y="578.5" font-size="24" text-anchor="end">6</text>
<line x1="1574.8" y1="600.0" x2="1582.8" y2="600.0" stroke="#000" stroke-width="2.8" stroke-linecap="butt"/>
<text x="1568.0" y="608.6" font-size="24" text-anchor="end">4</text>
<line x1="1574.8" y1="630.1" x2="1582.8" y2="630.1" stroke="#000" stroke-width="2.8" stroke-linecap="butt"/>
<text x="1568.0" y="638.7" font-size="24" text-anchor="end">2</text>
<line x1="1574.8" y1="660.2" x2="1582.8" y2="660.2" stroke="#000" stroke-width="2.8" stroke-linecap="butt"/>
<text x="1568.0" y="668.8" font-size="24" text-anchor="end">0</text>
<text x="1586.9" y="530.5" font-size="17.6" text-anchor="start">P&lt;.0001</text>
<line x1="1597.0" y1="533.9" x2="1636.3" y2="533.9" stroke="#000" stroke-width="1.9" stroke-linecap="butt"/>
<text x="1640.4" y="546.6" font-size="17.6" text-anchor="start">P=.0006</text>
<line x1="1640.4" y1="548.5" x2="1681.7" y2="548.5" stroke="#000" stroke-width="1.9" stroke-linecap="butt"/>
<text x="1663.0" y="569.4" font-size="17.6" text-anchor="start">P=.0146</text>
<line x1="1680.0" y1="572.8" x2="1716.6" y2="572.8" stroke="#000" stroke-width="1.9" stroke-linecap="butt"/>
<text x="1515.9" y="584.0" font-size="21.5" text-anchor="middle" transform="rotate(-90 1515.9 584.0)">Hydroxyproline</text>
<text x="1542.5" y="582.4" font-size="21.5" text-anchor="middle" transform="rotate(-90 1542.5 582.4)">/Total protein</text>
<text x="1580.9" y="685.5" font-size="19.7" text-anchor="end">AAV-Ctrl</text>
<text x="1580.9" y="704.2" font-size="19.7" text-anchor="end">AAV-sh-FYN</text>
<text x="1580.9" y="723.0" font-size="19.7" text-anchor="end">AAV-FGF18</text>
<text x="1580.9" y="741.7" font-size="19.7" text-anchor="end">TAC</text>
<text x="1602.1" y="690.2" font-size="28" text-anchor="middle" stroke="#000" stroke-width="0.75">+</text>
<text x="1639.7" y="690.2" font-size="28" text-anchor="middle" stroke="#000" stroke-width="0.75">+</text>
<text x="1677.3" y="690.2" font-size="28" text-anchor="middle" stroke="#000" stroke-width="0.75">−</text>
<text x="1714.9" y="690.2" font-size="28" text-anchor="middle" stroke="#000" stroke-width="0.75">−</text>
<text x="1602.1" y="707.9" font-size="28" text-anchor="middle" stroke="#000" stroke-width="0.75">−</text>
<text x="1639.7" y="707.9" font-size="28" text-anchor="middle" stroke="#000" stroke-width="0.75">−</text>
<text x="1677.3" y="707.9" font-size="28" text-anchor="middle" stroke="#000" stroke-width="0.75">−</text>
<text x="1714.9" y="707.9" font-size="28" text-anchor="middle" stroke="#000" stroke-width="0.75">+</text>
<text x="1602.1" y="726.0" font-size="28" text-anchor="middle" stroke="#000" stroke-width="0.75">−</text>
<text x="1639.7" y="726.0" font-size="28" text-anchor="middle" stroke="#000" stroke-width="0.75">−</text>
<text x="1677.3" y="726.0" font-size="28" text-anchor="middle" stroke="#000" stroke-width="0.75">+</text>
<text x="1714.9" y="726.0" font-size="28" text-anchor="middle" stroke="#000" stroke-width="0.75">+</text>
<text x="1602.1" y="744.8" font-size="28" text-anchor="middle" stroke="#000" stroke-width="0.75">−</text>
<text x="1639.7" y="744.8" font-size="28" text-anchor="middle" stroke="#000" stroke-width="0.75">+</text>
<text x="1677.3" y="744.8" font-size="28" text-anchor="middle" stroke="#000" stroke-width="0.75">+</text>
<text x="1714.9" y="744.8" font-size="28" text-anchor="middle" stroke="#000" stroke-width="0.75">+</text>
<text x="1161.0" y="792.7" font-size="39" text-anchor="start">f</text>
<rect x="1274.7" y="816.0" width="22.6" height="117.6" fill="#f94444" stroke="#000" stroke-width="2.4"/>
<line x1="1286.0" y1="810.7" x2="1286.0" y2="818.2" stroke="#000" stroke-width="2" stroke-linecap="butt"/>
<line x1="1280.0" y1="810.7" x2="1292.0" y2="810.7" stroke="#000" stroke-width="2" stroke-linecap="butt"/>
<line x1="1280.0" y1="818.2" x2="1292.0" y2="818.2" stroke="#000" stroke-width="2" stroke-linecap="butt"/>
<circle cx="1277.0" cy="812.2" r="2.6" fill="#000"/>
<circle cx="1286.0" cy="809.8" r="2.6" fill="#000"/>
<circle cx="1295.0" cy="811.6" r="2.6" fill="#000"/>
<circle cx="1286.0" cy="814.8" r="2.6" fill="#000"/>
<circle cx="1294.0" cy="817.6" r="2.6" fill="#000"/>
<rect x="1312.3" y="855.2" width="22.6" height="78.4" fill="#0000ff" stroke="#000" stroke-width="2.4"/>
<line x1="1323.6" y1="846.6" x2="1323.6" y2="861.0" stroke="#000" stroke-width="2" stroke-linecap="butt"/>
<line x1="1317.6" y1="846.6" x2="1329.6" y2="846.6" stroke="#000" stroke-width="2" stroke-linecap="butt"/>
<line x1="1317.6" y1="861.0" x2="1329.6" y2="861.0" stroke="#000" stroke-width="2" stroke-linecap="butt"/>
<circle cx="1314.6" cy="849.5" r="2.6" fill="#000"/>
<circle cx="1323.6" cy="844.9" r="2.6" fill="#000"/>
<circle cx="1332.6" cy="848.3" r="2.6" fill="#000"/>
<circle cx="1323.6" cy="854.5" r="2.6" fill="#000"/>
<circle cx="1331.6" cy="859.8" r="2.6" fill="#000"/>
<rect x="1349.9" y="824.6" width="22.6" height="109.0" fill="#ffff00" stroke="#000" stroke-width="2.4"/>
<line x1="1361.2" y1="819.0" x2="1361.2" y2="828.5" stroke="#000" stroke-width="2" stroke-linecap="butt"/>
<line x1="1355.2" y1="819.0" x2="1367.2" y2="819.0" stroke="#000" stroke-width="2" stroke-linecap="butt"/>
<line x1="1355.2" y1="828.5" x2="1367.2" y2="828.5" stroke="#000" stroke-width="2" stroke-linecap="butt"/>
<circle cx="1352.2" cy="820.9" r="2.6" fill="#000"/>
<circle cx="1361.2" cy="817.9" r="2.6" fill="#000"/>
<circle cx="1370.2" cy="820.1" r="2.6" fill="#000"/>
<circle cx="1361.2" cy="824.2" r="2.6" fill="#000"/>
<circle cx="1369.2" cy="827.7" r="2.6" fill="#000"/>
<rect x="1387.5" y="847.4" width="22.6" height="86.2" fill="#aa0ee6" stroke="#000" stroke-width="2.4"/>
<line x1="1398.8" y1="839.4" x2="1398.8" y2="851.7" stroke="#000" stroke-width="2" stroke-linecap="butt"/>
<line x1="1392.8" y1="839.4" x2="1404.8" y2="839.4" stroke="#000" stroke-width="2" stroke-linecap="butt"/>
<line x1="1392.8" y1="851.7" x2="1404.8" y2="851.7" stroke="#000" stroke-width="2" stroke-linecap="butt"/>
<circle cx="1389.8" cy="841.9" r="2.6" fill="#000"/>
<circle cx="1398.8" cy="837.9" r="2.6" fill="#000"/>
<circle cx="1407.8" cy="840.9" r="2.6" fill="#000"/>
<circle cx="1398.8" cy="846.2" r="2.6" fill="#000"/>
<circle cx="1406.8" cy="850.7" r="2.6" fill="#000"/>
<line x1="1266.0" y1="780.3" x2="1266.0" y2="935.0" stroke="#000" stroke-width="2.8" stroke-linecap="butt"/>
<line x1="1258.0" y1="933.6" x2="1419.0" y2="933.6" stroke="#000" stroke-width="2.8" stroke-linecap="butt"/>
<line x1="1258.0" y1="781.7" x2="1266.0" y2="781.7" stroke="#000" stroke-width="2.8" stroke-linecap="butt"/>
<text x="1252.4" y="790.3" font-size="24" text-anchor="end">80</text>
<line x1="1258.0" y1="819.7" x2="1266.0" y2="819.7" stroke="#000" stroke-width="2.8" stroke-linecap="butt"/>
<text x="1252.4" y="828.3" font-size="24" text-anchor="end">60</text>
<line x1="1258.0" y1="857.7" x2="1266.0" y2="857.7" stroke="#000" stroke-width="2.8" stroke-linecap="butt"/>
<text x="1252.4" y="866.2" font-size="24" text-anchor="end">40</text>
<line x1="1258.0" y1="895.6" x2="1266.0" y2="895.6" stroke="#000" stroke-width="2.8" stroke-linecap="butt"/>
<text x="1252.4" y="904.2" font-size="24" text-anchor="end">20</text>
<line x1="1258.0" y1="933.6" x2="1266.0" y2="933.6" stroke="#000" stroke-width="2.8" stroke-linecap="butt"/>
<text x="1252.4" y="942.2" font-size="24" text-anchor="end">0</text>
<text x="1271.0" y="782.5" font-size="17.6" text-anchor="start">p&lt;.0001</text>
<line x1="1279.0" y1="787.5" x2="1324.7" y2="787.5" stroke="#000" stroke-width="1.9" stroke-linecap="butt"/>
<text x="1310.4" y="799.0" font-size="17.6" text-anchor="start">p&lt;.0001</text>
<line x1="1319.6" y1="804.6" x2="1363.3" y2="804.6" stroke="#000" stroke-width="1.9" stroke-linecap="butt"/>
<text x="1382.0" y="805.0" font-size="17.6" text-anchor="start">p=.0006</text>
<line x1="1362.3" y1="812.5" x2="1402.6" y2="812.5" stroke="#000" stroke-width="1.9" stroke-linecap="butt"/>
<text x="1218.0" y="855.0" font-size="23.5" text-anchor="middle" transform="rotate(-90 1218.0 855.0)">LVEF (%)</text>
<text x="1264.1" y="958.2" font-size="19.7" text-anchor="end">AAV-Ctrl</text>
<text x="1264.1" y="977.0" font-size="19.7" text-anchor="end">AAV-sh-FYN</text>
<text x="1264.1" y="995.7" font-size="19.7" text-anchor="end">AAV-FGF18</text>
<text x="1264.1" y="1014.5" font-size="19.7" text-anchor="end">TAC</text>
<text x="1286.0" y="963.3" font-size="28" text-anchor="middle" stroke="#000" stroke-width="0.75">+</text>
<text x="1323.6" y="963.3" font-size="28" text-anchor="middle" stroke="#000" stroke-width="0.75">+</text>
<text x="1361.2" y="963.3" font-size="28" text-anchor="middle" stroke="#000" stroke-width="0.75">−</text>
<text x="1398.8" y="963.3" font-size="28" text-anchor="middle" stroke="#000" stroke-width="0.75">−</text>
<text x="1286.0" y="980.7" font-size="28" text-anchor="middle" stroke="#000" stroke-width="0.75">−</text>
<text x="1323.6" y="980.7" font-size="28" text-anchor="middle" stroke="#000" stroke-width="0.75">−</text>
<text x="1361.2" y="980.7" font-size="28" text-anchor="middle" stroke="#000" stroke-width="0.75">−</text>
<text x="1398.8" y="980.7" font-size="28" text-anchor="middle" stroke="#000" stroke-width="0.75">+</text>
<text x="1286.0" y="999.1" font-size="28" text-anchor="middle" stroke="#000" stroke-width="0.75">−</text>
<text x="1323.6" y="999.1" font-size="28" text-anchor="middle" stroke="#000" stroke-width="0.75">−</text>
<text x="1361.2" y="999.1" font-size="28" text-anchor="middle" stroke="#000" stroke-width="0.75">+</text>
<text x="1398.8" y="999.1" font-size="28" text-anchor="middle" stroke="#000" stroke-width="0.75">+</text>
<text x="1286.0" y="1017.9" font-size="28" text-anchor="middle" stroke="#000" stroke-width="0.75">−</text>
<text x="1323.6" y="1017.9" font-size="28" text-anchor="middle" stroke="#000" stroke-width="0.75">+</text>
<text x="1361.2" y="1017.9" font-size="28" text-anchor="middle" stroke="#000" stroke-width="0.75">+</text>
<text x="1398.8" y="1017.9" font-size="28" text-anchor="middle" stroke="#000" stroke-width="0.75">+</text>
<rect x="1590.8" y="837.2" width="22.6" height="96.4" fill="#f94444" stroke="#000" stroke-width="2.4"/>
<line x1="1602.1" y1="830.9" x2="1602.1" y2="842.0" stroke="#000" stroke-width="2" stroke-linecap="butt"/>
<line x1="1596.1" y1="830.9" x2="1608.1" y2="830.9" stroke="#000" stroke-width="2" stroke-linecap="butt"/>
<line x1="1596.1" y1="842.0" x2="1608.1" y2="842.0" stroke="#000" stroke-width="2" stroke-linecap="butt"/>
<circle cx="1593.1" cy="833.1" r="2.6" fill="#000"/>
<circle cx="1602.1" cy="829.6" r="2.6" fill="#000"/>
<circle cx="1611.1" cy="832.2" r="2.6" fill="#000"/>
<circle cx="1602.1" cy="837.0" r="2.6" fill="#000"/>
<circle cx="1610.1" cy="841.1" r="2.6" fill="#000"/>
<rect x="1628.4" y="875.8" width="22.6" height="57.8" fill="#0000ff" stroke="#000" stroke-width="2.4"/>
<line x1="1639.7" y1="864.3" x2="1639.7" y2="885.8" stroke="#000" stroke-width="2" stroke-linecap="butt"/>
<line x1="1633.7" y1="864.3" x2="1645.7" y2="864.3" stroke="#000" stroke-width="2" stroke-linecap="butt"/>
<line x1="1633.7" y1="885.8" x2="1645.7" y2="885.8" stroke="#000" stroke-width="2" stroke-linecap="butt"/>
<circle cx="1630.7" cy="868.6" r="2.6" fill="#000"/>
<circle cx="1639.7" cy="861.7" r="2.6" fill="#000"/>
<circle cx="1648.7" cy="866.9" r="2.6" fill="#000"/>
<circle cx="1639.7" cy="876.1" r="2.6" fill="#000"/>
<circle cx="1647.7" cy="884.1" r="2.6" fill="#000"/>
<rect x="1666.0" y="846.8" width="22.6" height="86.8" fill="#ffff00" stroke="#000" stroke-width="2.4"/>
<line x1="1677.3" y1="831.2" x2="1677.3" y2="859.2" stroke="#000" stroke-width="2" stroke-linecap="butt"/>
<line x1="1671.3" y1="831.2" x2="1683.3" y2="831.2" stroke="#000" stroke-width="2" stroke-linecap="butt"/>
<line x1="1671.3" y1="859.2" x2="1683.3" y2="859.2" stroke="#000" stroke-width="2" stroke-linecap="butt"/>
<circle cx="1668.3" cy="836.8" r="2.6" fill="#000"/>
<circle cx="1677.3" cy="827.8" r="2.6" fill="#000"/>
<circle cx="1686.3" cy="834.6" r="2.6" fill="#000"/>
<circle cx="1677.3" cy="846.6" r="2.6" fill="#000"/>
<circle cx="1685.3" cy="857.0" r="2.6" fill="#000"/>
<rect x="1703.6" y="869.6" width="22.6" height="64.0" fill="#aa0ee6" stroke="#000" stroke-width="2.4"/>
<line x1="1714.9" y1="862.0" x2="1714.9" y2="874.6" stroke="#000" stroke-width="2" stroke-linecap="butt"/>
<line x1="1708.9" y1="862.0" x2="1720.9" y2="862.0" stroke="#000" stroke-width="2" stroke-linecap="butt"/>
<line x1="1708.9" y1="874.6" x2="1720.9" y2="874.6" stroke="#000" stroke-width="2" stroke-linecap="butt"/>
<circle cx="1705.9" cy="864.5" r="2.6" fill="#000"/>
<circle cx="1714.9" cy="860.5" r="2.6" fill="#000"/>
<circle cx="1723.9" cy="863.5" r="2.6" fill="#000"/>
<circle cx="1714.9" cy="868.9" r="2.6" fill="#000"/>
<circle cx="1722.9" cy="873.6" r="2.6" fill="#000"/>
<line x1="1582.8" y1="780.3" x2="1582.8" y2="935.0" stroke="#000" stroke-width="2.8" stroke-linecap="butt"/>
<line x1="1574.8" y1="933.6" x2="1735.8" y2="933.6" stroke="#000" stroke-width="2.8" stroke-linecap="butt"/>
<line x1="1574.8" y1="781.7" x2="1582.8" y2="781.7" stroke="#000" stroke-width="2.8" stroke-linecap="butt"/>
<text x="1568.0" y="790.3" font-size="24" text-anchor="end">60</text>
<line x1="1574.8" y1="832.3" x2="1582.8" y2="832.3" stroke="#000" stroke-width="2.8" stroke-linecap="butt"/>
<text x="1568.0" y="840.9" font-size="24" text-anchor="end">40</text>
<line x1="1574.8" y1="883.0" x2="1582.8" y2="883.0" stroke="#000" stroke-width="2.8" stroke-linecap="butt"/>
<text x="1568.0" y="891.6" font-size="24" text-anchor="end">20</text>
<line x1="1574.8" y1="933.6" x2="1582.8" y2="933.6" stroke="#000" stroke-width="2.8" stroke-linecap="butt"/>
<text x="1568.0" y="942.2" font-size="24" text-anchor="end">0</text>
<text x="1587.5" y="786.0" font-size="17.6" text-anchor="start">p=.0001</text>
<line x1="1597.0" y1="791.6" x2="1643.0" y2="791.6" stroke="#000" stroke-width="1.9" stroke-linecap="butt"/>
<text x="1613.5" y="804.0" font-size="17.6" text-anchor="start">p=.0051</text>
<line x1="1638.7" y1="809.0" x2="1678.3" y2="809.0" stroke="#000" stroke-width="1.9" stroke-linecap="butt"/>
<text x="1681.7" y="812.5" font-size="17.6" text-anchor="start">p=.0086</text>
<line x1="1679.0" y1="820.0" x2="1714.8" y2="820.0" stroke="#000" stroke-width="1.9" stroke-linecap="butt"/>
<text x="1535.0" y="855.0" font-size="23.5" text-anchor="middle" transform="rotate(-90 1535.0 855.0)">LVFS (%)</text>
<text x="1580.9" y="958.2" font-size="19.7" text-anchor="end">AAV-Ctrl</text>
<text x="1580.9" y="977.0" font-size="19.7" text-anchor="end">AAV-sh-FYN</text>
<text x="1580.9" y="995.7" font-size="19.7" text-anchor="end">AAV-FGF18</text>
<text x="1580.9" y="1014.5" font-size="19.7" text-anchor="end">TAC</text>
<text x="1602.1" y="963.3" font-size="28" text-anchor="middle" stroke="#000" stroke-width="0.75">+</text>
<text x="1639.7" y="963.3" font-size="28" text-anchor="middle" stroke="#000" stroke-width="0.75">+</text>
<text x="1677.3" y="963.3" font-size="28" text-anchor="middle" stroke="#000" stroke-width="0.75">−</text>
<text x="1714.9" y="963.3" font-size="28" text-anchor="middle" stroke="#000" stroke-width="0.75">−</text>
<text x="1602.1" y="980.7" font-size="28" text-anchor="middle" stroke="#000" stroke-width="0.75">−</text>
<text x="1639.7" y="980.7" font-size="28" text-anchor="middle" stroke="#000" stroke-width="0.75">−</text>
<text x="1677.3" y="980.7" font-size="28" text-anchor="middle" stroke="#000" stroke-width="0.75">−</text>
<text x="1714.9" y="980.7" font-size="28" text-anchor="middle" stroke="#000" stroke-width="0.75">+</text>
<text x="1602.1" y="999.1" font-size="28" text-anchor="middle" stroke="#000" stroke-width="0.75">−</text>
<text x="1639.7" y="999.1" font-size="28" text-anchor="middle" stroke="#000" stroke-width="0.75">−</text>
<text x="1677.3" y="999.1" font-size="28" text-anchor="middle" stroke="#000" stroke-width="0.75">+</text>
<text x="1714.9" y="999.1" font-size="28" text-anchor="middle" stroke="#000" stroke-width="0.75">+</text>
<text x="1602.1" y="1017.9" font-size="28" text-anchor="middle" stroke="#000" stroke-width="0.75">−</text>
<text x="1639.7" y="1017.9" font-size="28" text-anchor="middle" stroke="#000" stroke-width="0.75">+</text>
<text x="1677.3" y="1017.9" font-size="28" text-anchor="middle" stroke="#000" stroke-width="0.75">+</text>
<text x="1714.9" y="1017.9" font-size="28" text-anchor="middle" stroke="#000" stroke-width="0.75">+</text>
<text x="1165.0" y="1070.3" font-size="39" text-anchor="start">l</text>
<rect x="1274.7" y="1156.8" width="22.6" height="67.1" fill="#f94444" stroke="#000" stroke-width="2.4"/>
<line x1="1286.0" y1="1147.7" x2="1286.0" y2="1163.0" stroke="#000" stroke-width="2" stroke-linecap="butt"/>
<line x1="1280.0" y1="1147.7" x2="1292.0" y2="1147.7" stroke="#000" stroke-width="2" stroke-linecap="butt"/>
<line x1="1280.0" y1="1163.0" x2="1292.0" y2="1163.0" stroke="#000" stroke-width="2" stroke-linecap="butt"/>
<circle cx="1277.0" cy="1150.8" r="2.6" fill="#000"/>
<circle cx="1286.0" cy="1145.9" r="2.6" fill="#000"/>
<circle cx="1295.0" cy="1149.5" r="2.6" fill="#000"/>
<circle cx="1286.0" cy="1156.1" r="2.6" fill="#000"/>
<circle cx="1294.0" cy="1161.8" r="2.6" fill="#000"/>
<rect x="1312.3" y="1089.2" width="22.6" height="134.7" fill="#0000ff" stroke="#000" stroke-width="2.4"/>
<line x1="1323.6" y1="1072.7" x2="1323.6" y2="1103.4" stroke="#000" stroke-width="2" stroke-linecap="butt"/>
<line x1="1317.6" y1="1072.7" x2="1329.6" y2="1072.7" stroke="#000" stroke-width="2" stroke-linecap="butt"/>
<line x1="1317.6" y1="1103.4" x2="1329.6" y2="1103.4" stroke="#000" stroke-width="2" stroke-linecap="butt"/>
<circle cx="1314.6" cy="1078.8" r="2.6" fill="#000"/>
<circle cx="1323.6" cy="1069.0" r="2.6" fill="#000"/>
<circle cx="1332.6" cy="1076.4" r="2.6" fill="#000"/>
<circle cx="1323.6" cy="1089.6" r="2.6" fill="#000"/>
<circle cx="1331.6" cy="1100.9" r="2.6" fill="#000"/>
<rect x="1349.9" y="1140.4" width="22.6" height="83.5" fill="#ffff00" stroke="#000" stroke-width="2.4"/>
<line x1="1361.2" y1="1128.3" x2="1361.2" y2="1150.0" stroke="#000" stroke-width="2" stroke-linecap="butt"/>
<line x1="1355.2" y1="1128.3" x2="1367.2" y2="1128.3" stroke="#000" stroke-width="2" stroke-linecap="butt"/>
<line x1="1355.2" y1="1150.0" x2="1367.2" y2="1150.0" stroke="#000" stroke-width="2" stroke-linecap="butt"/>
<circle cx="1352.2" cy="1132.6" r="2.6" fill="#000"/>
<circle cx="1361.2" cy="1125.7" r="2.6" fill="#000"/>
<circle cx="1370.2" cy="1130.9" r="2.6" fill="#000"/>
<circle cx="1361.2" cy="1140.2" r="2.6" fill="#000"/>
<circle cx="1369.2" cy="1148.3" r="2.6" fill="#000"/>
<rect x="1387.5" y="1103.9" width="22.6" height="120.0" fill="#aa0ee6" stroke="#000" stroke-width="2.4"/>
<line x1="1398.8" y1="1090.8" x2="1398.8" y2="1114.3" stroke="#000" stroke-width="2" stroke-linecap="butt"/>
<line x1="1392.8" y1="1090.8" x2="1404.8" y2="1090.8" stroke="#000" stroke-width="2" stroke-linecap="butt"/>
<line x1="1392.8" y1="1114.3" x2="1404.8" y2="1114.3" stroke="#000" stroke-width="2" stroke-linecap="butt"/>
<circle cx="1389.8" cy="1095.5" r="2.6" fill="#000"/>
<circle cx="1398.8" cy="1088.0" r="2.6" fill="#000"/>
<circle cx="1407.8" cy="1093.6" r="2.6" fill="#000"/>
<circle cx="1398.8" cy="1103.7" r="2.6" fill="#000"/>
<circle cx="1406.8" cy="1112.4" r="2.6" fill="#000"/>
<line x1="1266.0" y1="1051.5" x2="1266.0" y2="1225.3" stroke="#000" stroke-width="2.8" stroke-linecap="butt"/>
<line x1="1258.0" y1="1223.9" x2="1419.0" y2="1223.9" stroke="#000" stroke-width="2.8" stroke-linecap="butt"/>
<line x1="1258.0" y1="1052.9" x2="1266.0" y2="1052.9" stroke="#000" stroke-width="2.8" stroke-linecap="butt"/>
<text x="1252.4" y="1061.5" font-size="24" text-anchor="end">2.5</text>
<line x1="1258.0" y1="1087.1" x2="1266.0" y2="1087.1" stroke="#000" stroke-width="2.8" stroke-linecap="butt"/>
<text x="1252.4" y="1095.7" font-size="24" text-anchor="end">2.0</text>
<line x1="1258.0" y1="1121.3" x2="1266.0" y2="1121.3" stroke="#000" stroke-width="2.8" stroke-linecap="butt"/>
<text x="1252.4" y="1129.9" font-size="24" text-anchor="end">1.5</text>
<line x1="1258.0" y1="1155.5" x2="1266.0" y2="1155.5" stroke="#000" stroke-width="2.8" stroke-linecap="butt"/>
<text x="1252.4" y="1164.1" font-size="24" text-anchor="end">1.0</text>
<line x1="1258.0" y1="1189.7" x2="1266.0" y2="1189.7" stroke="#000" stroke-width="2.8" stroke-linecap="butt"/>
<text x="1252.4" y="1198.3" font-size="24" text-anchor="end">0.5</text>
<line x1="1258.0" y1="1223.9" x2="1266.0" y2="1223.9" stroke="#000" stroke-width="2.8" stroke-linecap="butt"/>
<text x="1252.4" y="1232.5" font-size="24" text-anchor="end">0.0</text>
<text x="1268.8" y="1048.8" font-size="17.6" text-anchor="start">P&lt;.0001</text>
<line x1="1280.7" y1="1052.9" x2="1319.6" y2="1052.9" stroke="#000" stroke-width="1.9" stroke-linecap="butt"/>
<text x="1334.3" y="1055.6" font-size="17.6" text-anchor="start">P=.0003</text>
<line x1="1326.8" y1="1059.0" x2="1368.4" y2="1059.0" stroke="#000" stroke-width="1.9" stroke-linecap="butt"/>
<text x="1357.5" y="1074.4" font-size="17.6" text-anchor="start">P=.001</text>
<line x1="1362.3" y1="1076.8" x2="1402.6" y2="1076.8" stroke="#000" stroke-width="1.9" stroke-linecap="butt"/>
<text x="1208.7" y="1145.2" font-size="23" text-anchor="middle" transform="rotate(-90 1208.7 1145.2)">p-p38/p38</text>
<text x="1264.1" y="1248.4" font-size="19.7" text-anchor="end">AAV-Ctrl</text>
<text x="1264.1" y="1267.2" font-size="19.7" text-anchor="end">AAV-sh-FYN</text>
<text x="1264.1" y="1286.0" font-size="19.7" text-anchor="end">AAV-FGF18</text>
<text x="1264.1" y="1304.7" font-size="19.7" text-anchor="end">TAC</text>
<text x="1286.0" y="1253.5" font-size="28" text-anchor="middle" stroke="#000" stroke-width="0.75">+</text>
<text x="1323.6" y="1253.5" font-size="28" text-anchor="middle" stroke="#000" stroke-width="0.75">+</text>
<text x="1361.2" y="1253.5" font-size="28" text-anchor="middle" stroke="#000" stroke-width="0.75">−</text>
<text x="1398.8" y="1253.5" font-size="28" text-anchor="middle" stroke="#000" stroke-width="0.75">−</text>
<text x="1286.0" y="1270.9" font-size="28" text-anchor="middle" stroke="#000" stroke-width="0.75">−</text>
<text x="1323.6" y="1270.9" font-size="28" text-anchor="middle" stroke="#000" stroke-width="0.75">−</text>
<text x="1361.2" y="1270.9" font-size="28" text-anchor="middle" stroke="#000" stroke-width="0.75">−</text>
<text x="1398.8" y="1270.9" font-size="28" text-anchor="middle" stroke="#000" stroke-width="0.75">+</text>
<text x="1286.0" y="1289.7" font-size="28" text-anchor="middle" stroke="#000" stroke-width="0.75">−</text>
<text x="1323.6" y="1289.7" font-size="28" text-anchor="middle" stroke="#000" stroke-width="0.75">−</text>
<text x="1361.2" y="1289.7" font-size="28" text-anchor="middle" stroke="#000" stroke-width="0.75">+</text>
<text x="1398.8" y="1289.7" font-size="28" text-anchor="middle" stroke="#000" stroke-width="0.75">+</text>
<text x="1286.0" y="1308.1" font-size="28" text-anchor="middle" stroke="#000" stroke-width="0.75">−</text>
<text x="1323.6" y="1308.1" font-size="28" text-anchor="middle" stroke="#000" stroke-width="0.75">+</text>
<text x="1361.2" y="1308.1" font-size="28" text-anchor="middle" stroke="#000" stroke-width="0.75">+</text>
<text x="1398.8" y="1308.1" font-size="28" text-anchor="middle" stroke="#000" stroke-width="0.75">+</text>
<rect x="1590.8" y="1156.8" width="22.6" height="67.1" fill="#f94444" stroke="#000" stroke-width="2.4"/>
<line x1="1602.1" y1="1144.3" x2="1602.1" y2="1168.2" stroke="#000" stroke-width="2" stroke-linecap="butt"/>
<line x1="1596.1" y1="1144.3" x2="1608.1" y2="1144.3" stroke="#000" stroke-width="2" stroke-linecap="butt"/>
<line x1="1596.1" y1="1168.2" x2="1608.1" y2="1168.2" stroke="#000" stroke-width="2" stroke-linecap="butt"/>
<circle cx="1593.1" cy="1149.1" r="2.6" fill="#000"/>
<circle cx="1602.1" cy="1141.4" r="2.6" fill="#000"/>
<circle cx="1611.1" cy="1147.2" r="2.6" fill="#000"/>
<circle cx="1602.1" cy="1157.4" r="2.6" fill="#000"/>
<circle cx="1610.1" cy="1166.3" r="2.6" fill="#000"/>
<rect x="1628.4" y="1072.8" width="22.6" height="151.1" fill="#0000ff" stroke="#000" stroke-width="2.4"/>
<line x1="1639.7" y1="1053.9" x2="1639.7" y2="1088.0" stroke="#000" stroke-width="2" stroke-linecap="butt"/>
<line x1="1633.7" y1="1053.9" x2="1645.7" y2="1053.9" stroke="#000" stroke-width="2" stroke-linecap="butt"/>
<line x1="1633.7" y1="1088.0" x2="1645.7" y2="1088.0" stroke="#000" stroke-width="2" stroke-linecap="butt"/>
<circle cx="1630.7" cy="1060.7" r="2.6" fill="#000"/>
<circle cx="1639.7" cy="1049.8" r="2.6" fill="#000"/>
<circle cx="1648.7" cy="1058.0" r="2.6" fill="#000"/>
<circle cx="1639.7" cy="1072.7" r="2.6" fill="#000"/>
<circle cx="1647.7" cy="1085.3" r="2.6" fill="#000"/>
<rect x="1666.0" y="1142.8" width="22.6" height="81.1" fill="#ffff00" stroke="#000" stroke-width="2.4"/>
<line x1="1677.3" y1="1129.0" x2="1677.3" y2="1155.3" stroke="#000" stroke-width="2" stroke-linecap="butt"/>
<line x1="1671.3" y1="1129.0" x2="1683.3" y2="1129.0" stroke="#000" stroke-width="2" stroke-linecap="butt"/>
<line x1="1671.3" y1="1155.3" x2="1683.3" y2="1155.3" stroke="#000" stroke-width="2" stroke-linecap="butt"/>
<circle cx="1668.3" cy="1134.3" r="2.6" fill="#000"/>
<circle cx="1677.3" cy="1125.8" r="2.6" fill="#000"/>
<circle cx="1686.3" cy="1132.2" r="2.6" fill="#000"/>
<circle cx="1677.3" cy="1143.5" r="2.6" fill="#000"/>
<circle cx="1685.3" cy="1153.2" r="2.6" fill="#000"/>
<rect x="1703.6" y="1100.5" width="22.6" height="123.4" fill="#aa0ee6" stroke="#000" stroke-width="2.4"/>
<line x1="1714.9" y1="1086.3" x2="1714.9" y2="1112.9" stroke="#000" stroke-width="2" stroke-linecap="butt"/>
<line x1="1708.9" y1="1086.3" x2="1720.9" y2="1086.3" stroke="#000" stroke-width="2" stroke-linecap="butt"/>
<line x1="1708.9" y1="1112.9" x2="1720.9" y2="1112.9" stroke="#000" stroke-width="2" stroke-linecap="butt"/>
<circle cx="1705.9" cy="1091.6" r="2.6" fill="#000"/>
<circle cx="1714.9" cy="1083.1" r="2.6" fill="#000"/>
<circle cx="1723.9" cy="1089.5" r="2.6" fill="#000"/>
<circle cx="1714.9" cy="1100.9" r="2.6" fill="#000"/>
<circle cx="1722.9" cy="1110.8" r="2.6" fill="#000"/>
<line x1="1582.8" y1="1051.5" x2="1582.8" y2="1225.3" stroke="#000" stroke-width="2.8" stroke-linecap="butt"/>
<line x1="1574.8" y1="1223.9" x2="1735.8" y2="1223.9" stroke="#000" stroke-width="2.8" stroke-linecap="butt"/>
<line x1="1574.8" y1="1052.9" x2="1582.8" y2="1052.9" stroke="#000" stroke-width="2.8" stroke-linecap="butt"/>
<text x="1568.0" y="1061.5" font-size="24" text-anchor="end">2.5</text>
<line x1="1574.8" y1="1087.1" x2="1582.8" y2="1087.1" stroke="#000" stroke-width="2.8" stroke-linecap="butt"/>
<text x="1568.0" y="1095.7" font-size="24" text-anchor="end">2.0</text>
<line x1="1574.8" y1="1121.3" x2="1582.8" y2="1121.3" stroke="#000" stroke-width="2.8" stroke-linecap="butt"/>
<text x="1568.0" y="1129.9" font-size="24" text-anchor="end">1.5</text>
<line x1="1574.8" y1="1155.5" x2="1582.8" y2="1155.5" stroke="#000" stroke-width="2.8" stroke-linecap="butt"/>
<text x="1568.0" y="1164.1" font-size="24" text-anchor="end">1.0</text>
<line x1="1574.8" y1="1189.7" x2="1582.8" y2="1189.7" stroke="#000" stroke-width="2.8" stroke-linecap="butt"/>
<text x="1568.0" y="1198.3" font-size="24" text-anchor="end">0.5</text>
<line x1="1574.8" y1="1223.9" x2="1582.8" y2="1223.9" stroke="#000" stroke-width="2.8" stroke-linecap="butt"/>
<text x="1568.0" y="1232.5" font-size="24" text-anchor="end">0.0</text>
<text x="1572.0" y="1045.4" font-size="17.6" text-anchor="start">P&lt;.0001</text>
<line x1="1595.4" y1="1047.3" x2="1634.6" y2="1047.3" stroke="#000" stroke-width="1.9" stroke-linecap="butt"/>
<text x="1640.4" y="1046.4" font-size="17.6" text-anchor="start">P&lt;.0001</text>
<line x1="1644.9" y1="1049.5" x2="1681.7" y2="1049.5" stroke="#000" stroke-width="1.9" stroke-linecap="butt"/>
<text x="1672.2" y="1077.0" font-size="17.6" text-anchor="start">P=.0009</text>
<line x1="1679.0" y1="1080.5" x2="1716.6" y2="1080.5" stroke="#000" stroke-width="1.9" stroke-linecap="butt"/>
<text x="1528.8" y="1139.2" font-size="23" text-anchor="middle" transform="rotate(-90 1528.8 1139.2)">p-JNK/JNK</text>
<text x="1580.9" y="1248.4" font-size="19.7" text-anchor="end">AAV-Ctrl</text>
<text x="1580.9" y="1267.2" font-size="19.7" text-anchor="end">AAV-sh-FYN</text>
<text x="1580.9" y="1286.0" font-size="19.7" text-anchor="end">AAV-FGF18</text>
<text x="1580.9" y="1304.7" font-size="19.7" text-anchor="end">TAC</text>
<text x="1602.1" y="1253.5" font-size="28" text-anchor="middle" stroke="#000" stroke-width="0.75">+</text>
<text x="1639.7" y="1253.5" font-size="28" text-anchor="middle" stroke="#000" stroke-width="0.75">+</text>
<text x="1677.3" y="1253.5" font-size="28" text-anchor="middle" stroke="#000" stroke-width="0.75">−</text>
<text x="1714.9" y="1253.5" font-size="28" text-anchor="middle" stroke="#000" stroke-width="0.75">−</text>
<text x="1602.1" y="1270.9" font-size="28" text-anchor="middle" stroke="#000" stroke-width="0.75">−</text>
<text x="1639.7" y="1270.9" font-size="28" text-anchor="middle" stroke="#000" stroke-width="0.75">−</text>
<text x="1677.3" y="1270.9" font-size="28" text-anchor="middle" stroke="#000" stroke-width="0.75">−</text>
<text x="1714.9" y="1270.9" font-size="28" text-anchor="middle" stroke="#000" stroke-width="0.75">+</text>
<text x="1602.1" y="1289.7" font-size="28" text-anchor="middle" stroke="#000" stroke-width="0.75">−</text>
<text x="1639.7" y="1289.7" font-size="28" text-anchor="middle" stroke="#000" stroke-width="0.75">−</text>
<text x="1677.3" y="1289.7" font-size="28" text-anchor="middle" stroke="#000" stroke-width="0.75">+</text>
<text x="1714.9" y="1289.7" font-size="28" text-anchor="middle" stroke="#000" stroke-width="0.75">+</text>
<text x="1602.1" y="1308.1" font-size="28" text-anchor="middle" stroke="#000" stroke-width="0.75">−</text>
<text x="1639.7" y="1308.1" font-size="28" text-anchor="middle" stroke="#000" stroke-width="0.75">+</text>
<text x="1677.3" y="1308.1" font-size="28" text-anchor="middle" stroke="#000" stroke-width="0.75">+</text>
<text x="1714.9" y="1308.1" font-size="28" text-anchor="middle" stroke="#000" stroke-width="0.75">+</text>
<rect x="1274.7" y="1439.4" width="22.6" height="67.1" fill="#f94444" stroke="#000" stroke-width="2.4"/>
<line x1="1286.0" y1="1429.7" x2="1286.0" y2="1446.8" stroke="#000" stroke-width="2" stroke-linecap="butt"/>
<line x1="1280.0" y1="1429.7" x2="1292.0" y2="1429.7" stroke="#000" stroke-width="2" stroke-linecap="butt"/>
<line x1="1280.0" y1="1446.8" x2="1292.0" y2="1446.8" stroke="#000" stroke-width="2" stroke-linecap="butt"/>
<circle cx="1277.0" cy="1433.1" r="2.6" fill="#000"/>
<circle cx="1286.0" cy="1427.6" r="2.6" fill="#000"/>
<circle cx="1295.0" cy="1431.8" r="2.6" fill="#000"/>
<circle cx="1286.0" cy="1439.1" r="2.6" fill="#000"/>
<circle cx="1294.0" cy="1445.4" r="2.6" fill="#000"/>
<rect x="1312.3" y="1363.7" width="22.6" height="142.8" fill="#0000ff" stroke="#000" stroke-width="2.4"/>
<line x1="1323.6" y1="1350.2" x2="1323.6" y2="1374.4" stroke="#000" stroke-width="2" stroke-linecap="butt"/>
<line x1="1317.6" y1="1350.2" x2="1329.6" y2="1350.2" stroke="#000" stroke-width="2" stroke-linecap="butt"/>
<line x1="1317.6" y1="1374.4" x2="1329.6" y2="1374.4" stroke="#000" stroke-width="2" stroke-linecap="butt"/>
<circle cx="1314.6" cy="1355.0" r="2.6" fill="#000"/>
<circle cx="1323.6" cy="1347.3" r="2.6" fill="#000"/>
<circle cx="1332.6" cy="1353.1" r="2.6" fill="#000"/>
<circle cx="1323.6" cy="1363.5" r="2.6" fill="#000"/>
<circle cx="1331.6" cy="1372.5" r="2.6" fill="#000"/>
<rect x="1349.9" y="1427.5" width="22.6" height="79.0" fill="#ffff00" stroke="#000" stroke-width="2.4"/>
<line x1="1361.2" y1="1417.7" x2="1361.2" y2="1434.0" stroke="#000" stroke-width="2" stroke-linecap="butt"/>
<line x1="1355.2" y1="1417.7" x2="1367.2" y2="1417.7" stroke="#000" stroke-width="2" stroke-linecap="butt"/>
<line x1="1355.2" y1="1434.0" x2="1367.2" y2="1434.0" stroke="#000" stroke-width="2" stroke-linecap="butt"/>
<circle cx="1352.2" cy="1421.0" r="2.6" fill="#000"/>
<circle cx="1361.2" cy="1415.7" r="2.6" fill="#000"/>
<circle cx="1370.2" cy="1419.7" r="2.6" fill="#000"/>
<circle cx="1361.2" cy="1426.7" r="2.6" fill="#000"/>
<circle cx="1369.2" cy="1432.7" r="2.6" fill="#000"/>
<rect x="1387.5" y="1398.5" width="22.6" height="108.0" fill="#aa0ee6" stroke="#000" stroke-width="2.4"/>
<line x1="1398.8" y1="1380.2" x2="1398.8" y2="1414.3" stroke="#000" stroke-width="2" stroke-linecap="butt"/>
<line x1="1392.8" y1="1380.2" x2="1404.8" y2="1380.2" stroke="#000" stroke-width="2" stroke-linecap="butt"/>
<line x1="1392.8" y1="1414.3" x2="1404.8" y2="1414.3" stroke="#000" stroke-width="2" stroke-linecap="butt"/>
<circle cx="1389.8" cy="1387.0" r="2.6" fill="#000"/>
<circle cx="1398.8" cy="1376.1" r="2.6" fill="#000"/>
<circle cx="1407.8" cy="1384.3" r="2.6" fill="#000"/>
<circle cx="1398.8" cy="1399.0" r="2.6" fill="#000"/>
<circle cx="1406.8" cy="1411.6" r="2.6" fill="#000"/>
<line x1="1266.0" y1="1333.8" x2="1266.0" y2="1507.9" stroke="#000" stroke-width="2.8" stroke-linecap="butt"/>
<line x1="1258.0" y1="1506.5" x2="1419.0" y2="1506.5" stroke="#000" stroke-width="2.8" stroke-linecap="butt"/>
<line x1="1258.0" y1="1335.2" x2="1266.0" y2="1335.2" stroke="#000" stroke-width="2.8" stroke-linecap="butt"/>
<text x="1252.4" y="1343.8" font-size="24" text-anchor="end">2.5</text>
<line x1="1258.0" y1="1369.5" x2="1266.0" y2="1369.5" stroke="#000" stroke-width="2.8" stroke-linecap="butt"/>
<text x="1252.4" y="1378.1" font-size="24" text-anchor="end">2.0</text>
<line x1="1258.0" y1="1403.7" x2="1266.0" y2="1403.7" stroke="#000" stroke-width="2.8" stroke-linecap="butt"/>
<text x="1252.4" y="1412.3" font-size="24" text-anchor="end">1.5</text>
<line x1="1258.0" y1="1438.0" x2="1266.0" y2="1438.0" stroke="#000" stroke-width="2.8" stroke-linecap="butt"/>
<text x="1252.4" y="1446.6" font-size="24" text-anchor="end">1.0</text>
<line x1="1258.0" y1="1472.2" x2="1266.0" y2="1472.2" stroke="#000" stroke-width="2.8" stroke-linecap="butt"/>
<text x="1252.4" y="1480.8" font-size="24" text-anchor="end">0.5</text>
<line x1="1258.0" y1="1506.5" x2="1266.0" y2="1506.5" stroke="#000" stroke-width="2.8" stroke-linecap="butt"/>
<text x="1252.4" y="1515.1" font-size="24" text-anchor="end">0.0</text>
<text x="1261.0" y="1333.0" font-size="17.6" text-anchor="start">P&lt;.0001</text>
<line x1="1278.0" y1="1335.4" x2="1318.3" y2="1335.4" stroke="#000" stroke-width="1.9" stroke-linecap="butt"/>
<text x="1326.8" y="1340.3" font-size="17.6" text-anchor="start">P&lt;.0001</text>
<line x1="1329.9" y1="1342.7" x2="1363.3" y2="1342.7" stroke="#000" stroke-width="1.9" stroke-linecap="butt"/>
<text x="1356.5" y="1367.2" font-size="17.6" text-anchor="start">P=.007</text>
<line x1="1361.0" y1="1370.6" x2="1397.4" y2="1370.6" stroke="#000" stroke-width="1.9" stroke-linecap="butt"/>
<text x="1208.7" y="1431.4" font-size="23" text-anchor="middle" transform="rotate(-90 1208.7 1431.4)">p-Erk/Erk</text>
<text x="1264.1" y="1532.1" font-size="19.7" text-anchor="end">AAV-Ctrl</text>
<text x="1264.1" y="1550.9" font-size="19.7" text-anchor="end">AAV-sh-FYN</text>
<text x="1264.1" y="1569.7" font-size="19.7" text-anchor="end">AAV-FGF18</text>
<text x="1264.1" y="1588.4" font-size="19.7" text-anchor="end">TAC</text>
<text x="1286.0" y="1536.5" font-size="28" text-anchor="middle" stroke="#000" stroke-width="0.75">+</text>
<text x="1323.6" y="1536.5" font-size="28" text-anchor="middle" stroke="#000" stroke-width="0.75">+</text>
<text x="1361.2" y="1536.5" font-size="28" text-anchor="middle" stroke="#000" stroke-width="0.75">−</text>
<text x="1398.8" y="1536.5" font-size="28" text-anchor="middle" stroke="#000" stroke-width="0.75">−</text>
<text x="1286.0" y="1554.2" font-size="28" text-anchor="middle" stroke="#000" stroke-width="0.75">−</text>
<text x="1323.6" y="1554.2" font-size="28" text-anchor="middle" stroke="#000" stroke-width="0.75">−</text>
<text x="1361.2" y="1554.2" font-size="28" text-anchor="middle" stroke="#000" stroke-width="0.75">−</text>
<text x="1398.8" y="1554.2" font-size="28" text-anchor="middle" stroke="#000" stroke-width="0.75">+</text>
<text x="1286.0" y="1573.0" font-size="28" text-anchor="middle" stroke="#000" stroke-width="0.75">−</text>
<text x="1323.6" y="1573.0" font-size="28" text-anchor="middle" stroke="#000" stroke-width="0.75">−</text>
<text x="1361.2" y="1573.0" font-size="28" text-anchor="middle" stroke="#000" stroke-width="0.75">+</text>
<text x="1398.8" y="1573.0" font-size="28" text-anchor="middle" stroke="#000" stroke-width="0.75">+</text>
<text x="1286.0" y="1591.8" font-size="28" text-anchor="middle" stroke="#000" stroke-width="0.75">−</text>
<text x="1323.6" y="1591.8" font-size="28" text-anchor="middle" stroke="#000" stroke-width="0.75">+</text>
<text x="1361.2" y="1591.8" font-size="28" text-anchor="middle" stroke="#000" stroke-width="0.75">+</text>
<text x="1398.8" y="1591.8" font-size="28" text-anchor="middle" stroke="#000" stroke-width="0.75">+</text>
<rect x="1590.8" y="1439.4" width="22.6" height="67.1" fill="#f94444" stroke="#000" stroke-width="2.4"/>
<line x1="1602.1" y1="1421.8" x2="1602.1" y2="1454.3" stroke="#000" stroke-width="2" stroke-linecap="butt"/>
<line x1="1596.1" y1="1421.8" x2="1608.1" y2="1421.8" stroke="#000" stroke-width="2" stroke-linecap="butt"/>
<line x1="1596.1" y1="1454.3" x2="1608.1" y2="1454.3" stroke="#000" stroke-width="2" stroke-linecap="butt"/>
<circle cx="1593.1" cy="1428.3" r="2.6" fill="#000"/>
<circle cx="1602.1" cy="1417.9" r="2.6" fill="#000"/>
<circle cx="1611.1" cy="1425.7" r="2.6" fill="#000"/>
<circle cx="1602.1" cy="1439.7" r="2.6" fill="#000"/>
<circle cx="1610.1" cy="1451.7" r="2.6" fill="#000"/>
<rect x="1628.4" y="1386.5" width="22.6" height="120.0" fill="#0000ff" stroke="#000" stroke-width="2.4"/>
<line x1="1639.7" y1="1375.8" x2="1639.7" y2="1394.5" stroke="#000" stroke-width="2" stroke-linecap="butt"/>
<line x1="1633.7" y1="1375.8" x2="1645.7" y2="1375.8" stroke="#000" stroke-width="2" stroke-linecap="butt"/>
<line x1="1633.7" y1="1394.5" x2="1645.7" y2="1394.5" stroke="#000" stroke-width="2" stroke-linecap="butt"/>
<circle cx="1630.7" cy="1379.5" r="2.6" fill="#000"/>
<circle cx="1639.7" cy="1373.6" r="2.6" fill="#000"/>
<circle cx="1648.7" cy="1378.0" r="2.6" fill="#000"/>
<circle cx="1639.7" cy="1386.1" r="2.6" fill="#000"/>
<circle cx="1647.7" cy="1393.0" r="2.6" fill="#000"/>
<rect x="1666.0" y="1429.9" width="22.6" height="76.6" fill="#ffff00" stroke="#000" stroke-width="2.4"/>
<line x1="1677.3" y1="1418.4" x2="1677.3" y2="1437.5" stroke="#000" stroke-width="2" stroke-linecap="butt"/>
<line x1="1671.3" y1="1418.4" x2="1683.3" y2="1418.4" stroke="#000" stroke-width="2" stroke-linecap="butt"/>
<line x1="1671.3" y1="1437.5" x2="1683.3" y2="1437.5" stroke="#000" stroke-width="2" stroke-linecap="butt"/>
<circle cx="1668.3" cy="1422.2" r="2.6" fill="#000"/>
<circle cx="1677.3" cy="1416.1" r="2.6" fill="#000"/>
<circle cx="1686.3" cy="1420.7" r="2.6" fill="#000"/>
<circle cx="1677.3" cy="1428.9" r="2.6" fill="#000"/>
<circle cx="1685.3" cy="1436.0" r="2.6" fill="#000"/>
<rect x="1703.6" y="1401.2" width="22.6" height="105.3" fill="#aa0ee6" stroke="#000" stroke-width="2.4"/>
<line x1="1714.9" y1="1385.3" x2="1714.9" y2="1414.3" stroke="#000" stroke-width="2" stroke-linecap="butt"/>
<line x1="1708.9" y1="1385.3" x2="1720.9" y2="1385.3" stroke="#000" stroke-width="2" stroke-linecap="butt"/>
<line x1="1708.9" y1="1414.3" x2="1720.9" y2="1414.3" stroke="#000" stroke-width="2" stroke-linecap="butt"/>
<circle cx="1705.9" cy="1391.1" r="2.6" fill="#000"/>
<circle cx="1714.9" cy="1381.8" r="2.6" fill="#000"/>
<circle cx="1723.9" cy="1388.8" r="2.6" fill="#000"/>
<circle cx="1714.9" cy="1401.2" r="2.6" fill="#000"/>
<circle cx="1722.9" cy="1412.0" r="2.6" fill="#000"/>
<line x1="1582.8" y1="1333.8" x2="1582.8" y2="1507.9" stroke="#000" stroke-width="2.8" stroke-linecap="butt"/>
<line x1="1574.8" y1="1506.5" x2="1735.8" y2="1506.5" stroke="#000" stroke-width="2.8" stroke-linecap="butt"/>
<line x1="1574.8" y1="1335.2" x2="1582.8" y2="1335.2" stroke="#000" stroke-width="2.8" stroke-linecap="butt"/>
<text x="1568.0" y="1343.8" font-size="24" text-anchor="end">2.5</text>
<line x1="1574.8" y1="1369.5" x2="1582.8" y2="1369.5" stroke="#000" stroke-width="2.8" stroke-linecap="butt"/>
<text x="1568.0" y="1378.1" font-size="24" text-anchor="end">2.0</text>
<line x1="1574.8" y1="1403.7" x2="1582.8" y2="1403.7" stroke="#000" stroke-width="2.8" stroke-linecap="butt"/>
<text x="1568.0" y="1412.3" font-size="24" text-anchor="end">1.5</text>
<line x1="1574.8" y1="1438.0" x2="1582.8" y2="1438.0" stroke="#000" stroke-width="2.8" stroke-linecap="butt"/>
<text x="1568.0" y="1446.6" font-size="24" text-anchor="end">1.0</text>
<line x1="1574.8" y1="1472.2" x2="1582.8" y2="1472.2" stroke="#000" stroke-width="2.8" stroke-linecap="butt"/>
<text x="1568.0" y="1480.8" font-size="24" text-anchor="end">0.5</text>
<line x1="1574.8" y1="1506.5" x2="1582.8" y2="1506.5" stroke="#000" stroke-width="2.8" stroke-linecap="butt"/>
<text x="1568.0" y="1515.1" font-size="24" text-anchor="end">0.0</text>
<text x="1590.3" y="1336.5" font-size="17.6" text-anchor="start">P=.0002</text>
<line x1="1595.4" y1="1340.3" x2="1634.6" y2="1340.3" stroke="#000" stroke-width="1.9" stroke-linecap="butt"/>
<text x="1637.0" y="1352.2" font-size="17.6" text-anchor="start">P&lt;.0001</text>
<line x1="1638.7" y1="1354.6" x2="1680.0" y2="1354.6" stroke="#000" stroke-width="1.9" stroke-linecap="butt"/>
<text x="1682.4" y="1365.9" font-size="17.6" text-anchor="start">P=.006</text>
<line x1="1679.0" y1="1370.0" x2="1714.8" y2="1370.0" stroke="#000" stroke-width="1.9" stroke-linecap="butt"/>
<text x="1528.8" y="1426.3" font-size="23" text-anchor="middle" transform="rotate(-90 1528.8 1426.3)">Bax/Bcl-2</text>
<text x="1580.9" y="1532.1" font-size="19.7" text-anchor="end">AAV-Ctrl</text>
<text x="1580.9" y="1550.9" font-size="19.7" text-anchor="end">AAV-sh-FYN</text>
<text x="1580.9" y="1569.7" font-size="19.7" text-anchor="end">AAV-FGF18</text>
<text x="1580.9" y="1588.4" font-size="19.7" text-anchor="end">TAC</text>
<text x="1602.1" y="1536.5" font-size="28" text-anchor="middle" stroke="#000" stroke-width="0.75">+</text>
<text x="1639.7" y="1536.5" font-size="28" text-anchor="middle" stroke="#000" stroke-width="0.75">+</text>
<text x="1677.3" y="1536.5" font-size="28" text-anchor="middle" stroke="#000" stroke-width="0.75">−</text>
<text x="1714.9" y="1536.5" font-size="28" text-anchor="middle" stroke="#000" stroke-width="0.75">−</text>
<text x="1602.1" y="1554.2" font-size="28" text-anchor="middle" stroke="#000" stroke-width="0.75">−</text>
<text x="1639.7" y="1554.2" font-size="28" text-anchor="middle" stroke="#000" stroke-width="0.75">−</text>
<text x="1677.3" y="1554.2" font-size="28" text-anchor="middle" stroke="#000" stroke-width="0.75">−</text>
<text x="1714.9" y="1554.2" font-size="28" text-anchor="middle" stroke="#000" stroke-width="0.75">+</text>
<text x="1602.1" y="1573.0" font-size="28" text-anchor="middle" stroke="#000" stroke-width="0.75">−</text>
<text x="1639.7" y="1573.0" font-size="28" text-anchor="middle" stroke="#000" stroke-width="0.75">−</text>
<text x="1677.3" y="1573.0" font-size="28" text-anchor="middle" stroke="#000" stroke-width="0.75">+</text>
<text x="1714.9" y="1573.0" font-size="28" text-anchor="middle" stroke="#000" stroke-width="0.75">+</text>
<text x="1602.1" y="1591.8" font-size="28" text-anchor="middle" stroke="#000" stroke-width="0.75">−</text>
<text x="1639.7" y="1591.8" font-size="28" text-anchor="middle" stroke="#000" stroke-width="0.75">+</text>
<text x="1677.3" y="1591.8" font-size="28" text-anchor="middle" stroke="#000" stroke-width="0.75">+</text>
<text x="1714.9" y="1591.8" font-size="28" text-anchor="middle" stroke="#000" stroke-width="0.75">+</text>
<rect x="578.1" y="1158.2" width="22.6" height="66.3" fill="#f94444" stroke="#000" stroke-width="2.4"/>
<line x1="589.4" y1="1144.3" x2="589.4" y2="1169.5" stroke="#000" stroke-width="2" stroke-linecap="butt"/>
<line x1="583.4" y1="1144.3" x2="595.4" y2="1144.3" stroke="#000" stroke-width="2" stroke-linecap="butt"/>
<line x1="583.4" y1="1169.5" x2="595.4" y2="1169.5" stroke="#000" stroke-width="2" stroke-linecap="butt"/>
<circle cx="580.4" cy="1149.3" r="2.6" fill="#000"/>
<circle cx="589.4" cy="1141.3" r="2.6" fill="#000"/>
<circle cx="598.4" cy="1147.3" r="2.6" fill="#000"/>
<circle cx="589.4" cy="1158.2" r="2.6" fill="#000"/>
<circle cx="597.4" cy="1167.5" r="2.6" fill="#000"/>
<rect x="615.7" y="1102.6" width="22.6" height="121.9" fill="#0000ff" stroke="#000" stroke-width="2.4"/>
<line x1="627.0" y1="1095.0" x2="627.0" y2="1108.2" stroke="#000" stroke-width="2" stroke-linecap="butt"/>
<line x1="621.0" y1="1095.0" x2="633.0" y2="1095.0" stroke="#000" stroke-width="2" stroke-linecap="butt"/>
<line x1="621.0" y1="1108.2" x2="633.0" y2="1108.2" stroke="#000" stroke-width="2" stroke-linecap="butt"/>
<circle cx="618.0" cy="1097.6" r="2.6" fill="#000"/>
<circle cx="627.0" cy="1093.4" r="2.6" fill="#000"/>
<circle cx="636.0" cy="1096.6" r="2.6" fill="#000"/>
<circle cx="627.0" cy="1102.3" r="2.6" fill="#000"/>
<circle cx="635.0" cy="1107.1" r="2.6" fill="#000"/>
<rect x="653.3" y="1140.2" width="22.6" height="84.3" fill="#ffff00" stroke="#000" stroke-width="2.4"/>
<line x1="664.6" y1="1126.2" x2="664.6" y2="1151.5" stroke="#000" stroke-width="2" stroke-linecap="butt"/>
<line x1="658.6" y1="1126.2" x2="670.6" y2="1126.2" stroke="#000" stroke-width="2" stroke-linecap="butt"/>
<line x1="658.6" y1="1151.5" x2="670.6" y2="1151.5" stroke="#000" stroke-width="2" stroke-linecap="butt"/>
<circle cx="655.6" cy="1131.3" r="2.6" fill="#000"/>
<circle cx="664.6" cy="1123.2" r="2.6" fill="#000"/>
<circle cx="673.6" cy="1129.2" r="2.6" fill="#000"/>
<circle cx="664.6" cy="1140.1" r="2.6" fill="#000"/>
<circle cx="672.6" cy="1149.5" r="2.6" fill="#000"/>
<rect x="690.9" y="1110.2" width="22.6" height="114.3" fill="#aa0ee6" stroke="#000" stroke-width="2.4"/>
<line x1="702.2" y1="1096.2" x2="702.2" y2="1123.0" stroke="#000" stroke-width="2" stroke-linecap="butt"/>
<line x1="696.2" y1="1096.2" x2="708.2" y2="1096.2" stroke="#000" stroke-width="2" stroke-linecap="butt"/>
<line x1="696.2" y1="1123.0" x2="708.2" y2="1123.0" stroke="#000" stroke-width="2" stroke-linecap="butt"/>
<circle cx="693.2" cy="1101.6" r="2.6" fill="#000"/>
<circle cx="702.2" cy="1093.0" r="2.6" fill="#000"/>
<circle cx="711.2" cy="1099.4" r="2.6" fill="#000"/>
<circle cx="702.2" cy="1110.9" r="2.6" fill="#000"/>
<circle cx="710.2" cy="1120.9" r="2.6" fill="#000"/>
<line x1="571.5" y1="1051.9" x2="571.5" y2="1225.9" stroke="#000" stroke-width="2.8" stroke-linecap="butt"/>
<line x1="563.5" y1="1224.5" x2="723.5" y2="1224.5" stroke="#000" stroke-width="2.8" stroke-linecap="butt"/>
<line x1="563.5" y1="1053.3" x2="571.5" y2="1053.3" stroke="#000" stroke-width="2.8" stroke-linecap="butt"/>
<text x="556.3" y="1061.9" font-size="24" text-anchor="end">2.5</text>
<line x1="563.5" y1="1087.5" x2="571.5" y2="1087.5" stroke="#000" stroke-width="2.8" stroke-linecap="butt"/>
<text x="556.3" y="1096.1" font-size="24" text-anchor="end">2.0</text>
<line x1="563.5" y1="1121.8" x2="571.5" y2="1121.8" stroke="#000" stroke-width="2.8" stroke-linecap="butt"/>
<text x="556.3" y="1130.4" font-size="24" text-anchor="end">1.5</text>
<line x1="563.5" y1="1156.0" x2="571.5" y2="1156.0" stroke="#000" stroke-width="2.8" stroke-linecap="butt"/>
<text x="556.3" y="1164.6" font-size="24" text-anchor="end">1.0</text>
<line x1="563.5" y1="1190.3" x2="571.5" y2="1190.3" stroke="#000" stroke-width="2.8" stroke-linecap="butt"/>
<text x="556.3" y="1198.9" font-size="24" text-anchor="end">0.5</text>
<line x1="563.5" y1="1224.5" x2="571.5" y2="1224.5" stroke="#000" stroke-width="2.8" stroke-linecap="butt"/>
<text x="556.3" y="1233.1" font-size="24" text-anchor="end">0.0</text>
<text x="577.5" y="1054.9" font-size="17.6" text-anchor="start">P&lt;.0001</text>
<line x1="583.0" y1="1058.0" x2="622.4" y2="1058.0" stroke="#000" stroke-width="1.9" stroke-linecap="butt"/>
<text x="614.4" y="1072.0" font-size="17.6" text-anchor="start">P=.0004</text>
<line x1="626.4" y1="1075.3" x2="666.5" y2="1075.3" stroke="#000" stroke-width="1.9" stroke-linecap="butt"/>
<text x="656.5" y="1089.3" font-size="17.6" text-anchor="start">P=.0064</text>
<line x1="665.7" y1="1093.0" x2="703.4" y2="1093.0" stroke="#000" stroke-width="1.9" stroke-linecap="butt"/>
<text x="520.2" y="1144.3" font-size="23" text-anchor="middle" transform="rotate(-90 520.2 1144.3)">3-NT/GAPDH</text>
<text x="569.0" y="1248.0" font-size="19.7" text-anchor="end">AAV-Ctrl</text>
<text x="569.0" y="1267.1" font-size="19.7" text-anchor="end">AAV-sh-FYN</text>
<text x="569.0" y="1285.9" font-size="19.7" text-anchor="end">AAV-FGF18</text>
<text x="569.0" y="1304.6" font-size="19.7" text-anchor="end">TAC</text>
<text x="589.4" y="1253.2" font-size="28" text-anchor="middle" stroke="#000" stroke-width="0.75">+</text>
<text x="627.0" y="1253.2" font-size="28" text-anchor="middle" stroke="#000" stroke-width="0.75">+</text>
<text x="664.6" y="1253.2" font-size="28" text-anchor="middle" stroke="#000" stroke-width="0.75">−</text>
<text x="702.2" y="1253.2" font-size="28" text-anchor="middle" stroke="#000" stroke-width="0.75">−</text>
<text x="589.4" y="1270.3" font-size="28" text-anchor="middle" stroke="#000" stroke-width="0.75">−</text>
<text x="627.0" y="1270.3" font-size="28" text-anchor="middle" stroke="#000" stroke-width="0.75">−</text>
<text x="664.6" y="1270.3" font-size="28" text-anchor="middle" stroke="#000" stroke-width="0.75">−</text>
<text x="702.2" y="1270.3" font-size="28" text-anchor="middle" stroke="#000" stroke-width="0.75">+</text>
<text x="589.4" y="1289.3" font-size="28" text-anchor="middle" stroke="#000" stroke-width="0.75">−</text>
<text x="627.0" y="1289.3" font-size="28" text-anchor="middle" stroke="#000" stroke-width="0.75">−</text>
<text x="664.6" y="1289.3" font-size="28" text-anchor="middle" stroke="#000" stroke-width="0.75">+</text>
<text x="702.2" y="1289.3" font-size="28" text-anchor="middle" stroke="#000" stroke-width="0.75">+</text>
<text x="589.4" y="1307.3" font-size="28" text-anchor="middle" stroke="#000" stroke-width="0.75">−</text>
<text x="627.0" y="1307.3" font-size="28" text-anchor="middle" stroke="#000" stroke-width="0.75">+</text>
<text x="664.6" y="1307.3" font-size="28" text-anchor="middle" stroke="#000" stroke-width="0.75">+</text>
<text x="702.2" y="1307.3" font-size="28" text-anchor="middle" stroke="#000" stroke-width="0.75">+</text>
<text x="799.0" y="1062.0" font-size="41" text-anchor="start">j</text>
<rect x="925.6" y="1157.5" width="22.6" height="67.0" fill="#f94444" stroke="#000" stroke-width="2.4"/>
<line x1="936.9" y1="1147.0" x2="936.9" y2="1165.5" stroke="#000" stroke-width="2" stroke-linecap="butt"/>
<line x1="930.9" y1="1147.0" x2="942.9" y2="1147.0" stroke="#000" stroke-width="2" stroke-linecap="butt"/>
<line x1="930.9" y1="1165.5" x2="942.9" y2="1165.5" stroke="#000" stroke-width="2" stroke-linecap="butt"/>
<circle cx="927.9" cy="1150.7" r="2.6" fill="#000"/>
<circle cx="936.9" cy="1144.8" r="2.6" fill="#000"/>
<circle cx="945.9" cy="1149.2" r="2.6" fill="#000"/>
<circle cx="936.9" cy="1157.2" r="2.6" fill="#000"/>
<rect x="963.2" y="1094.6" width="22.6" height="129.9" fill="#0000ff" stroke="#000" stroke-width="2.4"/>
<line x1="974.5" y1="1079.0" x2="974.5" y2="1108.2" stroke="#000" stroke-width="2" stroke-linecap="butt"/>
<line x1="968.5" y1="1079.0" x2="980.5" y2="1079.0" stroke="#000" stroke-width="2" stroke-linecap="butt"/>
<line x1="968.5" y1="1108.2" x2="980.5" y2="1108.2" stroke="#000" stroke-width="2" stroke-linecap="butt"/>
<circle cx="965.5" cy="1084.8" r="2.6" fill="#000"/>
<circle cx="974.5" cy="1075.5" r="2.6" fill="#000"/>
<circle cx="983.5" cy="1082.5" r="2.6" fill="#000"/>
<circle cx="974.5" cy="1095.1" r="2.6" fill="#000"/>
<rect x="1000.8" y="1144.2" width="22.6" height="80.3" fill="#ffff00" stroke="#000" stroke-width="2.4"/>
<line x1="1012.1" y1="1135.0" x2="1012.1" y2="1151.0" stroke="#000" stroke-width="2" stroke-linecap="butt"/>
<line x1="1006.1" y1="1135.0" x2="1018.1" y2="1135.0" stroke="#000" stroke-width="2" stroke-linecap="butt"/>
<line x1="1006.1" y1="1151.0" x2="1018.1" y2="1151.0" stroke="#000" stroke-width="2" stroke-linecap="butt"/>
<circle cx="1003.1" cy="1138.2" r="2.6" fill="#000"/>
<circle cx="1012.1" cy="1133.1" r="2.6" fill="#000"/>
<circle cx="1021.1" cy="1136.9" r="2.6" fill="#000"/>
<circle cx="1012.1" cy="1143.8" r="2.6" fill="#000"/>
<rect x="1038.4" y="1107.4" width="22.6" height="117.1" fill="#aa0ee6" stroke="#000" stroke-width="2.4"/>
<line x1="1049.7" y1="1090.0" x2="1049.7" y2="1122.2" stroke="#000" stroke-width="2" stroke-linecap="butt"/>
<line x1="1043.7" y1="1090.0" x2="1055.7" y2="1090.0" stroke="#000" stroke-width="2" stroke-linecap="butt"/>
<line x1="1043.7" y1="1122.2" x2="1055.7" y2="1122.2" stroke="#000" stroke-width="2" stroke-linecap="butt"/>
<circle cx="1040.7" cy="1096.4" r="2.6" fill="#000"/>
<circle cx="1049.7" cy="1086.1" r="2.6" fill="#000"/>
<circle cx="1058.7" cy="1093.9" r="2.6" fill="#000"/>
<circle cx="1049.7" cy="1107.7" r="2.6" fill="#000"/>
<line x1="919.0" y1="1051.9" x2="919.0" y2="1225.9" stroke="#000" stroke-width="2.8" stroke-linecap="butt"/>
<line x1="911.0" y1="1224.5" x2="1071.5" y2="1224.5" stroke="#000" stroke-width="2.8" stroke-linecap="butt"/>
<line x1="911.0" y1="1053.3" x2="919.0" y2="1053.3" stroke="#000" stroke-width="2.8" stroke-linecap="butt"/>
<text x="905.0" y="1061.9" font-size="24" text-anchor="end">250</text>
<line x1="911.0" y1="1087.5" x2="919.0" y2="1087.5" stroke="#000" stroke-width="2.8" stroke-linecap="butt"/>
<text x="905.0" y="1096.1" font-size="24" text-anchor="end">200</text>
<line x1="911.0" y1="1121.8" x2="919.0" y2="1121.8" stroke="#000" stroke-width="2.8" stroke-linecap="butt"/>
<text x="905.0" y="1130.4" font-size="24" text-anchor="end">150</text>
<line x1="911.0" y1="1156.0" x2="919.0" y2="1156.0" stroke="#000" stroke-width="2.8" stroke-linecap="butt"/>
<text x="905.0" y="1164.6" font-size="24" text-anchor="end">100</text>
<line x1="911.0" y1="1190.3" x2="919.0" y2="1190.3" stroke="#000" stroke-width="2.8" stroke-linecap="butt"/>
<text x="905.0" y="1198.9" font-size="24" text-anchor="end">50</text>
<line x1="911.0" y1="1224.5" x2="919.0" y2="1224.5" stroke="#000" stroke-width="2.8" stroke-linecap="butt"/>
<text x="905.0" y="1233.1" font-size="24" text-anchor="end">0</text>
<text x="923.0" y="1050.9" font-size="17.6" text-anchor="start">P=.0004</text>
<line x1="929.0" y1="1054.0" x2="969.2" y2="1054.0" stroke="#000" stroke-width="1.9" stroke-linecap="butt"/>
<text x="968.4" y="1066.9" font-size="17.6" text-anchor="start">P=.0012</text>
<line x1="975.3" y1="1070.0" x2="1015.4" y2="1070.0" stroke="#000" stroke-width="1.9" stroke-linecap="butt"/>
<text x="1007.3" y="1083.3" font-size="17.6" text-anchor="start">P=.0064</text>
<line x1="1014.6" y1="1087.0" x2="1051.4" y2="1087.0" stroke="#000" stroke-width="1.9" stroke-linecap="butt"/>
<text x="856.2" y="1136.3" font-size="23" text-anchor="middle" transform="rotate(-90 856.2 1136.3)">Rel. FLDCFH-DA</text>
<text x="916.5" y="1248.0" font-size="19.7" text-anchor="end">AAV-Ctrl</text>
<text x="916.5" y="1267.1" font-size="19.7" text-anchor="end">AAV-sh-FYN</text>
<text x="916.5" y="1285.9" font-size="19.7" text-anchor="end">AAV-FGF18</text>
<text x="916.5" y="1304.6" font-size="19.7" text-anchor="end">TAC</text>
<text x="936.9" y="1253.2" font-size="28" text-anchor="middle" stroke="#000" stroke-width="0.75">+</text>
<text x="974.5" y="1253.2" font-size="28" text-anchor="middle" stroke="#000" stroke-width="0.75">+</text>
<text x="1012.1" y="1253.2" font-size="28" text-anchor="middle" stroke="#000" stroke-width="0.75">−</text>
<text x="1049.7" y="1253.2" font-size="28" text-anchor="middle" stroke="#000" stroke-width="0.75">−</text>
<text x="936.9" y="1270.3" font-size="28" text-anchor="middle" stroke="#000" stroke-width="0.75">−</text>
<text x="974.5" y="1270.3" font-size="28" text-anchor="middle" stroke="#000" stroke-width="0.75">−</text>
<text x="1012.1" y="1270.3" font-size="28" text-anchor="middle" stroke="#000" stroke-width="0.75">−</text>
<text x="1049.7" y="1270.3" font-size="28" text-anchor="middle" stroke="#000" stroke-width="0.75">+</text>
<text x="936.9" y="1289.3" font-size="28" text-anchor="middle" stroke="#000" stroke-width="0.75">−</text>
<text x="974.5" y="1289.3" font-size="28" text-anchor="middle" stroke="#000" stroke-width="0.75">−</text>
<text x="1012.1" y="1289.3" font-size="28" text-anchor="middle" stroke="#000" stroke-width="0.75">+</text>
<text x="1049.7" y="1289.3" font-size="28" text-anchor="middle" stroke="#000" stroke-width="0.75">+</text>
<text x="936.9" y="1307.3" font-size="28" text-anchor="middle" stroke="#000" stroke-width="0.75">−</text>
<text x="974.5" y="1307.3" font-size="28" text-anchor="middle" stroke="#000" stroke-width="0.75">+</text>
<text x="1012.1" y="1307.3" font-size="28" text-anchor="middle" stroke="#000" stroke-width="0.75">+</text>
<text x="1049.7" y="1307.3" font-size="28" text-anchor="middle" stroke="#000" stroke-width="0.75">+</text>
<rect x="578.1" y="1394.2" width="22.6" height="112.3" fill="#f94444" stroke="#000" stroke-width="2.4"/>
<line x1="589.4" y1="1385.0" x2="589.4" y2="1400.2" stroke="#000" stroke-width="2" stroke-linecap="butt"/>
<line x1="583.4" y1="1385.0" x2="595.4" y2="1385.0" stroke="#000" stroke-width="2" stroke-linecap="butt"/>
<line x1="583.4" y1="1400.2" x2="595.4" y2="1400.2" stroke="#000" stroke-width="2" stroke-linecap="butt"/>
<circle cx="580.4" cy="1388.0" r="2.6" fill="#000"/>
<circle cx="589.4" cy="1383.2" r="2.6" fill="#000"/>
<circle cx="598.4" cy="1386.8" r="2.6" fill="#000"/>
<circle cx="589.4" cy="1393.4" r="2.6" fill="#000"/>
<circle cx="597.4" cy="1399.0" r="2.6" fill="#000"/>
<rect x="615.7" y="1463.6" width="22.6" height="42.9" fill="#0000ff" stroke="#000" stroke-width="2.4"/>
<line x1="627.0" y1="1450.4" x2="627.0" y2="1474.4" stroke="#000" stroke-width="2" stroke-linecap="butt"/>
<line x1="621.0" y1="1450.4" x2="633.0" y2="1450.4" stroke="#000" stroke-width="2" stroke-linecap="butt"/>
<line x1="621.0" y1="1474.4" x2="633.0" y2="1474.4" stroke="#000" stroke-width="2" stroke-linecap="butt"/>
<circle cx="618.0" cy="1455.2" r="2.6" fill="#000"/>
<circle cx="627.0" cy="1447.5" r="2.6" fill="#000"/>
<circle cx="636.0" cy="1453.3" r="2.6" fill="#000"/>
<circle cx="627.0" cy="1463.6" r="2.6" fill="#000"/>
<circle cx="635.0" cy="1472.5" r="2.6" fill="#000"/>
<rect x="653.3" y="1421.5" width="22.6" height="85.0" fill="#ffff00" stroke="#000" stroke-width="2.4"/>
<line x1="664.6" y1="1408.3" x2="664.6" y2="1431.5" stroke="#000" stroke-width="2" stroke-linecap="butt"/>
<line x1="658.6" y1="1408.3" x2="670.6" y2="1408.3" stroke="#000" stroke-width="2" stroke-linecap="butt"/>
<line x1="658.6" y1="1431.5" x2="670.6" y2="1431.5" stroke="#000" stroke-width="2" stroke-linecap="butt"/>
<circle cx="655.6" cy="1412.9" r="2.6" fill="#000"/>
<circle cx="664.6" cy="1405.5" r="2.6" fill="#000"/>
<circle cx="673.6" cy="1411.1" r="2.6" fill="#000"/>
<circle cx="664.6" cy="1421.1" r="2.6" fill="#000"/>
<circle cx="672.6" cy="1429.6" r="2.6" fill="#000"/>
<rect x="690.9" y="1494.9" width="22.6" height="11.6" fill="#aa0ee6" stroke="#000" stroke-width="2.4"/>
<line x1="702.2" y1="1488.5" x2="702.2" y2="1499.3" stroke="#000" stroke-width="2" stroke-linecap="butt"/>
<line x1="696.2" y1="1488.5" x2="708.2" y2="1488.5" stroke="#000" stroke-width="2" stroke-linecap="butt"/>
<line x1="696.2" y1="1499.3" x2="708.2" y2="1499.3" stroke="#000" stroke-width="2" stroke-linecap="butt"/>
<circle cx="693.2" cy="1490.7" r="2.6" fill="#000"/>
<circle cx="702.2" cy="1487.2" r="2.6" fill="#000"/>
<circle cx="711.2" cy="1489.8" r="2.6" fill="#000"/>
<circle cx="702.2" cy="1494.4" r="2.6" fill="#000"/>
<circle cx="710.2" cy="1498.4" r="2.6" fill="#000"/>
<line x1="571.5" y1="1333.5" x2="571.5" y2="1507.9" stroke="#000" stroke-width="2.8" stroke-linecap="butt"/>
<line x1="563.5" y1="1506.5" x2="723.5" y2="1506.5" stroke="#000" stroke-width="2.8" stroke-linecap="butt"/>
<line x1="563.5" y1="1334.9" x2="571.5" y2="1334.9" stroke="#000" stroke-width="2.8" stroke-linecap="butt"/>
<text x="556.3" y="1343.5" font-size="24" text-anchor="end">1.5</text>
<line x1="563.5" y1="1392.1" x2="571.5" y2="1392.1" stroke="#000" stroke-width="2.8" stroke-linecap="butt"/>
<text x="556.3" y="1400.7" font-size="24" text-anchor="end">1.0</text>
<line x1="563.5" y1="1449.3" x2="571.5" y2="1449.3" stroke="#000" stroke-width="2.8" stroke-linecap="butt"/>
<text x="556.3" y="1457.9" font-size="24" text-anchor="end">0.5</text>
<line x1="563.5" y1="1506.5" x2="571.5" y2="1506.5" stroke="#000" stroke-width="2.8" stroke-linecap="butt"/>
<text x="556.3" y="1515.1" font-size="24" text-anchor="end">0.0</text>
<text x="586.3" y="1360.0" font-size="17.6" text-anchor="start">P&lt;.0001</text>
<line x1="584.3" y1="1363.4" x2="623.2" y2="1363.4" stroke="#000" stroke-width="1.9" stroke-linecap="butt"/>
<text x="622.4" y="1378.2" font-size="17.6" text-anchor="start">P=.0004</text>
<line x1="627.6" y1="1381.4" x2="666.5" y2="1381.4" stroke="#000" stroke-width="1.9" stroke-linecap="butt"/>
<text x="665.3" y="1396.2" font-size="17.6" text-anchor="start">P&lt;.0001</text>
<line x1="666.5" y1="1400.2" x2="704.6" y2="1400.2" stroke="#000" stroke-width="1.9" stroke-linecap="butt"/>
<text x="512.0" y="1420.3" font-size="23" text-anchor="middle" transform="rotate(-90 512.0 1420.3)">p-FYN/FYN</text>
<text x="569.0" y="1532.5" font-size="19.7" text-anchor="end">AAV-Ctrl</text>
<text x="569.0" y="1550.5" font-size="19.7" text-anchor="end">AAV-sh-FYN</text>
<text x="569.0" y="1569.3" font-size="19.7" text-anchor="end">AAV-FGF18</text>
<text x="569.0" y="1587.6" font-size="19.7" text-anchor="end">TAC</text>
<text x="589.4" y="1537.0" font-size="28" text-anchor="middle" stroke="#000" stroke-width="0.75">+</text>
<text x="627.0" y="1537.0" font-size="28" text-anchor="middle" stroke="#000" stroke-width="0.75">+</text>
<text x="664.6" y="1537.0" font-size="28" text-anchor="middle" stroke="#000" stroke-width="0.75">−</text>
<text x="702.2" y="1537.0" font-size="28" text-anchor="middle" stroke="#000" stroke-width="0.75">−</text>
<text x="589.4" y="1554.0" font-size="28" text-anchor="middle" stroke="#000" stroke-width="0.75">−</text>
<text x="627.0" y="1554.0" font-size="28" text-anchor="middle" stroke="#000" stroke-width="0.75">−</text>
<text x="664.6" y="1554.0" font-size="28" text-anchor="middle" stroke="#000" stroke-width="0.75">−</text>
<text x="702.2" y="1554.0" font-size="28" text-anchor="middle" stroke="#000" stroke-width="0.75">+</text>
<text x="589.4" y="1573.0" font-size="28" text-anchor="middle" stroke="#000" stroke-width="0.75">−</text>
<text x="627.0" y="1573.0" font-size="28" text-anchor="middle" stroke="#000" stroke-width="0.75">−</text>
<text x="664.6" y="1573.0" font-size="28" text-anchor="middle" stroke="#000" stroke-width="0.75">+</text>
<text x="702.2" y="1573.0" font-size="28" text-anchor="middle" stroke="#000" stroke-width="0.75">+</text>
<text x="589.4" y="1591.5" font-size="28" text-anchor="middle" stroke="#000" stroke-width="0.75">−</text>
<text x="627.0" y="1591.5" font-size="28" text-anchor="middle" stroke="#000" stroke-width="0.75">+</text>
<text x="664.6" y="1591.5" font-size="28" text-anchor="middle" stroke="#000" stroke-width="0.75">+</text>
<text x="702.2" y="1591.5" font-size="28" text-anchor="middle" stroke="#000" stroke-width="0.75">+</text>
<text x="799.5" y="1347.3" font-size="41" text-anchor="start">k</text>
<rect x="925.6" y="1439.5" width="22.6" height="67.0" fill="#f94444" stroke="#000" stroke-width="2.4"/>
<line x1="936.9" y1="1424.3" x2="936.9" y2="1452.4" stroke="#000" stroke-width="2" stroke-linecap="butt"/>
<line x1="930.9" y1="1424.3" x2="942.9" y2="1424.3" stroke="#000" stroke-width="2" stroke-linecap="butt"/>
<line x1="930.9" y1="1452.4" x2="942.9" y2="1452.4" stroke="#000" stroke-width="2" stroke-linecap="butt"/>
<circle cx="927.9" cy="1429.9" r="2.6" fill="#000"/>
<circle cx="936.9" cy="1420.9" r="2.6" fill="#000"/>
<circle cx="945.9" cy="1427.7" r="2.6" fill="#000"/>
<circle cx="936.9" cy="1439.8" r="2.6" fill="#000"/>
<circle cx="944.9" cy="1450.2" r="2.6" fill="#000"/>
<rect x="963.2" y="1373.4" width="22.6" height="133.1" fill="#0000ff" stroke="#000" stroke-width="2.4"/>
<line x1="974.5" y1="1363.0" x2="974.5" y2="1383.0" stroke="#000" stroke-width="2" stroke-linecap="butt"/>
<line x1="968.5" y1="1363.0" x2="980.5" y2="1363.0" stroke="#000" stroke-width="2" stroke-linecap="butt"/>
<line x1="968.5" y1="1383.0" x2="980.5" y2="1383.0" stroke="#000" stroke-width="2" stroke-linecap="butt"/>
<circle cx="965.5" cy="1367.0" r="2.6" fill="#000"/>
<circle cx="974.5" cy="1360.6" r="2.6" fill="#000"/>
<circle cx="983.5" cy="1365.4" r="2.6" fill="#000"/>
<circle cx="974.5" cy="1374.0" r="2.6" fill="#000"/>
<circle cx="982.5" cy="1381.4" r="2.6" fill="#000"/>
<rect x="1000.8" y="1419.5" width="22.6" height="87.0" fill="#ffff00" stroke="#000" stroke-width="2.4"/>
<line x1="1012.1" y1="1407.0" x2="1012.1" y2="1429.5" stroke="#000" stroke-width="2" stroke-linecap="butt"/>
<line x1="1006.1" y1="1407.0" x2="1018.1" y2="1407.0" stroke="#000" stroke-width="2" stroke-linecap="butt"/>
<line x1="1006.1" y1="1429.5" x2="1018.1" y2="1429.5" stroke="#000" stroke-width="2" stroke-linecap="butt"/>
<circle cx="1003.1" cy="1411.5" r="2.6" fill="#000"/>
<circle cx="1012.1" cy="1404.3" r="2.6" fill="#000"/>
<circle cx="1021.1" cy="1409.7" r="2.6" fill="#000"/>
<circle cx="1012.1" cy="1419.4" r="2.6" fill="#000"/>
<circle cx="1020.1" cy="1427.7" r="2.6" fill="#000"/>
<rect x="1038.4" y="1396.2" width="22.6" height="110.3" fill="#aa0ee6" stroke="#000" stroke-width="2.4"/>
<line x1="1049.7" y1="1383.4" x2="1049.7" y2="1407.5" stroke="#000" stroke-width="2" stroke-linecap="butt"/>
<line x1="1043.7" y1="1383.4" x2="1055.7" y2="1383.4" stroke="#000" stroke-width="2" stroke-linecap="butt"/>
<line x1="1043.7" y1="1407.5" x2="1055.7" y2="1407.5" stroke="#000" stroke-width="2" stroke-linecap="butt"/>
<circle cx="1040.7" cy="1388.2" r="2.6" fill="#000"/>
<circle cx="1049.7" cy="1380.5" r="2.6" fill="#000"/>
<circle cx="1058.7" cy="1386.3" r="2.6" fill="#000"/>
<circle cx="1049.7" cy="1396.7" r="2.6" fill="#000"/>
<circle cx="1057.7" cy="1405.6" r="2.6" fill="#000"/>
<line x1="919.0" y1="1333.5" x2="919.0" y2="1507.9" stroke="#000" stroke-width="2.8" stroke-linecap="butt"/>
<line x1="911.0" y1="1506.5" x2="1071.5" y2="1506.5" stroke="#000" stroke-width="2.8" stroke-linecap="butt"/>
<line x1="911.0" y1="1334.9" x2="919.0" y2="1334.9" stroke="#000" stroke-width="2.8" stroke-linecap="butt"/>
<text x="905.0" y="1343.5" font-size="24" text-anchor="end">2.5</text>
<line x1="911.0" y1="1369.2" x2="919.0" y2="1369.2" stroke="#000" stroke-width="2.8" stroke-linecap="butt"/>
<text x="905.0" y="1377.8" font-size="24" text-anchor="end">2.0</text>
<line x1="911.0" y1="1403.5" x2="919.0" y2="1403.5" stroke="#000" stroke-width="2.8" stroke-linecap="butt"/>
<text x="905.0" y="1412.1" font-size="24" text-anchor="end">1.5</text>
<line x1="911.0" y1="1437.9" x2="919.0" y2="1437.9" stroke="#000" stroke-width="2.8" stroke-linecap="butt"/>
<text x="905.0" y="1446.5" font-size="24" text-anchor="end">1.0</text>
<line x1="911.0" y1="1472.2" x2="919.0" y2="1472.2" stroke="#000" stroke-width="2.8" stroke-linecap="butt"/>
<text x="905.0" y="1480.8" font-size="24" text-anchor="end">0.5</text>
<line x1="911.0" y1="1506.5" x2="919.0" y2="1506.5" stroke="#000" stroke-width="2.8" stroke-linecap="butt"/>
<text x="905.0" y="1515.1" font-size="24" text-anchor="end">0.0</text>
<text x="922.3" y="1334.0" font-size="17.6" text-anchor="start">P&lt;.0001</text>
<line x1="929.0" y1="1338.0" x2="969.2" y2="1338.0" stroke="#000" stroke-width="1.9" stroke-linecap="butt"/>
<text x="964.4" y="1352.0" font-size="17.6" text-anchor="start">P=.0001</text>
<line x1="973.3" y1="1355.0" x2="1015.4" y2="1355.0" stroke="#000" stroke-width="1.9" stroke-linecap="butt"/>
<text x="1012.0" y="1369.0" font-size="17.6" text-anchor="start">P=.0133</text>
<line x1="1014.6" y1="1372.2" x2="1052.6" y2="1372.2" stroke="#000" stroke-width="1.9" stroke-linecap="butt"/>
<text x="830.9" y="1414.3" font-size="23" text-anchor="middle" transform="rotate(-90 830.9 1414.3)">Rel. H<tspan font-size="14" dy="7">2</tspan><tspan dy="-7">O</tspan><tspan font-size="14" dy="7">2</tspan></text>
<text x="861.0" y="1419.3" font-size="23" text-anchor="middle" transform="rotate(-90 861.0 1419.3)">production</text>
<text x="916.5" y="1532.5" font-size="19.7" text-anchor="end">AAV-Ctrl</text>
<text x="916.5" y="1550.5" font-size="19.7" text-anchor="end">AAV-sh-FYN</text>
<text x="916.5" y="1569.3" font-size="19.7" text-anchor="end">AAV-FGF18</text>
<text x="916.5" y="1587.6" font-size="19.7" text-anchor="end">TAC</text>
<text x="936.9" y="1537.0" font-size="28" text-anchor="middle" stroke="#000" stroke-width="0.75">+</text>
<text x="974.5" y="1537.0" font-size="28" text-anchor="middle" stroke="#000" stroke-width="0.75">+</text>
<text x="1012.1" y="1537.0" font-size="28" text-anchor="middle" stroke="#000" stroke-width="0.75">−</text>
<text x="1049.7" y="1537.0" font-size="28" text-anchor="middle" stroke="#000" stroke-width="0.75">−</text>
<text x="936.9" y="1554.0" font-size="28" text-anchor="middle" stroke="#000" stroke-width="0.75">−</text>
<text x="974.5" y="1554.0" font-size="28" text-anchor="middle" stroke="#000" stroke-width="0.75">−</text>
<text x="1012.1" y="1554.0" font-size="28" text-anchor="middle" stroke="#000" stroke-width="0.75">−</text>
<text x="1049.7" y="1554.0" font-size="28" text-anchor="middle" stroke="#000" stroke-width="0.75">+</text>
<text x="936.9" y="1573.0" font-size="28" text-anchor="middle" stroke="#000" stroke-width="0.75">−</text>
<text x="974.5" y="1573.0" font-size="28" text-anchor="middle" stroke="#000" stroke-width="0.75">−</text>
<text x="1012.1" y="1573.0" font-size="28" text-anchor="middle" stroke="#000" stroke-width="0.75">+</text>
<text x="1049.7" y="1573.0" font-size="28" text-anchor="middle" stroke="#000" stroke-width="0.75">+</text>
<text x="936.9" y="1591.5" font-size="28" text-anchor="middle" stroke="#000" stroke-width="0.75">−</text>
<text x="974.5" y="1591.5" font-size="28" text-anchor="middle" stroke="#000" stroke-width="0.75">+</text>
<text x="1012.1" y="1591.5" font-size="28" text-anchor="middle" stroke="#000" stroke-width="0.75">+</text>
<text x="1049.7" y="1591.5" font-size="28" text-anchor="middle" stroke="#000" stroke-width="0.75">+</text>
<text x="61.5" y="1152.9" font-size="41" text-anchor="start">i</text>
<text x="143.6" y="1057.0" font-size="25.4" text-anchor="end">AAV-Ctrl</text>
<text x="143.6" y="1082.8" font-size="25.4" text-anchor="end">AAV-sh-FYN</text>
<text x="143.6" y="1109.8" font-size="25.4" text-anchor="end">AAV-FGF18</text>
<text x="143.6" y="1140.3" font-size="25.4" text-anchor="end">TAC</text>
<text x="179.5" y="1062.6" font-size="41" text-anchor="middle" stroke="#000" stroke-width="0.9">+</text>
<text x="232.7" y="1062.6" font-size="41" text-anchor="middle" stroke="#000" stroke-width="0.9">+</text>
<text x="282.6" y="1062.6" font-size="41" text-anchor="middle" stroke="#000" stroke-width="1.5">−</text>
<text x="328.5" y="1062.6" font-size="41" text-anchor="middle" stroke="#000" stroke-width="1.5">−</text>
<text x="179.5" y="1087.8" font-size="41" text-anchor="middle" stroke="#000" stroke-width="1.5">−</text>
<text x="232.7" y="1087.8" font-size="41" text-anchor="middle" stroke="#000" stroke-width="1.5">−</text>
<text x="282.6" y="1087.8" font-size="41" text-anchor="middle" stroke="#000" stroke-width="1.5">−</text>
<text x="328.5" y="1087.8" font-size="41" text-anchor="middle" stroke="#000" stroke-width="0.9">+</text>
<text x="179.5" y="1117.6" font-size="41" text-anchor="middle" stroke="#000" stroke-width="1.5">−</text>
<text x="232.7" y="1117.6" font-size="41" text-anchor="middle" stroke="#000" stroke-width="1.5">−</text>
<text x="282.6" y="1117.6" font-size="41" text-anchor="middle" stroke="#000" stroke-width="0.9">+</text>
<text x="328.5" y="1117.6" font-size="41" text-anchor="middle" stroke="#000" stroke-width="0.9">+</text>
<text x="179.5" y="1146.9" font-size="41" text-anchor="middle" stroke="#000" stroke-width="1.5">−</text>
<text x="232.7" y="1146.9" font-size="41" text-anchor="middle" stroke="#000" stroke-width="0.9">+</text>
<text x="282.6" y="1146.9" font-size="41" text-anchor="middle" stroke="#000" stroke-width="0.9">+</text>
<text x="328.5" y="1146.9" font-size="41" text-anchor="middle" stroke="#000" stroke-width="0.9">+</text>
<text x="366.0" y="1139.2" font-size="21" text-anchor="start">kDa</text>
<clipPath id="ci1"><rect x="147.2" y="1148.0" width="216.5" height="260.6"/></clipPath>
<rect x="147.2" y="1148.0" width="216.5" height="260.6" fill="url(#gbig)"/>
<g clip-path="url(#ci1)">
<ellipse cx="236.0" cy="1199.0" rx="24.0" ry="17.0" fill="#000" opacity="0.6" filter="url(#b3)"/>
<ellipse cx="328.0" cy="1200.0" rx="22.0" ry="15.0" fill="#000" opacity="0.32" filter="url(#b3)"/>
<ellipse cx="188.0" cy="1200.0" rx="22.0" ry="15.0" fill="#000" opacity="0.12" filter="url(#b6)"/>
<ellipse cx="236.0" cy="1250.0" rx="25.0" ry="55.0" fill="#000" opacity="0.22" filter="url(#b6)"/>
<ellipse cx="328.0" cy="1255.0" rx="23.0" ry="55.0" fill="#000" opacity="0.14" filter="url(#b6)"/>
<ellipse cx="188.0" cy="1250.0" rx="22.0" ry="30.0" fill="#000" opacity="0.08" filter="url(#b6)"/>
<ellipse cx="282.0" cy="1250.0" rx="22.0" ry="30.0" fill="#000" opacity="0.06" filter="url(#b6)"/>
<rect x="168.0" y="1203.5" width="40.0" height="9.0" rx="4.5" fill="#000" opacity="1" filter="url(#b2)"/>
<rect x="213.0" y="1201.0" width="46.0" height="14.0" rx="7.0" fill="#000" opacity="1" filter="url(#b2)"/>
<rect x="263.0" y="1204.8" width="38.0" height="7.5" rx="3.8" fill="#000" opacity="0.95" filter="url(#b2)"/>
<rect x="306.0" y="1202.5" width="44.0" height="11.0" rx="5.5" fill="#000" opacity="1" filter="url(#b2)"/>
<rect x="171.0" y="1205.5" width="34.0" height="5.0" rx="2.5" fill="#000" opacity="1" filter="url(#b1)"/>
<rect x="216.0" y="1203.5" width="40.0" height="9.0" rx="4.5" fill="#000" opacity="1" filter="url(#b1)"/>
<rect x="309.0" y="1205.0" width="38.0" height="6.0" rx="3.0" fill="#000" opacity="1" filter="url(#b1)"/>
<ellipse cx="188.0" cy="1248.0" rx="19.0" ry="4.0" fill="#000" opacity="0.12" filter="url(#b3)"/>
<ellipse cx="236.0" cy="1247.0" rx="21.0" ry="4.5" fill="#000" opacity="0.3" filter="url(#b3)"/>
<ellipse cx="282.0" cy="1248.0" rx="19.0" ry="4.0" fill="#000" opacity="0.08" filter="url(#b3)"/>
<ellipse cx="328.0" cy="1248.0" rx="21.0" ry="4.0" fill="#000" opacity="0.18" filter="url(#b3)"/>
<ellipse cx="236.0" cy="1281.0" rx="20.0" ry="3.0" fill="#000" opacity="0.35" filter="url(#b3)"/>
<ellipse cx="328.0" cy="1281.0" rx="20.0" ry="2.5" fill="#000" opacity="0.22" filter="url(#b3)"/>
<ellipse cx="188.0" cy="1281.0" rx="18.0" ry="2.5" fill="#000" opacity="0.06" filter="url(#b3)"/>
<ellipse cx="188.0" cy="1305.5" rx="19.0" ry="3.0" fill="#000" opacity="0.35" filter="url(#b3)"/>
<ellipse cx="236.0" cy="1305.5" rx="22.0" ry="4.0" fill="#000" opacity="0.5" filter="url(#b3)"/>
<ellipse cx="282.0" cy="1305.5" rx="19.0" ry="3.0" fill="#000" opacity="0.35" filter="url(#b3)"/>
<ellipse cx="328.0" cy="1305.5" rx="21.0" ry="3.8" fill="#000" opacity="0.45" filter="url(#b3)"/>
</g>
<rect x="147.2" y="1148.0" width="216.5" height="260.6" fill="none" stroke="#111" stroke-width="1.6"/>
<clipPath id="ci2"><rect x="147.2" y="1417.3" width="217.4" height="38.8"/></clipPath>
<rect x="147.2" y="1417.3" width="217.4" height="38.8" fill="#c6cbd5"/>
<g clip-path="url(#ci2)">
<ellipse cx="195.0" cy="1440.0" rx="18.0" ry="28.0" fill="#000" opacity="0.34" filter="url(#b6)"/>
<ellipse cx="283.0" cy="1440.0" rx="17.0" ry="28.0" fill="#000" opacity="0.26" filter="url(#b6)"/>
<ellipse cx="195.0" cy="1428.0" rx="16.0" ry="6.0" fill="#000" opacity="0.4" filter="url(#b3)"/>
<ellipse cx="283.0" cy="1429.0" rx="15.0" ry="5.5" fill="#000" opacity="0.28" filter="url(#b3)"/>
</g>
<rect x="147.2" y="1417.3" width="217.4" height="38.8" fill="none" stroke="#111" stroke-width="1.3"/>
<clipPath id="ci3"><rect x="147.2" y="1466.8" width="217.4" height="38.1"/></clipPath>
<rect x="147.2" y="1466.8" width="217.4" height="38.1" fill="#cad1db"/>
<g clip-path="url(#ci3)">
<ellipse cx="184.0" cy="1480.0" rx="22.0" ry="15.0" fill="#000" opacity="0.12" filter="url(#b6)"/>
<ellipse cx="279.0" cy="1480.0" rx="22.0" ry="15.0" fill="#000" opacity="0.14" filter="url(#b6)"/>
<rect x="163.0" y="1485.3" width="42.0" height="7.5" rx="3.8" fill="#000" opacity="1" filter="url(#b2)"/>
<rect x="214.4" y="1485.8" width="34.0" height="5.5" rx="2.8" fill="#000" opacity="0.5" filter="url(#b2)"/>
<rect x="258.8" y="1485.1" width="40.0" height="8.0" rx="4.0" fill="#000" opacity="1" filter="url(#b2)"/>
<rect x="310.0" y="1487.1" width="38.0" height="5.0" rx="2.5" fill="#000" opacity="0.35" filter="url(#b2)"/>
<rect x="166.5" y="1487.5" width="35.0" height="3.2" rx="1.6" fill="#000" opacity="0.9" filter="url(#b1)"/>
<rect x="261.8" y="1487.1" width="34.0" height="4.0" rx="2.0" fill="#000" opacity="1" filter="url(#b1)"/>
</g>
<rect x="147.2" y="1466.8" width="217.4" height="38.1" fill="none" stroke="#111" stroke-width="1.3"/>
<clipPath id="ci4"><rect x="147.2" y="1509.0" width="217.4" height="38.1"/></clipPath>
<rect x="147.2" y="1509.0" width="217.4" height="38.1" fill="#bfc5d0"/>
<g clip-path="url(#ci4)">
<rect x="259.1" y="1522.8" width="38.0" height="7.5" rx="3.8" fill="#000" opacity="1" filter="url(#b2)"/>
<rect x="309.5" y="1522.8" width="37.0" height="7.5" rx="3.8" fill="#000" opacity="1" filter="url(#b2)"/>
<rect x="261.6" y="1524.4" width="33.0" height="4.2" rx="2.1" fill="#000" opacity="1" filter="url(#b1)"/>
<rect x="312.0" y="1524.4" width="32.0" height="4.2" rx="2.1" fill="#000" opacity="1" filter="url(#b1)"/>
<rect x="258.1" y="1531.8" width="40.0" height="10.0" rx="5.0" fill="#000" opacity="0.75" filter="url(#b2)"/>
<rect x="309.0" y="1531.8" width="38.0" height="10.0" rx="5.0" fill="#000" opacity="0.65" filter="url(#b2)"/>
<rect x="159.8" y="1533.0" width="36.0" height="7.0" rx="3.5" fill="#000" opacity="0.2" filter="url(#b2)"/>
<rect x="210.3" y="1533.5" width="34.0" height="6.0" rx="3.0" fill="#000" opacity="0.17" filter="url(#b2)"/>
</g>
<rect x="147.2" y="1509.0" width="217.4" height="38.1" fill="none" stroke="#111" stroke-width="1.3"/>
<clipPath id="ci5"><rect x="147.2" y="1551.4" width="217.4" height="38.2"/></clipPath>
<rect x="147.2" y="1551.4" width="217.4" height="38.2" fill="#cad1db"/>
<g clip-path="url(#ci5)">
<rect x="160.0" y="1567.3" width="41.0" height="8.5" rx="4.2" fill="#000" opacity="1" filter="url(#b2)"/>
<rect x="163.0" y="1569.2" width="35.0" height="4.8" rx="2.4" fill="#000" opacity="1" filter="url(#b1)"/>
<rect x="207.5" y="1567.3" width="41.0" height="8.5" rx="4.2" fill="#000" opacity="1" filter="url(#b2)"/>
<rect x="210.5" y="1569.2" width="35.0" height="4.8" rx="2.4" fill="#000" opacity="1" filter="url(#b1)"/>
<rect x="255.9" y="1567.3" width="41.0" height="8.5" rx="4.2" fill="#000" opacity="1" filter="url(#b2)"/>
<rect x="258.9" y="1569.2" width="35.0" height="4.8" rx="2.4" fill="#000" opacity="1" filter="url(#b1)"/>
<rect x="306.1" y="1567.3" width="41.0" height="8.5" rx="4.2" fill="#000" opacity="1" filter="url(#b2)"/>
<rect x="309.1" y="1569.2" width="35.0" height="4.8" rx="2.4" fill="#000" opacity="1" filter="url(#b1)"/>
</g>
<rect x="147.2" y="1551.4" width="217.4" height="38.2" fill="none" stroke="#111" stroke-width="1.3"/>
<line x1="367.2" y1="1467.0" x2="367.2" y2="1591.0" stroke="#111" stroke-width="1.2" stroke-linecap="butt"/>
<text x="373.5" y="1528.0" font-size="20" text-anchor="middle" transform="rotate(90 373.5 1528.0)">Input</text>
<text x="418.5" y="1441.9" font-size="20" text-anchor="end"><tspan font-size="16">–</tspan>59</text>
<text x="418.5" y="1491.0" font-size="20" text-anchor="end"><tspan font-size="16">–</tspan>59</text>
<text x="418.5" y="1537.8" font-size="20" text-anchor="end"><tspan font-size="16">–</tspan>23</text>
<text x="418.5" y="1578.3" font-size="20" text-anchor="end"><tspan font-size="16">–</tspan>37</text>
<text x="85.0" y="1264.2" font-size="22.8" text-anchor="start">3-NT</text>
<text x="137.5" y="1434.7" font-size="24.6" text-anchor="end">p-FYN</text>
<text x="137.5" y="1454.5" font-size="17.8" text-anchor="end">IP: FYN IB:pSrc</text>
<text x="136.5" y="1492.2" font-size="24.6" text-anchor="end">FYN</text>
<text x="137.5" y="1534.2" font-size="24.6" text-anchor="end">FGF18</text>
<text x="139.0" y="1578.3" font-size="24.6" text-anchor="end">GAPDH</text>
</svg>
</body></html>
